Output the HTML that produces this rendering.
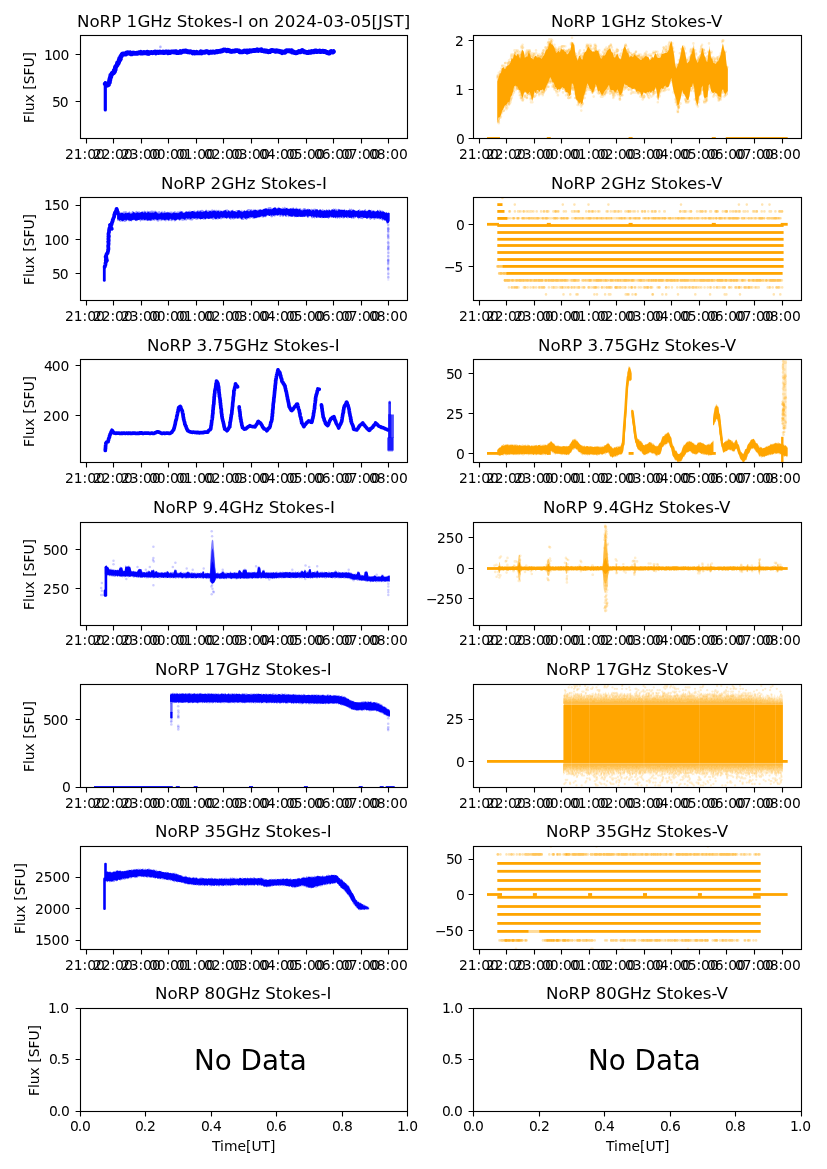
<!DOCTYPE html>
<html lang="en"><head><meta charset="utf-8"><title>NoRP Stokes-I / Stokes-V on 2024-03-05[JST]</title>
<style>
html,body{margin:0;padding:0;background:#fff;}
body{width:827px;height:1169px;overflow:hidden;}
svg{display:block;}
text{font-family:"DejaVu Sans","Liberation Sans",sans-serif;fill:#000;white-space:pre;}
.a{font-size:13.889px;}
.b{font-size:16.667px;}
.c{font-size:27.778px;}
.sp{fill:none;stroke:#000;stroke-width:1.11;stroke-linecap:square;stroke-linejoin:miter;}
.t{stroke:#000;stroke-width:1.11;fill:none;}
</style></head><body>
<svg width="827" height="1169" viewBox="0 0 827 1169">
<rect x="0" y="0" width="827" height="1169" fill="#fff"/>
<g id="p00">
<clipPath id="c00"><rect x="80.5" y="35.5" width="327" height="103"/></clipPath>
<g clip-path="url(#c00)"><path fill="none" stroke="#0000ff" stroke-width="4.8" stroke-linejoin="round" stroke-linecap="round" d="M105.3 83.9l.7 .7 .8 .8 1.6-.7-.2 .1 .4-1.7 .8-.6 .1-.9 .1-1.4 .2 .1 .1-1.1 .5-1.9 .4-.3 0-1.8 .7-.3 .2-.5 .4-.9 .5-.5 .9-.1 1.1-1.6-.3-.8 .9-.7 0-1.2 .2-.8 .1-.8 .5-.5 .5-.8 .7-.8 .3-1.9 .7 .3 .5-1.4 .4-1.4 .5-.3 0-1.6 .8 .5-.1-1.2 .7-1.7 .3 0 .9-1.9 .8-.5 1 0 1.2 .4 .7 0 .9-1.4 1.2-.1 .7 .5 1.3-.4 .6 1 1.1 .1 1.4-.9 .7 .2 1.2 .1 .9 0 1.3-.2 .6 .2 .9-.6 1.5 .3 .7-.7 .9 .7 .7 .1 1.4-.8 1 .5 1.1-.2 1 .6 .5-1 1.5 1.2 .7-.7 1.2-.2 .8 0 1 .3 1-.3 1.3-.5 .9 1 .8-.8 1.3 0 .6 .3 1.3-.5 .8 .3 1.3 .1 1-.4 .7 .6 1.4-.3 .5-.5 1.2 .1 1.2 .9 .6-.8 1.4 .5 1-.5 .5-.1 1.5-.1 .7 .2 1 0 1.4-.4 .3 1.1 1.6 0 .7-.1 1.4-1 .8 .8 1-.6 .7-.3 1-.4 1.2 .2 1.2-.4 1 .8 1 .2 1-.2 .4 .4 1.1-.4 1.3 .5 .9 .8 1.1-.7 .7 .7 1.2-.1 .9-.8 1.1 .8 .8 0 1.5 0 .9-1.2 .9 1.2 .6-.8 1.1 .3 1.1-.1 1.3-.7 .5 .2 1-.1 1.6 1.1 .4-.5 1.2-.3 1 .4 1.1-.4 .8 0 .9 .3 1.4-.3 .6-.5 1.2 .3 1.3-.5 1 .1 .7-.6 1.1 .2 .9-.3 1-.8 1.1 .3 .6-.2 1.3 .8 1.3-.6 1 .7 .6-.3 .9 .7 1.3 .2 1.2-.3 1-.1 .5 .1 1-.6 1.6 0 .5 .1 1.6 .1 .4 1 1.1 .1 1.4 0 1.3-.3 .9-.7 1 .7 .9-.7 1.1 1.1 .5-1 1.3 .6 .8-1 1 .5 1.4-.4 .7-.1 1-.1 .8 0 1.6-.2 .8-.5 1 .7 1-.4 .9 .1 1.2-.5 .5 1 1.5-.1 .7 .5 .8-.5 1 .7 1.1-.3 1.3 .9 .7-.4 1.1 .1 1.1-.9 .7-.4 1.2 .4 .8-.1 1.1 .5 .9 .2 1.2-.6 1 .6 1.2-.1 .8 .6 1.3-.2 .9 1.1 .8-.7 .8 .3 1.3 0 1.1-1.4 .6-.3 1 .2 1.4-.1 .5 .3 .9-.2 1.2-.2 .4 1.4 1-.3 1.1 .8 .5-.1 1.1 .5 .9-.2 1.5-.6 .7-.7 .8 .5 .9-.1 1.5-1.4 1.1 .6 .8 .8 .7 .1 1.3 .4 .7 .2 1.5 .1 .7-.6 .9 .1 1.2 .2 .9-.9 1 .4 .7 .1 1.3-1.1 1.2 .1 .6 .8 1.2-.3 1-.1 .8-.4 .8 .8 1.5-.3 1-.2 .6 .3 1.5-.1 .7 .6 1.2 .4 .7 .4 1.1 .3 .8-.1 .7-1.1 .9-.4 1.4 .6 .8-.5"/><path fill="none" stroke="#0000ff" stroke-width="3.2" stroke-linejoin="round" stroke-linecap="round" d="M105.3 82.5l0 27.5"/><path fill="none" stroke="#0000ff" stroke-width="2.6" stroke-linecap="round" stroke-opacity=".3" stroke-dasharray="0 999" d="M160.4 46.9h.2"/></g>
<path class="t" d="M86.5 138.5v5M113.5 138.5v5M141.5 138.5v5M168.5 138.5v5M196.5 138.5v5M223.5 138.5v5M251.5 138.5v5M278.5 138.5v5M306.5 138.5v5M333.5 138.5v5M361.5 138.5v5M388.5 138.5v5M80.5 54.5h-4.9M80.5 101.5h-4.9"/>
<rect class="sp" x="80.5" y="35.5" width="327" height="103"/>
</g>
<g id="p01">
<clipPath id="c01"><rect x="473.5" y="35.5" width="328" height="103"/></clipPath>
<g clip-path="url(#c01)"><path fill="#ffa500" fill-opacity=".4" d="M497.3 79.4l1.3-1.8 1.3-2.7 1.3-6.1 1.3-.8 1.4-.2 1.3-1.2 1.3 .1 1.3-5.1 1.3-.6 1.3 .1 1.3-1.9 1.3-2.2 1.3-5.5 1.3 .3 1.3 3.1 1.3-2.6 1.3 3.5 1.3-3.5 1.3-4 1.3 3.1 1.3 3.8 1.3-1.8 1.3-.4 1.3-2.6 1.3 1.8 1.3 6 1.3-1 1.3-.3 1.3-1 1.3 .1 1.3-2 1.3 2.1 1.3-.3 1.3-.1 1.3-3.6 1.3 1.4 1.3-4.5 1.3-.9 1.3-4.5 1.3-1.1 1.3-2.9 1.3 .9 1.3 5.3 1.3 1.7 1.3 4.6 1.3-1.8 1.3-2 1.3 1.9 1.3-3.3 1.3 3.1 1.3-1.7 1.3 1.1 1.3 1 1.3-.2 1.3-1.4 1.3 1.5 1.4-7.8 1.3-.4 1.3 1.5 1.3 10.2 1.3 2.3 1.3 3.6 1.3-3.5 1.3-1.1 1.3 2.5 1.3-2.1 1.3-4 1.3 .3 1.3-5.3 1.3-1.9 1.3 4 1.3-.8 1.3 5 1.3-1.4 1.3-4.3 1.3-.6 1.3 4.3 1.3-.6 1.3 4.9 1.3 .8 1.3-.8 1.3-2.7 1.3-.4 1.3-3.7 1.3-.9 1.3-1.6 1.3 4.5 1.3 1.8 1.3 3.2 1.3-1.5 1.3 .7 1.3-1.5 1.3 2.4 1.3 2.9 1.3 0 1.3-4.5 1.3-5.4 1.3-4.2 1.3 4.8 1.3 1.8 1.3 3.1 1.3 1.7 1.3-1.7 1.3 .2 1.3-1.3 1.3 1.3 1.3 1.6 1.3-.8 1.4-.5 1.3 2.1 1.3-.1 1.3 .6 1.3 .1 1.3-1 1.3 .5 1.3 1.9 1.3 .7 1.3-2.3 1.3-.3 1.3 .9 1.3-3.2 1.3 .3 1.3-1.5 1.3 2.7 1.3 .6 1.3-3.3 1.3-3.1 1.3 2.9 1.3-.1 1.3-2 1.3-.6 1.3-4 1.3-2 1.3-2.9 1.3 8.1 1.3 6.1 1.3 11.2 1.3-2.7 1.3 0 1.3-6.4 1.3-6.8 1.3-3.8 1.3 .7 1.3 2.8 1.3 8.5 1.3 4 1.3-.9 1.3-7.1 1.3-3.8 1.3-3.5 1.3-3.5 1.3 9.7 1.3 5.9 1.3-.4 1.3-4 1.3-1.7 1.3-6 1.3 .9 1.3 7.9 1.3 .8 1.4 2.8 1.3-7.6 1.3-6.8 1.3 10.3 1.3 1.2 1.3 4.4 1.3-1.5 1.3 1.4 1.3-2.8 1.3 1.1 1.3-3.9 1.3-3.8 1.3-9.1 1.3 4.8 1.3 3.9 1.3 11.8 1.3 3.6 0 28.4-1.3-1.5-1.3 1.8-1.3-3.9-1.3-1.7-1.3 7.7-1.3 2.8-1.3-2.1-1.3-2.9-1.3-3.6-1.3 2.1-1.3-1.1-1.3-.6-1.3-3.1-1.3-2-1.3 3.3-1.3 10.4-1.4 1.3-1.3-3.1-1.3-8.7-1.3-.2-1.3 4.8-1.3 3.1-1.3 8-1.3-2.7-1.3-2.8-1.3-14.3-1.3 .2-1.3 .5-1.3 5.4-1.3 6.6-1.3 1.5-1.3-2.3-1.3-2.1-1.3-2.7-1.3-2.5-1.3 6.7-1.3 5.4-1.3 7.7-1.3-4.3-1.3-3.7-1.3-10.4-1.3-2.9-1.3-8.7-1.3 .4-1.3 4.2-1.3 2.4-1.3-1-1.3 2.9-1.3-1-1.3 .3-1.3 1.6-1.3 2.7-1.3 3.3-1.3 3.7-1.3-12.1-1.3 1.6-1.3 3.6-1.3-1.1-1.3-.5-1.3 2.5-1.3-.9-1.3 2.2-1.3-2.5-1.3-.3-1.3 .7-1.3 3.6-1.3-2.9-1.3-1.9-1.4 1.1-1.3-1.6-1.3-1.4-1.3-1.5-1.3 .1-1.3-.6-1.3 .1-1.3-1.8-1.3 1.8-1.3-1-1.3-3-1.3 4.1-1.3 5.6-1.3 2.9-1.3 .2-1.3-4.4-1.3 0-1.3-.8-1.3 2.6-1.3-1.1-1.3 .1-1.3-2.3-1.3-1.8-1.3-.1-1.3 1.8-1.3 3.1-1.3 .8-1.3 .6-1.3 .1-1.3-1.8-1.3-.5-1.3-2.9-1.3-4.4-1.3 1.4-1.3 5.1-1.3 1.4-1.3-2.9-1.3-1-1.3-4.8-1.3 .3-1.3 5.9-1.3 4.1-1.3 3.8-1.3 4.2-1.3 1.1-1.3-1.4-1.3 1.6-1.3-4.5-1.3-2.1-1.3-10-1.3-.8-1.3 1.8-1.4 5.5-1.3 1.6-1.3-.2-1.3-3.8-1.3-.4-1.3-2.8-1.3 .6-1.3-1.9-1.3 4.4-1.3-3.2-1.3-.4-1.3 .1-1.3-.1-1.3-2-1.3-5.6-1.3 1.1-1.3-.9-1.3 2.9-1.3 2.5-1.3 .7-1.3 5.7-1.3-.5-1.3 .8-1.3-3.7-1.3 2.2-1.3 .8-1.3 1.2-1.3-2.3-1.3 4.5-1.3 4.8-1.3-2.4-1.3-4.8-1.3 1-1.3 1.1-1.3-2.8-1.3-.7-1.3 3.2-1.3 3.5-1.3-4-1.3-3.2-1.3-2.2-1.3-.5-1.3-2.7-1.3 3.6-1.3 1.8-1.3 2.5-1.3 4.1-1.3 6.7-1.3-2-1.3 2.6-1.3-.5-1.3 1.9-1.4 3.4-1.3 3.6-1.3 5.1-1.3 2.1-1.3 1.2z"/><path fill="#ffa500" d="M497.3 81.5l1.2-3.3 1.2-4.4 1.2-.5 1.2-4.9 1.2-1.6 1.2 2.1 1.2-.3 1.2-2.5 1.2-.7 1.2-1 1.2-1.9 1.2-4.4 1.2 1.2 1.2-5.4 1.2 1.1 1.2 1.2 1.2-2.7 1.2 2.2 1.2 3.1 1.2-6.1 1.2-3 1.2 2 1.2 6.2 1.2-1.4 1.2 .2 1.2-4.1 1.2 .8 1.2 4.4 1.2 .7 1.2 1.1 1.2-2.8 1.2-1.4 1.2 2.1 1.2-.3 1.2 0 1.2 .7 1.2 1.2 1.2-2.6 1.2-1.3 1.2-3.1 1.2-2.6 1.3-.5 1.2-5.1 1.2-1.6 1.2 2 1.2 .5 1.2 1.6 1.2 3.5 1.2 3.1 1.2-.7 1.2-1.6 1.2 1.7 1.2-3.3 1.2 .4 1.2 .2 1.2 1.9 1.2 .3 1.2 2.6 1.2-.8 1.2-2.3 1.2-1.3 1.2-8.5 1.2 1.8 1.2 1.7 1.2 9.8 1.2 2.9 1.2 3 1.2-5 1.2 .4 1.2 3.1 1.2 .1 1.2-5.1 1.2-2.1 1.2-1 1.2-2.9 1.2-1.8 1.2 2.4 1.2 1.3 1.2 1.3 1.2 0 1.2 .2 1.2-1.7 1.2 .8 1.2 .1 1.2 4 1.2 3.4 1.2 .4 1.2-3.1 1.2 .2 1.2-1.1 1.2-2.6 1.2-2.1 1.2-.8 1.2-1.1 1.2 3.8 1.2 .5 1.2 4.7 1.2 .6 1.2-2.2 1.2-2 1.2 3.7 1.2 1.8 1.2 .3 1.2-5.2 1.2-5.4 1.2-2.4 1.2 1.9 1.2 4.2 1.2 .5 1.2 4.6 1.2-1.2 1.2-.1 1.2 1.1 1.2-2.8 1.2 .9 1.2 1 1.2 1.3 1.2 .9 1.2 1.2 1.2 .2 1.2-1.8 1.2 .1 1.2-2.1 1.2 0 1.2 .5 1.2 .6 1.2 3.3 1.2-1.3 1.2-2.2 1.2 1.1 1.2-3.5 1.2-1.5 1.2 4.1 1.2 .8 1.2-.1 1.2-.5 1.2-3.5 1.2-.1 1.2-.3 1.2-.7 1.2 .2 1.2-1.3 1.2-2.4 1.2-6 1.2-2.5 1.2 6.5 1.2 6.3 1.2 10 1.2 5 1.2-2.5 1.2-2.9 1.2-4.5 1.2-5.6 1.2-7.9 1.2 2 1.2 3.6 1.2 5.9 1.2 6.7 1.2-1.3 1.2-1.3 1.2-5.6 1.2-2.1 1.2-5.9 1.2 1.9 1.2 8.5 1.2 3.1 1.2 2.2 1.2-3.6 1.2-2.7 1.2-4.8 1.2-3.8 1.2 5.7 1.2 3.3 1.2 4.2 1.2 .6 1.2-9.9 1.2-3.3 1.2 9.3 1.2 1 1.2 4.1 1.2 .1 1.2 .7 1.2-2.1 1.2-.6 1.2-3.1 1.2-2.6 1.2-6.9 1.2-4.8 1.2 6.7 1.2 2 1.2 13.1 1.2 3.4 0 22-1.2 1.6-1.2 1.7-1.2-1.5-1.2-3.9-1.2 2.2-1.2 6.2-1.2-.7-1.2-.6-1.2-2.4-1.2-.1-1.2-1.7-1.2 1.3-1.2-.7-1.2-1.6-1.2-6.9-1.2 1.4-1.2 12.1-1.2-.2-1.2 1.2-1.2-2-1.2-10.8-1.2 2.5-1.2 7.1-1.2 .8-1.2 9-1.2-1.9-1.2-4.4-1.2-11.1-1.2-4.5-1.2 3.7-1.2 .5-1.2 8.9-1.2 4-1.2-.8-1.2-2.2-1.2-2.8-1.2-.9-1.2-3.4-1.2 6.2-1.2 4.5-1.2 4.1-1.2 .2-1.2-6.1-1.2-3.5-1.2-3.8-1.2-6.1-1.2-7.8-1.2 3.5-1.2 5-1.2 .7-1.2 .2-1.2-1.6-1.2 .9-1.2 2.8-1.2-1.4-1.2 1.4-1.2 3.8-1.2 7.7-1.2-8-1.2-5.9-1.2 2.8-1.2 1.8-1.2-1-1.2 2.8-1.2-2-1.2 1.1-1.2-.6-1.2 1.2-1.2 .5-1.2-1.7-1.2 2.8-1.2 1.1-1.2-3.6-1.2-.7-1.2-.6-1.2 .9-1.2-2.5-1.2-.6-1.2 .5-1.2-.4-1.2-1.1-1.2-.4-1.2-.5-1.2-1.7-1.2 .2-1.2-1.7-1.2 3.7-1.2 5.2-1.2 2.1-1.2 .9-1.2-3.7-1.2-2.5-1.2 1.9-1.2 1.3-1.2-1.8-1.2-.7-1.2 .4-1.2-.9-1.2-4.7-1.2 2.1-1.2 1.9-1.2 1.6-1.2 1.4-1.2 2.9-1.2 .4-1.2-2.2-1.2-2.2-1.2 .8-1.2-3.8-1.2-3.5-1.2 4.3-1.2 3.3-1.2 1-1.2-3.5-1.2-.5-1.2-3.1-1.2-2.4-1.2 4.1-1.2 5.3-1.2 3.1-1.2 7.2-1.2 1.1-1.2-2-1.2 1.8-1.2-3.1-1.2-.7-1.2-4-1.2-7.7-1.2-4.6-1.2-.3-1.2 11.4-1.2 1.1-1.2-3-1.2-.8-1.2-.1-1.2-3.4-1.2-.5-1.2-1.1-1.2 1.4-1.2 1-1.2-.5-1.2 1.4-1.2-2.9-1.2-.4-1.2-4.4-1.2 0-1.2-3.4-1.2-2.2-1.2 3.2-1.2 2.8-1.3 2.6-1.2 3-1.2 2.9-1.2-2.2-1.2 .6-1.2 .1-1.2 2.1-1.2-2.2-1.2 .1-1.2 3.3-1.2-2.3-1.2 6.3-1.2 2.7-1.2-4.8-1.2-3.5-1.2 1.6-1.2 .8-1.2-1.9-1.2-.6-1.2 2-1.2 4.4-1.2-3.5-1.2-4-1.2-.5-1.2-3.2-1.2-.2-1.2-1.1-1.2 1-1.2 5.3-1.2 3.6-1.2 1.7-1.2 5.4-1.2-.8-1.2 2.2-1.2 1-1.2 .8-1.2 3.4-1.2 1.5-1.2 4.4-1.2 1.9-1.2 .7-1.2 3.8z"/><path fill="none" stroke="#ffa500" stroke-width="2.6" stroke-linecap="round" stroke-opacity=".2" stroke-dasharray="0 999" d="M572 37.8h.2"/><path fill="none" stroke="#ffa500" stroke-width="2.6" stroke-linecap="round" stroke-opacity=".2" stroke-dasharray="0 999" d="M722.7 40.6h.2"/><path fill="none" stroke="#ffa500" stroke-width="2.6" stroke-linecap="round" stroke-opacity=".2" stroke-dasharray="0 2.3 0 118.6 0 52.6 0 999" d="M548.8 42h173.6"/><path fill="none" stroke="#ffa500" stroke-width="2.6" stroke-linecap="round" stroke-opacity=".2" stroke-dasharray="0 .2 0 121.2 0 3.1 0 999" d="M547.9 43.4h124.5"/><path fill="none" stroke="#ffa500" stroke-width="2.6" stroke-linecap="round" stroke-opacity=".2" stroke-dasharray="0 31.8 0 16.6 0 15.8 0 2.7 0 1.1 0 4 0 16.1 0 15.1 0 999" d="M522.6 44.8h103.2"/><path fill="none" stroke="#ffa500" stroke-width="2.6" stroke-linecap="round" stroke-opacity=".2" stroke-dasharray="0 1 0 2 0 21.8 0 3.5 0 4.6 0 .2 0 14 0 1.8 0 15.1 0 39.9 0 999" d="M562.3 46.2h104"/><path fill="none" stroke="#ffa500" stroke-width="2.6" stroke-linecap="round" stroke-opacity=".2" stroke-dasharray="0 22.8 0 .1 0 2.2 0 7 0 .5 0 4 0 .6 0 1 0 .8 0 24.9 0 7.7 0 12.3 0 5.5 0 51.9 0 999" d="M522.5 47.6h141.4"/><path fill="none" stroke="#ffa500" stroke-width="2.6" stroke-linecap="round" stroke-opacity=".2" stroke-dasharray="0 73.4 0 36.2 0 26.6 0 9.9 0 2.4 0 999" d="M554.8 49h148.6"/><path fill="none" stroke="#ffa500" stroke-width="2.6" stroke-linecap="round" stroke-opacity=".2" stroke-dasharray="0 1.4 0 13.9 0 13.9 0 11.8 0 13.2 0 .6 0 10.7 0 4.2 0 20.5 0 7.9 0 4.1 0 1.3 0 45.2 0 2.2 0 .9 0 24.4 0 4.5 0 5.8 0 2.9 0 999" d="M514.5 50.4h189.5"/><path fill="none" stroke="#ffa500" stroke-width="2.6" stroke-linecap="round" stroke-opacity=".2" stroke-dasharray="0 .5 0 9.5 0 1.9 0 .1 0 12.8 0 13.3 0 46.8 0 12 0 .3 0 1.2 0 11.6 0 .8 0 7.1 0 10.6 0 9.4 0 18.1 0 16.5 0 .6 0 19.8 0 .8 0 14 0 999" d="M518 51.8h207.8"/><path fill="none" stroke="#ffa500" stroke-width="2.6" stroke-linecap="round" stroke-opacity=".2" stroke-dasharray="0 7.6 0 1.2 0 6.1 0 32.8 0 3.7 0 4.6 0 20.1 0 10.1 0 17.3 0 3.7 0 18.4 0 .6 0 1 0 49 0 7.1 0 .4 0 9.6 0 999" d="M527.5 53.2h193.4"/><path fill="none" stroke="#ffa500" stroke-width="2.6" stroke-linecap="round" stroke-opacity=".2" stroke-dasharray="0 .7 0 6.2 0 5.8 0 4.6 0 3.6 0 .9 0 7.3 0 34.3 0 .2 0 3 0 1.9 0 32.7 0 5.2 0 1.7 0 14.7 0 3.3 0 5.8 0 1.5 0 3.2 0 1.8 0 9.8 0 35.3 0 999" d="M512.7 54.6h183.6"/><path fill="none" stroke="#ffa500" stroke-width="2.6" stroke-linecap="round" stroke-opacity=".2" stroke-dasharray="0 .6 0 19.6 0 1.4 0 5.2 0 3.8 0 41.1 0 19 0 35.5 0 7.3 0 .9 0 5.2 0 56.9 0 999" d="M511.1 56h196.6"/><path fill="none" stroke="#ffa500" stroke-width="2.6" stroke-linecap="round" stroke-opacity=".2" stroke-dasharray="0 .8 0 20.5 0 50.2 0 47.2 0 75.9 0 7.1 0 3.9 0 .6 0 999" d="M511.6 57.4h206.2"/><path fill="none" stroke="#ffa500" stroke-width="2.6" stroke-linecap="round" stroke-opacity=".2" stroke-dasharray="0 176.1 0 .8 0 18.1 0 7 0 2 0 .6 0 1.2 0 1 0 999" d="M510.7 58.8h206.9"/><path fill="none" stroke="#ffa500" stroke-width="2.6" stroke-linecap="round" stroke-opacity=".2" stroke-dasharray="0 178.7 0 999" d="M509 60.2h178.8"/><path fill="none" stroke="#ffa500" stroke-width="2.6" stroke-linecap="round" stroke-opacity=".2" stroke-dasharray="0 999" d="M714.5 61.6h.2"/><path fill="none" stroke="#ffa500" stroke-width="2.6" stroke-linecap="round" stroke-opacity=".2" stroke-dasharray="0 1.5 0 999" d="M505.4 63h1.6"/><path fill="none" stroke="#ffa500" stroke-width="2.6" stroke-linecap="round" stroke-opacity=".2" stroke-dasharray="0 999" d="M678.4 64.4h.2"/><path fill="none" stroke="#ffa500" stroke-width="2.6" stroke-linecap="round" stroke-opacity=".2" stroke-dasharray="0 4.3 0 999" d="M502.5 65.8h4.3"/><path fill="none" stroke="#ffa500" stroke-width="2.6" stroke-linecap="round" stroke-opacity=".2" stroke-dasharray="0 220.9 0 999" d="M506.6 67.2h221"/><path fill="none" stroke="#ffa500" stroke-width="2.6" stroke-linecap="round" stroke-opacity=".2" stroke-dasharray="0 999" d="M501.5 68.6h.2"/><path fill="none" stroke="#ffa500" stroke-width="2.6" stroke-linecap="round" stroke-opacity=".2" stroke-dasharray="0 999" d="M500 74.2h.2"/><path fill="none" stroke="#ffa500" stroke-width="2.6" stroke-linecap="round" stroke-opacity=".2" stroke-dasharray="0 999" d="M498.3 75.6h.2"/><path fill="none" stroke="#ffa500" stroke-width="2.6" stroke-linecap="round" stroke-opacity=".2" stroke-dasharray="0 .8 0 999" d="M497.4 77h.9"/><path fill="none" stroke="#ffa500" stroke-width="2.6" stroke-linecap="round" stroke-opacity=".2" stroke-dasharray="0 119.2 0 .1 0 .1 0 999" d="M550.9 82.6h119.5"/><path fill="none" stroke="#ffa500" stroke-width="2.6" stroke-linecap="round" stroke-opacity=".2" stroke-dasharray="0 999" d="M552.8 85.4h.2"/><path fill="none" stroke="#ffa500" stroke-width="2.6" stroke-linecap="round" stroke-opacity=".2" stroke-dasharray="0 2 0 5.3 0 34.1 0 .8 0 36.2 0 41.3 0 3.4 0 999" d="M546.4 86.8h123.1"/><path fill="none" stroke="#ffa500" stroke-width="2.6" stroke-linecap="round" stroke-opacity=".2" stroke-dasharray="0 1.3 0 36.4 0 18.1 0 .1 0 15.1 0 .3 0 37.4 0 67.7 0 999" d="M516.6 88.2h176.5"/><path fill="none" stroke="#ffa500" stroke-width="2.6" stroke-linecap="round" stroke-opacity=".2" stroke-dasharray="0 27.4 0 .7 0 21 0 2.3 0 10.4 0 16.3 0 4.6 0 3.3 0 33.5 0 1 0 35.3 0 1.2 0 5.6 0 999" d="M545.9 89.6h162.7"/><path fill="none" stroke="#ffa500" stroke-width="2.6" stroke-linecap="round" stroke-opacity=".2" stroke-dasharray="0 42.1 0 .9 0 .4 0 28.7 0 7.9 0 16 0 44 0 10.3 0 26.5 0 2.9 0 999" d="M514.1 91h179.8"/><path fill="none" stroke="#ffa500" stroke-width="2.6" stroke-linecap="round" stroke-opacity=".2" stroke-dasharray="0 .4 0 23.1 0 69.6 0 .8 0 8.6 0 15.7 0 .5 0 6.2 0 8 0 8.1 0 1.2 0 4.4 0 13.3 0 8.8 0 18.5 0 22.4 0 999" d="M513.6 92.4h209.7"/><path fill="none" stroke="#ffa500" stroke-width="2.6" stroke-linecap="round" stroke-opacity=".2" stroke-dasharray="0 9.6 0 1.1 0 1.9 0 .7 0 67.4 0 2.8 0 4.5 0 .3 0 36.3 0 47.1 0 999" d="M529.4 93.8h171.8"/><path fill="none" stroke="#ffa500" stroke-width="2.6" stroke-linecap="round" stroke-opacity=".2" stroke-dasharray="0 .1 0 15.1 0 6.9 0 15 0 .2 0 8 0 2.2 0 45 0 1 0 .9 0 3.3 0 4.1 0 19.1 0 6.2 0 5.4 0 72.2 0 999" d="M520.7 95.2h204.8"/><path fill="none" stroke="#ffa500" stroke-width="2.6" stroke-linecap="round" stroke-opacity=".2" stroke-dasharray="0 .9 0 1.5 0 .9 0 2.3 0 7.4 0 59.2 0 7.2 0 .7 0 1.1 0 10.9 0 26.7 0 .8 0 .8 0 2.1 0 73.8 0 3.3 0 .2 0 3 0 999" d="M521.5 96.6h202.9"/><path fill="none" stroke="#ffa500" stroke-width="2.6" stroke-linecap="round" stroke-opacity=".2" stroke-dasharray="0 .6 0 9.6 0 5.1 0 41.6 0 2 0 .1 0 5.2 0 37.8 0 105 0 999" d="M511.3 98h207.1"/><path fill="none" stroke="#ffa500" stroke-width="2.6" stroke-linecap="round" stroke-opacity=".2" stroke-dasharray="0 12.3 0 7.4 0 1.2 0 88.3 0 22.6 0 32.6 0 10 0 .8 0 8.7 0 4.3 0 19.6 0 999" d="M510.9 99.4h207.9"/><path fill="none" stroke="#ffa500" stroke-width="2.6" stroke-linecap="round" stroke-opacity=".2" stroke-dasharray="0 18.1 0 3 0 12.5 0 999" d="M685.9 100.8h33.6"/><path fill="none" stroke="#ffa500" stroke-width="2.6" stroke-linecap="round" stroke-opacity=".2" stroke-dasharray="0 1.4 0 153.9 0 .1 0 1.9 0 10.6 0 5.4 0 999" d="M531 102.2h173.4"/><path fill="none" stroke="#ffa500" stroke-width="2.6" stroke-linecap="round" stroke-opacity=".2" stroke-dasharray="0 73.7 0 98 0 .2 0 15.7 0 .2 0 999" d="M508.7 103.6h187.9"/><path fill="none" stroke="#ffa500" stroke-width="2.6" stroke-linecap="round" stroke-opacity=".2" stroke-dasharray="0 999" d="M696.9 105h.2"/><path fill="none" stroke="#ffa500" stroke-width="2.6" stroke-linecap="round" stroke-opacity=".2" stroke-dasharray="0 174.2 0 18.9 0 999" d="M504.8 106.4h193.2"/><path fill="none" stroke="#ffa500" stroke-width="2.6" stroke-linecap="round" stroke-opacity=".2" stroke-dasharray="0 171.6 0 999" d="M507.4 107.8h171.7"/><path fill="none" stroke="#ffa500" stroke-width="2.6" stroke-linecap="round" stroke-opacity=".2" stroke-dasharray="0 1.1 0 999" d="M502.7 110.6h1.2"/><path fill="none" stroke="#ffa500" stroke-width="2.6" stroke-linecap="round" stroke-opacity=".2" stroke-dasharray="0 999" d="M678 112h.2"/><path fill="none" stroke="#ffa500" stroke-width="2.6" stroke-linecap="round" stroke-opacity=".2" stroke-dasharray="0 999" d="M500.8 116.2h.2"/><path fill="none" stroke="#ffa500" stroke-width="2.6" stroke-linecap="round" stroke-opacity=".2" stroke-dasharray="0 999" d="M498.2 121.8h.2"/><path fill="none" stroke="#ffa500" stroke-width="2.6" stroke-linecap="round" stroke-opacity=".2" stroke-dasharray="0 999" d="M498.7 123.2h.2"/><path fill="none" stroke="#ffa500" stroke-width="2.6" stroke-linecap="round" stroke-opacity=".2" stroke-dasharray="0 1.9 0 999" d="M549.4 39.2h1.9"/><path fill="none" stroke="#ffa500" stroke-width="2.6" stroke-linecap="round" stroke-opacity=".2" stroke-dasharray="0 170.6 0 .5 0 999" d="M552.3 40.6h171.2"/><path fill="none" stroke="#ffa500" stroke-width="2.6" stroke-linecap="round" stroke-opacity=".2" stroke-dasharray="0 .6 0 999" d="M548.4 42h.7"/><path fill="none" stroke="#ffa500" stroke-width="2.6" stroke-linecap="round" stroke-opacity=".2" stroke-dasharray="0 122.5 0 15.6 0 999" d="M570.9 43.4h138.2"/><path fill="none" stroke="#ffa500" stroke-width="2.6" stroke-linecap="round" stroke-opacity=".2" stroke-dasharray="0 7.8 0 15.5 0 14.6 0 43.1 0 33.4 0 999" d="M587.7 44.8h114.5"/><path fill="none" stroke="#ffa500" stroke-width="2.6" stroke-linecap="round" stroke-opacity=".2" stroke-dasharray="0 .3 0 39.9 0 .9 0 1.1 0 23 0 4.1 0 5.2 0 13.3 0 15.6 0 .3 0 44 0 14 0 17.9 0 999" d="M521.6 46.2h179.7"/><path fill="none" stroke="#ffa500" stroke-width="2.6" stroke-linecap="round" stroke-opacity=".2" stroke-dasharray="0 1.7 0 22.8 0 43.9 0 73.8 0 2.7 0 2 0 4.8 0 11.3 0 16.9 0 999" d="M521.4 47.6h180"/><path fill="none" stroke="#ffa500" stroke-width="2.6" stroke-linecap="round" stroke-opacity=".2" stroke-dasharray="0 1.5 0 .1 0 2 0 10.8 0 22.9 0 1.9 0 .4 0 10.3 0 12 0 49.4 0 6.6 0 8.2 0 3.2 0 .4 0 999" d="M555.1 49h129.8"/><path fill="none" stroke="#ffa500" stroke-width="2.6" stroke-linecap="round" stroke-opacity=".2" stroke-dasharray="0 9.5 0 1.3 0 7.6 0 7.5 0 12.4 0 .4 0 10.6 0 32.4 0 5.9 0 12.5 0 4.6 0 4.6 0 1.1 0 38.2 0 37.7 0 999" d="M517.6 50.4h186.4"/><path fill="none" stroke="#ffa500" stroke-width="2.6" stroke-linecap="round" stroke-opacity=".2" stroke-dasharray="0 3.8 0 6 0 1.4 0 1.7 0 37.4 0 12.4 0 37.9 0 11.8 0 7 0 17.5 0 1.6 0 2.4 0 8 0 34.6 0 8 0 999" d="M516.6 51.8h191.6"/><path fill="none" stroke="#ffa500" stroke-width="2.6" stroke-linecap="round" stroke-opacity=".2" stroke-dasharray="0 10.3 0 5.8 0 1.2 0 9.7 0 41.1 0 31.3 0 6.2 0 7.6 0 .8 0 15.4 0 8.7 0 .6 0 25.5 0 5.9 0 10.3 0 9.4 0 999" d="M515.6 53.2h189.9"/><path fill="none" stroke="#ffa500" stroke-width="2.6" stroke-linecap="round" stroke-opacity=".2" stroke-dasharray="0 8.4 0 10.9 0 3.2 0 5 0 .5 0 61.3 0 31.6 0 8.3 0 5.8 0 12 0 .9 0 999" d="M511.4 54.6h148"/><path fill="none" stroke="#ffa500" stroke-width="2.6" stroke-linecap="round" stroke-opacity=".2" stroke-dasharray="0 .7 0 .2 0 7 0 37 0 3.9 0 1 0 38.3 0 17.2 0 1 0 3.8 0 .7 0 4.7 0 .6 0 .1 0 2.8 0 68.4 0 .2 0 999" d="M532.3 56h187.7"/><path fill="none" stroke="#ffa500" stroke-width="2.6" stroke-linecap="round" stroke-opacity=".2" stroke-dasharray="0 9.6 0 60.7 0 19.7 0 19.8 0 1.8 0 .2 0 2.1 0 44.3 0 8.8 0 19.8 0 999" d="M531.3 57.4h186.9"/><path fill="none" stroke="#ffa500" stroke-width="2.6" stroke-linecap="round" stroke-opacity=".2" stroke-dasharray="0 101.8 0 56.1 0 17 0 2.6 0 999" d="M540.2 58.8h177.6"/><path fill="none" stroke="#ffa500" stroke-width="2.6" stroke-linecap="round" stroke-opacity=".2" stroke-dasharray="0 8.1 0 10.8 0 16.5 0 999" d="M678.8 60.2h35.4"/><path fill="none" stroke="#ffa500" stroke-width="2.6" stroke-linecap="round" stroke-opacity=".2" stroke-dasharray="0 1.1 0 18.5 0 .4 0 999" d="M687 61.6h20.1"/><path fill="none" stroke="#ffa500" stroke-width="2.6" stroke-linecap="round" stroke-opacity=".2" stroke-dasharray="0 3.7 0 999" d="M505.1 63h3.8"/><path fill="none" stroke="#ffa500" stroke-width="2.6" stroke-linecap="round" stroke-opacity=".2" stroke-dasharray="0 .3 0 999" d="M676.4 64.4h.3"/><path fill="none" stroke="#ffa500" stroke-width="2.6" stroke-linecap="round" stroke-opacity=".2" stroke-dasharray="0 1.9 0 .5 0 .6 0 999" d="M502.1 65.8h3"/><path fill="none" stroke="#ffa500" stroke-width="2.6" stroke-linecap="round" stroke-opacity=".2" stroke-dasharray="0 999" d="M500.4 71.4h.2"/><path fill="none" stroke="#ffa500" stroke-width="2.6" stroke-linecap="round" stroke-opacity=".2" stroke-dasharray="0 999" d="M498.8 72.8h.2"/><path fill="none" stroke="#ffa500" stroke-width="2.6" stroke-linecap="round" stroke-opacity=".2" stroke-dasharray="0 999" d="M500.1 74.2h.2"/><path fill="none" stroke="#ffa500" stroke-width="2.6" stroke-linecap="round" stroke-opacity=".2" stroke-dasharray="0 999" d="M497.6 75.6h.2"/><path fill="none" stroke="#ffa500" stroke-width="2.6" stroke-linecap="round" stroke-opacity=".2" stroke-dasharray="0 999" d="M498 77h.2"/><path fill="none" stroke="#ffa500" stroke-width="2.6" stroke-linecap="round" stroke-opacity=".2" stroke-dasharray="0 999" d="M497.7 78.4h.2"/><path fill="none" stroke="#ffa500" stroke-width="2.6" stroke-linecap="round" stroke-opacity=".2" stroke-dasharray="0 2.1 0 120.1 0 999" d="M549.1 81.2h122.2"/><path fill="none" stroke="#ffa500" stroke-width="2.6" stroke-linecap="round" stroke-opacity=".2" stroke-dasharray="0 121.5 0 999" d="M549.4 82.6h121.5"/><path fill="none" stroke="#ffa500" stroke-width="2.6" stroke-linecap="round" stroke-opacity=".2" stroke-dasharray="0 30.6 0 4.3 0 34.4 0 7.8 0 30.2 0 68.6 0 999" d="M517.6 86.8h176"/><path fill="none" stroke="#ffa500" stroke-width="2.6" stroke-linecap="round" stroke-opacity=".2" stroke-dasharray="0 28.1 0 .4 0 27.4 0 52.2 0 66.9 0 999" d="M517.7 88.2h175.1"/><path fill="none" stroke="#ffa500" stroke-width="2.6" stroke-linecap="round" stroke-opacity=".2" stroke-dasharray="0 38.6 0 1.3 0 17 0 13.3 0 2.3 0 .8 0 .8 0 38.6 0 2.2 0 32.9 0 5 0 22.6 0 999" d="M516 89.6h175.5"/><path fill="none" stroke="#ffa500" stroke-width="2.6" stroke-linecap="round" stroke-opacity=".2" stroke-dasharray="0 65.4 0 .4 0 5 0 21.6 0 24.6 0 .8 0 38.7 0 999" d="M544.8 91h156.6"/><path fill="none" stroke="#ffa500" stroke-width="2.6" stroke-linecap="round" stroke-opacity=".2" stroke-dasharray="0 1.4 0 15.6 0 2.6 0 .9 0 2.9 0 .5 0 .4 0 12.9 0 .8 0 5.6 0 28.9 0 5.8 0 .2 0 7.6 0 5.1 0 .5 0 4.3 0 18.3 0 1.5 0 .7 0 1.6 0 1.8 0 14 0 1.3 0 29.2 0 27.6 0 11.2 0 999" d="M519.4 92.4h203.2"/><path fill="none" stroke="#ffa500" stroke-width="2.6" stroke-linecap="round" stroke-opacity=".2" stroke-dasharray="0 17.2 0 41 0 4 0 10.5 0 .4 0 13.1 0 6.5 0 25.8 0 7.5 0 14.4 0 61 0 999" d="M512.5 93.8h201.5"/><path fill="none" stroke="#ffa500" stroke-width="2.6" stroke-linecap="round" stroke-opacity=".2" stroke-dasharray="0 7.2 0 1 0 4.5 0 .3 0 4.5 0 9.1 0 65.5 0 8.8 0 8.6 0 22 0 5.9 0 9.5 0 23.3 0 31.4 0 2.4 0 9.1 0 999" d="M512.5 95.2h213.2"/><path fill="none" stroke="#ffa500" stroke-width="2.6" stroke-linecap="round" stroke-opacity=".2" stroke-dasharray="0 13.8 0 9.3 0 36.2 0 71.6 0 .5 0 .5 0 1.4 0 3.6 0 3.2 0 5.6 0 2.4 0 53.9 0 999" d="M511.3 96.6h202.1"/><path fill="none" stroke="#ffa500" stroke-width="2.6" stroke-linecap="round" stroke-opacity=".2" stroke-dasharray="0 6.3 0 3.6 0 37.9 0 .3 0 .1 0 6.4 0 8.7 0 .6 0 35 0 23.9 0 5.4 0 999" d="M520.8 98h128.2"/><path fill="none" stroke="#ffa500" stroke-width="2.6" stroke-linecap="round" stroke-opacity=".2" stroke-dasharray="0 11 0 .7 0 97.2 0 65.8 0 21.5 0 12.5 0 1.3 0 999" d="M510.8 99.4h210.1"/><path fill="none" stroke="#ffa500" stroke-width="2.6" stroke-linecap="round" stroke-opacity=".2" stroke-dasharray="0 12.3 0 163.3 0 .6 0 2.5 0 29.6 0 999" d="M510.4 100.8h208.4"/><path fill="none" stroke="#ffa500" stroke-width="2.6" stroke-linecap="round" stroke-opacity=".2" stroke-dasharray="0 .8 0 147.3 0 17.9 0 10.3 0 1.7 0 16.5 0 1.5 0 999" d="M509.7 102.2h196.1"/><path fill="none" stroke="#ffa500" stroke-width="2.6" stroke-linecap="round" stroke-opacity=".2" stroke-dasharray="0 73 0 75.2 0 999" d="M509.9 103.6h148.2"/><path fill="none" stroke="#ffa500" stroke-width="2.6" stroke-linecap="round" stroke-opacity=".2" stroke-dasharray="0 1.8 0 68.7 0 1 0 3.1 0 .3 0 94.9 0 999" d="M507.1 105h169.9"/><path fill="none" stroke="#ffa500" stroke-width="2.6" stroke-linecap="round" stroke-opacity=".2" stroke-dasharray="0 74.5 0 97.9 0 999" d="M506.6 106.4h172.5"/><path fill="none" stroke="#ffa500" stroke-width="2.6" stroke-linecap="round" stroke-opacity=".2" stroke-dasharray="0 173 0 999" d="M505.6 107.8h173.1"/><path fill="none" stroke="#ffa500" stroke-width="2.6" stroke-linecap="round" stroke-opacity=".2" stroke-dasharray="0 999" d="M506.4 109.2h.2"/><path fill="none" stroke="#ffa500" stroke-width="2.6" stroke-linecap="round" stroke-opacity=".2" stroke-dasharray="0 77.4 0 96.3 0 999" d="M503.9 110.6h173.8"/><path fill="none" stroke="#ffa500" stroke-width="2.6" stroke-linecap="round" stroke-opacity=".2" stroke-dasharray="0 175.6 0 999" d="M502.2 112h175.7"/><path fill="none" stroke="#ffa500" stroke-width="2.6" stroke-linecap="round" stroke-opacity=".2" stroke-dasharray="0 999" d="M501.4 113.4h.2"/><path fill="none" stroke="#ffa500" stroke-width="2.6" stroke-linecap="round" stroke-opacity=".2" stroke-dasharray="0 .6 0 999" d="M500 117.6h.7"/><path fill="none" stroke="#ffa500" stroke-width="2.6" stroke-linecap="round" stroke-opacity=".2" stroke-dasharray="0 .5 0 999" d="M498.4 120.4h.6"/><path fill="none" stroke="#ffa500" stroke-width="2.6" stroke-linecap="round" stroke-opacity=".2" stroke-dasharray="0 .4 0 999" d="M498.4 121.8h.5"/><rect x="487" y="137.1" width="13" height="1.9" fill="#ffa500"/><rect x="546.8" y="137.1" width="4" height="1.9" fill="#ffa500"/><rect x="628.6" y="137.1" width="4" height="1.9" fill="#ffa500"/><rect x="711.8" y="137.1" width="4" height="1.9" fill="#ffa500"/><rect x="725.8" y="137.1" width="61.9" height="1.9" fill="#ffa500"/></g>
<path class="t" d="M479.5 138.5v5M506.5 138.5v5M534.5 138.5v5M561.5 138.5v5M589.5 138.5v5M616.5 138.5v5M644.5 138.5v5M671.5 138.5v5M699.5 138.5v5M726.5 138.5v5M754.5 138.5v5M782.5 138.5v5M473.5 40.5h-4.9M473.5 89.5h-4.9M473.5 138.5h-4.9"/>
<rect class="sp" x="473.5" y="35.5" width="328" height="103"/>
</g>
<g id="p10">
<clipPath id="c10"><rect x="80.5" y="197.5" width="327" height="103"/></clipPath>
<g clip-path="url(#c10)"><path fill="none" stroke="#0000ff" stroke-width="2.8" stroke-linejoin="round" stroke-linecap="round" d="M104.3 280.4l0-13.6"/><path fill="none" stroke="#0000ff" stroke-width="3.8" stroke-linejoin="round" stroke-linecap="round" d="M104.7 266.8l.3-.9 .4-1.1 .1-.9 0-1 .5-.8-.2-1.4 0-.4 .4-1.7 .2-.1-.1-1.2-.2-1.6 .3-.9 .2-.6 .3-.6 .6-.4 .3-1.2 .3-1 0-1.4 .3-.2 0-1.3-.2-1.5 0-1.1 .3-.7 0-1 .1-.6-.4-1.6 .5-.7 0-1.1-.4-.8 .4-1.3-.3-1 .5-.5-.4-1.5 0-1.2 .4-.9 .1-.7 0-.8 .1-1 .2-1.3 .3-1.1 .6-.5 .1-.8 .5-1.4 .8-.6 .1-.6 .4-1.6 .5-.9 .1-1.1 .2-.4 .3-.9 .4-1.1 .5-.9 .1-.6 .1-1.7 .7-.3-.1-1.6 .5-.3 .2-.8 .7-1.2 .2-1.4 .2 0 .3 .9 .2 1.2 .4 .6 .1 1.3"/><path fill="none" stroke="#0000ff" stroke-width="3.6" stroke-linejoin="round" stroke-linecap="round" d="M105.5 256.9l1.6 3.5"/><path fill="none" stroke="#0000ff" stroke-width="3.6" stroke-linejoin="round" stroke-linecap="round" d="M109.9 224.9l2 4"/><path fill="#0000ff" fill-opacity=".4" d="M117.1 210.9l1 1 1-1 1 1.1 1 .9 1-.3 1-1.1 1 0 1-.3 1 0 1 .5 1 1.2 1-1.9 1 1 1 1.1 1-2.2 1 0 1 1.1 1 .1 1-1.3 1 .5 1 .4 1-.6 1 .8 1 .6 1-1.4 1 .8 1-1.4 1 .6 1 1.1 1-1.8 1 1 1-.5 1 .4 1-.7 1 .2 .9-.3 1 .8 1-.7 1 .4 1 .7 1 0 1-.7 1 .4 1 1 1-1.8 1 1.9 1-1.3 1-.4 1 2.2 1-1.1 1-.4 1 1.2 1-1.4 1 .6 1-.6 1 1.5 1-1.5 1-.1 1 .5 1 .4 1-1 1 .9 1-1.4 1 .6 1 0 1 .3 1 .8 1-.4 1-.5 1 .5 1-1.2 1 .9 1-1.7 1 2 1 0 1-.9 1-.5 1-.1 1 1.4 1-1 1-1.1 1 1.4 1-1.1 1 .1 1-.4 1 .3 1 1.1 1 .4 1-2.2 1 1 1 .5 1-1.1 1 1.7 1-1.4 .9-.5 1 .1 1 .6 1-.8 1 1 1-.9 1 1.5 1-1.6 1 1.3 1-.2 1 .6 1-.7 1 .1 1-.5 1-.4 1-.2 1 .1 1 1.3 1 .4 1-1.3 1 1.3 1-1.9 1 1.8 1-.1 1-.4 1-.5 1 0 1 1 1-1.4 1 1.9 1-2.2 1 2 1-1.2 1-.1 1 1.3 1-1.7 1-.6 1-.1 1 .3 1 .2 1-.4 1 1.5 1-1.9 1 1 1-.2 1 .6 1-.5 1-.1 1-.6 1 .6 1 .4 1-.3 1 .2 1-1.4 1 .4 1 .4 1-1.9 1-.1 1-.2 1 .1 .9 1.2 1 .7 1-.1 1-1.8 1 .5 1 .6 1-.6 1-.8 1 .9 1 .9 1 0 1-1.5 1 .8 1-1.4 1 1.2 1 .9 1-1.2 1 1.3 1-.8 1 .4 1-.6 1 .1 1-.6 1 2.1 1-1.6 1-.3 1 1.3 1-.1 1 .1 1-.6 1 1.7 1-1.1 1-.8 1 .2 1 .4 1 1.5 1-1.4 1 .2 1 .6 1 .1 1-.9 1 1.8 1-1.9 1 .3 1-.1 1 1 1-.1 1 .9 1-.1 1-1.1 1 .6 1-1.2 1 1.2 1-.1 1 .1 1-1 1 1.4 1-1.2 1 1.2 .9-.1 1-1.3 1 .3 1-.9 1 .6 1-.4 1 .6 1 .5 1-1.1 1 1.7 1 .2 1-1.3 1 1.3 1-.9 1-.7 1 1.6 1-.7 1 .6 1-.5 1-1.5 1 .9 1-.7 1 1.1 1 .8 1-.7 1 .8 1 .1 1-.2 1-.4 1-.9 1 1.4 1-.6 1 .3 1 0 1-.8 1-.4 1 2.1 1-.9 1 .9 1-1.9 1 1.7 1-1.5 1 1.1 1-.2 1 .5 1 .1 1 0 1-1.3 1 1.1 1-1.2 1 .8 1 .4 1-.1 1 1.2 1 .2 1 .4 1-.7 1 1.6 1-1.2 .9 1.6 0 7.8-.9 .5-1 1.8-1-.1-1-2.8-1-.1-1-.7-1 1-1-1.2-1-.6-1 .3-1-.4-1-.9-1 .9-1-.5-1 1.2-1-.4-1-1.1-1 .2-1 1.3-1-.5-1-.8-1-1-1 0-1-.2-1 0-1 .7-1 1.2-1-.3-1-.1-1-.8-1 1.4-1-1.2-1-1.2-1 .8-1 .4-1 .8-1-.8-1 .8-1-1.2-1 .2-1-.2-1 .9-1-1.6-1-.2-1 1-1 .6-1 0-1-1.4-1 .8-1 .9-1-1.6-1 1.7-1-1.1-1 .8-1-1.6-1-.1-1-.1-1 .5-1 .4-.9-.7-1 2-1-.5-1-1.8-1 .8-1 .6-1-.2-1 0-1 .6-1-1-1 .1-1 .1-1 .1-1 .4-1-1.1-1 1.6-1-1.1-1 .5-1 .3-1-1.7-1-.2-1 1-1 .3-1-.9-1 .1-1-.2-1 .2-1 .1-1-.4-1 0-1 0-1 .4-1-1-1 1.3-1-.9-1 .8-1-.6-1 .1-1-.9-1 .6-1-.8-1 1.8-1-1.5-1 .9-1-.1-1-1.3-1 1-1 .6-1-1.4-1 .9-1 .4-1-2.1-1 .6-1 .3-1-.4-1 1.8-1-2.1-1 1.8-1 .6-.9-.6-1-1-1-.4-1 .2-1 .1-1 1.6-1-.8-1 .8-1 .2-1-.4-1-.4-1 .7-1-.2-1 .3-1 .2-1 .5-1-.4-1 .7-1 0-1-.6-1-.2-1 1.4-1-1.2-1 .4-1 1.5-1 0-1-1.5-1 1.4-1 .2-1 0-1-.8-1-.6-1-.3-1 .6-1-.1-1-.3-1 .3-1 .5-1 .1-1-.8-1 1.3-1-.7-1-.8-1-.6-1 1.2-1-1-1 .5-1-.1-1 .1-1 .5-1 .3-1-.6-1 .3-1 .7-1-.8-1 .9-1-.9-1 .6-1 .5-1-1.1-.9-.4-1-.6-1 .8-1 0-1-.3-1 .7-1-.3-1 .8-1 .1-1-1.5-1 1.5-1-.7-1 0-1 .4-1 .2-1 .2-1-.8-1-.5-1 1.7-1 .3-1-.2-1-.2-1-.3-1-.4-1 .5-1 .9-1-1.2-1 1.4-1-.8-1 .9-1-1.7-1 1.6-1-.5-1-1-1 0-1 1.2-1 .6-1-.1-1-1.7-1 1.9-1-.7-1-.2-1 .3-1 .3-1-1.8-1 2.3-1-.9-1-1.4-1 .8-1-.2-1 1.5-1-1.7-1 1.8-1 0-1 0-1-1.6-1 .4-1 .5-1-.9-.9 1-1-.3-1 .5-1-.8-1 .2-1 .7-1-.8-1 .1-1-.7-1 1.1-1-.8-1 .7-1 .8-1-2.3-1 1.2-1-.1-1 1-1-1.8-1 .3-1 .4-1 .3-1 1.3-1-2-1 2-1-2.1-1 .9-1 .7-1 .4-1 .2-1-1-1 .5-1-.1-1 .6-1-1.2-1-.7-1 1.1z"/><path fill="#0000ff" d="M117.1 211.4l1 .4 1 .6 1 1 1-.8 1 .4 1 .1 1 .9 1-1.2 1 .4 1-.2 1 .1 1-.8 1 1.4 1-.1 1-.2 1-1.4 1 .2 1 1.1 1-.4 1-.6 1 .2 1 .5 1-.5 1-.3 1-.8 1 1.1 1 .3 1-1.5 1 1.8 1-.4 1-1.3 1 1 1 .2 1 .2 1-.4 .9 .2 1 .2 1-1.1 1 .1 1 .9 1 .8 1 0 1-.1 1-.9 1-.2 1 1.1 1-.8 1 .5 1-.6 1 .1 1-.2 1 .2 1 .5 1 .1 1 .2 1-.7 1-.5 1 .9 1-.2 1 0 1 .4 1-.5 1-.9 1-.1 1-.5 1 1.6 1 0 1-.3 1-1.3 1 .5 1 .2 1-.6 1 .9 1-.7 1-.5 1-.2 1 .8 1 .1 1 .6 1-1.5 1 .6 1 .3 1-.6 1 0 1 1.1 1-.9 1 .1 1-.3 1-1 1 1.4 1 .4 1-.6 1-.9 1 .8 .9 .1 1-.7 1 .1 1-.1 1 .5 1 .4 1-1.1 1 .5 1 .9 1-1.4 1 .8 1 .3 1-1 1 0 1-.6 1 1.8 1-.4 1-1.3 1 1.6 1-.3 1-1.4 1 .7 1 .9 1-.6 1 1 1-.1 1-1.6 1-.1 1 .2 1 1 1 .2 1 .5 1-1.4 1 0 1 .5 1-1 1 .6 1 .7 1-.5 1-1.2 1 1.5 1-.9 1-.2 1-.3 1-.1 1 .6 1 .4 1-.9 1-.1 1-.4 1 .5 1-.5 1-.6 1 0 1-.5 1 .2 1 1.1 1-1.2 1 1.1 1-.7 .9 .6 1-1.1 1-.5 1-.2 1 .2 1 1.2 1-.7 1-.3 1 .1 1 .3 1 .3 1 .2 1-.4 1 .2 1-.1 1-.8 1 1.3 1-.1 1-.1 1-.6 1 .6 1-.5 1 .2 1 .3 1-.1 1-.1 1 .2 1 .6 1-1 1 1.8 1 0 1 .1 1-.8 1-.1 1 .2 1-.1 1-.4 1 .6 1-.7 1 1.1 1 .5 1-1.4 1 .8 1 .6 1-1.5 1 .3 1 0 1 1.2 1-1.5 1 .6 1 1 1-.1 1 .1 1-.9 1 1 1-1.2 1 .7 1 .2 1-1.2 .9 1.7 1-1.4 1-.3 1 .6 1-.7 1 1.5 1-.5 1 .8 1-1.8 1 .2 1 .2 1 .3 1-.2 1 .3 1 0 1 .6 1-.6 1 .7 1-.8 1 .3 1 0 1 .6 1-.9 1-.4 1 1 1 .5 1 0 1-.4 1-.9 1 1.6 1-.7 1 .3 1-.5 1 .5 1-.8 1 .7 1 .3 1-.1 1-1.3 1 .3 1 .1 1 1.5 1-.7 1-.3 1 .8 1 .3 1-.9 1-.6 1 1 1 .5 1-1 1 1.3 1-.7 1 0 1 .9 1 .8 1-.5 1 .6 1-.4 .9 .1 0 7.9-.9 2-1 .5-1-.7-1-2.3-1 .1-1-1.2-1 .5-1-1.6-1 .9-1-.4-1-.5-1 .6-1-.9-1 .1-1 .4-1-.4-1 .1-1 .6-1-.3-1-.6-1-.3-1 1.2-1 .1-1-.7-1-.3-1 .4-1-.8-1-.1-1 0-1 .8-1-.3-1 .2-1-1.4-1 .7-1-.7-1 1.3-1-.9-1 1.1-1-.6-1 .7-1-.8-1-.8-1 1.5-1-1-1 .4-1 .4-1-1.5-1 1.6-1-1.1-1 .5-1-.1-1 .5-1-1-1 1.3-1-.7-1 .8-1-.9-1 .3-1-1.3-.9 1.3-1 0-1 .2-1 0-1 .2-1-.3-1 .5-1-.2-1-.9-1 1.1-1-.5-1-.1-1-1-1 1.4-1-.9-1-.6-1 1.3-1-1.6-1 1.2-1-1.3-1 0-1 .1-1 1.5-1-1.9-1 .1-1 .9-1-.1-1 .1-1 .1-1 .3-1-.6-1-.1-1 .5-1-.2-1 0-1 .1-1-1.3-1 .9-1 .3-1-.3-1-.1-1-.3-1-1.1-1-.1-1 1.6-1-1.3-1 .5-1 .1-1-1.2-1 1.1-1-1.2-1 .6-1 .7-1-.9-1 .5-1-.3-1 1.2-1-1.5-1 1.5-.9-1.4-1 1.1-1-.1-1-.8-1 .3-1 1.1-1-.1-1 .5-1-.3-1-.8-1 .8-1 .4-1 .3-1-.3-1 .8-1 .1-1 .4-1 .1-1-1.3-1 .3-1-.1-1-.1-1 .8-1 .6-1-.5-1 1.1-1-.5-1-1-1 .3-1 1.5-1-.9-1-1-1 .2-1 1-1-.9-1 0-1 1-1-1.3-1 1-1-.4-1-.5-1 1.5-1-1.5-1-.1-1 1.1-1-.3-1-.5-1-.6-1 .9-1-.5-1-.3-1 1.1-1 .7-1-1.5-1 1.2-1 .2-1-.3-1-1.3-1 .4-1 1-.9-.9-1 1.1-1-.6-1 .9-1-1.6-1 1.2-1 .5-1-1.5-1 .9-1 .2-1 .1-1 .4-1-1.4-1 .5-1 .1-1-.9-1 .9-1-.2-1-.3-1-.3-1 1.3-1-.3-1-.9-1 1.3-1-1.1-1 0-1 1.9-1-.9-1-.5-1 .1-1-.1-1 1.6-1-.9-1-.1-1 .3-1 .8-1-.1-1-.4-1-.7-1 1.2-1-1.5-1-.1-1 1.6-1-.3-1-.7-1 .3-1 .2-1 .8-1-1.7-1 1.7-1-1.6-1 .5-1-.4-1 .9-1 .1-1-.9-1 0-1 .2-1 .5-.9-1.1-1 1.8-1-.5-1 .1-1 .3-1-.2-1-1.2-1 1-1 0-1-1.1-1 1.2-1-.7-1-.2-1 .5-1 0-1 .7-1-.1-1 .2-1-1.3-1 .6-1 .1-1 .8-1-.1-1-.2-1-.3-1-.8-1 1.6-1-1.4-1 .6-1 .9-1 .1-1-1-1-.4-1 1.2-1-1.8-1 .1z"/><rect x="387.3" y="221.9" width="2" height="58.9" fill="#0000ff" fill-opacity=".1"/><path fill="none" stroke="#0000ff" stroke-width="2.6" stroke-linecap="round" stroke-opacity=".2" stroke-dasharray="0 999" d="M388.2 224.7h.2"/><path fill="none" stroke="#0000ff" stroke-width="2.6" stroke-linecap="round" stroke-opacity=".2" stroke-dasharray="0 .2 0 .1 0 999" d="M388.1 228.2h.3"/><path fill="none" stroke="#0000ff" stroke-width="2.6" stroke-linecap="round" stroke-opacity=".2" stroke-dasharray="0 999" d="M388.3 228.9h.2"/><path fill="none" stroke="#0000ff" stroke-width="2.6" stroke-linecap="round" stroke-opacity=".2" stroke-dasharray="0 999" d="M388.3 229.6h.2"/><path fill="none" stroke="#0000ff" stroke-width="2.6" stroke-linecap="round" stroke-opacity=".2" stroke-dasharray="0 999" d="M388.1 231h.2"/><path fill="none" stroke="#0000ff" stroke-width="2.6" stroke-linecap="round" stroke-opacity=".2" stroke-dasharray="0 999" d="M388.3 231.7h.2"/><path fill="none" stroke="#0000ff" stroke-width="2.6" stroke-linecap="round" stroke-opacity=".2" stroke-dasharray="0 999" d="M388.1 234.5h.2"/><path fill="none" stroke="#0000ff" stroke-width="2.6" stroke-linecap="round" stroke-opacity=".2" stroke-dasharray="0 999" d="M388.1 235.9h.2"/><path fill="none" stroke="#0000ff" stroke-width="2.6" stroke-linecap="round" stroke-opacity=".2" stroke-dasharray="0 999" d="M388.2 236.6h.2"/><path fill="none" stroke="#0000ff" stroke-width="2.6" stroke-linecap="round" stroke-opacity=".2" stroke-dasharray="0 .2 0 999" d="M388.2 238h.2"/><path fill="none" stroke="#0000ff" stroke-width="2.6" stroke-linecap="round" stroke-opacity=".2" stroke-dasharray="0 999" d="M388.1 242.2h.2"/><path fill="none" stroke="#0000ff" stroke-width="2.6" stroke-linecap="round" stroke-opacity=".2" stroke-dasharray="0 999" d="M388.4 243.6h.2"/><path fill="none" stroke="#0000ff" stroke-width="2.6" stroke-linecap="round" stroke-opacity=".2" stroke-dasharray="0 999" d="M388.4 246.4h.2"/><path fill="none" stroke="#0000ff" stroke-width="2.6" stroke-linecap="round" stroke-opacity=".2" stroke-dasharray="0 999" d="M388.4 247.1h.2"/><path fill="none" stroke="#0000ff" stroke-width="2.6" stroke-linecap="round" stroke-opacity=".2" stroke-dasharray="0 .2 0 999" d="M388.2 248.5h.2"/><path fill="none" stroke="#0000ff" stroke-width="2.6" stroke-linecap="round" stroke-opacity=".2" stroke-dasharray="0 .2 0 999" d="M388.1 249.2h.2"/><path fill="none" stroke="#0000ff" stroke-width="2.6" stroke-linecap="round" stroke-opacity=".2" stroke-dasharray="0 999" d="M388.4 252.7h.2"/><path fill="none" stroke="#0000ff" stroke-width="2.6" stroke-linecap="round" stroke-opacity=".2" stroke-dasharray="0 .1 0 999" d="M388.2 256.2h.2"/><path fill="none" stroke="#0000ff" stroke-width="2.6" stroke-linecap="round" stroke-opacity=".2" stroke-dasharray="0 999" d="M388.3 259.7h.2"/><path fill="none" stroke="#0000ff" stroke-width="2.6" stroke-linecap="round" stroke-opacity=".2" stroke-dasharray="0 999" d="M388.1 260.4h.2"/><path fill="none" stroke="#0000ff" stroke-width="2.6" stroke-linecap="round" stroke-opacity=".2" stroke-dasharray="0 999" d="M388.3 261.1h.2"/><path fill="none" stroke="#0000ff" stroke-width="2.6" stroke-linecap="round" stroke-opacity=".2" stroke-dasharray="0 999" d="M388.2 262.5h.2"/><path fill="none" stroke="#0000ff" stroke-width="2.6" stroke-linecap="round" stroke-opacity=".2" stroke-dasharray="0 999" d="M388.1 263.9h.2"/><path fill="none" stroke="#0000ff" stroke-width="2.6" stroke-linecap="round" stroke-opacity=".2" stroke-dasharray="0 999" d="M388.2 268.1h.2"/><path fill="none" stroke="#0000ff" stroke-width="2.6" stroke-linecap="round" stroke-opacity=".2" stroke-dasharray="0 999" d="M388.1 268.8h.2"/><path fill="none" stroke="#0000ff" stroke-width="2.6" stroke-linecap="round" stroke-opacity=".2" stroke-dasharray="0 999" d="M388.2 269.5h.2"/><path fill="none" stroke="#0000ff" stroke-width="2.6" stroke-linecap="round" stroke-opacity=".2" stroke-dasharray="0 999" d="M388.3 273.7h.2"/><path fill="none" stroke="#0000ff" stroke-width="2.6" stroke-linecap="round" stroke-opacity=".2" stroke-dasharray="0 .1 0 999" d="M388.3 277.2h.2"/></g>
<path class="t" d="M86.5 300.5v5M113.5 300.5v5M141.5 300.5v5M168.5 300.5v5M196.5 300.5v5M223.5 300.5v5M251.5 300.5v5M278.5 300.5v5M306.5 300.5v5M333.5 300.5v5M361.5 300.5v5M388.5 300.5v5M80.5 205.5h-4.9M80.5 239.5h-4.9M80.5 273.5h-4.9"/>
<rect class="sp" x="80.5" y="197.5" width="327" height="103"/>
</g>
<g id="p11">
<clipPath id="c11"><rect x="473.5" y="197.5" width="328" height="103"/></clipPath>
<g clip-path="url(#c11)"><rect x="487" y="222.9" width="12" height="2.8" fill="#ffa500"/><rect x="546.8" y="222.9" width="4" height="2.8" fill="#ffa500"/><rect x="628.6" y="222.9" width="4" height="2.8" fill="#ffa500"/><rect x="711.8" y="222.9" width="4" height="2.8" fill="#ffa500"/><rect x="780.7" y="222.9" width="7" height="2.8" fill="#ffa500"/><rect x="497.3" y="224.1" width="286.3" height="2.8" fill="#ffa500"/><rect x="497.3" y="231.1" width="286.3" height="2.8" fill="#ffa500"/><rect x="497.3" y="237.9" width="286.3" height="2.8" fill="#ffa500"/><rect x="497.3" y="244.1" width="286.3" height="2.8" fill="#ffa500"/><rect x="497.3" y="251.1" width="286.3" height="2.8" fill="#ffa500"/><rect x="497.3" y="258.1" width="286.3" height="2.8" fill="#ffa500"/><rect x="502.5" y="265" width="281.1" height="2.8" fill="#ffa500"/><path fill="none" stroke="#ffa500" stroke-width="2.6" stroke-linecap="round" stroke-opacity=".3" stroke-dasharray="0 .2 0 1.5 0 .9 0 .3 0 .6 0 .1 0 999" d="M498.3 266.4h3.6"/><path fill="none" stroke="#ffa500" stroke-width="2.6" stroke-linecap="round" stroke-opacity=".3" stroke-dasharray="0 .3 0 1 0 .7 0 .8 0 .4 0 999" d="M497.4 266.4h3.2"/><path fill="none" stroke="#ffa500" stroke-width="2.6" stroke-linecap="round" stroke-opacity=".3" stroke-dasharray="0 1 0 2.9 0 .3 0 .4 0 .7 0 999" d="M497.6 266.4h5.3"/><rect x="506.5" y="272" width="276.1" height="2.8" fill="#ffa500"/><path fill="none" stroke="#ffa500" stroke-width="2.6" stroke-linecap="round" stroke-opacity=".3" stroke-dasharray="0 .8 0 .2 0 .3 0 1.3 0 2.4 0 2.5 0 .3 0 999" d="M499.1 273.4h7.8"/><path fill="none" stroke="#ffa500" stroke-width="2.6" stroke-linecap="round" stroke-opacity=".3" stroke-dasharray="0 .7 0 2.2 0 .7 0 1.6 0 .3 0 .1 0 .2 0 999" d="M500.8 273.4h5.8"/><path fill="none" stroke="#ffa500" stroke-width="2.6" stroke-linecap="round" stroke-opacity=".3" stroke-dasharray="0 1.2 0 .9 0 2.2 0 1 0 1.1 0 .3 0 999" d="M499.3 273.4h6.8"/><rect x="497.3" y="217" width="10" height="2.8" fill="#ffa500"/><path fill="none" stroke="#ffa500" stroke-width="2.6" stroke-linecap="round" stroke-opacity=".3" stroke-dasharray="0 5.3 0 .4 0 3.9 0 4.7 0 .5 0 5 0 .8 0 .8 0 .5 0 .6 0 .2 0 3.4 0 1.3 0 1 0 .4 0 1.6 0 4.4 0 3.2 0 7 0 .6 0 1 0 1.5 0 .9 0 2.8 0 .3 0 .7 0 .3 0 1.9 0 3.4 0 1.4 0 3.8 0 .9 0 .1 0 2.7 0 1.3 0 1.5 0 4.7 0 3.5 0 1.9 0 .7 0 1.9 0 2.7 0 2.5 0 2 0 .5 0 2.8 0 .9 0 3.6 0 1 0 1.6 0 .3 0 2 0 .1 0 8.9 0 .8 0 1 0 1.4 0 .1 0 .3 0 .3 0 5.7 0 .1 0 .7 0 .5 0 .1 0 1.5 0 3 0 1.3 0 .9 0 1.7 0 4.9 0 4.1 0 3.7 0 .8 0 .3 0 2.3 0 .2 0 .7 0 .5 0 .5 0 1 0 .2 0 1.7 0 .3 0 .6 0 .4 0 .4 0 2.7 0 .2 0 4.5 0 .4 0 .4 0 .2 0 7.8 0 2.8 0 2.3 0 .8 0 4.3 0 .7 0 5.7 0 1.6 0 .2 0 .3 0 1.1 0 1.8 0 2.1 0 .8 0 2.2 0 .1 0 4.4 0 4 0 3 0 3.3 0 1.4 0 .2 0 1.5 0 .2 0 .5 0 5.3 0 1.3 0 .9 0 .3 0 .6 0 1.3 0 1.6 0 .5 0 .4 0 1.5 0 7.8 0 1 0 2.6 0 4.3 0 .8 0 1 0 .6 0 4.9 0 1.7 0 2.4 0 3.2 0 .9 0 .1 0 .4 0 .3 0 5.3 0 .8 0 .2 0 .2 0 3.6 0 999" d="M508.4 218.3h271.1"/><path fill="none" stroke="#ffa500" stroke-width="2.6" stroke-linecap="round" stroke-opacity=".3" stroke-dasharray="0 .8 0 3.3 0 1.5 0 .9 0 3.9 0 .4 0 1.2 0 .2 0 1.1 0 3 0 2.9 0 .4 0 .6 0 4.9 0 2.9 0 .1 0 2.2 0 1.3 0 1.4 0 1.8 0 .3 0 6.1 0 .2 0 1 0 2.6 0 4 0 2.5 0 1.2 0 1.8 0 7.9 0 .5 0 2.2 0 1 0 1.3 0 1.3 0 1.1 0 .8 0 .7 0 1.7 0 2 0 .4 0 .6 0 1.9 0 2 0 .7 0 .9 0 .1 0 .3 0 .8 0 2 0 4 0 1.6 0 .6 0 3.5 0 .1 0 4.9 0 .6 0 1.4 0 .8 0 .3 0 1 0 .2 0 3 0 2.1 0 1.4 0 2 0 .2 0 .1 0 .7 0 1.6 0 1.7 0 .9 0 4.7 0 1.7 0 1.2 0 1.3 0 4.2 0 2.6 0 3.3 0 4.7 0 .5 0 .4 0 .4 0 1.7 0 .9 0 2.2 0 3.4 0 1 0 1.6 0 3.4 0 .4 0 .5 0 3.1 0 .1 0 .6 0 .4 0 .5 0 .7 0 2.4 0 .3 0 .7 0 3 0 2 0 2.7 0 1 0 1.7 0 2.1 0 .6 0 .7 0 1.7 0 8.1 0 4.2 0 2.1 0 1.8 0 .6 0 1.2 0 1.5 0 2.2 0 3.4 0 .9 0 4.6 0 4.6 0 2.5 0 1.4 0 .1 0 .3 0 2.2 0 1.8 0 .8 0 2.9 0 .4 0 1.3 0 .3 0 .2 0 7.6 0 7 0 .9 0 1 0 1.8 0 9.5 0 .8 0 1.3 0 2 0 .4 0 .5 0 .9 0 .3 0 .1 0 999" d="M512.6 218.3h265.4"/><path fill="none" stroke="#ffa500" stroke-width="2.6" stroke-linecap="round" stroke-opacity=".3" stroke-dasharray="0 3 0 3.5 0 4.1 0 4.1 0 2.2 0 2.6 0 2.4 0 .5 0 .1 0 3 0 1.8 0 1.9 0 1.3 0 .5 0 4.2 0 3.2 0 .1 0 .7 0 .2 0 .2 0 2.4 0 .2 0 .1 0 1.6 0 4.1 0 .5 0 5.9 0 2.1 0 .8 0 2.6 0 8.2 0 .1 0 4.9 0 .2 0 1.6 0 7.2 0 .6 0 7.1 0 2.7 0 .5 0 .4 0 4.1 0 1 0 3.3 0 1.8 0 6.7 0 .5 0 .4 0 2.9 0 3.7 0 .1 0 5.1 0 3.5 0 1.3 0 4.4 0 5.7 0 1.7 0 .3 0 1 0 .2 0 2.7 0 .1 0 2 0 1.9 0 3.7 0 3.2 0 2.1 0 .1 0 .6 0 .2 0 2.9 0 .1 0 2.5 0 .2 0 1.9 0 3.2 0 .5 0 2.1 0 1.4 0 1.5 0 .5 0 .6 0 .1 0 .2 0 2.7 0 4.4 0 1 0 .2 0 .9 0 5.2 0 1 0 6.9 0 .5 0 3.3 0 .2 0 .1 0 .6 0 .3 0 .6 0 .3 0 5.4 0 2.5 0 1 0 1.2 0 .5 0 .4 0 3 0 .6 0 .8 0 .1 0 .3 0 .3 0 .7 0 1 0 1.5 0 2.9 0 .8 0 1.2 0 1.4 0 1.9 0 3.9 0 1.4 0 4.7 0 1.2 0 1.4 0 4.4 0 .8 0 3.1 0 1.6 0 1.1 0 .7 0 1.3 0 3.3 0 .4 0 .3 0 .1 0 1.3 0 .3 0 1.2 0 1.7 0 1.7 0 1.6 0 .1 0 2.1 0 2 0 .5 0 999" d="M507.3 218.3h273.4"/><rect x="497.3" y="210" width="7.2" height="2.8" fill="#ffa500"/><path fill="none" stroke="#ffa500" stroke-width="2.6" stroke-linecap="round" stroke-opacity=".3" stroke-dasharray="0 4.3 0 1.9 0 .5 0 .9 0 5.2 0 7.6 0 2.3 0 .8 0 1 0 6.9 0 3.2 0 20.1 0 10.6 0 .3 0 3 0 2.9 0 11.2 0 20.7 0 .8 0 13.9 0 6.3 0 7 0 34.2 0 1.6 0 9.9 0 1.6 0 3.4 0 4.1 0 1 0 4.2 0 .8 0 1.5 0 9.2 0 5.6 0 5.7 0 1 0 4.5 0 1.7 0 7.8 0 .3 0 8.3 0 7.9 0 1.4 0 8.3 0 1.1 0 1.8 0 999" d="M523.9 211.4h258.4"/><path fill="none" stroke="#ffa500" stroke-width="2.6" stroke-linecap="round" stroke-opacity=".3" stroke-dasharray="0 5.6 0 5.7 0 20.5 0 15 0 9.8 0 6.1 0 1.8 0 .4 0 2.9 0 .4 0 8.7 0 2.6 0 2.7 0 6.5 0 9.8 0 5.5 0 1.4 0 2.1 0 1.6 0 7 0 3.9 0 .6 0 5 0 3 0 7.2 0 7.4 0 1.9 0 1.2 0 8.7 0 .5 0 15.2 0 2.8 0 .8 0 1.3 0 6.1 0 11.4 0 14.6 0 .3 0 8.3 0 1 0 3.6 0 5.6 0 11.9 0 9.1 0 18.6 0 4.3 0 2.2 0 999" d="M509.3 211.4h272.7"/><path fill="none" stroke="#ffa500" stroke-width="2.6" stroke-linecap="round" stroke-opacity=".3" stroke-dasharray="0 8.2 0 .2 0 .7 0 4.5 0 2.9 0 7 0 10.3 0 3.5 0 6.2 0 2 0 2.3 0 6.1 0 11.5 0 3.6 0 14.2 0 6.3 0 11.4 0 4.2 0 3.8 0 2.3 0 7.4 0 2.2 0 2.5 0 9.4 0 2.1 0 7.1 0 7.6 0 21.1 0 4.3 0 1.6 0 10.6 0 2.4 0 .9 0 4.8 0 10.9 0 6.8 0 2.5 0 1.3 0 7.2 0 2.3 0 3.5 0 .3 0 14.7 0 1.7 0 .6 0 7.5 0 15.4 0 999" d="M509.9 211.4h269.9"/><rect x="497.3" y="203.2" width="5.2" height="2.8" fill="#ffa500"/><path fill="none" stroke="#ffa500" stroke-width="2.6" stroke-linecap="round" stroke-opacity=".3" stroke-dasharray="0 45.6 0 130.5 0 7.9 0 15.4 0 999" d="M562.8 204.6h199.5"/><path fill="none" stroke="#ffa500" stroke-width="2.6" stroke-linecap="round" stroke-opacity=".3" stroke-dasharray="0 59.6 0 14.1 0 92.5 0 88.5 0 999" d="M514.8 204.6h254.8"/><path fill="none" stroke="#ffa500" stroke-width="2.6" stroke-linecap="round" stroke-opacity=".3" stroke-dasharray="0 999" d="M502.4 198h.2"/><path fill="none" stroke="#ffa500" stroke-width="2.6" stroke-linecap="round" stroke-opacity=".3" stroke-dasharray="0 .1 0 2.3 0 .8 0 1.5 0 2.8 0 3 0 1.9 0 2.4 0 .2 0 .1 0 1.6 0 .5 0 .3 0 1.4 0 2.1 0 .1 0 2.1 0 1.3 0 1.6 0 .4 0 1.1 0 1.9 0 .4 0 1 0 3 0 .3 0 1.1 0 1.2 0 .8 0 3.6 0 3.2 0 .9 0 .3 0 1.1 0 .1 0 .7 0 1.4 0 1.5 0 .1 0 1.3 0 1 0 1.3 0 1.7 0 .2 0 1.4 0 2.3 0 1.3 0 .2 0 .3 0 1.1 0 7.2 0 .4 0 1.3 0 .8 0 .9 0 .4 0 7.8 0 .2 0 .3 0 .4 0 .6 0 .6 0 .6 0 .6 0 .4 0 .2 0 1.1 0 4.7 0 1.1 0 .8 0 .5 0 .1 0 1.5 0 .3 0 .2 0 .3 0 .8 0 .1 0 .8 0 1.3 0 1 0 1.3 0 1.9 0 2.8 0 .4 0 2.3 0 2.4 0 .7 0 2.1 0 1.4 0 4.8 0 .2 0 1 0 .1 0 2.8 0 3.6 0 .3 0 .2 0 .3 0 1.1 0 .9 0 5.2 0 .5 0 6.2 0 .9 0 .2 0 1.1 0 .8 0 1.2 0 .6 0 1.2 0 2.7 0 .4 0 .1 0 2.2 0 .5 0 .7 0 1 0 1.2 0 1.8 0 .3 0 1.8 0 .5 0 1 0 2.5 0 .1 0 1.9 0 1.7 0 1.2 0 .5 0 1.5 0 .4 0 3.9 0 2.2 0 .5 0 1.1 0 .5 0 2 0 .2 0 .1 0 7.4 0 1.2 0 .6 0 1.2 0 1.5 0 .1 0 .7 0 .9 0 .6 0 1.6 0 .8 0 2.3 0 1.9 0 1.9 0 .6 0 .3 0 1.7 0 1.5 0 2.7 0 .5 0 2 0 .4 0 .2 0 .4 0 .7 0 .5 0 .8 0 1.5 0 1.7 0 .4 0 .2 0 .1 0 4.6 0 .3 0 .3 0 2.1 0 1.9 0 .2 0 .3 0 1.4 0 .2 0 .9 0 .6 0 1.2 0 .4 0 .2 0 .3 0 1.2 0 6.7 0 4.1 0 .3 0 1.5 0 1.6 0 .4 0 .4 0 2.2 0 .6 0 .1 0 2.7 0 .1 0 .3 0 .9 0 1.9 0 .3 0 4.1 0 1.6 0 .3 0 .6 0 .6 0 1.7 0 1.7 0 .9 0 2.2 0 .3 0 .1 0 .7 0 .5 0 999" d="M504.9 280.4h277.1"/><path fill="none" stroke="#ffa500" stroke-width="2.6" stroke-linecap="round" stroke-opacity=".3" stroke-dasharray="0 1.9 0 .4 0 1 0 1.7 0 .2 0 .7 0 2.3 0 .8 0 2.1 0 2.3 0 1.6 0 .8 0 2.8 0 3.1 0 1.1 0 2.3 0 .6 0 4.1 0 2.2 0 .2 0 1 0 .3 0 1.2 0 2.1 0 1.2 0 .6 0 .9 0 1.7 0 2.2 0 .1 0 .2 0 2.6 0 1.9 0 .6 0 2.6 0 1.4 0 .9 0 1.1 0 2.6 0 2.2 0 .8 0 6.4 0 .3 0 .1 0 1.2 0 1.1 0 .4 0 2.1 0 1.7 0 .4 0 3.2 0 .1 0 .5 0 1.2 0 6 0 4.2 0 .8 0 1.9 0 .8 0 1.3 0 1.6 0 5.4 0 1.7 0 3.5 0 1.3 0 .8 0 1.2 0 3.5 0 .3 0 1.2 0 .8 0 .3 0 .1 0 .9 0 .6 0 .3 0 1.5 0 1.4 0 .3 0 .3 0 1 0 .5 0 .4 0 .8 0 2.5 0 1.2 0 1.2 0 5.1 0 .8 0 .1 0 .1 0 1 0 .5 0 .2 0 .1 0 .2 0 .3 0 .2 0 .5 0 .9 0 .4 0 1.8 0 2.4 0 3.8 0 .4 0 .3 0 1.2 0 .5 0 .8 0 .7 0 3.3 0 .9 0 .5 0 .5 0 1.1 0 4.7 0 .5 0 .8 0 2.1 0 .4 0 .7 0 1.9 0 1.1 0 3.4 0 .2 0 3.1 0 .7 0 .2 0 1.8 0 .8 0 1.7 0 1.8 0 .6 0 .3 0 1.9 0 .2 0 1 0 .6 0 .2 0 .5 0 1.1 0 .9 0 1.4 0 .8 0 2.1 0 .6 0 1.3 0 .9 0 .4 0 1.2 0 .4 0 .5 0 .1 0 1.8 0 .9 0 .2 0 1.6 0 1.2 0 .9 0 .5 0 .4 0 1.2 0 1.1 0 .1 0 .1 0 2.4 0 .5 0 .9 0 .3 0 .5 0 1.1 0 .7 0 .2 0 .4 0 3.9 0 .2 0 3 0 .6 0 1.4 0 2.7 0 2.7 0 5.7 0 .1 0 1.5 0 .4 0 4.5 0 1.7 0 .2 0 2.5 0 3.6 0 .8 0 1.1 0 .3 0 1.1 0 .1 0 .2 0 .2 0 1.8 0 .7 0 3.2 0 3.4 0 1.3 0 .3 0 .1 0 .8 0 1.7 0 .1 0 .7 0 1.3 0 .1 0 1.3 0 .2 0 .8 0 .6 0 .6 0 999" d="M504.9 280.4h274.8"/><path fill="none" stroke="#ffa500" stroke-width="2.6" stroke-linecap="round" stroke-opacity=".3" stroke-dasharray="0 1.1 0 1 0 1.7 0 3.2 0 .9 0 4 0 2.4 0 1.9 0 1.2 0 .4 0 1.6 0 .2 0 .6 0 2.4 0 3.4 0 2 0 1.8 0 1.9 0 .7 0 .3 0 .8 0 .9 0 1.1 0 .1 0 1.1 0 .1 0 .2 0 3.5 0 .6 0 1.8 0 .3 0 .8 0 .1 0 .6 0 2.2 0 1.4 0 2.4 0 .3 0 .1 0 .2 0 1.2 0 3.5 0 .4 0 .2 0 .4 0 2 0 2 0 .3 0 .8 0 .3 0 1.2 0 2.2 0 .1 0 .1 0 1.8 0 .5 0 1.8 0 8.2 0 2.3 0 2.8 0 .6 0 .7 0 .5 0 1.3 0 .6 0 1.4 0 .1 0 3.2 0 1.9 0 2.5 0 2.3 0 1.6 0 .6 0 4 0 .6 0 .4 0 1.2 0 4.1 0 .9 0 .2 0 .5 0 .1 0 3.2 0 .7 0 1.3 0 .4 0 1.2 0 .8 0 1.5 0 .7 0 2.6 0 .4 0 1.6 0 .4 0 4.6 0 1 0 2.2 0 .5 0 .3 0 1.7 0 1.3 0 .2 0 4.8 0 1 0 .2 0 1.1 0 2.7 0 .1 0 .1 0 1.4 0 .6 0 .7 0 .4 0 1 0 .7 0 2 0 .5 0 .5 0 .9 0 .2 0 3.2 0 .8 0 .2 0 .1 0 .9 0 2.6 0 .2 0 .9 0 2.5 0 1.9 0 .5 0 1.3 0 .1 0 .2 0 1.7 0 .5 0 1.5 0 2.3 0 .1 0 1.7 0 2 0 2.2 0 .9 0 1.5 0 .3 0 .5 0 7 0 .8 0 .8 0 1 0 1.5 0 2.3 0 1.1 0 .6 0 .1 0 3.1 0 5.7 0 .2 0 1.2 0 .9 0 .3 0 .2 0 .1 0 1.1 0 .1 0 .8 0 2 0 .4 0 .7 0 1.2 0 .9 0 1.5 0 1.1 0 .2 0 .6 0 1.5 0 1.8 0 .2 0 .3 0 1.6 0 .5 0 5.3 0 .3 0 2.5 0 .1 0 .2 0 3 0 3.1 0 1 0 .3 0 .2 0 .5 0 .8 0 1.6 0 1.5 0 1.2 0 .3 0 .1 0 .1 0 .5 0 .9 0 5.8 0 2.2 0 1.4 0 .7 0 .5 0 .5 0 .9 0 .7 0 1.4 0 2.9 0 1.1 0 .8 0 .4 0 .4 0 999" d="M505 280.4h275.4"/><path fill="none" stroke="#ffa500" stroke-width="2.6" stroke-linecap="round" stroke-opacity=".3" stroke-dasharray="0 4 0 .8 0 .5 0 17.1 0 4.9 0 3 0 1.6 0 .4 0 .1 0 .3 0 9.6 0 1.4 0 .7 0 .8 0 2.7 0 .5 0 2.2 0 4.3 0 5.3 0 2 0 4.9 0 .7 0 2.9 0 2.2 0 9.8 0 2.2 0 12.5 0 1.6 0 1 0 3.9 0 1.9 0 5.1 0 .1 0 1 0 1.5 0 6 0 4.3 0 9.6 0 2.1 0 3.8 0 .1 0 6.6 0 14.4 0 9.8 0 8 0 .1 0 2.4 0 1 0 1.3 0 2.5 0 .5 0 10.1 0 9.5 0 .5 0 1 0 1 0 9.8 0 9.8 0 4.9 0 4.9 0 7.2 0 1.6 0 .9 0 11.2 0 8.5 0 1.1 0 999" d="M511.6 287.4h268.1"/><path fill="none" stroke="#ffa500" stroke-width="2.6" stroke-linecap="round" stroke-opacity=".3" stroke-dasharray="0 3.2 0 .4 0 1.4 0 2.5 0 8.5 0 2.6 0 .2 0 5.2 0 3.2 0 7.9 0 17.3 0 .6 0 6.3 0 3.3 0 3.3 0 .1 0 13.9 0 .5 0 2.2 0 4.2 0 2.8 0 3.4 0 4.9 0 1.5 0 7.3 0 1.3 0 .9 0 .3 0 1.7 0 .5 0 8.5 0 3 0 2.8 0 4.1 0 7.8 0 .4 0 1.4 0 2.5 0 1.4 0 7.5 0 6.4 0 11.2 0 2.8 0 4.8 0 2.3 0 5.5 0 .3 0 6.4 0 5.2 0 5.4 0 4 0 2.7 0 5.7 0 2.4 0 4.2 0 6.2 0 .6 0 3.3 0 2.2 0 4.4 0 2.9 0 3.2 0 .7 0 2.7 0 17.5 0 4.1 0 1.6 0 999" d="M508.9 287.4h269.6"/><path fill="none" stroke="#ffa500" stroke-width="2.6" stroke-linecap="round" stroke-opacity=".3" stroke-dasharray="0 2.9 0 1 0 5.3 0 1.3 0 .2 0 5.2 0 9.2 0 .5 0 2 0 6.7 0 2.9 0 .2 0 .4 0 1 0 9.8 0 .8 0 .8 0 4 0 8.2 0 1.3 0 .7 0 4.9 0 4.7 0 4.8 0 1.9 0 .1 0 6.6 0 2.2 0 2.4 0 3.4 0 .2 0 .1 0 5.6 0 4.3 0 5.3 0 6.5 0 8.8 0 2.9 0 .6 0 3.8 0 10.9 0 7.1 0 2.4 0 .3 0 14 0 2.8 0 3.6 0 .1 0 6.6 0 5.4 0 9.7 0 12.5 0 1 0 6.8 0 4.8 0 1.8 0 1.1 0 6 0 1.6 0 1.7 0 1.4 0 .9 0 17.1 0 1.5 0 7.2 0 5.8 0 999" d="M514.6 287.4h267.7"/><path fill="none" stroke="#ffa500" stroke-width="2.6" stroke-linecap="round" stroke-opacity=".3" stroke-dasharray="0 31.7 0 16.7 0 10.7 0 3.8 0 .5 0 1 0 17.3 0 7.6 0 17.2 0 9.9 0 15.6 0 62 0 33.8 0 6.5 0 999" d="M546 294.4h234.4"/><path fill="none" stroke="#ffa500" stroke-width="2.6" stroke-linecap="round" stroke-opacity=".3" stroke-dasharray="0 6.8 0 6.1 0 20.6 0 28.7 0 .7 0 2.3 0 3.8 0 3.5 0 16.9 0 13.3 0 29.1 0 14.8 0 14.6 0 1.7 0 999" d="M563.5 294.4h163"/></g>
<path class="t" d="M479.5 300.5v5M506.5 300.5v5M534.5 300.5v5M561.5 300.5v5M589.5 300.5v5M616.5 300.5v5M644.5 300.5v5M671.5 300.5v5M699.5 300.5v5M726.5 300.5v5M754.5 300.5v5M782.5 300.5v5M473.5 224.5h-4.9M473.5 266.5h-4.9"/>
<rect class="sp" x="473.5" y="197.5" width="328" height="103"/>
</g>
<g id="p20">
<clipPath id="c20"><rect x="80.5" y="359.5" width="327" height="103"/></clipPath>
<g clip-path="url(#c20)"><path fill="none" stroke="#0000ff" stroke-width="3.7" stroke-linejoin="round" stroke-linecap="round" d="M105.3 450.4l0-1.2 .2-.6 0-1.3 .1-.6 0-.9 .2-1.3 .1-.8 0-.6 .9-1.1 1.3-.3 0-1 .4-.6 .2-1.5 .4-.8 .4-.8 .1-1.4 .4-.5 .2-1 .6-.9 .2-.8 .6-1.3 .4-.8 .5 .8 .7 .9 .8 1 1.1 .2 1 .1 .8-.3 1 .2 1.1-.2 .8 .5 1.1-.2 .9-.1 1.2 .1 1-.3 .9 .4 1 0 1-.4 .9 .5 1-.5 1 .3 1.2-.1 .9 .2 .9-.3 1.1 .2 .8-.3 1.1 .4 1.1 .1 1-.4 1 .4 .9-.6 1 .2 1-.2 .9 .5 1-.1 1.1-.3 1.1 .1 .8 .1 1.2 0 1 0 .9 .2 1 0 1-.4 .9 .4 1.2 .1 1-.6 .8-.2 1-.6 1-.3 1.1 .3 1.1 .4 .8 .5 1.2 .4 .8-.1 1.2-.2 .8 .3 1.1-.2 1.1 0 .8-.2 1 .3 1 .1 .9-.3 .8-.6 .6-.4 .5-1.1 .5-.5 .7-.7 .2-1.3 .3-.5 .2-.9 .3-1.3 .3-1.1 .2-.6 .2-1.4 .1-.8 .3-1.1 .3-.7 .3-1.2 .2-1.2 .1-.7 .3-1.3 .2-.6 .2-1.1 .1-.9 .4-1.3 .3-.7 0-1.4 .3-.5 .2-1.6 .8-.7 .8-.4 .4 .6 .2 1.3 .5 .7 .4 1 .5 1 .1 .7 .1 .8 .4 1 .1 1.5 .1 .7 .2 1.3 .3 1 0 .9 .3 .8 .3 1.2 .3 1 .2 .8 .1 1.2 .3 .5 .4 1.3 .5 .4 .2 1 .4 1.3 .4 .5 .3 .9 .5 .8 .8 .3 1.1 .7 .9 .2 1 .3 1.1 .1 1-.3 .9 .5 1.1-.1 1 .2 1-.2 1 .2 1.1 .3 1-.4 1 .1 1 .1 .9-.3 1.1-.3 .9 .1 1-.2 1.1 .1 .6-1.3 .8-.7 .9-.5 .6-.6 .2-1.4 .1-1 .1-1 .3-.8 0-.7 .2-1.4 .1-.8 0-1.3 .4-1 .1-.6 .1-1.2 .2-.8-.1-.9 .3-1.4 0-1.1 .3-.5-.1-1.4 0-.9 .2-1.2 .1-.5 0-1.3 .2-1.1 0-1.1 .1-.4 .3-1.2 .1-1.2-.1-.7 .2-.9 0-1.4 .2-.7-.1-1.3 .1-.9 .3-.9-.1-1 .2-1.3 .2-.7 0-1.2 .1-.9 .2-1.1 .3-.8 .2-.8 .1-1.1 .1-1.2 .2-.7 0-1.3 .3-.8 .3-1.2-.1-.9 .7 1.1 .5 .8 .4 1.2-.1 .7 .4 1.4 .2 .6 .1 1 0 .9 .1 1.2 .2 1.3-.1 .8 .3 .8 0 1.4 .3 .8-.1 1.2 .2 .7 .2 1 .2 1 .1 1.2 .2 .6-.1 1.5 .2 .6 .2 .9-.1 .9 .3 1.3 0 .9 .1 1.2 .3 .8 .1 .8 .1 1.1-.1 1.2 .2 .7 .1 1.2 .3 .9-.1 1.3 .4 1.2-.1 .5 .4 1.4 .2 1 .1 .7 .4 .9 .2 1.3 .3 1 .2 1.1 .1 .6 .1 .9 .5 1.3 .1 1.2 .8 .3 .8 .5 .7 .8 .7-.6 .4-.9 .5-.8 .4-.9 .8-.5-.1-1.2 .3-1.1 0-.8 .1-.8 .1-1 .4-1.3 0-.7 .3-1.4 0-1.1 .3-.8 0-.8 .2-1.4 .3-.5 .1-1.2 .1-.8 0-1.3 .2-.8 .1-1 .1-.9 .1-1.2 .2-.8 0-1.4 .1-.8 0-.8 .2-1 .1-.9 .2-1.4 .1-1.2-.1-.6 .2-1.1 .2-1 .1-.8 .1-1.4 .1-.6-.1-1.4 .1-1 .4-.5 .2-1.4 .1-.6 .4-1.4 .3-.9 .2-1 0-1.1 .5 1.1 .6 .7 .6 .5 .4 .8"/><path fill="none" stroke="#0000ff" stroke-width="3.7" stroke-linejoin="round" stroke-linecap="round" d="M239.2 406.9l0 .8 .2 1.4 .2 .9 0 .9 .3 1 .1 1.2 0 .5 .2 1-.1 1.4 .4 1.1 .1 .6-.1 .9 .5 1 0 1 .1 1 .4 1 .2 1.5 .1 .9 .4 .9 .2 1.1 .2 .7 .8 .4 .8 1 .8-.1 .8-.1 .8-.7 .8-.9 1-.6 .7-.4 .8-.7 .9 .7 1.2 .2 1 .2 1.1 0 .9 .1 .4-.8 .7-.9 .5-.7 .5-.6 .5-1.2 .4-.9 .4-.2 .8 .7 .6 .2 .7 1 .4 .2 .5 .9 .5 .8 .6 1.3 .4 .7 .6 .7 .6 .8 .9 .3 1.1 .6 .7 1 .8-.9 .6-.9 .4-.7 .9-.4 .4-1 .3-.7 .1-1.1 .3-1.1 .2-1.3 .5-.8 .3-.7 .2-1.5 .2-.4 0-1.6 0-.4 .4-1.5-.1-.7 .1-1.3 .3-.8-.1-1.3 .1-.6 0-1.4 .3-.5 0-1.2 .2-1-.1-1.1 .1-1.1 .1-.9 .1-.7 .2-.9 .2-1.4-.1-.9 .2-1 0-1 .3-1 0-.7 .1-1 .2-1.6 0-.9 .2-.8-.1-.7 .3-1.2 0-1.3 .3-.9-.1-.9 .1-1.3 .2-.7 0-.7 .2-1.1 .1-1.2-.1-1 .3-.8 .1-1.1 .2-.9 .2-1.4 .2-.9 .1-.8 .4-1.2 .2-.8 .2-.8 .3-1.5 .2-.8 .4 .9 .4 .7 .7 .5 .5 1.1 .1 1 .2 .7 .5 1.2 0 .7 .3 1.3 .5 .8 .1 1.1 .2 1.3 .4 .8 .7 .5 .3 1.1 .7 .6 .3 .9 .7 .7 .1 .9 .1 1.1 .4 .9 .1 1.2 .2 .9 .4 1 .2 .9 .2 1.3 .2 .7 .1 1.1 .3 .9 .2 1.2 .1 1.1 .4 1 .1 1.1 .3 1.1 .2 .9 .2 .9 0 .7 .3 1.3 .1 .8 .5 .6 .6 1.3 .4 .4 .6 1.3 .5 .2 .5-.6 .6-.6 .7-1.1 .6-.8 .6-.8 .6-.7 .7-.7 .5-1 .8-.2 .3 .9 .1 .8 .2 1 .4 1.3 .2 .9 .5 1 .2 .6 .1 1.3 .3 1.2 .3 .6 0 1.3 .2 1.1 .2 .8 .5 .7 0 1.3 .4 .7 .1 1.4 .3 .8 0 1.1 .7 .8 .5 1 .5 .9 .5 1 .6-1.2 .6-.6 .5-.7 .6-.6 .6-.9 .7-.4 .6-.7 .6-.6 1.3 .6 .9 .6 .9 .2 .3-1 .1-.6 .2-1.3 .2-.6 .3-.9 .2-1.3 .2-.6 .2-1 0-1.3 .2-.6 .3-1.2 0-1.1 .3-1.2 .1-.6 .2-.8 0-1.4 .1-.9 .2-1.1 0-.9 .3-1.3 .1-.6 0-1.1 .3-1-.1-1.2 .2-1.1 .1-.6 .2-.8 .3-1.1 .2-.9 .4-1 .3-1.3 0-.8 .5-1.2 .2-.9 1.3 .3"/><path fill="none" stroke="#0000ff" stroke-width="3.7" stroke-linejoin="round" stroke-linecap="round" d="M321.4 404.9l.2 1.1 .2 .8 .1 1.3 .2 .6 .1 1.2 .1 1.3 .2 .6 .2 1.2 0 .8 .2 .8 .2 1.4 .1 1.1 .5 .8 .3 .7 .2 1.5 .4 .6 .6 1.3 .1 .7 .4 1 .6 .8 .8 .6 .6 .5 .3-.4 .6-1.1 .2-1.1 .4-.8 .3-.9 .5-.9 .5-.7 .3-.9 .8-.3 .6-.9 .8-.3 .9-.7 .4 1 .3 1.2 .3 1.3 .5 .5 .4 1.3 .2 .7 .6 1.2 .4 .7 .5 .7 .5 1.2 .3 .3 .4 1.3 .4-1.3 .3-.5 .5-1.1 .4-.6 .5-.8 .2-.9 .5-.9 .3-1 .1-.8 .2-1.1 .1-1.4 .2-.7 .2-1.2 .1-.6 .1-1 .4-1.2 .3-.9-.2-.9 .3-1 .3-1.4 0-1.1 .3-.5 .3-1.3 .5-.4 .5-.8 .5-.9 .4-1.3 .2-.3 .5 .7 .2 1 .4 1.1 .4 .8 .2 1 .3 .9 .3 1.1 .3 1.2 .1 1.1 .1 .6 .1 1.2 .3 .9 .2 1.4 .1 .7 .3 .9 .3 1-.1 1 .5 1.1-.1 1.3 .5 1 .2 .9 .3 .7 .5 1.1 .4 1 .3 .8 .2 1 .2 1.5 1.1 .3 1 .2 1.2 .3 .3-.8 .9-.7 .4-1 .5-.6 .6-1.1 .7-.7 .9-.5 .7-.7 .9-.8 .4 1 .8 .9 .5 .3 .7 1.2 .6 .5 .6 .7 .8 1 .5 .4 .7 .7 .7 .6 .7-.3 .7-1.2 .7-.3 .7-.8 .9-.6 .6-1.2 .5-.3 .5-.9 .8-.5 .4-1.2 .7 .8 .9 .6 .8 .9 .7 .7 .9 .4 1 .3 1 .8 1.2 .1 .9 .4 .9 .5 1.2 .5 .9 .3 1 .5"/><rect x="388.3" y="401.6" width="2.7" height="13.4" fill="#0000ff" fill-opacity=".8"/><rect x="388.9" y="400.8" width="1.5" height="3.2" fill="#0000ff" fill-opacity=".6"/><rect x="388.2" y="414.5" width="5.7" height="23.5" fill="#0000ff" fill-opacity=".7"/><rect x="388.2" y="414.5" width="3.1" height="23.5" fill="#0000ff" fill-opacity=".8"/><rect x="387.4" y="437.5" width="6.2" height="13.1" fill="#0000ff" fill-opacity=".9"/><rect x="387.8" y="450.4" width="5.2" height="1" fill="#0000ff" fill-opacity=".6"/></g>
<path class="t" d="M86.5 462.5v5M113.5 462.5v5M141.5 462.5v5M168.5 462.5v5M196.5 462.5v5M223.5 462.5v5M251.5 462.5v5M278.5 462.5v5M306.5 462.5v5M333.5 462.5v5M361.5 462.5v5M388.5 462.5v5M80.5 365.5h-4.9M80.5 415.5h-4.9"/>
<rect class="sp" x="80.5" y="359.5" width="327" height="103"/>
</g>
<g id="p21">
<clipPath id="c21"><rect x="473.5" y="359.5" width="328" height="103"/></clipPath>
<g clip-path="url(#c21)"><rect x="487" y="452" width="12" height="2.8" fill="#ffa500"/><rect x="546.8" y="452" width="4" height="2.8" fill="#ffa500"/><rect x="628.6" y="452" width="5" height="2.8" fill="#ffa500"/><rect x="709.8" y="452" width="6" height="2.8" fill="#ffa500"/><path fill="#ffa500" fill-opacity=".4" d="M497.3 449.6l.6-.7 .6-.3 .6-1.1 .6-.3 .6-.1 .6-.3 .6-1.6 .6 .3 .6-.5 .6-.9 .6-.1 .6 1.1 .6-.3 .6-.9 .6 0 .6 .8 .6-.9 .6 .8 .6-.6 .6 .9 .6-1 .6 .4 .6 .2 .6-.7 .6 .6 .6 0 .6 .2 .6 .2 .6-.7 .6-.1 .6 1.2 .6-1.1 .6 .1 .6 .7 .6 0 .6 .4 .6-.9 .6 .8 .6-.5 .6 .9 .6-1.1 .6 .1 .6 .1 .6 .1 .6 .6 .6-.8 .6-.2 .6 .9 .6-.6 .6-.1 .6 .1 .6-.1 .6 .7 .6-.1 .6 .6 .6-.2 .6-.3 .6 .1 .6 0 .6 .1 .6-.9 .6 .7 .6 .1 .6 .3 .6-1.1 .6 .7 .6 .3 .6-.4 .6 .3 .6-.9 .6 .5 .6-.6 .6-.2 .6 1.2 .6-1.3 .6 1 .6-1 .6 .2 .6 .2 .6-.3 .6 .1 .6 .4 .6 .1 .6-1.6 .6-.5 .6 .4 .6-1 .6-.5 .6-.2 .6 0 .6 .1 .6 1.1 .6 .6 .6-.1 .6 .2 .6 .6 .6 1.8 .6-.2 .6 0 .6-.5 .6 .7 .6-.9 .6 1 .6 .2 .6 0 .6 .1 .6 .1 .6 .1 .6 .1 .6-.1 .6-.7 .6 .9 .6-.6 .6-.1 .6 .3 .6-.6 .6 .8 .6-.1 .6-.5 .6-.3 .6-1.8 .6-1.1 .6 .5 .6-1.9 .6-.9 .6-1.2 .6 0 .6-.1 .6-.3 .6-.3 .6 1.1 .6 .3 .6 .1 .6 1.9 .6 .5 .6 1.1 .6 .3 .6 .7 .6 .3 .6 .6 .6 .8 .6-1.1 .6 .9 .6-.2 .6-.5 .6 .8 .6 .5 .6 0 .6-.7 .6 .1 .6 .8 .6-.5 .6 .3 .6-.7 .6 .2 .6 .3 .6 .1 .6 .5 .6-.1 .6 0 .6 .2 .6 .1 .5-.9 .6 .2 .6 .1 .6 .3 .6-1 .6 .4 .6-.3 .6 1.1 .6-1.1 .6 .5 .6-.4 .6 .4 .6-.2 .6 0 .6 .3 .6-1.4 .6-.2 .6 .5 .6-.2 .6-1.2 .6-.8 .6-.4 .6-.2 .6 .6 .6 1.1 .6 1.2 .6 .9 .6-.2 .6 .3 .6 1.1 .6 .8 .6-.9 .6-.4 .6 .5 .6-.5 .6-.6 .6 .1 .6-.3 .6-.4 .6 .5 .6-.6 .6 0 .6 0 .6-.2 .6-.9 .6-2.9 .6-.6 .6-6.5 .6-9.5 .6-4 .6-9.4 .6-6.7 .6-13.1 .6-8.7 .6-11 .6-2.9 .6-3.1 .6-.4 .6 1.4 .6-.1 .6 2.8 .6 3.7 0 6.2-.6 .9-.6 .5-.6-.4-.6 .5-.6 1.1-.6 5-.6 3.2-.6 15.9-.6 8.8-.6 10.8-.6 7.4-.6 10.5-.6 2.6-.6 4.8-.6 1.9-.6 .5-.6 .8-.6-.1-.6 .3-.6-.6-.6 1.3-.6-.8-.6 1.2-.6 .6-.6 .1-.6-.5-.6 .8-.6-.5-.6 1-.6-.4-.6-.1-.6 .2-.6 .1-.6-.7-.6 .3-.6-.7-.6-1.2-.6-1.1-.6-.5-.6-.9-.6 .4-.6 .4-.6 1.1-.6 .1-.6-.5-.6 .3-.6-.2-.6 .5-.6 .1-.6 0-.6-.5-.6 .3-.6 .3-.6 .4-.6-.6-.6 1-.6 .1-.6-.5-.6 .5-.6-1.2-.6-.1-.5 .2-.6 .1-.6 .9-.6-.8-.6-.2-.6 .1-.6-.2-.6 .3-.6 1-.6-1.1-.6 .3-.6 .5-.6 .1-.6-.7-.6 0-.6 .5-.6-1.2-.6 .8-.6-.6-.6 .3-.6 .7-.6-.7-.6-.2-.6-1-.6-.1-.6-1.3-.6 .2-.6-.3-.6-1-.6-1-.6-.4-.6-.4-.6-.7-.6 .5-.6 .7-.6 .4-.6-.1-.6 .6-.6 .7-.6 2-.6-1-.6 2-.6 .2-.6 .2-.6 .8-.6-.8-.6 .6-.6-.4-.6-.4-.6 .8-.6-.6-.6-.4-.6 .8-.6-.7-.6 .9-.6-.4-.6 .4-.6-1.2-.6 .2-.6-.1-.6-.3-.6 .1-.6 .2-.6-.4-.6 .4-.6 .4-.6-.1-.6-1.1-.6 0-.6-.1-.6-.2-.6-1.2-.6 .3-.6-.4-.6 .9-.6 .5-.6 1.5-.6-.9-.6 1.3-.6-.3-.6-.5-.6 1-.6 0-.6-.7-.6 .6-.6-.1-.6 0-.6 .1-.6 0-.6-.4-.6-.1-.6-.3-.6 .4-.6 .2-.6-.5-.6 0-.6 .7-.6 .1-.6-.8-.6 .9-.6-.8-.6 .2-.6 .4-.6-.9-.6 .5-.6 .6-.6-1.3-.6 1.2-.6-.5-.6 .3-.6 .4-.6-.5-.6-.5-.6 .4-.6-.8-.6 .2-.6 0-.6 .8-.6 .2-.6 .1-.6-.1-.6-.3-.6-.6-.6 .3-.6 .3-.6-.3-.6 .7-.6-.7-.6 .4-.6 .2-.6-.3-.6 .1-.6 .2-.6-1.2-.6 .4-.6 .8-.6-.2-.6 0-.6-.9-.6 .4-.6 .4-.6 0-.6-.5-.6 .8-.6-.4-.6-.4-.6 1-.6-.1-.6-.4-.6 .2-.6-.7-.6 1.1-.6 0-.6-.3-.6-.5-.6 .1-.6 .6-.6 .5-.6-.1-.6-.5-.6 .1-.6 0-.6-1.1z"/><path fill="#ffa500" d="M497.3 450.3l.6-.9 .6-.7 .6-.8 .6-.1 .6 0 .6-1 .6-.6 .6-.9 .6 .5 .6 .1 .6-.4 .6 .1 .6-.3 .6-.3 .6 .2 .6-.6 .6 .2 .6 .2 .6 .5 .6-.5 .6 .6 .6-.7 .6 0 .6 .3 .6-.4 .6 .3 .6 .4 .6 .2 .6-.6 .6-.3 .6 .9 .6-.2 .6 .1 .6-.3 .6 .6 .6-.4 .6-.2 .6-.2 .6 .8 .6 .1 .6-.6 .6 .5 .6 .2 .6-.7 .6 .4 .6-.6 .6 .3 .6 .6 .6-.1 .6-.3 .6-.1 .6 0 .6 0 .6-.1 .6 .7 .6 0 .6-.5 .6-.2 .6 .7 .6 0 .6-.1 .6-.4 .6 .1 .6-.5 .6-.2 .6 1.1 .6-.1 .6-1 .6 .1 .6-.1 .6 .1 .6 .8 .6-.2 .6 .1 .6-.5 .6 .3 .6-.3 .6 .3 .6-.5 .6-.2 .6 .3 .6-.1 .6 .4 .6-1.3 .6-.4 .6-.3 .6-.7 .6-.2 .6-1.1 .6 0 .6 .5 .6 .9 .6 .4 .6 .4 .6 .8 .6 .7 .6 .8 .6-.1 .6 .3 .6-.3 .6 .3 .6-.1 .6 .1 .6 .1 .6 .3 .6-.2 .6 .4 .6-.8 .6 .7 .6-.7 .6 .1 .6 0 .6 0 .6 .5 .6-.3 .6-.2 .6 .6 .6-1 .6 .4 .6-.2 .6-1.9 .6-.2 .6-1.3 .6-.8 .6-1.1 .6-.9 .6 .8 .6-.4 .6-1 .6 .6 .6 .6 .6 .5 .6 .5 .6-.1 .6 1.1 .6 .7 .6 .8 .6 .6 .6 .4 .6 .6 .6 .1 .6 .7 .6 .4 .6-.4 .6-.5 .6 1.1 .6-.2 .6-.4 .6 0 .6-.2 .6 .1 .6 .4 .6 .7 .6-.7 .6-.1 .6 .1 .6 0 .6 .3 .6-.4 .6 .4 .6 0 .6-.4 .5 .5 .6-.3 .6-.2 .6 .3 .6-.4 .6 .9 .6-.6 .6 0 .6 .8 .6-.3 .6 .1 .6-.1 .6-.6 .6 .6 .6-.3 .6-.5 .6-.5 .6-.9 .6 .4 .6-.6 .6-1 .6 .3 .6-.2 .6-.4 .6 1.1 .6 .8 .6 1 .6 .4 .6 .8 .6 .3 .6 .8 .6-.1 .6-.8 .6-.5 .6 .6 .6-.7 .6-.1 .6 .6 .6-.2 .6-.5 .6-.6 .6 .6 .6-.1 .6-1.2 .6-1.5 .6-1.7 .6-.7 .6-6.2 .6-9.3 .6-4.2 .6-10.3 .6-6 .6-13.5 .6-8 .6-11.5 .6-2.1 .6-2.8 .6-.9 .6 .8 .6 1.1 .6 1.7 .6 2.8 0 6-.6 .7-.6 .7-.6-.4-.6 .1-.6 1-.6 5-.6 4-.6 15.5-.6 9.2-.6 11.4-.6 6.1-.6 11-.6 3.1-.6 4.2-.6 1.6-.6 .8-.6 .8-.6-.3-.6 .5-.6-.1-.6-.1-.6 1.1-.6-.5-.6 .9-.6-.6-.6 .8-.6 .5-.6-.9-.6 .9-.6-.1-.6 1.2-.6-.1-.6-.3-.6-1.1-.6 .4-.6-.5-.6-2.3-.6-1.3-.6 .1-.6 .2-.6-.1-.6 .8-.6-.7-.6 .2-.6 .5-.6 .3-.6 .2-.6 .9-.6-.8-.6 .6-.6-.7-.6-.1-.6 .9-.6-.3-.6 .1-.6 .3-.6-.4-.6 .1-.6 .6-.6-.5-.6 .1-.5 .3-.6-.8-.6 .8-.6-.8-.6 .9-.6-1-.6 .3-.6-.3-.6 1-.6-.7-.6 0-.6 .6-.6-1-.6 .4-.6 .1-.6-.5-.6 .4-.6 .3-.6-.7-.6 .4-.6-.5-.6-.2-.6-.6-.6-.7-.6 .3-.6-.6-.6 .1-.6-1.4-.6-.4-.6-1.6-.6 .9-.6-.7-.6-1.1-.6 .2-.6 .5-.6 0-.6 .6-.6 .5-.6 1.4-.6 1.3-.6 .4-.6 .4-.6 1-.6 .9-.6-1-.6 .3-.6 .3-.6 .3-.6-.4-.6-.4-.6 .4-.6-.3-.6-.4-.6 .6-.6-.7-.6 .2-.6 .4-.6-.5-.6 .2-.6-.5-.6 .2-.6-.3-.6 .3-.6 .1-.6-.5-.6 .5-.6-.6-.6-.3-.6-.7-.6-.5-.6 .2-.6-.8-.6-.3-.6 .6-.6 .8-.6 .8-.6 1.2-.6-.2-.6 .4-.6-.1-.6-.6-.6 .8-.6-.5-.6-.1-.6-.1-.6-.1-.6-.1-.6 .7-.6 .2-.6-.1-.6 .3-.6 0-.6-.4-.6-.6-.6 .8-.6-.5-.6 .6-.6 0-.6-.2-.6-.7-.6 .4-.6 .6-.6 .1-.6-.2-.6-.9-.6 .3-.6-.2-.6 .4-.6 0-.6-.5-.6 .6-.6-.6-.6 .3-.6 0-.6 .3-.6-.4-.6 .7-.6-.7-.6-.1-.6 .1-.6 .2-.6 .2-.6 0-.6-.5-.6 .2-.6 .3-.6 .1-.6-.7-.6 .5-.6-.2-.6 .6-.6-.9-.6 .7-.6 .2-.6-.2-.6 .2-.6-.4-.6-.2-.6 .5-.6-.4-.6-.3-.6 .7-.6-.1-.6-.4-.6 .4-.6 .2-.6 .1-.6-.6-.6 .5-.6-.7-.6-.1-.6 .3-.6 .5-.6 .2-.6 .4-.6-.1-.6-.4-.6 .8-.6-.3-.6 .2-.6-1.3-.6 .5-.6-.5z"/><path fill="#ffa500" fill-opacity=".4" d="M631.6 408.2l.6 .8 .6 1.5 .6 4 .6 4.9 .6 3.3 .6 3.4 .6 5.9 .6 5 .6 .1 .6 1.4 .6 .7 .6 0 .6 .4 .6 .1 .6 1.5 .6 .2 .6-.4 .6 1.8 .6 1.3 .6 .7 .6 .5 .6-.7 .6-.8 .7 .6 .6-.4 .6-.7 .6 .8 .6-1.8 .6 .3 .6-.4 .6 .3 .6-.9 .6 .6 .6 .7 .6 .3 .6 .5 .6-.4 .6 1.8 .6 .1 .6 .7 .6-.5 .6 .4 .6 0 .6-.4 .6-1.1 .6-1.6 .6 0 .6-.4 .6-1.7 .6-2.4 .6-2 .6 .1 .6 0 .6-.5 .6-1.7 .6-.2 .6-.5 .6-.5 .6 0 .6-.7 .6 .1 .6 .3 .6 .9 .6 1.7 .6 1.8 .6 .8 .6 2.9 .6 3.1 .6 .7 .6 1.5 .6 1.1 .6 1.8 .6 1.3 .6 0 .6 .6 .6 1.7 .6 .7 .6 .7 .6-.2 .6-.1 .6-1.4 .6-.3 .6-.9 .6-2.3 .6-1.4 .6-1.7 .6-1.4 .6 .5 .6-.5 .6-.7 .7-1.1 .6-1 .6 .2 .6-.4 .6-.4 .6 .5 .6-.7 .6 .8 .6-.1 .6 .5 .6 .7 .6-.1 .6 .7 .6 0 .6 1.5 .6-.4 .6 .7 .6 0 .6-1.3 .6-1.4 .6 .3 .6-.7 .6 .6 .6 .2 .6-.6 .6 .6 .6 .1 .6 .2 .6-.1 .6 .9 .6 .2 .6 .2 .6 .9 .6-.3 .6-.3 .6-.2 .6 .6 .6-1.2 .6-.2 .6 .3 .6 .1 .6-.2 .6-1.1 .6-.5 .6-1.5 .6-.3 0 15.1-.6-.7-.6-.2-.6 .5-.6 1.2-.6-1-.6 0-.6 1.1-.6-.5-.6 .1-.6-1.3-.6-.2-.6 1.1-.6-.6-.6 .2-.6-.1-.6 .1-.6-.3-.6-.1-.6-.3-.6-.2-.6 .1-.6-1.1-.6-.4-.6-.4-.6 1.1-.6-.4-.6 1.5-.6-.4-.6 1-.6 .2-.6-1.2-.6 .6-.6-1.4-.6 .6-.6 .4-.6-1.2-.6-.1-.6-1-.6 .2-.6-.6-.6 0-.6 .7-.6 .1-.6 .4-.6 .3-.7 1.1-.6 .7-.6 2-.6 .4-.6-.8-.6 2.4-.6 1.6-.6 .8-.6 .8-.6 .3-.6 .3-.6-.1-.6-.2-.6-.5-.6-.3-.6-.9-.6 .4-.6-.3-.6-.8-.6-2.1-.6-.2-.6-1.4-.6-.6-.6-3.6-.6-2.9-.6-1.1-.6-1.4-.6-.9-.6-2.6-.6 .2-.6 .3-.6 .3-.6-.2-.6 .9-.6 1-.6-.6-.6 .6-.6 1.2-.6 .2-.6 .2-.6 2.3-.6 3.2-.6 .9-.6 1.3-.6 .5-.6-.9-.6 .7-.6 .9-.6 .2-.6-.5-.6-.1-.6-.2-.6-1.7-.6 .7-.6-1.5-.6 .7-.6 .2-.6-.5-.6-1.1-.6 .5-.6-.7-.6 1.6-.6-.2-.6 .5-.6 .4-.6-.3-.6-.3-.7 1.4-.6 0-.6-.4-.6 .6-.6-1.7-.6 .2-.6-1.1-.6-1-.6-.5-.6 .5-.6-1.8-.6 .2-.6-.3-.6-.7-.6-2.4-.6 .2-.6-3.5-.6-2.6-.6-1.7-.6-3.5-.6-6-.6-4.1-.6-3.7-.6-4.9z"/><path fill="#ffa500" d="M631.6 410l.6 .1 .6 1.2 .6 4.3 .6 5.5 .6 2.6 .6 2.4 .6 6.4 .6 4.7 .6 .8 .6 1.4 .6-.4 .6 .9 .6 1 .6 .5 .6-.4 .6 1 .6 .7 .6 .3 .6 1.9 .6 .1 .6-.1 .6 .8 .6-1.2 .7 .2 .6-.4 .6-.2 .6-.4 .6-.5 .6-.7 .6-.5 .6 .3 .6 .9 .6-.1 .6 1.3 .6 0 .6 .4 .6-.2 .6 .8 .6 .5 .6 .4 .6 .1 .6-.1 .6-.1 .6-.3 .6-1.2 .6-1.4 .6 .2 .6-1 .6-1.5 .6-1.6 .6-2 .6-.6 .6-.9 .6 .4 .6-1.1 .6-.1 .6-1.3 .6 .4 .6-.6 .6-.8 .6-.5 .6 1.3 .6 .6 .6 1.9 .6 .7 .6 1 .6 3.8 .6 3 .6 1.3 .6 .3 .6 1.5 .6 2.6 .6 .8 .6 0 .6 .4 .6 1.6 .6 .9 .6-.1 .6 .2 .6-.1 .6-1.1 .6 0 .6-1.1 .6-2.4 .6-1.7 .6-1.3 .6-.7 .6-.6 .6-.4 .6-1 .7-1.1 .6 .1 .6-.9 .6 .7 .6-.8 .6-.5 .6 .5 .6 .4 .6-.4 .6 .9 .6 .4 .6 0 .6 .8 .6 .4 .6 .7 .6-.2 .6 .8 .6-.5 .6-1 .6-.4 .6-.9 .6 .2 .6-.3 .6-.3 .6 .4 .6 .3 .6 .2 .6 .2 .6 .2 .6 .4 .6 .4 .6 .6 .6 0 .6 .7 .6-.8 .6-.3 .6 .3 .6-.6 .6 .1 .6 .6 .6-.6 .6-1.1 .6-.9 .6 .1 .6-.7 .6-.7 0 12.5-.6 .4-.6 .2-.6 .9-.6-.3-.6 .5-.6-.7-.6 .3-.6 .4-.6-1-.6 .1-.6 .3-.6-.1-.6-.7-.6 .6-.6-.8-.6-.3-.6 .6-.6-.5-.6 0-.6 .5-.6-1.1-.6 .2-.6-.7-.6-.1-.6 0-.6 .6-.6 .9-.6 .6-.6-.8-.6 .3-.6-.2-.6 .2-.6-.4-.6 .1-.6-.6-.6-.5-.6-.8-.6-.7-.6 .1-.6-.2-.6 .5-.6 .8-.6 .1-.6-.4-.6 .5-.7 1.6-.6 .8-.6 .7-.6 1.1-.6 .2-.6 1.5-.6 .6-.6 1.6-.6 .6-.6 0-.6 .1-.6 .4-.6 0-.6 .3-.6-.3-.6-1.3-.6-.6-.6 .1-.6-.1-.6-1.8-.6-.8-.6-.6-.6-1.5-.6-2.7-.6-3-.6-1.8-.6-.5-.6-2.4-.6-2.1-.6 .1-.6-.4-.6 .7-.6 1.3-.6 0-.6-.2-.6 .3-.6 .9-.6 .6-.6 .9-.6 .3-.6 2.7-.6 2-.6 1.8-.6 1-.6-.6-.6 1-.6-.2-.6-.2-.6 .8-.6 0-.6-.5-.6-.8-.6-.5-.6-.4-.6 .3-.6-.5-.6 .5-.6-.7-.6-.4-.6-.1-.6-.2-.6 .8-.6 .2-.6 .4-.6-.1-.6 .6-.6 .3-.7 .2-.6 0-.6 .7-.6-.8-.6 0-.6-1.4-.6-1-.6-1.1-.6 .5-.6-.3-.6-1.1-.6 .1-.6-1-.6-.2-.6-1.5-.6-1.5-.6-2.6-.6-3.3-.6-1.9-.6-3-.6-5.5-.6-5.1-.6-2.7-.6-5.6z"/><path fill="#ffa500" fill-opacity=".4" d="M713 417.5l.6-4.5 .6-2.9 .6-3.5 .6-.5 .6-1.5 .6-.6 .6 1.2 .6 1.5 .6-.4 .6 5.1 .6 4.6 .6 4.2 .6 7.6 .6 5.4 .6 1.9 .6 4.9 .6 3.2 .6-.1 .7-1 .6-.3 .6-1.2 .6-.6 .6 .4 .6-.9 .6-.9 .6-.4 .6 1.3 .6-.8 .6 1.5 .6 0 .6 .1 .6 .2 .6 .9 .6 1.4 .6-.5 .6-.9 .6-.9 .6-.9 .6-.7 .6 2.6 .6 .7 .6 2.5 .6-.5 .6 2.3 .6 2.2 .6 2.4 .6 .6 .6 1 .6 .4 .6 1 .6-1.5 .6-.5 .6-2.5 .6-.2 .6-.2 .6-1.9 .6-1.5 .6-1.4 .6-.9 .6-.7 .6-.3 .6-2.1 .6-.4 .6-.5 .6 .3 .6-.3 .6-1.3 .6 1.4 .6 .5 .6 .4 .6 .7 .6 1.7 .6 0 .6 .3 .7 1.8 .6 1 .6 .5 .6-.3 .6 .9 .6 .4 .6 .1 .6 .1 .6 .5 .6-.2 .6-.2 .6-.3 .6-.6 .6-.9 .6 .7 .6-.9 .6-.1 .6-.1 .6 .2 .6-.4 .6-.9 .6-1 .6 .6 .6 .1 .6-.6 .6 .4 .6-.9 .6 0 .6 .4 .6-1.3 .6 .6 .6 .3 .6-.5 .6 .4 .6-.9 .6 .9 .6 .1 .6 .1 .6 .3 .6 .9 .6-.4 .6 .7 .6-.1 .6 .4 .6-.4 .6 .3 .6 .1 .6 1.3 .6 1 .6-.8 0 9.7-.6 1.2-.6-.8-.6-.4-.6 .1-.6 .6-.6-.2-.6 0-.6-.8-.6-1.6-.6 1-.6-.9-.6-.2-.6 .2-.6-.2-.6 .1-.6-1.2-.6 1.2-.6-.7-.6 .4-.6 .5-.6-1.2-.6 1.2-.6-.7-.6 .7-.6-.4-.6 1.2-.6-.6-.6 .8-.6-.8-.6 .1-.6 1.2-.6-.6-.6 .5-.6-.3-.6-.2-.6 1-.6-.5-.6 1.6-.6-.6-.6-.2-.6 .7-.6-.7-.6 1-.6-.1-.6-.6-.6 0-.6-.3-.6-.5-.6-1.3-.7-1.5-.6-.7-.6-.7-.6-.4-.6-.5-.6-1.5-.6-.8-.6 .4-.6-.6-.6 .6-.6 .1-.6 .2-.6 .9-.6 1.7-.6 .8-.6 1.2-.6 1.1-.6 1.9-.6 2.2-.6 1-.6 .1-.6 .6-.6 1.2-.6 .4-.6 .7-.6-1.3-.6-1-.6-1-.6-.3-.6-.9-.6-2.3-.6-2.2-.6 .5-.6-2.1-.6-1.7-.6-2.6-.6 .5-.6 .8-.6 1.8-.6 0-.6 0-.6 0-.6 .1-.6-.6-.6-.6-.6 0-.6 .2-.6-.6-.6-.4-.6 .4-.6 1.1-.6-.2-.6 .7-.6 .4-.6 .6-.6-.9-.7 1.2-.6 .1-.6-1.9-.6-2.3-.6-2.3-.6-3.7-.6-5.1-.6-3.7-.6-5.4-.6-5.9-.6-.7-.6-2.9-.6 .3-.6 1-.6 1.9-.6 0-.6 1.8-.6 1.4-.6-.7z"/><path fill="#ffa500" d="M713 419l.6-4.2 .6-3.3 .6-3.6 .6-1 .6-1 .6-.5 .6 .3 .6 1.2 .6 .3 .6 4.3 .6 5.3 .6 3.3 .6 9.2 .6 3.7 .6 3 .6 3.7 .6 3.5 .6 .3 .7-1.5 .6-.3 .6-.3 .6-.2 .6 .1 .6-.5 .6-.6 .6-1.1 .6 .7 .6 .2 .6 .1 .6 .6 .6 1 .6-.5 .6 1.5 .6 0 .6 1.1 .6-1.6 .6-.9 .6-1.3 .6 0 .6 1.1 .6 2.8 .6 .4 .6 .9 .6 2.4 .6 2.1 .6 2 .6 .2 .6 1.2 .6 .5 .6 .6 .6-.5 .6-1.7 .6-1.4 .6-1.7 .6 .1 .6-.6 .6-2.5 .6-1.4 .6-.8 .6-.1 .6-1.5 .6-.5 .6-1.6 .6-.5 .6 .2 .6-.6 .6-.2 .6 .1 .6 1.1 .6 1.5 .6 1.1 .6 .7 .6-.1 .6 .8 .7 1 .6 1.7 .6 1 .6 .1 .6-1 .6 .8 .6-.4 .6 1.4 .6-.4 .6-.4 .6-.2 .6 .2 .6-.5 .6-.5 .6-.5 .6 .6 .6-.2 .6-.9 .6 .2 .6-.3 .6-1.3 .6 .2 .6 0 .6-.6 .6 .7 .6-.5 .6 0 .6-.8 .6 .2 .6-.8 .6 .2 .6 .6 .6-.2 .6 .2 .6-.3 .6-.1 .6 .5 .6 .3 .6-.3 .6 .4 .6 .2 .6 .7 .6-.6 .6 1.1 .6 .3 .6-.1 .6-.2 .6 .7 .6 1.2 .6 .2 0 7.9-.6 1.1-.6-.6-.6 0-.6-.4-.6 .5-.6-.8-.6 .1-.6-1.1-.6-.3-.6-.4-.6 .6-.6-.2-.6-1-.6 .5-.6-.6-.6-.3-.6 .5-.6 .5-.6-.5-.6 .3-.6-.4-.6-.3-.6 1.4-.6-.7-.6 1-.6 0-.6-.9-.6 1.1-.6-.1-.6-.4-.6 .5-.6 0-.6 .4-.6 .1-.6 .7-.6-.5-.6 .7-.6 0-.6 .9-.6-.5-.6-.4-.6 .8-.6-.3-.6-.5-.6-.5-.6 .6-.6 0-.6-1.5-.6-.9-.7-1.2-.6-.1-.6-.7-.6-.7-.6-1.6-.6-.1-.6-1.7-.6 .3-.6 .7-.6-.7-.6 .4-.6 .6-.6 1.6-.6 1.6-.6 .7-.6 .8-.6 .3-.6 2.6-.6 1.3-.6 2.3-.6-.6-.6 .8-.6 1.1-.6 .4-.6 .1-.6-.6-.6-1.1-.6-.2-.6-1-.6-.8-.6-2.1-.6-1.5-.6-.9-.6-2.3-.6-1.4-.6-1.6-.6 .2-.6 .5-.6 1.4-.6 .8-.6-.1-.6-.3-.6-.3-.6-.9-.6-.2-.6 .3-.6-.5-.6 0-.6-.2-.6 .7-.6-.2-.6 1.4-.6-.2-.6 .1-.6-.1-.6 1.4-.7-.5-.6 .9-.6-3-.6-2.4-.6-1.1-.6-3.2-.6-7.1-.6-2-.6-7-.6-4.6-.6-1.2-.6-2.1-.6-.2-.6 .6-.6 2.3-.6 .5-.6 2.2-.6 1.1-.6-1z"/><path fill="none" stroke="#ffa500" stroke-width="2.6" stroke-linejoin="round" stroke-linecap="round" d="M623 444.8l1.2-18 1.4-17.9 1.2-20 1.2-11.9"/><path fill="none" stroke="#ffa500" stroke-width="2.6" stroke-linejoin="round" stroke-linecap="round" d="M632.4 411.3l1 7.6 1.4 11.9 1.6 11"/><path fill="none" stroke="#ffa500" stroke-width="2.6" stroke-linejoin="round" stroke-linecap="round" d="M718.8 414.9l1.2 10.9 1.6 14"/><rect x="781.1" y="436.8" width="2.4" height="25.9" fill="#ffa500"/><rect x="782.3" y="360" width="4.4" height="68.8" fill="#ffa500" fill-opacity=".2"/><path fill="none" stroke="#ffa500" stroke-width="2.6" stroke-linecap="round" stroke-opacity=".2" stroke-dasharray="0 999" d="M783.1 361.2h.2"/><path fill="none" stroke="#ffa500" stroke-width="2.6" stroke-linecap="round" stroke-opacity=".2" stroke-dasharray="0 1.3 0 .1 0 999" d="M784.5 362.6h1.4"/><path fill="none" stroke="#ffa500" stroke-width="2.6" stroke-linecap="round" stroke-opacity=".2" stroke-dasharray="0 999" d="M783.1 364h.2"/><path fill="none" stroke="#ffa500" stroke-width="2.6" stroke-linecap="round" stroke-opacity=".2" stroke-dasharray="0 999" d="M782.9 365.4h.2"/><path fill="none" stroke="#ffa500" stroke-width="2.6" stroke-linecap="round" stroke-opacity=".2" stroke-dasharray="0 999" d="M782.9 366.8h.2"/><path fill="none" stroke="#ffa500" stroke-width="2.6" stroke-linecap="round" stroke-opacity=".2" stroke-dasharray="0 .1 0 999" d="M782.9 368.2h.2"/><path fill="none" stroke="#ffa500" stroke-width="2.6" stroke-linecap="round" stroke-opacity=".2" stroke-dasharray="0 1.1 0 999" d="M783.3 369.6h1.2"/><path fill="none" stroke="#ffa500" stroke-width="2.6" stroke-linecap="round" stroke-opacity=".2" stroke-dasharray="0 999" d="M783 372.4h.2"/><path fill="none" stroke="#ffa500" stroke-width="2.6" stroke-linecap="round" stroke-opacity=".2" stroke-dasharray="0 999" d="M784.9 374.5h.2"/><path fill="none" stroke="#ffa500" stroke-width="2.6" stroke-linecap="round" stroke-opacity=".2" stroke-dasharray="0 1 0 999" d="M784.7 375.9h1.1"/><path fill="none" stroke="#ffa500" stroke-width="2.6" stroke-linecap="round" stroke-opacity=".2" stroke-dasharray="0 1.7 0 .7 0 999" d="M782.9 376.6h2.4"/><path fill="none" stroke="#ffa500" stroke-width="2.6" stroke-linecap="round" stroke-opacity=".2" stroke-dasharray="0 999" d="M784.6 377.3h.2"/><path fill="none" stroke="#ffa500" stroke-width="2.6" stroke-linecap="round" stroke-opacity=".2" stroke-dasharray="0 1.5 0 999" d="M783.1 378h1.6"/><path fill="none" stroke="#ffa500" stroke-width="2.6" stroke-linecap="round" stroke-opacity=".2" stroke-dasharray="0 999" d="M784.1 378.7h.2"/><path fill="none" stroke="#ffa500" stroke-width="2.6" stroke-linecap="round" stroke-opacity=".2" stroke-dasharray="0 999" d="M785 379.4h.2"/><path fill="none" stroke="#ffa500" stroke-width="2.6" stroke-linecap="round" stroke-opacity=".2" stroke-dasharray="0 999" d="M785.4 381.5h.2"/><path fill="none" stroke="#ffa500" stroke-width="2.6" stroke-linecap="round" stroke-opacity=".2" stroke-dasharray="0 999" d="M783 382.9h.2"/><path fill="none" stroke="#ffa500" stroke-width="2.6" stroke-linecap="round" stroke-opacity=".2" stroke-dasharray="0 1.1 0 999" d="M784.3 383.6h1.2"/><path fill="none" stroke="#ffa500" stroke-width="2.6" stroke-linecap="round" stroke-opacity=".2" stroke-dasharray="0 999" d="M784.2 384.3h.2"/><path fill="none" stroke="#ffa500" stroke-width="2.6" stroke-linecap="round" stroke-opacity=".2" stroke-dasharray="0 999" d="M784.5 385h.2"/><path fill="none" stroke="#ffa500" stroke-width="2.6" stroke-linecap="round" stroke-opacity=".2" stroke-dasharray="0 999" d="M784 386.4h.2"/><path fill="none" stroke="#ffa500" stroke-width="2.6" stroke-linecap="round" stroke-opacity=".2" stroke-dasharray="0 999" d="M784.5 387.1h.2"/><path fill="none" stroke="#ffa500" stroke-width="2.6" stroke-linecap="round" stroke-opacity=".2" stroke-dasharray="0 999" d="M783 388.5h.2"/><path fill="none" stroke="#ffa500" stroke-width="2.6" stroke-linecap="round" stroke-opacity=".2" stroke-dasharray="0 1.3 0 999" d="M784 389.9h1.4"/><path fill="none" stroke="#ffa500" stroke-width="2.6" stroke-linecap="round" stroke-opacity=".2" stroke-dasharray="0 1.4 0 999" d="M783.1 394.1h1.4"/><path fill="none" stroke="#ffa500" stroke-width="2.6" stroke-linecap="round" stroke-opacity=".2" stroke-dasharray="0 999" d="M785.7 396.9h.2"/><path fill="none" stroke="#ffa500" stroke-width="2.6" stroke-linecap="round" stroke-opacity=".2" stroke-dasharray="0 1 0 999" d="M784.4 397.6h1.1"/><path fill="none" stroke="#ffa500" stroke-width="2.6" stroke-linecap="round" stroke-opacity=".2" stroke-dasharray="0 1.2 0 999" d="M784.8 398.3h1.2"/><path fill="none" stroke="#ffa500" stroke-width="2.6" stroke-linecap="round" stroke-opacity=".2" stroke-dasharray="0 999" d="M784.5 399h.2"/><path fill="none" stroke="#ffa500" stroke-width="2.6" stroke-linecap="round" stroke-opacity=".2" stroke-dasharray="0 .1 0 999" d="M785.3 401.8h.2"/><path fill="none" stroke="#ffa500" stroke-width="2.6" stroke-linecap="round" stroke-opacity=".2" stroke-dasharray="0 999" d="M783.7 404.6h.2"/><path fill="none" stroke="#ffa500" stroke-width="2.6" stroke-linecap="round" stroke-opacity=".2" stroke-dasharray="0 999" d="M784.5 406.7h.2"/><path fill="none" stroke="#ffa500" stroke-width="2.6" stroke-linecap="round" stroke-opacity=".2" stroke-dasharray="0 1.9 0 999" d="M784 407.4h1.9"/><path fill="none" stroke="#ffa500" stroke-width="2.6" stroke-linecap="round" stroke-opacity=".2" stroke-dasharray="0 999" d="M784.4 408.8h.2"/><path fill="none" stroke="#ffa500" stroke-width="2.6" stroke-linecap="round" stroke-opacity=".2" stroke-dasharray="0 999" d="M783.7 410.2h.2"/><path fill="none" stroke="#ffa500" stroke-width="2.6" stroke-linecap="round" stroke-opacity=".2" stroke-dasharray="0 999" d="M783.5 410.9h.2"/><path fill="none" stroke="#ffa500" stroke-width="2.6" stroke-linecap="round" stroke-opacity=".2" stroke-dasharray="0 999" d="M784.6 412.3h.2"/><path fill="none" stroke="#ffa500" stroke-width="2.6" stroke-linecap="round" stroke-opacity=".2" stroke-dasharray="0 999" d="M783.8 413.7h.2"/><path fill="none" stroke="#ffa500" stroke-width="2.6" stroke-linecap="round" stroke-opacity=".2" stroke-dasharray="0 999" d="M784.6 415.1h.2"/><path fill="none" stroke="#ffa500" stroke-width="2.6" stroke-linecap="round" stroke-opacity=".2" stroke-dasharray="0 999" d="M785.3 415.8h.2"/><path fill="none" stroke="#ffa500" stroke-width="2.6" stroke-linecap="round" stroke-opacity=".2" stroke-dasharray="0 2 0 999" d="M783.8 417.9h2"/><path fill="none" stroke="#ffa500" stroke-width="2.6" stroke-linecap="round" stroke-opacity=".2" stroke-dasharray="0 999" d="M783.9 420h.2"/><path fill="none" stroke="#ffa500" stroke-width="2.6" stroke-linecap="round" stroke-opacity=".2" stroke-dasharray="0 999" d="M784.9 420.7h.2"/><path fill="none" stroke="#ffa500" stroke-width="2.6" stroke-linecap="round" stroke-opacity=".2" stroke-dasharray="0 999" d="M785.8 422.1h.2"/><path fill="none" stroke="#ffa500" stroke-width="2.6" stroke-linecap="round" stroke-opacity=".2" stroke-dasharray="0 999" d="M785.5 422.8h.2"/><path fill="none" stroke="#ffa500" stroke-width="2.6" stroke-linecap="round" stroke-opacity=".2" stroke-dasharray="0 2.1 0 999" d="M783.4 423.5h2.1"/><path fill="none" stroke="#ffa500" stroke-width="2.6" stroke-linecap="round" stroke-opacity=".2" stroke-dasharray="0 999" d="M784.6 425.6h.2"/><path fill="none" stroke="#ffa500" stroke-width="2.6" stroke-linecap="round" stroke-opacity=".2" stroke-dasharray="0 .7 0 999" d="M783.7 426.3h.8"/><path fill="none" stroke="#ffa500" stroke-width="2.6" stroke-linecap="round" stroke-opacity=".2" stroke-dasharray="0 999" d="M784.3 427.7h.2"/><path fill="none" stroke="#ffa500" stroke-width="2.6" stroke-linecap="round" stroke-opacity=".2" stroke-dasharray="0 .8 0 999" d="M784 428.4h.9"/><path fill="none" stroke="#ffa500" stroke-width="2.6" stroke-linecap="round" stroke-opacity=".3" stroke-dasharray="0 999" d="M782.7 401.8h.2"/><path fill="none" stroke="#ffa500" stroke-width="2.6" stroke-linecap="round" stroke-opacity=".3" stroke-dasharray="0 999" d="M783.2 403.2h.2"/><path fill="none" stroke="#ffa500" stroke-width="2.6" stroke-linecap="round" stroke-opacity=".3" stroke-dasharray="0 .7 0 999" d="M782.6 403.9h.8"/><path fill="none" stroke="#ffa500" stroke-width="2.6" stroke-linecap="round" stroke-opacity=".3" stroke-dasharray="0 1.4 0 999" d="M782.5 404.6h1.4"/><path fill="none" stroke="#ffa500" stroke-width="2.6" stroke-linecap="round" stroke-opacity=".3" stroke-dasharray="0 999" d="M783.8 405.3h.2"/><path fill="none" stroke="#ffa500" stroke-width="2.6" stroke-linecap="round" stroke-opacity=".3" stroke-dasharray="0 999" d="M784.1 406h.2"/><path fill="none" stroke="#ffa500" stroke-width="2.6" stroke-linecap="round" stroke-opacity=".3" stroke-dasharray="0 999" d="M783.1 408.8h.2"/><path fill="none" stroke="#ffa500" stroke-width="2.6" stroke-linecap="round" stroke-opacity=".3" stroke-dasharray="0 .5 0 999" d="M783.4 409.5h.6"/><path fill="none" stroke="#ffa500" stroke-width="2.6" stroke-linecap="round" stroke-opacity=".3" stroke-dasharray="0 .8 0 .1 0 999" d="M782.8 410.2h1"/><path fill="none" stroke="#ffa500" stroke-width="2.6" stroke-linecap="round" stroke-opacity=".3" stroke-dasharray="0 999" d="M782.9 411.6h.2"/><path fill="none" stroke="#ffa500" stroke-width="2.6" stroke-linecap="round" stroke-opacity=".3" stroke-dasharray="0 999" d="M782.8 413h.2"/><path fill="none" stroke="#ffa500" stroke-width="2.6" stroke-linecap="round" stroke-opacity=".3" stroke-dasharray="0 1 0 999" d="M782.6 414.4h1.1"/><path fill="none" stroke="#ffa500" stroke-width="2.6" stroke-linecap="round" stroke-opacity=".3" stroke-dasharray="0 999" d="M782.9 415.1h.2"/><path fill="none" stroke="#ffa500" stroke-width="2.6" stroke-linecap="round" stroke-opacity=".3" stroke-dasharray="0 999" d="M782.4 417.9h.2"/><path fill="none" stroke="#ffa500" stroke-width="2.6" stroke-linecap="round" stroke-opacity=".3" stroke-dasharray="0 999" d="M782.7 418.6h.2"/><path fill="none" stroke="#ffa500" stroke-width="2.6" stroke-linecap="round" stroke-opacity=".3" stroke-dasharray="0 999" d="M782.9 419.3h.2"/><path fill="none" stroke="#ffa500" stroke-width="2.6" stroke-linecap="round" stroke-opacity=".3" stroke-dasharray="0 999" d="M782.3 420.7h.2"/><path fill="none" stroke="#ffa500" stroke-width="2.6" stroke-linecap="round" stroke-opacity=".3" stroke-dasharray="0 999" d="M782.5 423.5h.2"/><path fill="none" stroke="#ffa500" stroke-width="2.6" stroke-linecap="round" stroke-opacity=".3" stroke-dasharray="0 .1 0 999" d="M783.8 428.4h.2"/><path fill="none" stroke="#ffa500" stroke-width="2.6" stroke-linecap="round" stroke-opacity=".3" stroke-dasharray="0 999" d="M784.2 431.9h.2"/><path fill="none" stroke="#ffa500" stroke-width="2.6" stroke-linecap="round" stroke-opacity=".3" stroke-dasharray="0 999" d="M783.1 432.6h.2"/><path fill="none" stroke="#ffa500" stroke-width="2.6" stroke-linecap="round" stroke-opacity=".3" stroke-dasharray="0 999" d="M783.5 434.7h.2"/></g>
<path class="t" d="M479.5 462.5v5M506.5 462.5v5M534.5 462.5v5M561.5 462.5v5M589.5 462.5v5M616.5 462.5v5M644.5 462.5v5M671.5 462.5v5M699.5 462.5v5M726.5 462.5v5M754.5 462.5v5M782.5 462.5v5M473.5 373.5h-4.9M473.5 413.5h-4.9M473.5 453.5h-4.9"/>
<rect class="sp" x="473.5" y="359.5" width="328" height="103"/>
</g>
<g id="p30">
<clipPath id="c30"><rect x="80.5" y="522.5" width="327" height="103"/></clipPath>
<g clip-path="url(#c30)"><path fill="none" stroke="#0000ff" stroke-width="2.6" stroke-linejoin="round" stroke-linecap="round" d="M105.9 567.3l0 27.9"/><path fill="none" stroke="#0000ff" stroke-width="3.2" stroke-linejoin="round" stroke-linecap="round" d="M105.3 590.8l0 4.4"/><path fill="#0000ff" fill-opacity=".4" d="M104.9 566.6l.6-.9 .6-.7 .6 .9 .6 .5 .6 0 .6 .8 .6 1.4 .6 .8 .6-.8 .6 .5 .6-.3 .6 .3 .6 .7 .6-.8 .6 .4 .6 .1 .6 .6 .6-.1 .6-.2 .6 .5 .6-1.1 .6 .5 .6 .7 .6-2.2 .6-1.7 .6 .3 .6 .4 .6 .3 .6-.1 .6 3.3 .6-.4 .6 .4 .6-.3 .6-4.9 .6 .1 .6 .6 .6 .3 .6-.1 .6-.7 .6-.1 .6 .5 .6 .6 .6 1.9 .6 2.2 .6 .3 .6 .2 .6-.4 .6-.5 .6 .9 .6-.1 .6 .5 .6-.2 .6 .1 .6-.8 .6-.8 .6-.5 .6-.7 .6-.1 .6 .3 .6 .1 .6 0 .6 2.4 .6-.3 .6 1.1 .6-.5 .6 .4 .6-.8 .6 1 .6-1.1 .6 .1 .6 .1 .6-1.1 .6 .2 .6 .8 .6-.9 .6 1.5 .6-.8 .6-1.4 .6 .4 .6-.4 .6-.5 .6 .5 .6 1.5 .6-.3 .6 .4 .6-.6 .6 .9 .6 .5 .6 .5 .6-.3 .6 .4 .6-.7 .6 .7 .6-1 .6 1.1 .6-.2 .6-.7 .6 .7 .6-.4 .6 .1 .6-.6 .6 .1 .6-.6 .6-.3 .6-.1 .6 1.3 .6 .5 .6-.3 .6-.6 .6 .5 .6-.4 .6-.1 .6 .1 .6 .4 .6-1 .6-2 .6 .1 .6-.1 .6 .4 .6 1.9 .6 .9 .6 0 .6 .3 .6 0 .6-.8 .6 0 .6-.7 .6 .9 .6 .6 .6-.1 .6-.7 .6 .9 .6-.7 .6 .2 .6-.1 .6 .3 .6-.7 .6-1 .6 .3 .6 .8 .6 .1 .6 .2 .6 .7 .6-.8 .6-.1 .6 .2 .6 .8 .6-.6 .6-.1 .6 .1 .6 .3 .6 .4 .6-.7 .6 .1 .6 .7 .6-.7 .6 .7 .6-.2 .6-.8 .6 .2 .6 .3 .6-.3 .6-1.1 .6 0 .6-.3 .6 2.3 .6-1 .6 .5 .6 .3 .6-.4 .6-.3 .6 .8 .6 .2 .6-.3 .6-.8 .6 .3 .6 .3 .6-.7 .6 .9 .6-.5 .6 .3 .6 .2 .6-.3 .6-.5 .6 .5 .6 .5 .6-.9 .6 .1 .6-.1 .6 .7 .6 .2 .6-.3 .6-.3 .6-.3 .6-1.6 .6 .7 .6-.9 .6 1 .6 .9 .6-.3 .6 .4 .6 .3 .6-1 .6 .9 .6-.3 .6 .5 .6-.1 .6-.4 .6-1.5 .6 1.2 .6 .3 .6-.2 .6 .5 .6-.4 .6-.1 .6-.2 .6 .3 .6-.8 .6 .2 .6 .9 .6-.3 .6-.8 .6-1.1 .6-.8 .6 .5 .6 .3 .6 1.5 .6-.4 .6 .9 .6-3 .6-.4 .6-.4 .6 0 .6 .2 .6-.2 .6 .5 .6 3.1 .6-.1 .6 .3 .6-1 .6 .3 .6 0 .6 .1 .6 .5 .6-.9 .6 .9 .6-.7 .6 .6 .6-.9 .6 .3 .6 0 .6 .4 .6-.2 .6-1 .6-5 .6 .6 .6-.2 .6 .2 .6 .8 .6 4.5 .6 .7 .6-1.3 .6-.7 .6-.6 .6-.5 .6 .6 .6 2.3 .6-.4 .6 .6 .6-.7 .6-.1 .6 1 .6-.3 .6-.5 .6 0 .6-.3 .6 1 .6-.4 .6 .1 .6-.3 .6 .4 .6 .1 .6 .1 .6-.9 .6 .5 .6-.7 .6-.1 .6 .8 .6 .2 .6-.2 .6-.6 .6 .4 .6-.7 .6 1.1 .6-.5 .6-.4 .6 .5 .6-.3 .6 .5 .6-.1 .6-.8 .6 .8 .6-.4 .6-.1 .6 .2 .6 .1 .6-.3 .6 .2 .6 0 .6-.1 .6 .3 .6-.5 .6 .6 .6-.1 .6-.3 .6 .7 .6-.9 .6-.2 .6 .7 .6 .1 .6 0 .6-.7 .6 .1 .6 .7 .6-.2 .6-.8 .6-.1 .6-1.3 .6 .8 .6 .7 .6 .5 .6-1.1 .6-1.5 .6 .5 .6 1.1 .6 .5 .6-.1 .6 .3 .6-.1 .6-1.9 .6-.7 .6 .1 .6 .2 .6 2.7 .6-.2 .6 .1 .6 .1 .6 .3 .6-.9 .6 .2 .6 0 .6 .2 .6-.9 .6-.6 .6 .2 .6 1.2 .6 .8 .6-.6 .6-.1 .6 .3 .6-.3 .6-.2 .6 .3 .6 .4 .6 .1 .6-1 .6 1.1 .6-.5 .6 .5 .6-.3 .6 .2 .6-.5 .6-.4 .6 .1 .6 1 .6-.2 .6-.4 .6 .2 .6 .4 .6-.2 .6-.2 .6-.3 .6-.2 .6-1.1 .6-.2 .6 1 .6 1.1 .6-.7 .6-.2 .6 .1 .6 1 .6-.7 .6 .6 .6-.2 .6-.1 .6 .3 .6-.6 .6 0 .6-.2 .6 .3 .6 0 .6-.2 .6 .7 .6 0 .6-.7 .6-.1 .6 .1 .6 .8 .6-.5 .6 1 .6-.5 .6 .3 .6 1.1 .6-.4 .6 .4 .6 .1 .6-.8 .6 .4 .6 .4 .6-.7 .6-2.2 .6 0 .6 .3 .6 .2 .6 1 .6 2.4 .6-.8 .6 .8 .6-.2 .6 .1 .6-.3 .6 0 .6-3 .6-.4 .6-.5 .6 .2 .6-.2 .6 1.7 .6 3.3 .6-.4 .6 1.1 .6-.6 .6 .8 .6-.6 .6 .4 .6-.1 .6-.6 .6 .3 .6-.8 .6 .1 .6-.2 .6 1.2 .6-.3 .6-.1 .6 .5 .6-.8 .6 .9 .6-.6 .6 .6 .6-.8 .6-1.2 .6 .1 .6-.2 .6 0 .6 2 .6-.8 .6 .8 .6 0 .5-.4 .6 .3 .6-.5 .6-.4 .6-.2 .6 0 .6 .1 0 6.6-.6-.7-.6 .5-.6-.2-.6 .8-.6-.7-.6 .2-.5 0-.6 .1-.6-.5-.6-.2-.6 1.1-.6-.4-.6-.3-.6 .6-.6-.1-.6-.6-.6-.3-.6 1.1-.6-.7-.6 .5-.6-.5-.6 .7-.6-.2-.6-.3-.6-.5-.6-.1-.6 .3-.6 .1-.6-.3-.6 .3-.6 0-.6 .5-.6 0-.6-.5-.6-.5-.6 .3-.6 .2-.6 .2-.6-.2-.6-.1-.6 0-.6-.7-.6-.4-.6 .1-.6 .3-.6-.6-.6 .4-.6 .6-.6-.8-.6 .1-.6-.3-.6 .7-.6-.9-.6 .8-.6-.3-.6-.6-.6-.4-.6 0-.6 .5-.6-.4-.6 .6-.6-.2-.6 .1-.6-.6-.6 .3-.6-1-.6 .4-.6-.4-.6-.2-.6-.5-.6 .1-.6 0-.6 .2-.6-.3-.6 .5-.6-.5-.6 .4-.6-.6-.6-.2-.6 0-.6 1-.6-.8-.6 .6-.6-.3-.6 .2-.6-.3-.6-.1-.6 .3-.6-.8-.6 .1-.6 1-.6-.1-.6-.3-.6-.7-.6 .5-.6 .6-.6-1-.6 .5-.6-.1-.6-.5-.6-.1-.6 .5-.6-.5-.6 .1-.6 .8-.6-.4-.6 .6-.6 0-.6-.4-.6-.4-.6-.1-.6 .5-.6-.5-.6 0-.6 0-.6 .4-.6-.5-.6 .8-.6-.9-.6 1.1-.6-.4-.6 .5-.6-.9-.6 .4-.6-.1-.6 0-.6-.4-.6 .7-.6 .4-.6-.7-.6 .1-.6 .5-.6 0-.6-.7-.6 .2-.6 0-.6 .2-.6-.7-.6 0-.6 .5-.6-.4-.6 1-.6-1.1-.6 0-.6 .3-.6 .4-.6-.2-.6 .4-.6-.5-.6 .2-.6 .4-.6-.6-.6 .2-.6-.3-.6-.1-.6 .3-.6-.3-.6 1-.6-1-.6 .4-.6-.3-.6-.1-.6 .4-.6 .3-.6-.6-.6 .7-.6-.8-.6-.2-.6 .2-.6 .5-.6-.7-.6 .6-.6-.6-.6 .7-.6-.7-.6 .9-.6 0-.6-.6-.6 .2-.6 .6-.6-.6-.6-.2-.6 .3-.6 .1-.6-.4-.6 .9-.6-.8-.6-.2-.6 .6-.6-.1-.6 .1-.6-.1-.6 .5-.6-.4-.6 .7-.6-.5-.6-.2-.6-.4-.6 .2-.6 .2-.6-.4-.6 .6-.6 0-.6-.6-.6 .4-.6 .5-.6 0-.6-.2-.6-.7-.6 .1-.6 .2-.6-.3-.6 .7-.6-.8-.6 .4-.6 .7-.6-1.1-.6 0-.6 1-.6-.4-.6-.4-.6 0-.6 .8-.6-1-.6 .5-.6 .2-.6-.7-.6 1-.6-.5-.6 .3-.6-.5-.6 .3-.6-.3-.6 .4-.6 .4-.6-.8-.6 .8-.6 .2-.6-.5-.6 .3-.6-.7-.6 .3-.6 .2-.6-.3-.6 .1-.6-.4-.6 .1-.6 0-.6 .7-.6-.8-.6 1-.6-.3-.6-.4-.6 .7-.6-.1-.6 .2-.6-.5-.6 .4-.6-.6-.6 .1-.6-.3-.6-.2-.6 .5-.6 .6-.6-.8-.6 .2-.6-.3-.6 .5-.6-.5-.6 .7-.6-.9-.6 .4-.6 .7-.6-.9-.6 .2-.6 .7-.6-.9-.6-.1-.6 .3-.6 .2-.6-.1-.6-.3-.6 .9-.6-.4-.6-.1-.6-.5-.6 .1-.6 .1-.6 .7-.6-.1-.6-.7-.6 .7-.6-.4-.6-.2-.6 0-.6 .5-.6-.1-.6-.6-.6 .3-.6 .2-.6-.4-.6 .1-.6 .5-.6 0-.6-.8-.6 .9-.6-.8-.6-.3-.6-.1-.6 1-.6-.3-.6-.4-.6-.1-.6 .5-.6-.6-.6 .4-.6-.2-.6 0-.6 .4-.6-.6-.6-.3-.6 .9-.6 .2-.6-.4-.6 .2-.6-.1-.6-.3-.6 .5-.6-.2-.6-.5-.6 .2-.6 .5-.6-.8-.6 0-.6 .6-.6-.1-.6-.2-.6 .2-.6 .2-.6 .1-.6 0-.6-1-.6 1-.6-.8-.6 .2-.6 .4-.6-.6-.6 .5-.6-.7-.6 .5-.6-.3-.6 .6-.6-.2-.6-.6-.6 .3-.6 .3-.6 .3-.6-.2-.6-.8-.6 1-.6-.7-.6 .2-.6 0-.6-.4-.6 .6-.6-.2-.6-.2-.6 .4-.6-.8-.6 .5-.6-.4-.6 .8-.6-.9-.6 .9-.6-1-.6 1-.6-.9-.6 .1-.6 0-.6 0-.6-.1-.6 .5-.6 .3-.6 0-.6-.3-.6 .1-.6-.1-.6-.5-.6-.1-.6 .9-.6-.7-.6 .3-.6 .2-.6 .2-.6-.1-.6-.2-.6 0-.6-.6-.6 .7-.6-.1-.6-.1-.6 .2-.6 .1-.6-.1-.6-.3-.6 .5-.6-.2-.6-.6-.6 .1-.6-.4-.6 .2-.6-.2-.6 .6-.6 .1-.6-.3-.6 .1-.6-.4-.6 .6-.6-.2-.6 0-.6 0-.6-.4-.6 .1-.6-.5-.6 .3-.6 .2-.6-.1-.6 .3-.6-1.1-.6 .4-.6-.4-.6 .2-.6 .3-.6 0-.6-.2-.6 .6-.6-.5-.6-.4-.6 .4-.6 0-.6-.2-.6 .5-.6 0-.6-.5-.6 .2-.6 .4-.6-.3-.6-.2-.6-.6-.6 .2-.6 .2-.6-.5-.6 .1-.6 .2-.6 0-.6-.4-.6 .7-.6 0-.6 .1-.6-.2-.6-.1-.6 0-.6 0-.6-.3-.6 .2-.6-.7-.6 .7-.6-.7-.6-.2-.6 .2-.6 0-.6-.6-.6 .1-.6 .4-.6-.4z"/><path fill="#0000ff" d="M104.9 567l.6-.3 .6-1 .6-.1 .6 1.3 .6 .2 .6 .6 .6 1 .6 1.1 .6-.1 .6-.3 .6 .5 .6 .2 .6-.4 .6 .2 .6 .4 .6 .2 .6-.4 .6-.4 .6 .9 .6-.6 .6-.1 .6 .6 .6-.5 .6-1.4 .6-.6 .6-.6 .6 .3 .6-.5 .6 .8 .6 2.4 .6 .8 .6-.3 .6 .1 .6-3.9 .6-.5 .6 .4 .6-.6 .6 .4 .6-.6 .6 .8 .6 .1 .6-.3 .6 1.8 .6 2.6 .6 .4 .6-.1 .6-.1 .6-.1 .6 .2 .6 .5 .6-.4 .6 .4 .6-.1 .6-.4 .6-.9 .6-1.4 .6 .4 .6-.5 .6 .1 .6 .1 .6 .5 .6 2.7 .6-.2 .6 .2 .6-.5 .6 .2 .6 .4 .6 .3 .6-.8 .6 .3 .6 .1 .6-1.2 .6 .5 .6-.5 .6 .1 .6 1 .6-.8 .6-1.7 .6 .6 .6-.1 .6-.4 .6 .4 .6 2.3 .6-.9 .6-.4 .6-.2 .6 .4 .6 1.1 .6-.3 .6 .1 .6 .5 .6-.4 .6 .6 .6-.6 .6-.1 .6 .1 .6 .5 .6 0 .6-.6 .6 0 .6 0 .6 .5 .6-.9 .6-.6 .6 0 .6 .6 .6 1.3 .6-.1 .6-.8 .6 .8 .6-.3 .6 .4 .6-.1 .6 .1 .6-1.4 .6-2.1 .6 .5 .6-.5 .6 .1 .6 2.9 .6 .4 .6 .2 .6-.3 .6 .1 .6-.6 .6-.4 .6 .4 .6 .2 .6 .2 .6 .3 .6 .2 .6-.2 .6-.2 .6 0 .6 .2 .6-.7 .6-.6 .6 .2 .6-.1 .6 .1 .6 .7 .6 .5 .6 0 .6-.5 .6 .5 .6-.3 .6 .2 .6-.5 .6 .7 .6-.4 .6 .3 .6 .3 .6 0 .6-.6 .6 0 .6 .2 .6-.4 .6 .3 .6 .3 .6-.3 .6-.2 .6 .4 .6-2.1 .6 0 .6 .6 .6 1.9 .6 0 .6-.8 .6 .1 .6 .3 .6-.5 .6 .6 .6-.5 .6 .9 .6-.9 .6 .4 .6-.1 .6 .5 .6-.6 .6 .1 .6-.4 .6 .2 .6 .5 .6-.2 .6 .4 .6-.8 .6 .7 .6-.8 .6 .9 .6-.6 .6 .5 .6 0 .6-.8 .6 0 .6-.6 .6-.5 .6-.3 .6 .8 .6 .9 .6 .2 .6-.1 .6 .3 .6-.2 .6-.8 .6 .5 .6-.5 .6 .8 .6-.6 .6-.3 .6 .1 .6 .3 .6 .2 .6-.5 .6 .8 .6-.9 .6-.2 .6 .7 .6 .2 .6-.3 .6-.1 .6 .3 .6-.5 .6-2 .6-.4 .6 .1 .6 .6 .6 1.1 .6 .5 .6 .4 .6-2.5 .6-.4 .6 .2 .6-.6 .6 .1 .6 .4 .6-.3 .6 2.7 .6 0 .6 0 .6 0 .6 .1 .6-.1 .6 .4 .6-.5 .6 .4 .6-.7 .6 .4 .6-.3 .6-.1 .6 .4 .6 .1 .6-.1 .6 .1 .6-1.1 .6-4.3 .6 0 .6-.1 .6 0 .6 1.3 .6 3.9 .6 .4 .6-.7 .6-1.8 .6 .8 .6-.8 .6 .9 .6 1.9 .6-.3 .6-.4 .6 .3 .6 .3 .6-.5 .6 .3 .6 .3 .6 .1 .6-.1 .6-.5 .6 .2 .6 .2 .6-.5 .6-.2 .6 .2 .6 .4 .6-.1 .6-.2 .6 0 .6 .6 .6-.2 .6 0 .6-.2 .6 .2 .6-.8 .6 .5 .6-.1 .6 .2 .6 0 .6-.4 .6 .1 .6-.3 .6 .4 .6-.6 .6 .5 .6-.4 .6 .5 .6-.3 .6 .4 .6-.4 .6-.2 .6 .4 .6 .1 .6 .3 .6-.1 .6-.4 .6 0 .6 .4 .6-.1 .6-.1 .6 0 .6 .3 .6-.6 .6-.3 .6 1 .6-.2 .6-.1 .6 0 .6-.2 .6-.6 .6-1 .6-.2 .6 1 .6 .5 .6-1.2 .6-.6 .6-.5 .6 2.4 .6 .6 .6-.7 .6 .1 .6 .2 .6-2.6 .6-.7 .6 0 .6 0 .6 3.3 .6 .4 .6-.8 .6 .2 .6-.3 .6 0 .6 .8 .6-.2 .6 .2 .6-1.3 .6-.4 .6 .5 .6 1.1 .6 .2 .6-.1 .6-.4 .6 0 .6 .3 .6-.5 .6 .5 .6 .1 .6-.3 .6 .1 .6-.2 .6-.3 .6-.1 .6 .3 .6 .6 .6-.2 .6 .2 .6-.4 .6 .3 .6 0 .6-.4 .6-.3 .6 .3 .6-.3 .6 .5 .6 0 .6-1 .6 .2 .6-.1 .6-.1 .6 1 .6 .1 .6 .3 .6-.8 .6 .2 .6 0 .6 .3 .6 .2 .6-.5 .6-.2 .6 .4 .6 .3 .6-.1 .6 .2 .6-.5 .6-.1 .6-.1 .6 .4 .6 .2 .6-.3 .6 .2 .6 .2 .6 .5 .6-.5 .6 .5 .6 .2 .6 .4 .6 .4 .6-.5 .6 0 .6 .8 .6-.3 .6 0 .6-.7 .6-1.7 .6-.3 .6 .4 .6 0 .6 1.1 .6 2.3 .6 0 .6-.2 .6 0 .6-.1 .6 .6 .6-.1 .6-3.8 .6-.2 .6 .3 .6-.5 .6 .7 .6 .3 .6 3.4 .6 .9 .6-.4 .6-.2 .6 .8 .6-.5 .6 .1 .6-.1 .6-.3 .6 .1 .6-.6 .6-.4 .6 .5 .6 .4 .6 .7 .6 0 .6-.6 .6 .3 .6-.1 .6 .1 .6 .4 .6-.9 .6-.4 .6-.3 .6-.5 .6 .8 .6 1 .6 .2 .6 0 .6-.2 .5-.2 .6 .4 .6-.5 .6-.6 .6 0 .6-.3 .6 .6 0 5.5-.6-.4-.6 0-.6-.1-.6-.3-.6 .3-.6-.1-.5 .2-.6 .4-.6-.3-.6-.1-.6-.2-.6-.2-.6 .5-.6 .1-.6 0-.6-.6-.6 .4-.6 .3-.6-.7-.6 .5-.6-.6-.6 .3-.6-.2-.6 .6-.6 .1-.6-.5-.6 .6-.6-.2-.6 0-.6 .2-.6-.7-.6 .5-.6-.1-.6-.7-.6 .6-.6-.5-.6 .3-.6 .1-.6-.8-.6 .6-.6-.4-.6-.2-.6 .3-.6-.5-.6 .6-.6-.5-.6 .2-.6 .1-.6-.6-.6 .5-.6-.3-.6-.4-.6-.2-.6-.1-.6-.2-.6 .4-.6-.1-.6 .2-.6 0-.6-.6-.6 .5-.6-.5-.6 0-.6-.5-.6 0-.6-.2-.6-.4-.6-.1-.6 0-.6-.2-.6 .6-.6-.6-.6 .1-.6 .2-.6-.8-.6 .2-.6-.1-.6 .5-.6 .1-.6-.3-.6 .1-.6-.1-.6 .2-.6-.1-.6-.5-.6 .4-.6-.3-.6-.3-.6 .9-.6-.6-.6 .2-.6-.5-.6 .4-.6-.1-.6 .4-.6-.3-.6 .5-.6 0-.6-.6-.6 .1-.6-.2-.6 .3-.6 .2-.6-.8-.6 .6-.6-.2-.6-.4-.6 .1-.6 .3-.6 0-.6-.2-.6 0-.6 .6-.6-.6-.6 .1-.6-.2-.6 .9-.6-.4-.6-.5-.6 .4-.6-.1-.6 .3-.6-.5-.6 .3-.6-.4-.6 .8-.6-.6-.6 .5-.6 .1-.6-.4-.6 .5-.6-.4-.6 .3-.6-.4-.6 .4-.6 0-.6 .1-.6-.3-.6 .3-.6-.5-.6-.2-.6 .8-.6-.2-.6-.1-.6 .2-.6-.7-.6 .3-.6-.1-.6 .3-.6-.3-.6 0-.6-.1-.6-.2-.6 .5-.6 .3-.6-.3-.6 .4-.6-.6-.6 .3-.6 0-.6 .1-.6-.3-.6 .1-.6-.1-.6-.4-.6 .9-.6-.2-.6 .2-.6-.4-.6 0-.6-.3-.6 0-.6 0-.6 .3-.6 .4-.6-.4-.6 .3-.6-.3-.6-.1-.6 .2-.6-.3-.6-.1-.6 .7-.6-.6-.6 0-.6 .3-.6-.1-.6 .5-.6 0-.6-.3-.6-.1-.6 .4-.6 0-.6-.5-.6 .7-.6-.1-.6 .1-.6-.3-.6 .4-.6-.8-.6 .2-.6 .4-.6-.2-.6 .3-.6-.9-.6 .6-.6-.4-.6 .4-.6 0-.6-.4-.6 .4-.6-.3-.6 0-.6 .6-.6-.4-.6-.4-.6 0-.6 .6-.6-.1-.6-.1-.6 .4-.6-.7-.6 .6-.6-.1-.6-.5-.6 0-.6 .3-.6-.1-.6 .5-.6 .1-.6-.4-.6-.5-.6 1-.6-.9-.6 .8-.6-.2-.6 .1-.6-.6-.6 .8-.6 0-.6-.6-.6 .2-.6 .4-.6-.3-.6 .1-.6-.4-.6 .1-.6 .3-.6 .4-.6-.3-.6-.7-.6 .2-.6 .7-.6-.4-.6 .3-.6 .1-.6-.6-.6 .2-.6-.4-.6 .6-.6-.5-.6 .2-.6 .4-.6 .1-.6-.2-.6 .1-.6-.6-.6-.2-.6 .1-.6-.1-.6 0-.6 .8-.6-.1-.6-.3-.6 0-.6 .3-.6 .2-.6-.1-.6-.3-.6-.2-.6 .6-.6-.5-.6 .5-.6-.3-.6-.2-.6-.4-.6 .6-.6-.2-.6-.1-.6 .2-.6 .1-.6 .2-.6-.5-.6 .4-.6-.8-.6 0-.6 .6-.6 .2-.6-.2-.6-.4-.6 .2-.6 .3-.6-.8-.6 .5-.6-.1-.6 .5-.6-.6-.6 .4-.6-.8-.6 .9-.6-.5-.6 .5-.6-1-.6 .1-.6-.1-.6 .9-.6-.6-.6 .1-.6-.3-.6 .1-.6 .3-.6 0-.6 0-.6 0-.6-.5-.6 0-.6 .7-.6 0-.6-.2-.6 .2-.6 .2-.6-.5-.6-.5-.6 .5-.6 .3-.6-.5-.6 .4-.6-.6-.6 .6-.6 0-.6-.6-.6 .1-.6-.2-.6 .3-.6 .4-.6 .2-.6 0-.6-.9-.6 .3-.6-.4-.6 .1-.6 .1-.6 .1-.6-.2-.6 .1-.6-.2-.6 0-.6 .5-.6-.3-.6 .5-.6-.1-.6-.2-.6-.3-.6 .8-.6-.6-.6-.1-.6 .1-.6 .1-.6 0-.6 .3-.6 .1-.6-.3-.6-.7-.6 .7-.6-.6-.6 .4-.6 .5-.6-.3-.6-.3-.6-.1-.6 .7-.6-.9-.6 .2-.6-.2-.6 0-.6 .7-.6 .1-.6-.3-.6-.2-.6 .2-.6-.3-.6 .3-.6 .3-.6-.5-.6 0-.6-.5-.6 .3-.6 .1-.6 .4-.6-.6-.6 .5-.6-.5-.6 .7-.6-.8-.6 .4-.6-.3-.6-.1-.6-.1-.6 .5-.6-.1-.6-.2-.6 .3-.6 .2-.6-.4-.6 .3-.6 0-.6-1-.6 .4-.6 .4-.6-.4-.6-.4-.6 .8-.6-.6-.6 0-.6 .1-.6 0-.6-.3-.6-.1-.6-.1-.6 0-.6-.2-.6 .2-.6 .6-.6-.2-.6-.7-.6 .4-.6 .1-.6-.4-.6-.2-.6 .8-.6-.2-.6-.4-.6 .3-.6-.4-.6 .4-.6-.5-.6 .6-.6-.2-.6 .1-.6 .1-.6-.4-.6-.5-.6 .7-.6 .1-.6-.4-.6-.4-.6 .1-.6 .5-.6-.9-.6 .5-.6-.1-.6-.4-.6 .8-.6-.6-.6-.3-.6 .1-.6 .1-.6-.1-.6-.2-.6-.4-.6 .2-.6 .1-.6-.4-.6 .2-.6-.5z"/><path fill="#0000ff" fill-opacity=".5" d="M209.7 579l.4-12.2 .4-9.5 .4-8.1 .4-5 .4-2.9 .4-1.7 .4 .5 .4 .2 .4 .4 .4 5 .4 4.6 .4 5.9 .4 4.9 .4 6 .4 2.9 .4 3.6 0 5.9-.4 .3-.4 1-.4 .3-.4 .6-.4 1.1-.4 .3-.4-.2-.4 .3-.4-.3-.4 .1-.4 .6-.4-1.1-.4 .3-.4-.7-.4-.4-.4-.5z"/><path fill="#0000ff" fill-opacity=".7" d="M210.1 571.2l.4-6.3 .4-5.6 .4-4.4 .4-4.1 .4-.8 .4-1.8 .4 .8 .4 2 .4 2.3 .4 4.1 .4 4.9 .4 4.2 .4 3.3 .4 3.3 0 6.5-.4 .7-.4 1.5-.4 .2-.4 1.1-.4 0-.4 .4-.4 .3-.4 .3-.4-.4-.4-.1-.4-.7-.4-.5-.4-.8-.4-1z"/><path fill="#0000ff" d="M210.5 571.6l.4-3.3 .4-2.9 .4-2.3 .5-.7 .4-1.1 .4 .6 .4 1.6 .4 1.2 .4 2.8 .5 2.7 .4 3.1 0 7.4-.4 .6-.5 .3-.4 1-.4 .1-.4 .3-.4 .2-.4 0-.5-.7-.4-.2-.4-.6-.4-.6z"/><path fill="none" stroke="#0000ff" stroke-width="2.5" stroke-linecap="round" stroke-opacity=".2" stroke-dasharray="0 999" d="M211.7 531.3h.2"/><path fill="none" stroke="#0000ff" stroke-width="2.5" stroke-linecap="round" stroke-opacity=".2" stroke-dasharray="0 999" d="M212.1 536.2h.2"/><path fill="none" stroke="#0000ff" stroke-width="2.5" stroke-linecap="round" stroke-opacity=".2" stroke-dasharray="0 999" d="M153.4 546.7h.2"/><path fill="none" stroke="#0000ff" stroke-width="2.5" stroke-linecap="round" stroke-opacity=".2" stroke-dasharray="0 999" d="M153.4 557.9h.2"/><path fill="none" stroke="#0000ff" stroke-width="2.5" stroke-linecap="round" stroke-opacity=".2" stroke-dasharray="0 999" d="M153 560h.2"/><path fill="none" stroke="#0000ff" stroke-width="2.5" stroke-linecap="round" stroke-opacity=".2" stroke-dasharray="0 999" d="M113.5 560.7h.2"/><path fill="none" stroke="#0000ff" stroke-width="2.5" stroke-linecap="round" stroke-opacity=".2" stroke-dasharray="0 999" d="M153.8 561.4h.2"/><path fill="none" stroke="#0000ff" stroke-width="2.5" stroke-linecap="round" stroke-opacity=".2" stroke-dasharray="0 999" d="M175.4 562.8h.2"/><path fill="none" stroke="#0000ff" stroke-width="2.5" stroke-linecap="round" stroke-opacity=".2" stroke-dasharray="0 999" d="M113.5 564.2h.2"/><path fill="none" stroke="#0000ff" stroke-width="2.5" stroke-linecap="round" stroke-opacity=".2" stroke-dasharray="0 999" d="M305.5 565.6h.2"/><path fill="none" stroke="#0000ff" stroke-width="2.5" stroke-linecap="round" stroke-opacity=".2" stroke-dasharray="0 61.2 0 999" d="M256 566.3h61.2"/><path fill="none" stroke="#0000ff" stroke-width="2.5" stroke-linecap="round" stroke-opacity=".2" stroke-dasharray="0 12.3 0 23 0 136.4 0 999" d="M137.5 567h171.8"/><path fill="none" stroke="#0000ff" stroke-width="2.5" stroke-linecap="round" stroke-opacity=".2" stroke-dasharray="0 17 0 999" d="M186.7 568.4h17.1"/><path fill="none" stroke="#0000ff" stroke-width="2.5" stroke-linecap="round" stroke-opacity=".2" stroke-dasharray="0 46.9 0 30 0 69.6 0 56.4 0 999" d="M145.8 569.8h203"/><path fill="none" stroke="#0000ff" stroke-width="2.5" stroke-linecap="round" stroke-opacity=".2" stroke-dasharray="0 999" d="M376.7 574.7h.2"/><path fill="none" stroke="#0000ff" stroke-width="2.5" stroke-linecap="round" stroke-opacity=".2" stroke-dasharray="0 179 0 999" d="M126.3 578.9h179.1"/><path fill="none" stroke="#0000ff" stroke-width="2.5" stroke-linecap="round" stroke-opacity=".2" stroke-dasharray="0 999" d="M269.3 579.6h.2"/><path fill="none" stroke="#0000ff" stroke-width="2.5" stroke-linecap="round" stroke-opacity=".2" stroke-dasharray="0 999" d="M353.7 580.3h.2"/><path fill="none" stroke="#0000ff" stroke-width="2.5" stroke-linecap="round" stroke-opacity=".2" stroke-dasharray="0 51.5 0 999" d="M101.9 583.1h51.5"/><path fill="none" stroke="#0000ff" stroke-width="2.5" stroke-linecap="round" stroke-opacity=".2" stroke-dasharray="0 999" d="M388.3 583.8h.2"/><path fill="none" stroke="#0000ff" stroke-width="2.5" stroke-linecap="round" stroke-opacity=".2" stroke-dasharray="0 58.7 0 999" d="M153.4 585.2h58.8"/><path fill="none" stroke="#0000ff" stroke-width="2.5" stroke-linecap="round" stroke-opacity=".2" stroke-dasharray="0 177 0 999" d="M211.3 586.6h177.1"/><path fill="none" stroke="#0000ff" stroke-width="2.5" stroke-linecap="round" stroke-opacity=".2" stroke-dasharray="0 999" d="M101.1 588h.2"/><path fill="none" stroke="#0000ff" stroke-width="2.5" stroke-linecap="round" stroke-opacity=".2" stroke-dasharray="0 999" d="M212.5 588.7h.2"/><path fill="none" stroke="#0000ff" stroke-width="2.5" stroke-linecap="round" stroke-opacity=".2" stroke-dasharray="0 999" d="M388.3 590.1h.2"/><path fill="none" stroke="#0000ff" stroke-width="2.5" stroke-linecap="round" stroke-opacity=".2" stroke-dasharray="0 999" d="M101.9 590.8h.2"/><path fill="none" stroke="#0000ff" stroke-width="2.5" stroke-linecap="round" stroke-opacity=".2" stroke-dasharray="0 999" d="M213.3 591.5h.2"/><path fill="none" stroke="#0000ff" stroke-width="2.5" stroke-linecap="round" stroke-opacity=".2" stroke-dasharray="0 174.6 0 999" d="M213.7 592.2h174.7"/><path fill="none" stroke="#0000ff" stroke-width="2.5" stroke-linecap="round" stroke-opacity=".2" stroke-dasharray="0 999" d="M211.7 594.3h.2"/><path fill="none" stroke="#0000ff" stroke-width="2.5" stroke-linecap="round" stroke-opacity=".2" stroke-dasharray="0 1.2 0 286 0 999" d="M101.1 595h287.2"/></g>
<path class="t" d="M86.5 625.5v5M113.5 625.5v5M141.5 625.5v5M168.5 625.5v5M196.5 625.5v5M223.5 625.5v5M251.5 625.5v5M278.5 625.5v5M306.5 625.5v5M333.5 625.5v5M361.5 625.5v5M388.5 625.5v5M80.5 549.5h-4.9M80.5 588.5h-4.9"/>
<rect class="sp" x="80.5" y="522.5" width="327" height="103"/>
</g>
<g id="p31">
<clipPath id="c31"><rect x="473.5" y="522.5" width="328" height="103"/></clipPath>
<g clip-path="url(#c31)"><rect x="487" y="567.1" width="300.7" height="2.8" fill="#ffa500"/><path fill="#ffa500" d="M497.9 566.5l.9 .1 .9-.2 .9 .1 .9-.1 .9-.1 .9 .4 .9-.1 .9-.1 .9 .1 .9-.2 1 0 .9 .1 .9 .1 .9 0 .9-.2 .9-.1 .9-.1 .9 .5 .9-.2 .9-.1 .9-.1 .9 .2 .9 0 .9-.1 .9 0 .9 .2 .9 0 .9 .1 .9-.4 .9 .4 .9-.1 .9 .1 .9-.2 .9 .1 .9-.3 .9 .3 .9-.3 .9 .2 .9 0 .9-.1 .9 0 .9 .3 .9-.2 .9 0 .9-.1 .9 .1 .9-.1 .9 0 .9 .1 .9 .1 .9-.4 .9 .1 .9 .1 .9-.1 .9 .2 .9-.3 .9 .2 .9 .2 .9-.2 .9 0 .9-.2 .9 .3 .9 .2 .9-.4 .9 .3 .9 0 .9-.4 .9 .3 .9-.2 .9-.1 .9 .1 .9 .1 .9-.2 .9 .2 .9 0 .9-.2 .9 0 .9-.1 .9 .3 .9 0 .9-.1 .9 0 .9 .1 .9 0 .9 .1 .9-.2 .9 .2 .9-.2 .9 0 .9 .2 .9-.4 .9 .1 .9 .2 .9 .2 .9-.1 .9-.2 .9-.2 .9 .2 .9 .2 .9-.4 .9 .4 .9-.1 .9 .1 .9-.3 .9 .3 .9-.2 .9 .2 .9-.2 .9 .2 .9-.2 .9-.2 .9 .3 1 .1 .9-.4 .9 .1 .9 0 .9 .3 .9-.3 .9-.1 .9 0 .9 .3 .9 0 .9 0 .9 .1 .9-.3 .9 .2 .9-.2 .9 .1 .9-.1 .9 .3 .9-.1 .9-.2 .9 .3 .9-.2 .9 0 .9 .2 .9 0 .9 0 .9-.4 .9 .1 .9 .2 .9 .1 .9-.3 .9 .1 .9 .2 .9 0 .9-.3 .9 0 .9 0 .9 .1 .9 .1 .9 .2 .9-.1 .9 .1 .9-.1 .9-.1 .9 .2 .9-.3 .9 0 .9 .3 .9-.4 .9 .2 .9-.1 .9-.1 .9 .2 .9 0 .9-.1 .9 .3 .9-.3 .9-.1 .9 .1 .9 .1 .9 .1 .9 0 .9-.1 .9-.1 .9 .1 .9-.2 .9 .1 .9 0 .9 .4 .9-.5 .9 .2 .9 .1 .9 .2 .9-.2 .9-.2 .9 .3 .9-.4 .9 .2 .9 .2 .9-.2 .9 0 .9-.1 .9 0 .9 0 .9 0 .9 0 .9-.1 .9 .3 .9-.1 .9 .3 .9-.2 .9 0 .9-.1 .9-.2 .9 .4 .9-.3 .9 .3 .9 .1 .9-.4 .9 .2 .9 .2 .9-.2 1 .2 .9-.2 .9 0 .9-.3 .9 .5 .9 0 .9-.5 .9 .2 .9-.2 .9 .5 .9 0 .9 0 .9-.4 .9 .1 .9 .3 .9-.1 .9-.1 .9 0 .9 .1 .9-.2 .9 .2 .9 0 .9-.3 .9 .1 .9 .1 .9 .1 .9 .1 .9 0 .9 0 .9-.2 .9-.1 .9 0 .9 .1 .9 0 .9 .2 .9-.2 .9-.2 .9 .1 .9 .3 .9-.1 .9 0 .9-.1 .9 .1 .9-.3 .9 .3 .9-.2 .9-.1 .9 0 .9 .1 .9 .1 .9 .2 .9-.4 .9 .4 .9-.3 .9 0 .9 .1 .9 .1 .9-.3 .9 0 .9 .1 .9 0 .9 0 .9-.2 .9 .2 .9 .2 .9-.2 .9 .3 .9-.2 .9 0 .9 .2 .9-.3 .9 0 .9 .3 .9-.2 .9 .2 .9-.4 .9 0 .9 .3 .9 0 .9-.1 .9 .1 .9 .1 .9-.3 .9 .2 .9-.2 .9 .1 .9 .2 .9 0 .9-.3 .9 .1 .9-.2 .9 .2 .9-.1 .9-.1 .9 .3 .9 .1 .9-.2 .9 .1 .9-.3 .9 0 .9 .2 .9-.2 0 4.2-.9-.1-.9 0-.9-.2-.9 .3-.9-.2-.9 .1-.9-.2-.9-.1-.9 0-.9 .2-.9 0-.9 0-.9 .2-.9-.3-.9-.1-.9 0-.9 .2-.9 0-.9 .1-.9-.1-.9 .1-.9-.1-.9 .2-.9-.2-.9 0-.9-.2-.9 .2-.9-.2-.9 .1-.9 0-.9 .3-.9-.4-.9 .3-.9 0-.9 .1-.9-.2-.9 .1-.9-.3-.9 .3-.9-.3-.9 .2-.9 0-.9 .2-.9-.2-.9 .1-.9 0-.9-.1-.9 .2-.9-.4-.9 0-.9 .3-.9-.3-.9 .1-.9 .3-.9-.3-.9 .2-.9-.2-.9-.1-.9 0-.9 .3-.9 0-.9-.2-.9 .3-.9 0-.9-.5-.9 .5-.9 0-.9-.3-.9-.1-.9 .1-.9 .3-.9-.4-.9 0-.9-.1-.9 .3-.9-.1-.9-.1-.9 0-.9 .3-.9-.4-.9 .4-.9-.1-.9 .1-.9 .1-.9-.2-.9 0-.9-.2-.9 .1-.9 0-.9 0-.9 .2-.9-.2-.9 .1-.9 .2-.9 0-.9-.5-.9 .2-.9-.1-.9 .2-.9 0-.9-.2-1 .2-.9-.1-.9 .3-.9-.3-.9 .1-.9-.2-.9 0-.9 .1-.9 0-.9 0-.9 .1-.9-.1-.9-.1-.9 .2-.9 0-.9-.1-.9 .4-.9-.3-.9 .3-.9-.1-.9-.4-.9 .4-.9-.2-.9 .2-.9-.1-.9-.3-.9 .1-.9 .3-.9-.1-.9 .1-.9-.2-.9-.2-.9 .5-.9-.4-.9-.1-.9 .3-.9 .1-.9-.2-.9-.1-.9 0-.9 0-.9 0-.9 .1-.9 .2-.9-.4-.9 .1-.9 0-.9 .4-.9 0-.9-.5-.9 .5-.9-.4-.9 .4-.9-.1-.9 0-.9 0-.9 .1-.9-.2-.9 0-.9-.1-.9 .3-.9-.4-.9 0-.9 .1-.9 .3-.9-.4-.9 .1-.9 .2-.9-.1-.9 .1-.9-.1-.9 .1-.9 .1-.9-.2-.9 0-.9 0-.9-.2-.9 .4-.9-.1-.9 0-.9-.2-.9-.1-.9 .2-.9-.1-.9 0-.9-.1-.9 .1-.9 .3-.9 0-.9 0-.9-.1-.9 .1-.9-.3-.9 .3-.9-.3-.9 .4-.9-.2-.9 0-.9-.2-.9-.1-.9 .1-.9-.1-1 .3-.9 0-.9-.2-.9 .4-.9-.5-.9 .3-.9 .2-.9-.4-.9 .3-.9 .1-.9-.4-.9 0-.9-.1-.9 .2-.9 0-.9 .3-.9-.1-.9 .1-.9-.3-.9 0-.9 0-.9-.1-.9-.1-.9 .1-.9 .2-.9 0-.9-.2-.9-.1-.9 .4-.9-.3-.9 .2-.9-.3-.9 .1-.9 .1-.9 .2-.9-.1-.9-.1-.9 .1-.9-.2-.9 .2-.9-.2-.9 .1-.9 .1-.9 0-.9-.1-.9 0-.9-.1-.9-.1-.9 .3-.9-.1-.9 0-.9 .1-.9-.3-.9 .4-.9-.1-.9 0-.9-.2-.9 .1-.9-.3-.9 .4-.9-.2-.9-.2-.9 .2-.9 .2-.9 0-.9-.3-.9-.1-.9 0-.9 0-.9 0-.9 .4-.9-.4-.9 0-.9 .1-.9 0-.9 .3-.9-.4-.9 .2-.9 .1-.9 .1-.9-.2-.9 .2-.9-.4-.9 .1-.9 0-.9 0-.9 .2-.9-.3-.9 0-.9 .1-.9-.2-.9 .3-.9-.2-.9 0-.9 .4-.9-.3-.9 0-.9-.1-.9 .1-.9-.1-.9 .3-.9 .1-1 0-.9-.3-.9-.1-.9 .1-.9 .2-.9-.1-.9-.1-.9 0-.9 .2-.9-.2-.9 .1z"/><path fill="#ffa500" fill-opacity=".5" d="M516.5 567.9l.4-1.2 .4-1.6 .4-1.3 .4-3.9 .4-3.6 .4-1.6 .4 .2 .4-.1 .4 1 .4 4.1 .4 4 .4 1.5 .4 .9 .4 1.7 0 1.2-.4 1.1-.4 .9-.4 1.3-.4 3-.4 3.3-.4 1.1-.4 .1-.4-.2-.4-1-.4-3-.4-3.4-.4-.8-.4-1.4-.4-1.1z"/><path fill="#ffa500" d="M517.3 567.4l.4-.6 .4-.5 .4-1.8 .4-2.2 .4 0 .4 .2 .4 1.8 .4 2.2 .4 .3 .3 1.2 0 1.5-.3 .3-.4 .4-.4 1.9-.4 1.2-.4 .2-.4-.1-.4-1.5-.4-1.5-.4-.8-.4-.1z"/><path fill="#ffa500" fill-opacity=".5" d="M545.4 567.7l.4-.6 .4-1.2 .4-.8 .4-2 .4-2.3 .4-2.1 .4 .4 .4-.3 .4 .4 .4 1.6 .4 2.4 .4 2.1 .4 .8 .4 1 .4 .5 0 1.6-.4 .4-.4 .6-.4 .9-.4 1.5-.4 2.1-.4 1.4-.4-.1-.4-.2-.4 .3-.4-1.5-.4-2-.4-1.8-.4-.2-.4-.8-.4-.6z"/><path fill="#ffa500" d="M546.3 567.7l.4-.3 .5-.2 .4-1.7 .4-1.4 .4-.1 .4 .1 .5 1.6 .4 1 .4 .7 .4 .1 0 1.8-.4 .1-.4 .4-.4 1.1-.5 1-.4-.6-.4 .1-.4-.8-.4-1-.5-.1-.4-.2z"/><path fill="#ffa500" fill-opacity=".5" d="M564.8 567.7l.4-1 .4-1.7 .4-3 .4 .1 .4 0 .4 3 .4 1.6 .4 .7 0 2-.4 .7-.4 1.2-.4 2.7-.4-.3-.4 .4-.4-2.7-.4-1.2-.4-.8z"/><path fill="#ffa500" d="M565.3 567.4l.3 .3 .4-1.4 .4-.6 .3 .7 .4 1.2 .4-.1 0 1.8-.4 0-.4 .8-.3 .2-.4-.3-.4-.6-.3-.2z"/><path fill="#ffa500" fill-opacity=".5" d="M757.9 567.6l.4-1.2 .4-3.2 .4-3.4 .4 .3 .4 3.1 .4 3.1 .4 1.1 0 1.7-.4 1.3-.4 2-.4 2.2-.4 .4-.4-2.5-.4-2.2-.4-1.1z"/><path fill="#ffa500" d="M758.3 567.4l.4-.1 .4-2.7 .4 .4 .4 2 .4 .9 0 1.2-.4 .5-.4 1.6-.4-.3-.4-1.6-.4 .3z"/><path fill="#ffa500" fill-opacity=".5" d="M498.1 567.4l.4-.9 .4-2.3 .4-2.3 .4 .3 .4 2.1 .4 2.5 .4 .8 0 1.5-.4 .6-.4 1.6-.4 2-.4 .1-.4-1.7-.4-1.8-.4-.7z"/><path fill="#ffa500" d="M498.6 567.5l.3-.2 .4-1.8 .4 .6 .4 1.4 .4 .3 0 1.5-.4 .3-.4 .6-.4 .2-.4-1.2-.3 .1z"/><path fill="#ffa500" fill-opacity=".5" d="M697.7 567.4l.4-.2 .4-2.3 .4-.9 .4 .5 .4 2.3 .3 .9 0 1.4-.3 .5-.4 1.9-.4 1.2-.4-.9-.4-2-.4-.4z"/><path fill="#ffa500" d="M698 567.5l.4 0 .5-.5 .4 .7 .4 .2 0 1.5-.4-.1-.4 .7-.5-.4-.4-.6z"/><path fill="#ffa500" fill-opacity=".5" d="M709.6 567.8l.4-.9 .4-2.9 .4-.7 .4 1.1 .4 2.7 .4 .6 0 1.7-.4 .4-.4 1.9-.4 .6-.4-.4-.4-1.8-.4-.6z"/><path fill="#ffa500" d="M710 567.8l.4-.5 .4-1 .4 1.1 .5 .4 0 1.7-.5 0-.4 .6-.4-.9-.4 .1z"/><path fill="#ffa500" fill-opacity=".5" d="M615.1 567.8l.4-1.2 .4-2.5 .4-.6 .4 .6 .4 2.7 .3 .8 0 1.7-.3 .8-.4 1.9-.4 .7-.4-.6-.4-2.2-.4-.9z"/><path fill="#ffa500" d="M615.4 567.5l.4-.1 .5-.7 .4 .8 .4 .2 0 1.8-.4-.3-.4 .6-.5-.7-.4 .3z"/><path fill="#ffa500" fill-opacity=".5" d="M652.2 567.9l.4-.6 .4-.1 .4-1.9 .4-.7 .4-.2 .4 .5 .4 1.9 .4 .5 .4 .1 0 1.8-.4 .2-.4 .7-.4 1.3-.4 .6-.4 0-.4-.5-.4-1.8-.4-.3-.4-.2z"/><path fill="#ffa500" d="M652.7 567.9l.4-.1 .4-.7 .5-.2 .4 .1 .4 .6 .4 .1 0 1.6-.4-.1-.4 .6-.4 .1-.5-.5-.4-.3-.4 .4z"/><path fill="#ffa500" fill-opacity=".5" d="M746.1 567.6l.4-.9 .4-1.7 .4-1 .4 .6 .4 2.1 .4 .9 0 1.9-.4 .5-.4 1.6-.4 .7-.4-.2-.4-1.9-.4-.8z"/><path fill="#ffa500" d="M746.5 567.9l.4-.1 .4-.9 .5 .9 .4 .2 0 1.2-.4-.1-.5 1-.4-1-.4 .2z"/><path fill="#ffa500" fill-opacity=".5" d="M775.7 567.4l.4 .2 .4-.7 .4-1.3 .4-1.4 .4 0 .4-.2 .4 1.5 .4 1.5 .4 .4 .4 .2 0 1.4-.4 .3-.4 .5-.4 1-.4 1.4-.4-.2-.4 .4-.4-1.3-.4-1.3-.4-.3-.4-.2z"/><path fill="#ffa500" d="M776.3 567.6l.4 .3 .4-.3 .4-.7 .4 0 .4 .2 .4 .6 .4-.1 0 2-.4-.6-.4 .6-.4 .2-.4 .2-.4-.7-.4 0-.4-.2z"/><path fill="#ffa500" fill-opacity=".5" d="M633.2 567.6l.4-.6 .4-.7 .4-2.8 .4-1.2 .4 .4 .4 .7 .4 2.9 .4 .9 .4 .5 0 1.4-.4 1-.4 .2-.4 2.1-.4 .6-.4 .1-.4-.8-.4-2-.4-.5-.4-.5z"/><path fill="#ffa500" d="M633.8 567.6l.4 .1 .4-1.2 .4-.2 .4 .3 .4 .6 .5 .8 0 1.3-.5 .2-.4 .4-.4 .3-.4-.3-.4-.4-.4-.1z"/><path fill="#ffa500" fill-opacity=".4" d="M603.1 554.8l.4-6.3 .4-4.6 .4-4.9 .4-4 .5-2.6 .4-.4 .4 .7 .4 5.2 .4 3.8 .4 3.2 .5 5 .4 4.3 0 30.1-.4 2.2-.5 2.6-.4 .5-.4 1.1-.4 1.2-.4-.2-.4 1.6-.5-.6-.4-1.2-.4-1.3-.4-2.8-.4-3.7z"/><path fill="#ffa500" fill-opacity=".6" d="M602.1 566.9l.4-2 .4-2.2 .4-4 .4-5.3 .4-5.3 .4-4.3 .5-4 .4-.2 .4-.5 .4 3.2 .4 3.8 .4 4.3 .4 4.3 .4 3.6 .4 3.2 .4 1.6 .5 2.4 .4 1.6 0 3.3-.4 2-.5 1.6-.4 1.1-.4 1.8-.4 1.5-.4 2.1-.4 1.3-.4 1.1-.4 .4-.4 .2-.4 0-.5-1-.4-1.2-.4-1.6-.4-2.9-.4-2.5-.4-2.3-.4-2z"/><path fill="#ffa500" d="M602.1 567.6l.4-.2 .4-.8 .4-1.6 .4-2.1 .4-1.7 .4-1.3 .5-1.5 .4 .1 .4-.4 .4 1.6 .4 .9 .4 1.5 .4 1.7 .4 1.3 .4 1.1 .4 0 .5 .9 .4 .3 0 2.2-.4 .5-.5 .3-.4 .5-.4 .7-.4 .7-.4 .1-.4 .5-.4 .7-.4 .2-.4 .2-.4-.3-.5-.4-.4-.4-.4-.7-.4-.5-.4-1.1-.4-.7-.4-.5z"/><path fill="none" stroke="#ffa500" stroke-width="2.6" stroke-linecap="round" stroke-opacity=".2" stroke-dasharray="0 .2 0 999" d="M605.1 525.7h.2"/><path fill="none" stroke="#ffa500" stroke-width="2.6" stroke-linecap="round" stroke-opacity=".2" stroke-dasharray="0 999" d="M605.4 526.4h.2"/><path fill="none" stroke="#ffa500" stroke-width="2.6" stroke-linecap="round" stroke-opacity=".2" stroke-dasharray="0 .6 0 999" d="M605.4 527.1h.7"/><path fill="none" stroke="#ffa500" stroke-width="2.6" stroke-linecap="round" stroke-opacity=".2" stroke-dasharray="0 999" d="M605.4 527.8h.2"/><path fill="none" stroke="#ffa500" stroke-width="2.6" stroke-linecap="round" stroke-opacity=".2" stroke-dasharray="0 999" d="M606.2 529.2h.2"/><path fill="none" stroke="#ffa500" stroke-width="2.6" stroke-linecap="round" stroke-opacity=".2" stroke-dasharray="0 .3 0 999" d="M605.3 530.6h.3"/><path fill="none" stroke="#ffa500" stroke-width="2.6" stroke-linecap="round" stroke-opacity=".2" stroke-dasharray="0 999" d="M606.2 531.3h.2"/><path fill="none" stroke="#ffa500" stroke-width="2.6" stroke-linecap="round" stroke-opacity=".2" stroke-dasharray="0 999" d="M606.3 532h.2"/><path fill="none" stroke="#ffa500" stroke-width="2.6" stroke-linecap="round" stroke-opacity=".2" stroke-dasharray="0 .4 0 999" d="M605 533.4h.5"/><path fill="none" stroke="#ffa500" stroke-width="2.6" stroke-linecap="round" stroke-opacity=".2" stroke-dasharray="0 999" d="M606.9 534.1h.2"/><path fill="none" stroke="#ffa500" stroke-width="2.6" stroke-linecap="round" stroke-opacity=".2" stroke-dasharray="0 999" d="M604.7 534.8h.2"/><path fill="none" stroke="#ffa500" stroke-width="2.6" stroke-linecap="round" stroke-opacity=".2" stroke-dasharray="0 999" d="M605.6 535.5h.2"/><path fill="none" stroke="#ffa500" stroke-width="2.6" stroke-linecap="round" stroke-opacity=".2" stroke-dasharray="0 .6 0 999" d="M605.4 536.2h.7"/><path fill="none" stroke="#ffa500" stroke-width="2.6" stroke-linecap="round" stroke-opacity=".2" stroke-dasharray="0 .2 0 .7 0 999" d="M605.4 536.9h1"/><path fill="none" stroke="#ffa500" stroke-width="2.6" stroke-linecap="round" stroke-opacity=".2" stroke-dasharray="0 .5 0 999" d="M604.7 537.6h.6"/><path fill="none" stroke="#ffa500" stroke-width="2.6" stroke-linecap="round" stroke-opacity=".2" stroke-dasharray="0 999" d="M606.2 538.3h.2"/><path fill="none" stroke="#ffa500" stroke-width="2.6" stroke-linecap="round" stroke-opacity=".2" stroke-dasharray="0 999" d="M604.3 539.7h.2"/><path fill="none" stroke="#ffa500" stroke-width="2.6" stroke-linecap="round" stroke-opacity=".2" stroke-dasharray="0 999" d="M606 540.4h.2"/><path fill="none" stroke="#ffa500" stroke-width="2.6" stroke-linecap="round" stroke-opacity=".2" stroke-dasharray="0 999" d="M607.9 543.9h.2"/><path fill="none" stroke="#ffa500" stroke-width="2.6" stroke-linecap="round" stroke-opacity=".2" stroke-dasharray="0 999" d="M607.1 545.3h.2"/><path fill="none" stroke="#ffa500" stroke-width="2.6" stroke-linecap="round" stroke-opacity=".2" stroke-dasharray="0 999" d="M549.2 546.7h.2"/><path fill="none" stroke="#ffa500" stroke-width="2.6" stroke-linecap="round" stroke-opacity=".2" stroke-dasharray="0 999" d="M550 547.4h.2"/><path fill="none" stroke="#ffa500" stroke-width="2.6" stroke-linecap="round" stroke-opacity=".2" stroke-dasharray="0 999" d="M604.4 548.1h.2"/><path fill="none" stroke="#ffa500" stroke-width="2.6" stroke-linecap="round" stroke-opacity=".2" stroke-dasharray="0 999" d="M607 554.4h.2"/><path fill="none" stroke="#ffa500" stroke-width="2.6" stroke-linecap="round" stroke-opacity=".2" stroke-dasharray="0 999" d="M520.3 555.8h.2"/><path fill="none" stroke="#ffa500" stroke-width="2.6" stroke-linecap="round" stroke-opacity=".2" stroke-dasharray="0 999" d="M500.9 556.5h.2"/><path fill="none" stroke="#ffa500" stroke-width="2.6" stroke-linecap="round" stroke-opacity=".2" stroke-dasharray="0 7.8 0 58.4 0 41.2 0 28.1 0 999" d="M499.7 557.9h135.6"/><path fill="none" stroke="#ffa500" stroke-width="2.6" stroke-linecap="round" stroke-opacity=".2" stroke-dasharray="0 999" d="M550 558.6h.2"/><path fill="none" stroke="#ffa500" stroke-width="2.6" stroke-linecap="round" stroke-opacity=".2" stroke-dasharray="0 48.8 0 144.2 0 999" d="M566.9 559.3h193.1"/><path fill="none" stroke="#ffa500" stroke-width="2.6" stroke-linecap="round" stroke-opacity=".2" stroke-dasharray="0 48.1 0 191.2 0 999" d="M520.1 560h239.4"/><path fill="none" stroke="#ffa500" stroke-width="2.6" stroke-linecap="round" stroke-opacity=".2" stroke-dasharray="0 44.1 0 30.1 0 26.9 0 .5 0 8.7 0 17 0 77.9 0 999" d="M506.4 560.7h205.2"/><path fill="none" stroke="#ffa500" stroke-width="2.6" stroke-linecap="round" stroke-opacity=".2" stroke-dasharray="0 9.1 0 1.1 0 31.9 0 85 0 2.2 0 2.1 0 999" d="M505.7 561.4h131.5"/><path fill="none" stroke="#ffa500" stroke-width="2.6" stroke-linecap="round" stroke-opacity=".2" stroke-dasharray="0 63.7 0 35.1 0 999" d="M517.6 562.1h98.8"/><path fill="none" stroke="#ffa500" stroke-width="2.6" stroke-linecap="round" stroke-opacity=".2" stroke-dasharray="0 194.3 0 15.7 0 1.2 0 999" d="M564.9 562.8h211.2"/><path fill="none" stroke="#ffa500" stroke-width="2.6" stroke-linecap="round" stroke-opacity=".2" stroke-dasharray="0 99.1 0 1.8 0 51.9 0 9.5 0 64.1 0 999" d="M549.6 563.5h226.5"/><path fill="none" stroke="#ffa500" stroke-width="2.6" stroke-linecap="round" stroke-opacity=".2" stroke-dasharray="0 49 0 49 0 6.9 0 10.9 0 19.6 0 .7 0 2.8 0 999" d="M518.4 564.2h139"/><path fill="none" stroke="#ffa500" stroke-width="2.6" stroke-linecap="round" stroke-opacity=".2" stroke-dasharray="0 10.9 0 39.2 0 111.2 0 44.8 0 5.5 0 33.1 0 19 0 18.1 0 2.2 0 999" d="M496.5 564.9h284.1"/><path fill="none" stroke="#ffa500" stroke-width="2.6" stroke-linecap="round" stroke-opacity=".2" stroke-dasharray="0 19.6 0 12.2 0 53.3 0 12.6 0 .5 0 13.5 0 1.7 0 24.2 0 109.2 0 6.7 0 3.9 0 999" d="M494.5 565.6h257.4"/><path fill="none" stroke="#ffa500" stroke-width="2.6" stroke-linecap="round" stroke-opacity=".2" stroke-dasharray="0 3.9 0 256 0 999" d="M514.4 566.3h259.9"/><path fill="none" stroke="#ffa500" stroke-width="2.6" stroke-linecap="round" stroke-opacity=".2" stroke-dasharray="0 23.7 0 22.4 0 7.9 0 1.3 0 36.2 0 31.6 0 110.4 0 999" d="M525.5 567h233.6"/><path fill="none" stroke="#ffa500" stroke-width="2.6" stroke-linecap="round" stroke-opacity=".2" stroke-dasharray="0 16.3 0 3.6 0 12.5 0 40.5 0 53.3 0 7.6 0 113.7 0 .8 0 12.1 0 999" d="M499.6 567.7h260.4"/><path fill="none" stroke="#ffa500" stroke-width="2.6" stroke-linecap="round" stroke-opacity=".2" stroke-dasharray="0 22.2 0 5.8 0 23.7 0 24 0 179.3 0 7.9 0 999" d="M496.8 568.4h262.9"/><path fill="none" stroke="#ffa500" stroke-width="2.6" stroke-linecap="round" stroke-opacity=".2" stroke-dasharray="0 85.7 0 23.4 0 32.3 0 63.4 0 35 0 5.5 0 999" d="M507.4 569.1h245.4"/><path fill="none" stroke="#ffa500" stroke-width="2.6" stroke-linecap="round" stroke-opacity=".2" stroke-dasharray="0 86.5 0 16.5 0 999" d="M547.4 569.8h103"/><path fill="none" stroke="#ffa500" stroke-width="2.6" stroke-linecap="round" stroke-opacity=".2" stroke-dasharray="0 198.7 0 2 0 3.8 0 6.8 0 31.3 0 5.5 0 999" d="M499.2 570.5h248.2"/><path fill="none" stroke="#ffa500" stroke-width="2.6" stroke-linecap="round" stroke-opacity=".2" stroke-dasharray="0 17.5 0 15.9 0 3.6 0 30.4 0 43 0 31.9 0 44 0 3.3 0 7.2 0 30.2 0 11.7 0 7.1 0 17.5 0 .6 0 999" d="M513.5 571.2h263.9"/><path fill="none" stroke="#ffa500" stroke-width="2.6" stroke-linecap="round" stroke-opacity=".2" stroke-dasharray="0 3.1 0 26.6 0 42.2 0 174.8 0 999" d="M495.3 571.9h246.8"/><path fill="none" stroke="#ffa500" stroke-width="2.6" stroke-linecap="round" stroke-opacity=".2" stroke-dasharray="0 100.3 0 10 0 8.8 0 8.6 0 999" d="M506.6 572.6h127.8"/><path fill="none" stroke="#ffa500" stroke-width="2.6" stroke-linecap="round" stroke-opacity=".2" stroke-dasharray="0 11.8 0 18 0 63.7 0 1.4 0 999" d="M604.6 573.3h95"/><path fill="none" stroke="#ffa500" stroke-width="2.6" stroke-linecap="round" stroke-opacity=".2" stroke-dasharray="0 12 0 16.4 0 999" d="M519.8 574h28.4"/><path fill="none" stroke="#ffa500" stroke-width="2.6" stroke-linecap="round" stroke-opacity=".2" stroke-dasharray="0 94.2 0 .3 0 41.5 0 999" d="M498.4 574.7h136.1"/><path fill="none" stroke="#ffa500" stroke-width="2.6" stroke-linecap="round" stroke-opacity=".2" stroke-dasharray="0 198.2 0 999" d="M500.4 575.4h198.2"/><path fill="none" stroke="#ffa500" stroke-width="2.6" stroke-linecap="round" stroke-opacity=".2" stroke-dasharray="0 38.3 0 .2 0 999" d="M567 576.1h38.5"/><path fill="none" stroke="#ffa500" stroke-width="2.6" stroke-linecap="round" stroke-opacity=".2" stroke-dasharray="0 20.8 0 999" d="M496.6 576.8h20.9"/><path fill="none" stroke="#ffa500" stroke-width="2.6" stroke-linecap="round" stroke-opacity=".2" stroke-dasharray="0 999" d="M499.4 577.5h.2"/><path fill="none" stroke="#ffa500" stroke-width="2.6" stroke-linecap="round" stroke-opacity=".2" stroke-dasharray="0 19.3 0 999" d="M547.5 578.2h19.4"/><path fill="none" stroke="#ffa500" stroke-width="2.6" stroke-linecap="round" stroke-opacity=".2" stroke-dasharray="0 28.4 0 18.8 0 999" d="M519.6 579.6h47.2"/><path fill="none" stroke="#ffa500" stroke-width="2.6" stroke-linecap="round" stroke-opacity=".2" stroke-dasharray="0 57 0 999" d="M548.6 580.3h57"/><path fill="none" stroke="#ffa500" stroke-width="2.6" stroke-linecap="round" stroke-opacity=".2" stroke-dasharray="0 1 0 999" d="M518.7 581h1.1"/><path fill="none" stroke="#ffa500" stroke-width="2.6" stroke-linecap="round" stroke-opacity=".2" stroke-dasharray="0 999" d="M566.9 582.4h.2"/><path fill="none" stroke="#ffa500" stroke-width="2.6" stroke-linecap="round" stroke-opacity=".2" stroke-dasharray="0 999" d="M605.8 583.1h.2"/><path fill="none" stroke="#ffa500" stroke-width="2.6" stroke-linecap="round" stroke-opacity=".2" stroke-dasharray="0 999" d="M605.9 585.2h.2"/><path fill="none" stroke="#ffa500" stroke-width="2.6" stroke-linecap="round" stroke-opacity=".2" stroke-dasharray="0 1.2 0 999" d="M605.6 585.9h1.2"/><path fill="none" stroke="#ffa500" stroke-width="2.6" stroke-linecap="round" stroke-opacity=".2" stroke-dasharray="0 999" d="M605.6 588.7h.2"/><path fill="none" stroke="#ffa500" stroke-width="2.6" stroke-linecap="round" stroke-opacity=".2" stroke-dasharray="0 999" d="M607.2 590.1h.2"/><path fill="none" stroke="#ffa500" stroke-width="2.6" stroke-linecap="round" stroke-opacity=".2" stroke-dasharray="0 999" d="M606.3 592.2h.2"/><path fill="none" stroke="#ffa500" stroke-width="2.6" stroke-linecap="round" stroke-opacity=".2" stroke-dasharray="0 999" d="M606.4 595h.2"/><path fill="none" stroke="#ffa500" stroke-width="2.6" stroke-linecap="round" stroke-opacity=".2" stroke-dasharray="0 999" d="M605.9 596.4h.2"/><path fill="none" stroke="#ffa500" stroke-width="2.6" stroke-linecap="round" stroke-opacity=".2" stroke-dasharray="0 999" d="M605.2 597.1h.2"/><path fill="none" stroke="#ffa500" stroke-width="2.6" stroke-linecap="round" stroke-opacity=".2" stroke-dasharray="0 999" d="M606.7 599.2h.2"/><path fill="none" stroke="#ffa500" stroke-width="2.6" stroke-linecap="round" stroke-opacity=".2" stroke-dasharray="0 .5 0 999" d="M605.5 599.9h.6"/><path fill="none" stroke="#ffa500" stroke-width="2.6" stroke-linecap="round" stroke-opacity=".2" stroke-dasharray="0 999" d="M605.9 601.3h.2"/><path fill="none" stroke="#ffa500" stroke-width="2.6" stroke-linecap="round" stroke-opacity=".2" stroke-dasharray="0 1.7 0 .7 0 999" d="M604.9 602.7h2.4"/><path fill="none" stroke="#ffa500" stroke-width="2.6" stroke-linecap="round" stroke-opacity=".2" stroke-dasharray="0 999" d="M607 603.4h.2"/><path fill="none" stroke="#ffa500" stroke-width="2.6" stroke-linecap="round" stroke-opacity=".2" stroke-dasharray="0 999" d="M606.7 604.1h.2"/><path fill="none" stroke="#ffa500" stroke-width="2.6" stroke-linecap="round" stroke-opacity=".2" stroke-dasharray="0 .7 0 999" d="M606.5 605.5h.8"/><path fill="none" stroke="#ffa500" stroke-width="2.6" stroke-linecap="round" stroke-opacity=".2" stroke-dasharray="0 1.3 0 999" d="M605.3 606.2h1.4"/><path fill="none" stroke="#ffa500" stroke-width="2.6" stroke-linecap="round" stroke-opacity=".2" stroke-dasharray="0 999" d="M605.3 606.9h.2"/><path fill="none" stroke="#ffa500" stroke-width="2.6" stroke-linecap="round" stroke-opacity=".2" stroke-dasharray="0 .9 0 999" d="M605.1 607.6h1"/><path fill="none" stroke="#ffa500" stroke-width="2.6" stroke-linecap="round" stroke-opacity=".2" stroke-dasharray="0 999" d="M604.6 608.3h.2"/><path fill="none" stroke="#ffa500" stroke-width="2.6" stroke-linecap="round" stroke-opacity=".2" stroke-dasharray="0 .7 0 999" d="M605.5 610.4h.8"/><path fill="none" stroke="#ffa500" stroke-width="2.6" stroke-linecap="round" stroke-opacity=".2" stroke-dasharray="0 999" d="M605.3 611.1h.2"/></g>
<path class="t" d="M479.5 625.5v5M506.5 625.5v5M534.5 625.5v5M561.5 625.5v5M589.5 625.5v5M616.5 625.5v5M644.5 625.5v5M671.5 625.5v5M699.5 625.5v5M726.5 625.5v5M754.5 625.5v5M782.5 625.5v5M473.5 537.5h-4.9M473.5 568.5h-4.9M473.5 598.5h-4.9"/>
<rect class="sp" x="473.5" y="522.5" width="328" height="103"/>
</g>
<g id="p40">
<clipPath id="c40"><rect x="80.5" y="684.5" width="327" height="103"/></clipPath>
<g clip-path="url(#c40)"><rect x="94" y="786.1" width="78.8" height="1.9" fill="#0000ff"/><rect x="175.8" y="786.1" width="4" height="1.9" fill="#0000ff"/><rect x="193.7" y="786.1" width="4" height="1.9" fill="#0000ff"/><rect x="249" y="786.1" width="4" height="1.9" fill="#0000ff"/><rect x="303.9" y="786.1" width="4" height="1.9" fill="#0000ff"/><rect x="358.7" y="786.1" width="4" height="1.9" fill="#0000ff"/><rect x="379.7" y="786.1" width="4" height="1.9" fill="#0000ff"/><rect x="385.7" y="786.1" width="9" height="1.9" fill="#0000ff"/><path fill="#0000ff" fill-opacity=".4" d="M170 694.4l.7-1.3 .7 .7 .7-.7 .7-.3 .7 0 .7 .4 .7 .5 .7-.7 .7-.2 .7 .2 .7 .8 .7 .1 .7-.3 .7-.6 .7 .7 .7-.6 .7 .1 .7-.3 .7 .2 .7 .3 .7 .4 .7-.9 .7 .1 .7 .3 .7-.4 .7 .6 .7 .1 .7-.8 .7 .5 .7 .1 .7-.3 .7 .7 .7-.4 .7-.5 .7 .1 .7 .1 .7 .7 .7-.4 .7 0 .7 0 .7-.1 .7 .2 .7 .1 .7-.8 .7 .1 .7 .6 .7 .4 .7-.4 .7-.1 .7-.5 .7 .7 .7 .1 .7-.5 .7-.4 .7 .4 .7-.1 .7-.2 .7 .5 .7-.3 .7 .6 .7-.2 .7-.2 .7 .1 .7 .4 .7-.9 .7 .5 .7 .5 .7-.5 .7-.4 .7 .7 .7 .1 .7-.1 .7-.3 .7-.5 .7 .1 .7 .7 .7 .1 .7-.5 .7-.4 .7 1.2 .8-.2 .7-.2 .7-.3 .7-.4 .7 .8 .7-.1 .7-.4 .7 .3 .7-.4 .7 .1 .7 .5 .7-.8 .7 .6 .7 .2 .7-.5 .7 .8 .7 0 .7-.5 .7 0 .7 .3 .7 .1 .7-.3 .7-.4 .7-.3 .7 .6 .7-.1 .7-.4 .7 .7 .7-.6 .7 .1 .7 .7 .7-.1 .7-.2 .7 .3 .7-.5 .7-.1 .7 .2 .7 .1 .7-.2 .7 .3 .7-.5 .7 .8 .7-.8 .7 .3 .7-.1 .7 .3 .7-.6 .7 .9 .7-.2 .7-.1 .7-.5 .7 1 .7-.8 .7 .7 .7 .1 .7-.5 .7-.6 .7 .6 .7 .5 .7-1 .7 1 .7-.3 .7-.2 .7-.3 .7 .7 .7-.9 .7 0 .7 0 .7 .2 .7 .8 .7-.7 .7-.2 .7 .9 .7-.8 .7 .5 .7 .1 .7 .3 .7-.7 .7-.1 .7-.2 .7 0 .7 .9 .7-.7 .7 .2 .7-.2 .7 .7 .7-.8 .7 .9 .7-.7 .7 .5 .7 0 .7 .3 .7-.5 .7 .3 .7 0 .7-.6 .7 .8 .7 .1 .7-.8 .7 .4 .7 .1 .7 .1 .7 .2 .7-.4 .7 0 .7 .6 .7-.2 .7-.5 .7 .8 .7-.8 .7-.3 .7 1 .7-.2 .7 .4 .7 0 .7 .1 .7-.5 .7 0 .8 .2 .7 .2 .7-.3 .7-.5 .7 .7 .7-.4 .7-.1 .7 .2 .7-.3 .7 .8 .7-1 .7 .4 .7 .2 .7-.2 .7 .2 .7 0 .7 .1 .7 .2 .7-.7 .7 .5 .7-.5 .7 1 .7-.6 .7 .4 .7-.1 .7-.6 .7-.1 .7 .1 .7 .2 .7 .6 .7-.8 .7 1 .7 .1 .7-.3 .7-.4 .7 .4 .7 0 .7 .1 .7-.6 .7 .3 .7 .3 .7 .6 .7-.9 .7 .2 .7 1.1 .7-.2 .7-.5 .7 0 .7 1 .7-.6 .7 .2 .7 .3 .7 1.2 .7-.2 .7 .9 .7 .6 .7-.1 .7 .7 .7 .2 .7 .2 .7-.1 .7 .7 .7 .4 .7-.3 .7 .6 .7 .6 .7 0 .7 .6 .7-.6 .7 0 .7 .1 .7 .1 .7-.2 .7 .1 .7-.4 .7 .2 .7-.6 .7-.1 .7 .7 .7-.8 .7 .2 .7 .7 .7-1 .7 .5 .7-.4 .7 .7 .7 .1 .7-.2 .7-.3 .7 .4 .7 .5 .7-.2 .7-.1 .7 .6 .7-.3 .7-.2 .7 .1 .7 .3 .7 .7 .7 0 .7 .1 .7 .4 .7 .7 .7-.1 .7 .3 .7 1.3 .7 .7 .7-.6 .7 .7 .7 .9 .7-.2 .7 1.2 .7 .1 .7 .8 .7 .1 .7 .6 0 6.9-.7 0-.7 .3-.7-.7-.7-.3-.7 0-.7-.5-.7-1.2-.7 .3-.7-.2-.7-.8-.7-.5-.7-.2-.7 0-.7-.5-.7-.1-.7-1.1-.7 .2-.7-.4-.7 .8-.7-1-.7-.3-.7-.1-.7-.1-.7 .3-.7-.5-.7 .5-.7 .3-.7 0-.7 0-.7 .1-.7-.7-.7-.4-.7 .5-.7-.3-.7-.4-.7-.1-.7 1.2-.7-1.1-.7 1.2-.7-.1-.7-.5-.7 0-.7-.2-.7 0-.7 .9-.7-.8-.7 .3-.7 .3-.7-.7-.7-.1-.7 0-.7-.4-.7-.3-.7-.1-.7 .1-.7-1-.7 0-.7 .2-.7-.7-.7-.5-.7-.3-.7-.8-.7 .4-.7-1.2-.7 0-.7-.1-.7 .2-.7-.6-.7 .5-.7-.8-.7 0-.7-.8-.7 .7-.7-.6-.7-.6-.7 .6-.7-.4-.7 .1-.7 .1-.7-.1-.7-.1-.7 .3-.7-.1-.7-.6-.7 .7-.7-.2-.7-.4-.7 .9-.7-1-.7 .6-.7 0-.7 .4-.7-.4-.7-.4-.7 .5-.7 0-.7-.3-.7-.3-.7 .3-.7 .7-.7-.6-.7-.1-.7 .2-.7 .4-.7-.6-.7-.2-.7 .3-.7-.2-.7 .6-.7-.4-.7 .3-.7-.6-.7 .7-.7 .1-.7-.1-.8 .2-.7-1.1-.7 .1-.7 .5-.7 .4-.7-.9-.7-.1-.7 .1-.7 .4-.7 .3-.7 0-.7 .1-.7-.3-.7 .2-.7-1-.7 .7-.7-.8-.7 .3-.7 .6-.7-.8-.7 .2-.7-.2-.7 .7-.7-.7-.7 .9-.7-.4-.7-.6-.7-.1-.7 0-.7 .3-.7 .5-.7-.4-.7 .2-.7 .3-.7-1-.7 .2-.7 .3-.7-.2-.7-.4-.7 .5-.7 .4-.7 0-.7 0-.7-.9-.7 .4-.7 .6-.7 0-.7-1-.7 0-.7 .6-.7 .1-.7-.8-.7 .2-.7 .6-.7-.4-.7 0-.7 .1-.7 0-.7 .1-.7-.1-.7 .4-.7-.3-.7-.5-.7 .3-.7 .5-.7-.7-.7-.3-.7 1.1-.7-.4-.7-.4-.7 .6-.7-.8-.7-.1-.7 .6-.7-.2-.7 .1-.7 .4-.7 0-.7-.8-.7 .7-.7-.9-.7 .6-.7 .4-.7-.4-.7 .2-.7-.4-.7 .1-.7-.2-.7-.3-.7 .6-.7-.1-.7 .4-.7-.1-.7-.7-.7 .8-.7-.3-.7-.7-.7 .3-.7 .7-.7-.4-.7-.3-.7 .3-.7 .3-.7-.3-.7-.2-.7 .5-.7 .1-.7-.5-.7-.3-.7 .1-.7 .6-.7-.2-.7 .1-.7 0-.7-.5-.7 .7-.7-.3-.7 0-.8-.5-.7 .1-.7 .7-.7-.4-.7 .2-.7-.5-.7 .7-.7-1-.7 1.1-.7-.4-.7-.6-.7 .4-.7-.5-.7 .2-.7-.1-.7 .9-.7-1-.7 .1-.7 .4-.7 .5-.7-.1-.7-.8-.7 .7-.7-.3-.7 .6-.7-.3-.7-.5-.7 .7-.7-.4-.7-.3-.7 .3-.7-.3-.7 .1-.7 .4-.7 0-.7-.6-.7 .3-.7-.2-.7 .3-.7-.1-.7 .6-.7-.1-.7-.7-.7 0-.7 .2-.7 .2-.7 0-.7-.2-.7 .6-.7-.9-.7 .4-.7 .2-.7-.6-.7 .8-.7-.3-.7 .2-.7-.6-.7 .3-.7-.3-.7 0-.7 .3-.7-.1-.7-.2-.7 .1-.7-.4-.7 .6-.7-.4-.7 .1-.7 .8-.7-.6-.7-.4-.7 .6-.7-.3-.7 0-.7 .5-.7-.1-.7-.6-.7 0-.7 1-.7-.2-.7-.7z"/><path fill="#0000ff" d="M170 694.8l.7-.2 .7-.5 .7-.5 .7 .4 .7 .3 .7-.6 .7-.2 .7 .8 .7-.3 .7-.2 .7-.2 .7 .1 .7 .7 .7-.9 .7 .4 .7-.1 .7 .2 .7-.4 .7 .4 .7-.4 .7 .7 .7-.7 .7 .5 .7 .1 .7 0 .7-.6 .7 .2 .7-.2 .7 .2 .7 .6 .7-.1 .7-.2 .7-.4 .7 .3 .7-.4 .7 .4 .7 .2 .7-.2 .7-.5 .7 .9 .7-.3 .7-.5 .7 .1 .7-.1 .7 .7 .7-.6 .7 .3 .7 .1 .7 0 .7-.1 .7-.2 .7 .2 .7 .3 .7-.1 .7-.4 .7 .1 .7 .4 .7-.2 .7-.4 .7 0 .7 .3 .7 0 .7 .4 .7-.6 .7 .7 .7-.7 .7 .2 .7 .2 .7 .1 .7 0 .7 .1 .7-.1 .7-.5 .7-.1 .7 .5 .7-.4 .7 .3 .7 .4 .7-.9 .7 .7 .8 .3 .7-.4 .7-.5 .7 .1 .7 .7 .7-.3 .7 .2 .7 0 .7-.6 .7 .5 .7-.3 .7 .2 .7 .3 .7-.4 .7-.4 .7 .2 .7-.2 .7 .5 .7-.4 .7 .5 .7 .1 .7 .1 .7-.2 .7-.3 .7 .3 .7-.4 .7 .5 .7 .3 .7 0 .7-.4 .7 .2 .7-.6 .7 .5 .7-.4 .7 .7 .7 0 .7-.5 .7 .2 .7-.5 .7 .3 .7 0 .7-.3 .7 .7 .7-.5 .7 .1 .7-.4 .7 .2 .7 .1 .7-.2 .7 .2 .7 .6 .7 0 .7-.6 .7 0 .7 .2 .7 .2 .7 .1 .7-.5 .7 .6 .7-.1 .7-.1 .7-.6 .7 .7 .7-.7 .7 .8 .7-.5 .7 .5 .7 .1 .7 .1 .7-.4 .7 0 .7 .4 .7 0 .7-.1 .7-.8 .7 .3 .7-.2 .7 .8 .7 0 .7-.2 .7-.6 .7 .3 .7-.3 .7 .9 .7-.1 .7-.5 .7 .6 .7-.4 .7-.4 .7 .9 .7-.7 .7 .4 .7 .3 .7-.2 .7-.2 .7-.2 .7-.2 .7 .7 .7-.1 .7 .4 .7-.2 .7 0 .7 .1 .7-.4 .7 .1 .7 .1 .7 .3 .7 0 .7-.1 .7-.5 .7 .7 .7-.8 .7 .4 .7 .5 .7-.6 .7 0 .7 .2 .7 0 .8 0 .7-.2 .7 .6 .7-.5 .7-.2 .7 .2 .7 .5 .7-.5 .7-.1 .7 .2 .7 .3 .7 .2 .7-.5 .7-.1 .7 .5 .7 0 .7-.1 .7 .1 .7-.6 .7 0 .7 .3 .7 .1 .7 .4 .7 0 .7 .2 .7-.5 .7-.5 .7 .9 .7 0 .7-.6 .7-.2 .7 .7 .7 0 .7 .3 .7-.2 .7-.2 .7-.1 .7 .1 .7 .3 .7 .1 .7 .1 .7-.6 .7 .8 .7 .3 .7-.6 .7 .4 .7-.2 .7 1.1 .7-.4 .7 .1 .7 .2 .7 .3 .7 0 .7 1 .7 .2 .7-.1 .7 .5 .7 .8 .7 .6 .7-.1 .7 .8 .7-.2 .7 .3 .7 .2 .7 .4 .7 .3 .7-.1 .7 .2 .7-.1 .7 .4 .7-.2 .7 0 .7 0 .7 .2 .7-.2 .7-.6 .7 .6 .7 .1 .7-.8 .7 .7 .7-.8 .7 .4 .7 .5 .7 0 .7-.7 .7 .4 .7-.3 .7-.1 .7 .2 .7 .9 .7 0 .7-.9 .7 .7 .7-.6 .7 .6 .7 .2 .7 .6 .7 0 .7 0 .7 .3 .7 .8 .7 .2 .7 .3 .7 .2 .7 .8 .7 .5 .7 .2 .7 .1 .7 .2 .7 1 .7 .3 .7 .7 .7 .3 .7-.2 .7 .9 .7 1.5 0 3.9-.7 .9-.7-.5-.7-.4-.7 .6-.7-1-.7 0-.7-.8-.7 .2-.7-1-.7-.6-.7-.4-.7 0-.7-.6-.7 .4-.7-.6-.7 0-.7-.9-.7 .2-.7 0-.7-.7-.7-.1-.7 .1-.7 .2-.7-.3-.7 .4-.7-.1-.7-.2-.7 0-.7-.1-.7 .4-.7-.6-.7-.1-.7 .4-.7-.2-.7-.6-.7 0-.7 .1-.7 .5-.7-.1-.7-.2-.7 .7-.7-.8-.7 0-.7 .2-.7 0-.7 0-.7 .6-.7-.4-.7-.1-.7-.3-.7-.3-.7 .4-.7-.5-.7 .2-.7-.3-.7-.4-.7-1.3-.7 .3-.7-.4-.7-.9-.7 .6-.7-.5-.7-.8-.7 .3-.7-.5-.7-.2-.7-.6-.7 .1-.7-.7-.7 .7-.7-.6-.7-.4-.7 .2-.7-.5-.7-.5-.7 .5-.7-.6-.7-.1-.7 .5-.7-.3-.7 .7-.7-.5-.7 0-.7-.3-.7 0-.7 .6-.7-.1-.7 .3-.7-.2-.7-.5-.7 .1-.7 .5-.7-.6-.7 .6-.7 .1-.7-.1-.7 .1-.7-.3-.7 .2-.7-.4-.7-.1-.7 .3-.7-.3-.7 .2-.7 .3-.7-.6-.7 .7-.7-.2-.7 0-.7-.7-.7 .1-.7 .6-.7-.5-.7-.1-.7 .2-.8 .3-.7-.4-.7-.1-.7 .3-.7-.4-.7 0-.7-.1-.7 .2-.7 .5-.7-.1-.7-.4-.7 0-.7-.3-.7 .1-.7 .3-.7 .1-.7-.4-.7 .1-.7 .4-.7-.4-.7-.4-.7 .9-.7-.2-.7-.4-.7 .5-.7-.2-.7-.5-.7 .2-.7-.3-.7 0-.7-.1-.7 .8-.7-.3-.7 .1-.7-.4-.7 0-.7 .2-.7-.1-.7-.4-.7 .6-.7 0-.7-.4-.7 .5-.7-.6-.7 .2-.7-.1-.7 .6-.7-.5-.7 .2-.7 .2-.7-.6-.7-.2-.7 .9-.7-.4-.7-.5-.7 .4-.7-.2-.7 0-.7 0-.7 .1-.7 .4-.7-.2-.7-.4-.7-.2-.7 .2-.7-.2-.7 .9-.7 0-.7-.5-.7-.4-.7 .6-.7-.4-.7 .4-.7-.3-.7-.1-.7 .2-.7-.3-.7 .1-.7-.2-.7 .8-.7-.4-.7-.5-.7 .5-.7-.4-.7 .5-.7-.4-.7 0-.7-.1-.7 .6-.7-.4-.7 .3-.7 0-.7 .2-.7 0-.7-.6-.7 .6-.7-.4-.7-.4-.7-.1-.7 .1-.7 .6-.7-.2-.7 0-.7-.3-.7 .2-.7-.3-.7 .2-.7 .2-.7 0-.7 .1-.7-.6-.7 .3-.7 .3-.7 .1-.7 .2-.7-.2-.7-.2-.7-.3-.8 .6-.7-.7-.7 0-.7 0-.7 .2-.7 0-.7-.2-.7 .7-.7-.1-.7-.1-.7-.3-.7 .4-.7 .1-.7-.3-.7-.5-.7 .4-.7-.1-.7-.1-.7 .6-.7-.4-.7 .1-.7-.1-.7-.4-.7 .8-.7-.6-.7 0-.7-.1-.7 .4-.7 .2-.7-.5-.7 .3-.7 .3-.7-.7-.7 .3-.7 .1-.7-.3-.7 .1-.7-.2-.7 .3-.7-.1-.7 .5-.7 0-.7-.3-.7 .3-.7-.8-.7 .4-.7 .2-.7 .3-.7-.1-.7-.4-.7 .2-.7-.3-.7 .6-.7-.1-.7 0-.7-.7-.7 0-.7 0-.7 .4-.7-.5-.7 .8-.7-.5-.7 .5-.7 .1-.7-.4-.7-.2-.7 .6-.7-.9-.7 .8-.7-.6-.7 0-.7 .7-.7-.3-.7-.3-.7 .3-.7-.4-.7 .4-.7-.3-.7-.3-.7-.1-.7 .5z"/><rect x="170.2" y="702.6" width="2.4" height="10.4" fill="#0000ff" fill-opacity=".6"/><path fill="none" stroke="#0000ff" stroke-width="2.4" stroke-linejoin="round" stroke-linecap="round" d="M171.4 712.9l0 4.4"/><path fill="none" stroke="#0000ff" stroke-width="2.6" stroke-linecap="round" stroke-opacity=".2" stroke-dasharray="0 999" d="M171.5 718.9h.2"/><path fill="none" stroke="#0000ff" stroke-width="2.6" stroke-linecap="round" stroke-opacity=".2" stroke-dasharray="0 999" d="M171.4 721h.2"/><path fill="none" stroke="#0000ff" stroke-width="2.6" stroke-linecap="round" stroke-opacity=".2" stroke-dasharray="0 999" d="M171.2 721.7h.2"/><path fill="none" stroke="#0000ff" stroke-width="2.6" stroke-linecap="round" stroke-opacity=".2" stroke-dasharray="0 .1 0 999" d="M171.3 724.5h.2"/><path fill="none" stroke="#0000ff" stroke-width="2.6" stroke-linecap="round" stroke-opacity=".2" stroke-dasharray="0 999" d="M178.2 706.3h.2"/><path fill="none" stroke="#0000ff" stroke-width="2.6" stroke-linecap="round" stroke-opacity=".2" stroke-dasharray="0 999" d="M178.3 710.5h.2"/><path fill="none" stroke="#0000ff" stroke-width="2.6" stroke-linecap="round" stroke-opacity=".2" stroke-dasharray="0 999" d="M178.5 712.6h.2"/><path fill="none" stroke="#0000ff" stroke-width="2.6" stroke-linecap="round" stroke-opacity=".2" stroke-dasharray="0 .2 0 999" d="M178.3 715.4h.2"/><path fill="none" stroke="#0000ff" stroke-width="2.6" stroke-linecap="round" stroke-opacity=".2" stroke-dasharray="0 999" d="M178.3 716.8h.2"/><path fill="none" stroke="#0000ff" stroke-width="2.6" stroke-linecap="round" stroke-opacity=".2" stroke-dasharray="0 .3 0 999" d="M178.2 717.5h.3"/><path fill="none" stroke="#0000ff" stroke-width="2.6" stroke-linecap="round" stroke-opacity=".2" stroke-dasharray="0 999" d="M178.2 725.9h.2"/><path fill="none" stroke="#0000ff" stroke-width="2.6" stroke-linecap="round" stroke-opacity=".2" stroke-dasharray="0 .3 0 999" d="M178.3 727.3h.3"/><path fill="none" stroke="#0000ff" stroke-width="2.6" stroke-linecap="round" stroke-opacity=".2" stroke-dasharray="0 999" d="M178.3 729.4h.2"/><path fill="none" stroke="#0000ff" stroke-width="2.6" stroke-linecap="round" stroke-opacity=".2" stroke-dasharray="0 999" d="M388.2 718.2h.2"/><path fill="none" stroke="#0000ff" stroke-width="2.6" stroke-linecap="round" stroke-opacity=".2" stroke-dasharray="0 999" d="M388.2 723.8h.2"/><path fill="none" stroke="#0000ff" stroke-width="2.6" stroke-linecap="round" stroke-opacity=".2" stroke-dasharray="0 .1 0 .1 0 999" d="M388.2 727.3h.2"/><path fill="none" stroke="#0000ff" stroke-width="2.6" stroke-linecap="round" stroke-opacity=".2" stroke-dasharray="0 999" d="M388.1 728.7h.2"/><path fill="none" stroke="#0000ff" stroke-width="2.6" stroke-linecap="round" stroke-opacity=".2" stroke-dasharray="0 999" d="M388.2 730.1h.2"/></g>
<path class="t" d="M86.5 787.5v5M113.5 787.5v5M141.5 787.5v5M168.5 787.5v5M196.5 787.5v5M223.5 787.5v5M251.5 787.5v5M278.5 787.5v5M306.5 787.5v5M333.5 787.5v5M361.5 787.5v5M388.5 787.5v5M80.5 719.5h-4.9M80.5 787.5h-4.9"/>
<rect class="sp" x="80.5" y="684.5" width="327" height="103"/>
</g>
<g id="p41">
<clipPath id="c41"><rect x="473.5" y="684.5" width="328" height="103"/></clipPath>
<g clip-path="url(#c41)"><rect x="487" y="760" width="300.7" height="2.8" fill="#ffa500"/><path fill="none" stroke="#ffa500" stroke-width="2.3" stroke-linecap="round" stroke-opacity=".2" stroke-dasharray="0 28.2 0 24.5 0 50.7 0 9.2 0 999" d="M569.8 684.6h112.6"/><path fill="none" stroke="#ffa500" stroke-width="2.3" stroke-linecap="round" stroke-opacity=".2" stroke-dasharray="0 1.9 0 .9 0 2.6 0 .1 0 5.3 0 19.6 0 3.1 0 14.3 0 21.4 0 21.7 0 1.9 0 3.9 0 32.1 0 13.9 0 4.2 0 11.4 0 7.5 0 21.1 0 11.3 0 999" d="M574.4 686h198.2"/><path fill="none" stroke="#ffa500" stroke-width="2.3" stroke-linecap="round" stroke-opacity=".2" stroke-dasharray="0 2.8 0 .3 0 3.3 0 12.7 0 4.9 0 3.8 0 8 0 2.1 0 5.9 0 16.9 0 15.8 0 8.6 0 10.1 0 2.7 0 3.6 0 3 0 1.3 0 11.1 0 1.9 0 .9 0 1.2 0 10.8 0 1.9 0 24.8 0 6.7 0 .3 0 36.7 0 999" d="M568.7 687.4h202.2"/><path fill="none" stroke="#ffa500" stroke-width="2.3" stroke-linecap="round" stroke-opacity=".2" stroke-dasharray="0 3.4 0 1.1 0 7.8 0 4.7 0 1 0 22.7 0 2.1 0 5.2 0 4.3 0 9.1 0 .4 0 .6 0 28.7 0 9.8 0 1.4 0 1.9 0 16.7 0 35.7 0 2.8 0 1.8 0 .9 0 4.3 0 2.4 0 22.4 0 11.5 0 999" d="M574.1 688.8h202.8"/><path fill="none" stroke="#ffa500" stroke-width="2.3" stroke-linecap="round" stroke-opacity=".2" stroke-dasharray="0 12.2 0 9.3 0 1.4 0 9.7 0 .1 0 .4 0 1.4 0 30.7 0 8.2 0 4.9 0 3.7 0 2.4 0 .1 0 2.7 0 5.4 0 2.2 0 23.2 0 2.6 0 15.1 0 6.5 0 8.3 0 10.5 0 20.1 0 10.7 0 6.2 0 7.1 0 999" d="M565 690.2h205.2"/><path fill="none" stroke="#ffa500" stroke-width="2.3" stroke-linecap="round" stroke-opacity=".2" stroke-dasharray="0 8.4 0 8.3 0 1.3 0 15.6 0 37.6 0 4.7 0 2 0 1.7 0 5.9 0 11.2 0 10.6 0 1.5 0 1.7 0 3.4 0 9.4 0 6.5 0 3.2 0 13.8 0 2.4 0 2 0 1.1 0 6.6 0 2.1 0 1.8 0 2.9 0 1.7 0 6.1 0 14.9 0 26.3 0 999" d="M565.6 691.6h214.8"/><path fill="none" stroke="#ffa500" stroke-width="2.3" stroke-linecap="round" stroke-opacity=".2" stroke-dasharray="0 1.3 0 14.3 0 26.9 0 1.7 0 2 0 19.8 0 3.6 0 7.7 0 1.4 0 4.2 0 3.2 0 2.4 0 4.4 0 1.2 0 4.4 0 2.2 0 3.8 0 14.7 0 5.1 0 1.2 0 21.5 0 6.4 0 .7 0 19.4 0 .3 0 1.5 0 2.9 0 2 0 8.9 0 999" d="M570.2 693h189.2"/><path fill="none" stroke="#ffa500" stroke-width="2.3" stroke-linecap="round" stroke-opacity=".2" stroke-dasharray="0 .4 0 8.1 0 1.8 0 .2 0 2.7 0 .5 0 14.8 0 2.8 0 .4 0 .1 0 5.1 0 .9 0 6.5 0 6 0 2.8 0 3.9 0 2.9 0 .5 0 1.6 0 .6 0 6.4 0 3.1 0 6.4 0 2.7 0 3.4 0 11.3 0 1.9 0 1.9 0 10.1 0 5.9 0 2.4 0 5.2 0 .4 0 .2 0 6.6 0 3.1 0 4.5 0 2.5 0 2 0 .6 0 1.8 0 2.4 0 5.1 0 .6 0 1.2 0 5.8 0 .4 0 .2 0 5.4 0 8.3 0 3.6 0 1.7 0 7.4 0 .3 0 2.9 0 3.3 0 .5 0 9.9 0 9.7 0 999" d="M567.4 694.4h213.8"/><path fill="none" stroke="#ffa500" stroke-width="2.3" stroke-linecap="round" stroke-opacity=".2" stroke-dasharray="0 .3 0 2.3 0 .4 0 7 0 3.8 0 9 0 2.4 0 2.9 0 8 0 5.7 0 .6 0 6.2 0 .1 0 3.6 0 .4 0 3.4 0 3.9 0 1.4 0 4.9 0 5.4 0 1.6 0 1.3 0 3.8 0 5.1 0 .1 0 1 0 2.1 0 .1 0 6.1 0 .4 0 4.7 0 .9 0 2.3 0 3.9 0 .1 0 1.7 0 3.3 0 .3 0 .9 0 1.8 0 4.7 0 .2 0 1.4 0 .7 0 4.7 0 2 0 .1 0 2 0 6.1 0 3.5 0 .8 0 .9 0 1.8 0 .5 0 .1 0 5.6 0 .1 0 .5 0 .5 0 .7 0 2 0 4.9 0 5.5 0 1.5 0 3.2 0 .1 0 .9 0 .2 0 6.6 0 3.1 0 .8 0 2.6 0 .8 0 2.6 0 .3 0 .9 0 .4 0 .7 0 3.3 0 5.2 0 8.4 0 12.2 0 .3 0 .9 0 999" d="M564.3 695.8h217.6"/><path fill="none" stroke="#ffa500" stroke-width="2.3" stroke-linecap="round" stroke-opacity=".2" stroke-dasharray="0 .7 0 3.3 0 3.3 0 1 0 1.9 0 .2 0 .2 0 7.2 0 1.6 0 2.4 0 6.1 0 .6 0 4.5 0 2.4 0 2.3 0 1.9 0 2.8 0 2.8 0 4.7 0 .1 0 1.9 0 2.9 0 .4 0 .1 0 4.9 0 .6 0 3 0 .7 0 .1 0 1.2 0 4.9 0 .5 0 .9 0 .2 0 1.8 0 .3 0 2.3 0 5.1 0 6 0 13.8 0 1.8 0 3.2 0 .7 0 4.9 0 3 0 .4 0 .8 0 1.1 0 .8 0 1.5 0 .5 0 .9 0 1.4 0 .1 0 4.4 0 .5 0 1.7 0 1.1 0 3.6 0 .5 0 1.7 0 1.8 0 5.9 0 5.6 0 2.9 0 10.5 0 .9 0 2.2 0 .1 0 3.3 0 .7 0 2.3 0 .6 0 3.5 0 .2 0 1.5 0 2.4 0 2.5 0 .9 0 1 0 1.3 0 1.5 0 3.7 0 .1 0 6.4 0 .3 0 4.9 0 3.3 0 1.2 0 2.2 0 .3 0 1.1 0 999" d="M568.7 772.8h211.4"/><path fill="none" stroke="#ffa500" stroke-width="2.3" stroke-linecap="round" stroke-opacity=".2" stroke-dasharray="0 1.8 0 2.2 0 1.8 0 3.3 0 5.3 0 .2 0 7.3 0 .2 0 6 0 1.7 0 4.2 0 .1 0 3.1 0 1.4 0 2.9 0 .6 0 3.4 0 1.7 0 6.4 0 9.2 0 2.5 0 .1 0 3.5 0 3.7 0 3.1 0 13.7 0 5.9 0 2.3 0 4.5 0 4.8 0 1.6 0 3.8 0 5.8 0 7.6 0 8.6 0 2.5 0 2.5 0 5 0 1.7 0 2.7 0 .7 0 1.3 0 4.6 0 4.1 0 1.1 0 8.9 0 6.5 0 5.7 0 5.8 0 .3 0 .9 0 6.4 0 13.1 0 999" d="M567.1 774.2h208.2"/><path fill="none" stroke="#ffa500" stroke-width="2.3" stroke-linecap="round" stroke-opacity=".2" stroke-dasharray="0 3.3 0 4.8 0 1.8 0 9.6 0 1.5 0 4.9 0 4.3 0 2.6 0 5 0 8.4 0 9.9 0 6.2 0 5.7 0 11.4 0 4.8 0 2 0 .7 0 .4 0 12.4 0 4.6 0 .2 0 5.5 0 2 0 2.7 0 17 0 7.2 0 1.5 0 3.2 0 3.1 0 6.6 0 1.5 0 2.1 0 .8 0 5.7 0 9 0 6.2 0 3.6 0 2.8 0 .5 0 .3 0 1.6 0 1.5 0 6.6 0 6.8 0 5 0 999" d="M574 775.6h207.4"/><path fill="none" stroke="#ffa500" stroke-width="2.3" stroke-linecap="round" stroke-opacity=".2" stroke-dasharray="0 17.6 0 2.2 0 5.4 0 3.1 0 4.9 0 7.8 0 3.6 0 5.4 0 4.8 0 3.5 0 5.1 0 .8 0 10.9 0 11 0 6.3 0 3.1 0 .5 0 2.3 0 .3 0 7 0 3.1 0 2.2 0 .9 0 10.2 0 5.9 0 4.3 0 1 0 2.8 0 14.1 0 6.2 0 3.6 0 2.3 0 2.7 0 8.2 0 6.4 0 3.7 0 .9 0 20.5 0 999" d="M576.9 777h204.7"/><path fill="none" stroke="#ffa500" stroke-width="2.3" stroke-linecap="round" stroke-opacity=".2" stroke-dasharray="0 2.4 0 7 0 .7 0 4.3 0 .8 0 1 0 1.5 0 7.1 0 .7 0 1.3 0 2.2 0 5.5 0 3.2 0 1.2 0 3.6 0 .7 0 7.5 0 4.5 0 8.4 0 3.2 0 2 0 7 0 .4 0 3 0 3 0 .2 0 4.5 0 9.7 0 6.2 0 9.9 0 15.6 0 12 0 9.5 0 4 0 2.2 0 1.4 0 .9 0 27.6 0 1 0 1.4 0 4.5 0 999" d="M587 778.4h192.9"/><path fill="none" stroke="#ffa500" stroke-width="2.3" stroke-linecap="round" stroke-opacity=".2" stroke-dasharray="0 1.4 0 22.8 0 6.6 0 7.6 0 8.4 0 5.9 0 .3 0 .6 0 9.6 0 3.7 0 4 0 6.5 0 5.7 0 13.5 0 8.1 0 .8 0 9.3 0 1.9 0 7 0 8.8 0 1.4 0 1 0 9.5 0 39.7 0 2.8 0 3.5 0 7.5 0 5.2 0 6.5 0 1.6 0 4.5 0 .1 0 999" d="M565.8 779.8h215.9"/><path fill="none" stroke="#ffa500" stroke-width="2.3" stroke-linecap="round" stroke-opacity=".2" stroke-dasharray="0 10.7 0 8.6 0 12.4 0 9.4 0 3.2 0 26.9 0 .4 0 2.4 0 .7 0 12 0 4.9 0 1.1 0 19.5 0 19.8 0 8.2 0 14.7 0 9.7 0 9.2 0 1.7 0 14.6 0 5.1 0 .7 0 4.2 0 5.2 0 999" d="M575.5 781.2h205.4"/><path fill="none" stroke="#ffa500" stroke-width="2.3" stroke-linecap="round" stroke-opacity=".2" stroke-dasharray="0 4.3 0 3.7 0 11.7 0 14.4 0 10.3 0 6.2 0 2.7 0 18.8 0 .3 0 1.1 0 .4 0 9.9 0 3.6 0 2.4 0 4.9 0 6.8 0 4.3 0 .5 0 4.9 0 13 0 .3 0 1.2 0 5.2 0 1.9 0 5.1 0 4.7 0 19.2 0 2.8 0 1.2 0 11.2 0 4.1 0 2.3 0 24.8 0 3.5 0 3.4 0 999" d="M565.7 782.6h215.2"/><path fill="none" stroke="#ffa500" stroke-width="2.3" stroke-linecap="round" stroke-opacity=".2" stroke-dasharray="0 5.8 0 25.3 0 5.7 0 .3 0 2.9 0 6.6 0 .7 0 .6 0 1.2 0 11.3 0 10.6 0 1.7 0 43.4 0 4.3 0 7.6 0 6.1 0 7 0 7.9 0 29.2 0 9.6 0 2.5 0 4.9 0 11.2 0 7.1 0 1.4 0 999" d="M564.4 784h215"/><path fill="none" stroke="#ffa500" stroke-width="2.3" stroke-linecap="round" stroke-opacity=".2" stroke-dasharray="0 5.2 0 14.5 0 1.4 0 8.7 0 12.3 0 19.3 0 3.6 0 5.3 0 8.5 0 3.1 0 1.6 0 19.1 0 8.4 0 6.3 0 7 0 2.3 0 7.9 0 11.3 0 3.3 0 9.5 0 999" d="M576.5 785.4h158.7"/><path fill="#ffa500" fill-opacity=".2" d="M563.4 694l.6 1.7 .6-3.7 .6 1.4 .6-1.6 .6 2.9 .6-2.2 .6 .6 .6 2.4 .6-3.7 .6 .5 .6 .7 .6 2.5 .6-1.6 .6 .7 .6 1.3 .6-3.2 .6 1 .6-1.3 .6 2.9 .6-3.6 .6 3.5 .6-2 .6 1.1 .6-1.8 .6 3.5 .6-2.9 .6 .7 .6 2.3 .6-1.7 .6-1.3 .6-.4 .6 3.2 .6-.9 .6-.4 .6-.4 .6 1.8 .6-3.8 .6 1.1 .6 2.2 .6-.8 .6-.1 .6 .1 .6-.9 .6 .5 .6-.7 .6 2.5 .6-3.2 .6-.1 .6 .3 .6-.8 .6 2.2 .6-.2 .6-2.4 .6 .9 .6 3 .6-2.9 .6 1.9 .6-1.2 .6-1.3 .6 3.9 .6-1.6 .6-1.8 .6 1.6 .6-1.4 .6 2.4 .6-3.7 .6 2 .6 .9 .6 .5 .6-3 .6-.3 .6 2 .6 .6 .6-.6 .6-1.9 .6 1 .6 2.1 .6-.9 .6 2 .6-4.3 .6 2.7 .6-.1 .6-.7 .6-1.8 .6 1.5 .5-.3 .6-.7 .6 3.2 .6-3.6 .6-.2 .6 4.1 .6 .2 .6-1.4 .6-.7 .6 1 .6-3.2 .6 1 .6 1.1 .6-1.8 .6 3.7 .6-1.4 .6-1.7 .6 1.8 .6 1.1 .6-.9 .6 1.1 .6-.5 .6-1.1 .6 1.8 .6-.2 .6-2.9 .6-.3 .6-.3 .6 2.7 .6 .5 .6-1.3 .6 2.1 .6-3.1 .6-.5 .6 .6 .6 1.6 .6-1.2 .6 2.3 .6-2.7 .6 2.4 .6-.7 .6-.9 .6 2.2 .6-1.5 .6 1 .6 .5 .6-1.3 .6-1.3 .6-.8 .6 3.2 .6-2.8 .6 2.8 .6-3.1 .6-.4 .6 3.4 .6-1.3 .6-2.4 .6 1.5 .6-1.1 .6 .9 .6 1.1 .6 .2 .6 1 .6 .4 .6-3.2 .6 0 .6 3.2 .6-2.2 .6 1 .6-2.8 .6 .2 .6 .4 .6 .7 .6 .1 .6 2 .6-.5 .6-1.2 .6 2.2 .6 .1 .6-.2 .6-3.6 .6 .6 .6-1.3 .6 .5 .6 3.3 .6-3.7 .6 2.9 .6-3.2 .6 4 .6-3.7 .6 2.7 .6 1.1 .6-2.3 .6 .4 .6 2.2 .6-.3 .6 .1 .6-1.4 .6 1.2 .6 .2 .6-1.7 .6 .7 .6 0 .6-2.3 .6 2.5 .6-1.5 .6 1.8 .6-1.3 .6 1.6 .6-2 .6 1.7 .6-2.5 .6 2 .6-1.5 .6-1.5 .6 0 .6 3 .6-2.1 .6 .3 .6 1.4 .6 1 .6-3.8 .6 1.8 .6 1.8 .6-2.6 .6-.6 .6 4.1 .6-2.4 .6 1.9 .6-3.8 .6 2.2 .6 .7 .6-2.6 .6 3.2 .6-1.3 .6 1.4 .6-.7 .6 .3 .6 1.1 .6-.5 .6 .7 .6-4.3 .6 0 .6 2.4 .6-1.9 .6 .5 .6 .9 .6 1.8 .6-3.7 .6 4.1 .6-2.9 .6 3.2 .6-2.7 .6 .7 .6-1.5 .6 1.5 .6-.8 .6 1.1 .6-3 .6 2.8 .6 1.2 .6-1.4 .6 .5 .6-1 .6-1.4 .6 2.4 .6-2.8 .6 .7 .6 2.5 .6-1.5 .6 .3 .6 .8 .6 0 .6-1.3 .6 1.6 .6-2.5 .6 2.6 .6-3.2 .6 .3 .6 1.7 .6-1 .6 2 .6 .6 .6-1.7 .6-1.7 .6-.6 .6 1.9 .6 2.3 .6-1.4 .6 1.5 .6-.5 .6-.2 .6 0 .6-3.3 .6 2 .6-.5 .6-.6 .6 2.8 .6-1.8 .6 1.1 .6-.3 .6-1.8 .6 1.2 .6-.6 .6 0 .6 1.1 .6-1.4 .6-1.4 .6 3.3 .6 0 .6-3 .6 2 .6 1 .6-3.4 .6 2.8 .6-.5 .6 1.2 .6-.8 .6 .3 .6 .2 .6 .8 .6-1.1 .6-1.1 .6-.4 .6 2.4 .6-1.8 .6 .3 .6 1.9 .6-2.2 .6-1.4 .6 2.6 .6 1.3 .6-.1 .6-2.6 .6 .6 .6-1 .6 3.9 .6-3.6 .6 3.4 .6-1.9 .6 1.2 .6-.9 .6-.2 .6 .7 .6 1.6 .6-.2 .6-2.3 .6 2.7 .6-2.8 .6 1.9 .6 1.3 .6-2.6 .6 1.4 .6-2.8 .6 1.4 .6-1.1 .6 4 .6-.1 .6-2.2 .6 1.5 .6-2.3 .6-.8 .6-.3 .6 3.1 .6-.8 .6 1.9 .6-3.8 .6 .5 .6 3.6 .6-1.2 .6-.4 .6-1.7 .6 1.4 .6 .4 .6-1 .6 .1 .6 1.8 .5-.3 .6-1.5 .6 .2 .6 .6 0 6.9-.6 0-.6 0-.6 0-.5 0-.6 0-.6 0-.6 0-.6 0-.6 0-.6 0-.6 0-.6 0-.6 0-.6 0-.6 0-.6 0-.6 0-.6 0-.6 0-.6 0-.6 0-.6 0-.6 0-.6 0-.6 0-.6 0-.6 0-.6 0-.6 0-.6 0-.6 0-.6 0-.6 0-.6 0-.6 0-.6 0-.6 0-.6 0-.6 0-.6 0-.6 0-.6 0-.6 0-.6 0-.6 0-.6 0-.6 0-.6 0-.6 0-.6 0-.6 0-.6 0-.6 0-.6 0-.6 0-.6 0-.6 0-.6 0-.6 0-.6 0-.6 0-.6 0-.6 0-.6 0-.6 0-.6 0-.6 0-.6 0-.6 0-.6 0-.6 0-.6 0-.6 0-.6 0-.6 0-.6 0-.6 0-.6 0-.6 0-.6 0-.6 0-.6 0-.6 0-.6 0-.6 0-.6 0-.6 0-.6 0-.6 0-.6 0-.6 0-.6 0-.6 0-.6 0-.6 0-.6 0-.6 0-.6 0-.6 0-.6 0-.6 0-.6 0-.6 0-.6 0-.6 0-.6 0-.6 0-.6 0-.6 0-.6 0-.6 0-.6 0-.6 0-.6 0-.6 0-.6 0-.6 0-.6 0-.6 0-.6 0-.6 0-.6 0-.6 0-.6 0-.6 0-.6 0-.6 0-.6 0-.6 0-.6 0-.6 0-.6 0-.6 0-.6 0-.6 0-.6 0-.6 0-.6 0-.6 0-.6 0-.6 0-.6 0-.6 0-.6 0-.6 0-.6 0-.6 0-.6 0-.6 0-.6 0-.6 0-.6 0-.6 0-.6 0-.6 0-.6 0-.6 0-.6 0-.6 0-.6 0-.6 0-.6 0-.6 0-.6 0-.6 0-.6 0-.6 0-.6 0-.6 0-.6 0-.6 0-.6 0-.6 0-.6 0-.6 0-.6 0-.6 0-.6 0-.6 0-.6 0-.6 0-.6 0-.6 0-.6 0-.6 0-.6 0-.6 0-.6 0-.6 0-.6 0-.6 0-.6 0-.6 0-.6 0-.6 0-.6 0-.6 0-.6 0-.6 0-.6 0-.6 0-.6 0-.6 0-.6 0-.6 0-.6 0-.6 0-.6 0-.6 0-.6 0-.6 0-.6 0-.6 0-.6 0-.6 0-.6 0-.6 0-.6 0-.6 0-.6 0-.6 0-.6 0-.6 0-.6 0-.6 0-.6 0-.6 0-.6 0-.6 0-.6 0-.6 0-.6 0-.6 0-.6 0-.6 0-.6 0-.6 0-.6 0-.6 0-.6 0-.6 0-.6 0-.6 0-.6 0-.6 0-.6 0-.6 0-.6 0-.6 0-.6 0-.6 0-.6 0-.6 0-.6 0-.6 0-.6 0-.6 0-.6 0-.6 0-.6 0-.6 0-.6 0-.6 0-.6 0-.6 0-.6 0-.6 0-.6 0-.6 0-.6 0-.6 0-.6 0-.6 0-.6 0-.6 0-.6 0-.6 0-.6 0-.6 0-.6 0-.5 0-.6 0-.6 0-.6 0-.6 0-.6 0-.6 0-.6 0-.6 0-.6 0-.6 0-.6 0-.6 0-.6 0-.6 0-.6 0-.6 0-.6 0-.6 0-.6 0-.6 0-.6 0-.6 0-.6 0-.6 0-.6 0-.6 0-.6 0-.6 0-.6 0-.6 0-.6 0-.6 0-.6 0-.6 0-.6 0-.6 0-.6 0-.6 0-.6 0-.6 0-.6 0-.6 0-.6 0-.6 0-.6 0-.6 0-.6 0-.6 0-.6 0-.6 0-.6 0-.6 0-.6 0-.6 0-.6 0-.6 0-.6 0-.6 0-.6 0-.6 0-.6 0-.6 0-.6 0-.6 0-.6 0-.6 0-.6 0-.6 0-.6 0-.6 0-.6 0-.6 0-.6 0-.6 0-.6 0-.6 0-.6 0-.6 0-.6 0-.6 0-.6 0-.6 0-.6 0-.6 0-.6 0z"/><path fill="#ffa500" fill-opacity=".3" d="M563.4 697.2l.6 .7 .6-3.3 .6-.1 .6 3.7 .6-2.5 .6-.5 .6 1.2 .6 .2 .6 .7 .6-.5 .6-.3 .6 .8 .6-1.8 .6 .7 .6 1.7 .6-.7 .6-.4 .6-1.9 .6 3.1 .6-3.4 .6 2.9 .6-2.5 .6 1.4 .6 .7 .6-.6 .6-2 .6 .7 .6 .9 .6-.5 .6-.7 .6 0 .6 2.3 .6-.7 .6-.3 .6-1.6 .6 2.8 .6 .8 .6-1 .6-.9 .6 .9 .6-.3 .6-1.9 .6 1.6 .6 .2 .6-1.6 .6 .3 .6 .2 .6 .2 .6-.3 .6 2.5 .6-.3 .6-1.5 .6-1.2 .6 2.9 .6-.3 .6-3.2 .6 3.1 .6-3.1 .6 3.2 .6-1 .6 1.3 .6-1.1 .6-1.9 .6 1.5 .6 1.3 .6-1.8 .6 .8 .6-1 .6 1.2 .6-1.2 .6-.3 .6-1 .6 3.5 .6-1.2 .6 1.1 .6-.8 .6-1.5 .6-.9 .6 3.5 .6-.3 .6 0 .6-2 .6 .8 .6 .6 .6-1.6 .5-.2 .6 0 .6 .9 .6-.4 .6 1.8 .6-.2 .6-2.6 .6 .6 .6 .6 .6 1.9 .6-.5 .6-1.5 .6 1.5 .6-2.7 .6-.1 .6 3.1 .6-2.8 .6 2.5 .6 .3 .6-1.8 .6-.3 .6-1.2 .6 0 .6 3.5 .6-.3 .6-2.9 .6 1 .6 1.1 .6-1.2 .6-1.3 .6 3.5 .6-1.4 .6-1.1 .6 2.4 .6-2.1 .6 2.4 .6-1.2 .6 1 .6-2.1 .6 .9 .6 .6 .6-.8 .6 .1 .6 .1 .6 1.3 .6-.1 .6-1.8 .6-.5 .6 1.8 .6-1 .6-.9 .6 .2 .6-.4 .6 .1 .6 .8 .6-.4 .6-1 .6 3 .6-2.2 .6 2.3 .6-.9 .6 1 .6-1 .6 1 .6-1.8 .6 .9 .6-.4 .6-2.2 .6 3.4 .6-.7 .6-2.5 .6 2.3 .6-.2 .6 1.2 .6-1.7 .6-1.6 .6 1.5 .6 .1 .6 .2 .6-.4 .6-1.6 .6 1.5 .6-.7 .6 2.7 .6-2.4 .6 2.4 .6-2.3 .6 .1 .6-1.4 .6 3.1 .6-2.8 .6 2.5 .6-.2 .6-.5 .6-.9 .6 2.2 .6-.6 .6-1.4 .6 1.7 .6-3.1 .6 2.9 .6-2.5 .6 1.8 .6 .5 .6 .8 .6-3.2 .6 2.4 .6 .1 .6-.7 .6-1.6 .6 3 .6-3.4 .6 2.3 .6-1.8 .6 2.9 .6-2.9 .6 1.5 .6-1 .6 .6 .6 .3 .6-1.3 .6 .3 .6 0 .6 .5 .6 .4 .6-1.7 .6 1.3 .6 .8 .6-.6 .6-.8 .6 2.5 .6-2.5 .6 2 .6-2.6 .6 2 .6 .6 .6-.1 .6-.5 .6-.8 .6 1.9 .6 .3 .6-1.3 .6-.2 .6 .9 .6-1.1 .6 1.6 .6-1.3 .6-.5 .6-1 .6 .9 .6 .6 .6-1.1 .6 .5 .6-.6 .6 1.1 .6-.4 .6 1.6 .6-.3 .6-.4 .6 .5 .6-2.7 .6 2.5 .6 .4 .6-1.3 .6-1.8 .6 .6 .6-.2 .6 2.6 .6-2.1 .6 .7 .6-1.9 .6 2.1 .6 0 .6-1.6 .6 .3 .6-.2 .6-.3 .6 2.3 .6-.6 .6 1 .6-1 .6 1.4 .6-1.9 .6 .4 .6 .2 .6-.1 .6-.3 .6-.9 .6 1.8 .6-.6 .6-2 .6 2.8 .6-2.6 .6 1 .6-.4 .6 .6 .6-.4 .6-.6 .6 .3 .6 1.8 .6-2.1 .6 1.2 .6 1.7 .6-1.1 .6 1.2 .6-2.3 .6 1 .6 .9 .6-1.5 .6-.5 .6-.2 .6-.2 .6 2.8 .6-.5 .6 .8 .6-1 .6 .9 .6-2 .6 1.5 .6 .4 .6-2.1 .6 1.8 .6-1.2 .6 0 .6-1 .6 2.8 .6-2.3 .6 2.4 .6-2.8 .6 1.8 .6 .2 .6-1.2 .6 1 .6-.2 .6 1.6 .6-3.4 .6 3.2 .6-3.4 .6 3.3 .6-2 .6 1.8 .6-1.5 .6 .3 .6-.6 .6 2.2 .6-2.2 .6 3 .6-1.8 .6-.1 .6 2.1 .6-.9 .6-1.2 .6 1.7 .6 .4 .6 .2 .6-3.1 .6 0 .6 .3 .6-.7 .6 1.8 .6-.2 .6-.2 .6 .1 .6 .3 .6 .9 .6-.5 .6-.3 .6-1.1 .6 3.2 .6-.7 .6-1.6 .6 1.6 .6-1.4 .6 2 .6-2 .6-1.1 .6 1 .5 2.2 .6-2.2 .6 .3 .6 1.8 0 3.4-.6 0-.6 0-.6 0-.5 0-.6 0-.6 0-.6 0-.6 0-.6 0-.6 0-.6 0-.6 0-.6 0-.6 0-.6 0-.6 0-.6 0-.6 0-.6 0-.6 0-.6 0-.6 0-.6 0-.6 0-.6 0-.6 0-.6 0-.6 0-.6 0-.6 0-.6 0-.6 0-.6 0-.6 0-.6 0-.6 0-.6 0-.6 0-.6 0-.6 0-.6 0-.6 0-.6 0-.6 0-.6 0-.6 0-.6 0-.6 0-.6 0-.6 0-.6 0-.6 0-.6 0-.6 0-.6 0-.6 0-.6 0-.6 0-.6 0-.6 0-.6 0-.6 0-.6 0-.6 0-.6 0-.6 0-.6 0-.6 0-.6 0-.6 0-.6 0-.6 0-.6 0-.6 0-.6 0-.6 0-.6 0-.6 0-.6 0-.6 0-.6 0-.6 0-.6 0-.6 0-.6 0-.6 0-.6 0-.6 0-.6 0-.6 0-.6 0-.6 0-.6 0-.6 0-.6 0-.6 0-.6 0-.6 0-.6 0-.6 0-.6 0-.6 0-.6 0-.6 0-.6 0-.6 0-.6 0-.6 0-.6 0-.6 0-.6 0-.6 0-.6 0-.6 0-.6 0-.6 0-.6 0-.6 0-.6 0-.6 0-.6 0-.6 0-.6 0-.6 0-.6 0-.6 0-.6 0-.6 0-.6 0-.6 0-.6 0-.6 0-.6 0-.6 0-.6 0-.6 0-.6 0-.6 0-.6 0-.6 0-.6 0-.6 0-.6 0-.6 0-.6 0-.6 0-.6 0-.6 0-.6 0-.6 0-.6 0-.6 0-.6 0-.6 0-.6 0-.6 0-.6 0-.6 0-.6 0-.6 0-.6 0-.6 0-.6 0-.6 0-.6 0-.6 0-.6 0-.6 0-.6 0-.6 0-.6 0-.6 0-.6 0-.6 0-.6 0-.6 0-.6 0-.6 0-.6 0-.6 0-.6 0-.6 0-.6 0-.6 0-.6 0-.6 0-.6 0-.6 0-.6 0-.6 0-.6 0-.6 0-.6 0-.6 0-.6 0-.6 0-.6 0-.6 0-.6 0-.6 0-.6 0-.6 0-.6 0-.6 0-.6 0-.6 0-.6 0-.6 0-.6 0-.6 0-.6 0-.6 0-.6 0-.6 0-.6 0-.6 0-.6 0-.6 0-.6 0-.6 0-.6 0-.6 0-.6 0-.6 0-.6 0-.6 0-.6 0-.6 0-.6 0-.6 0-.6 0-.6 0-.6 0-.6 0-.6 0-.6 0-.6 0-.6 0-.6 0-.6 0-.6 0-.6 0-.6 0-.6 0-.6 0-.6 0-.6 0-.6 0-.6 0-.6 0-.6 0-.6 0-.6 0-.6 0-.6 0-.6 0-.6 0-.6 0-.6 0-.6 0-.6 0-.6 0-.6 0-.6 0-.6 0-.6 0-.6 0-.6 0-.6 0-.6 0-.6 0-.6 0-.6 0-.6 0-.6 0-.6 0-.6 0-.6 0-.6 0-.6 0-.5 0-.6 0-.6 0-.6 0-.6 0-.6 0-.6 0-.6 0-.6 0-.6 0-.6 0-.6 0-.6 0-.6 0-.6 0-.6 0-.6 0-.6 0-.6 0-.6 0-.6 0-.6 0-.6 0-.6 0-.6 0-.6 0-.6 0-.6 0-.6 0-.6 0-.6 0-.6 0-.6 0-.6 0-.6 0-.6 0-.6 0-.6 0-.6 0-.6 0-.6 0-.6 0-.6 0-.6 0-.6 0-.6 0-.6 0-.6 0-.6 0-.6 0-.6 0-.6 0-.6 0-.6 0-.6 0-.6 0-.6 0-.6 0-.6 0-.6 0-.6 0-.6 0-.6 0-.6 0-.6 0-.6 0-.6 0-.6 0-.6 0-.6 0-.6 0-.6 0-.6 0-.6 0-.6 0-.6 0-.6 0-.6 0-.6 0-.6 0-.6 0-.6 0-.6 0-.6 0-.6 0-.6 0z"/><path fill="#ffa500" fill-opacity=".3" d="M563.4 698.1l.6 1.2 .6-1.4 .6 2.2 .6-2 .6 .8 .6 .8 .6 .4 .6-.9 .6 .3 .6-.4 .6 .8 .6-1.7 .6 1.3 .6-.3 .6-.3 .6-.1 .6-1.2 .6 1.5 .6-.3 .6 .5 .6-.5 .6 1.3 .6-.6 .6-.1 .6-1.2 .6 .5 .6 1.5 .6-1.7 .6-.5 .6 .6 .6-.6 .6 1.9 .6-.5 .6-1.2 .6 2 .6-1.4 .6-.3 .6 1.5 .6-2 .6 .3 .6 .4 .6 1.3 .6-1.4 .6 .5 .6-1.1 .6 .3 .6 .3 .6 1 .6 .2 .6-.1 .6-1.7 .6 .8 .6-.8 .6 1.6 .6-1.2 .6 1.9 .6-.4 .6 .1 .6-1.5 .6 1.7 .6-.5 .6-1.8 .6 2.4 .6-2.4 .6 2.4 .6-1.9 .6-.1 .6 .8 .6-1.4 .6 1.9 .6 0 .6-1.8 .6 1.9 .6-.7 .6 0 .6 .1 .6 .5 .6 .7 .6-1 .6-1.1 .6 1.4 .6-.8 .6 0 .6-.3 .6 .8 .5-1 .6 1.6 .6-1.2 .6 .7 .6-1 .6 0 .6 1.1 .6-1 .6 .5 .6-1 .6 1.5 .6-.6 .6-.9 .6 1 .6-.9 .6-.3 .6 .4 .6-.1 .6 .3 .6-.7 .6 2.5 .6-.3 .6-.4 .6 .3 .6-1.1 .6-.9 .6-.2 .6 1.1 .6 1.5 .6-1.3 .6 .7 .6 .2 .6-1.8 .6 2.3 .6-.3 .6-1.7 .6-.6 .6 2.5 .6-.1 .6-2.1 .6 .5 .6-.5 .6-.1 .6 1.6 .6-1.7 .6 1.9 .6-1.5 .6 2.2 .6-.4 .6 0 .6-2 .6 1 .6-1.3 .6 1.2 .6-1 .6 1.8 .6 .4 .6-1.9 .6 1.6 .6-.1 .6 .1 .6-.2 .6-.7 .6-.8 .6-.4 .6 1.2 .6-.8 .6-.5 .6 .2 .6 1.4 .6-.3 .6-.3 .6 .8 .6-.6 .6 .1 .6 1.2 .6-1 .6 .4 .6 0 .6-.8 .6 1.7 .6-1.9 .6 0 .6-.2 .6 .3 .6 1.3 .6-1.3 .6-.3 .6 1 .6-.6 .6 1.6 .6-2.3 .6 1.1 .6-.9 .6 2 .6-.6 .6-.5 .6-.6 .6-.2 .6 .9 .6 1 .6-2.1 .6-.4 .6 .1 .6 2.2 .6-.7 .6-1.2 .6 .3 .6-.5 .6 1.6 .6-1.3 .6-.6 .6 .7 .6 1.7 .6-.1 .6-1.5 .6 .9 .6 1 .6-2.7 .6 1.2 .6 .4 .6-1.2 .6 .3 .6 .3 .6 .1 .6 1 .6-1 .6-.2 .6 .5 .6-.4 .6 1 .6 0 .6-1.5 .6 2.1 .6-1.7 .6 .8 .6 .6 .6-1.4 .6 1.6 .6-.6 .6-1.3 .6 .8 .6-.4 .6-.3 .6-.4 .6 .3 .6-.5 .6 1.3 .6 .9 .6-.7 .6-.6 .6 1 .6-1.6 .6-.4 .6 1.2 .6 .9 .6 .5 .6 0 .6-.9 .6 .7 .6-1.8 .6 0 .6 .4 .6 1.7 .6-.4 .6-.5 .6-1.4 .6 1.7 .6-.3 .6 .1 .6-1.2 .6-.1 .6 0 .6 1.9 .6-2.1 .6 2.1 .6-2.2 .6 2.3 .6-1.3 .6 1.1 .6-2.3 .6 2.3 .6-.2 .6-.4 .6-1 .6-.3 .6 1.7 .6-1.6 .6 1.8 .6-1.3 .6 .4 .6-.6 .6-.4 .6 .2 .6-.4 .6 .5 .6 1.8 .6-2 .6 .7 .6 1.3 .6-.8 .6-.8 .6 .6 .6-1 .6 1.5 .6-.7 .6-.3 .6 .1 .6-.1 .6 .6 .6 .1 .6-1.3 .6 .3 .6 1.5 .6-1.5 .6-.2 .6 .9 .6 .7 .6 .4 .6-1.9 .6 .9 .6 0 .6-.2 .6-1.4 .6 .9 .6 .9 .6 .6 .6-1.4 .6-.4 .6 .8 .6 1.5 .6-1.1 .6-.3 .6 .6 .6-.1 .6 0 .6-1.3 .6 2.3 .6-1 .6 .7 .6 .8 .6-1.4 .6 .2 .6-.8 .6 1 .6 .9 .6-1.7 .6-.2 .6 2.5 .6-1.4 .6-.9 .6 1 .6 1.6 .6-2.3 .6-.2 .6 1.2 .6 .1 .6 1.3 .6-2.5 .6 1 .6 1.5 .6-.8 .6-.3 .6-.6 .6-.2 .6 1.2 .6 .1 .6-.1 .6-.5 .6 .9 .6-.9 .6-.2 .6 2 .6-1 .6 .6 .6-1.1 .6-.8 .5 .8 .6 1.2 .6-.6 .6-.7 0 2.7-.6 0-.6 0-.6 0-.5 0-.6 0-.6 0-.6 0-.6 0-.6 0-.6 0-.6 0-.6 0-.6 0-.6 0-.6 0-.6 0-.6 0-.6 0-.6 0-.6 0-.6 0-.6 0-.6 0-.6 0-.6 0-.6 0-.6 0-.6 0-.6 0-.6 0-.6 0-.6 0-.6 0-.6 0-.6 0-.6 0-.6 0-.6 0-.6 0-.6 0-.6 0-.6 0-.6 0-.6 0-.6 0-.6 0-.6 0-.6 0-.6 0-.6 0-.6 0-.6 0-.6 0-.6 0-.6 0-.6 0-.6 0-.6 0-.6 0-.6 0-.6 0-.6 0-.6 0-.6 0-.6 0-.6 0-.6 0-.6 0-.6 0-.6 0-.6 0-.6 0-.6 0-.6 0-.6 0-.6 0-.6 0-.6 0-.6 0-.6 0-.6 0-.6 0-.6 0-.6 0-.6 0-.6 0-.6 0-.6 0-.6 0-.6 0-.6 0-.6 0-.6 0-.6 0-.6 0-.6 0-.6 0-.6 0-.6 0-.6 0-.6 0-.6 0-.6 0-.6 0-.6 0-.6 0-.6 0-.6 0-.6 0-.6 0-.6 0-.6 0-.6 0-.6 0-.6 0-.6 0-.6 0-.6 0-.6 0-.6 0-.6 0-.6 0-.6 0-.6 0-.6 0-.6 0-.6 0-.6 0-.6 0-.6 0-.6 0-.6 0-.6 0-.6 0-.6 0-.6 0-.6 0-.6 0-.6 0-.6 0-.6 0-.6 0-.6 0-.6 0-.6 0-.6 0-.6 0-.6 0-.6 0-.6 0-.6 0-.6 0-.6 0-.6 0-.6 0-.6 0-.6 0-.6 0-.6 0-.6 0-.6 0-.6 0-.6 0-.6 0-.6 0-.6 0-.6 0-.6 0-.6 0-.6 0-.6 0-.6 0-.6 0-.6 0-.6 0-.6 0-.6 0-.6 0-.6 0-.6 0-.6 0-.6 0-.6 0-.6 0-.6 0-.6 0-.6 0-.6 0-.6 0-.6 0-.6 0-.6 0-.6 0-.6 0-.6 0-.6 0-.6 0-.6 0-.6 0-.6 0-.6 0-.6 0-.6 0-.6 0-.6 0-.6 0-.6 0-.6 0-.6 0-.6 0-.6 0-.6 0-.6 0-.6 0-.6 0-.6 0-.6 0-.6 0-.6 0-.6 0-.6 0-.6 0-.6 0-.6 0-.6 0-.6 0-.6 0-.6 0-.6 0-.6 0-.6 0-.6 0-.6 0-.6 0-.6 0-.6 0-.6 0-.6 0-.6 0-.6 0-.6 0-.6 0-.6 0-.6 0-.6 0-.6 0-.6 0-.6 0-.6 0-.6 0-.6 0-.6 0-.6 0-.6 0-.6 0-.6 0-.6 0-.6 0-.6 0-.6 0-.6 0-.6 0-.6 0-.6 0-.6 0-.6 0-.6 0-.6 0-.6 0-.6 0-.6 0-.6 0-.6 0-.6 0-.6 0-.6 0-.6 0-.6 0-.6 0-.6 0-.5 0-.6 0-.6 0-.6 0-.6 0-.6 0-.6 0-.6 0-.6 0-.6 0-.6 0-.6 0-.6 0-.6 0-.6 0-.6 0-.6 0-.6 0-.6 0-.6 0-.6 0-.6 0-.6 0-.6 0-.6 0-.6 0-.6 0-.6 0-.6 0-.6 0-.6 0-.6 0-.6 0-.6 0-.6 0-.6 0-.6 0-.6 0-.6 0-.6 0-.6 0-.6 0-.6 0-.6 0-.6 0-.6 0-.6 0-.6 0-.6 0-.6 0-.6 0-.6 0-.6 0-.6 0-.6 0-.6 0-.6 0-.6 0-.6 0-.6 0-.6 0-.6 0-.6 0-.6 0-.6 0-.6 0-.6 0-.6 0-.6 0-.6 0-.6 0-.6 0-.6 0-.6 0-.6 0-.6 0-.6 0-.6 0-.6 0-.6 0-.6 0-.6 0-.6 0-.6 0-.6 0-.6 0z"/><path fill="#ffa500" fill-opacity=".3" d="M563.4 701.9l.6-1.5 .6 1.6 .6-1 .6-.6 .6 .1 .6 .9 .6 .2 .6 .4 .6 0 .6-1.4 .6 1.5 .6-1.6 .6 1.5 .6-.7 .6 .2 .6 .4 .6-1.1 .6-.3 .6 1.6 .6-1.4 .6 .2 .6-.4 .6 .6 .6-.2 .6 .4 .6 .9 .6-.9 .6-.1 .6 .7 .6-.2 .6-.9 .6 1.2 .6-.1 .6-1 .6 .5 .6 .3 .6-.6 .6 .6 .6-.1 .6-.4 .6 .7 .6-1.2 .6 1.1 .6 .1 .6-.2 .6 .5 .6-.2 .6-.7 .6-.8 .6 .1 .6-.2 .6 .3 .6 1.2 .6 .3 .6-.2 .6 .2 .6-.8 .6 .6 .6-.4 .6 .7 .6-1.8 .6 1.5 .6-1 .6-.2 .6 1.2 .6-.6 .6 .5 .6-.9 .6 .1 .6 .7 .6-.1 .6-.3 .6 0 .6 .4 .6 0 .6 0 .6 .1 .6-1.5 .6 1.8 .6-1.2 .6 1 .6-1 .6 .9 .6-1 .6 .2 .5-.3 .6 .1 .6 .1 .6 .2 .6-.2 .6 .2 .6 .9 .6-1.4 .6-.2 .6 1.8 .6-1.9 .6 .5 .6-.4 .6 1.4 .6-.7 .6 1.1 .6-1.4 .6 .6 .6-.7 .6 .7 .6 .2 .6-1.1 .6-.1 .6 1 .6-.3 .6-.4 .6 .7 .6 .4 .6 0 .6-.8 .6 0 .6 1.1 .6-1.8 .6 .2 .6 .6 .6 1.2 .6-.6 .6-.4 .6-.3 .6-.2 .6-.2 .6 .2 .6 1.1 .6-.3 .6-1.2 .6 .4 .6 1.3 .6-.2 .6-1.3 .6 .2 .6 .6 .6 0 .6-.9 .6 .3 .6 .5 .6-.7 .6 1.1 .6-1.2 .6 1.8 .6-1.6 .6 .6 .6 .4 .6-.7 .6 .5 .6-.9 .6 .6 .6-.1 .6-.2 .6 .8 .6 .5 .6-1.6 .6 0 .6 .4 .6 .1 .6 .6 .6 .3 .6-1.6 .6 .8 .6-.2 .6 .1 .6 .8 .6-1.1 .6-.1 .6 0 .6 .6 .6 .7 .6-1.4 .6-.1 .6 .8 .6 .5 .6 .4 .6-.8 .6-.4 .6-.2 .6 1.2 .6-1.5 .6 1.2 .6-1.1 .6 .6 .6 .3 .6-.6 .6 1.1 .6-.7 .6 .5 .6-.5 .6-.3 .6 1.1 .6-1.6 .6-.2 .6 .7 .6 .9 .6 .1 .6-.1 .6-.8 .6 .5 .6 .2 .6 .2 .6 .2 .6 0 .6-.5 .6 .2 .6-1.3 .6 1.4 .6-1.1 .6 .3 .6-.9 .6 .9 .6 0 .6-.6 .6 1.5 .6 0 .6-.3 .6-1.4 .6 .1 .6 1.8 .6-1.5 .6-.3 .6 1.4 .6-1.5 .6 1 .6 .3 .6-.8 .6 .5 .6-.7 .6 .9 .6-.6 .6 1.1 .6-1.7 .6 1.6 .6-.8 .6 .2 .6-1.1 .6 .8 .6 .1 .6 0 .6 1 .6-1 .6-.3 .6 .2 .6 .5 .6 .3 .6-.9 .6 0 .6-.1 .6 1.1 .6-1.7 .6 .5 .6 1.1 .6-1.3 .6 .8 .6 .4 .6-.6 .6 .1 .6-.2 .6 1.1 .6-.8 .6-.6 .6 1.1 .6-.4 .6 .1 .6 .6 .6-1.8 .6 .1 .6 1.7 .6-1.9 .6 .5 .6 .6 .6-.9 .6 .5 .6-.7 .6 1.7 .6-.8 .6-.5 .6 1.2 .6-.7 .6 .9 .6-1.8 .6 1.2 .6 0 .6-.1 .6-.7 .6 .8 .6 .2 .6-.9 .6 1 .6 .2 .6-1 .6 1.1 .6-.5 .6-.6 .6 1.1 .6-1.4 .6 .8 .6-.9 .6 .5 .6 .3 .6-.8 .6 1.2 .6-1.5 .6 .8 .6-.1 .6 .7 .6-.6 .6 1.1 .6-1.6 .6 .8 .6-1 .6 1.5 .6-1.1 .6 1.5 .6-.5 .6 .1 .6-1 .6 1.6 .6-.5 .6-1.1 .6 0 .6 1.7 .6-.6 .6 .9 .6-1.4 .6 1.6 .6-1.3 .6 .2 .6 .1 .6 .1 .6 1.2 .6-.4 .6 .2 .6 .2 .6-.8 .6 .8 .6-.1 .6-1 .6 .6 .6-.7 .6 .7 .6-.7 .6 .1 .6 0 .6 .5 .6 .6 .6-.2 .6 .4 .6-1.7 .6 1.6 .6-1.3 .6 1.3 .6-1 .6 .5 .6-.4 .6 0 .6 1 .6 0 .6-1.3 .6 .1 .6 .3 .5-.7 .6 .1 .6 .9 .6-.5 0 1.1-.6 0-.6 0-.6 0-.5 0-.6 0-.6 0-.6 .3-.6 0-.6-.3-.6 0-.6 0-.6 0-.6 .2-.6-.2-.6 .2-.6-.2-.6 .3-.6-.3-.6 .1-.6-.1-.6 0-.6 0-.6 0-.6 0-.6 0-.6 0-.6 0-.6 0-.6 .1-.6-.1-.6 .1-.6-.1-.6 0-.6 .1-.6-.1-.6 0-.6 0-.6 0-.6 0-.6 0-.6 0-.6 0-.6 0-.6 0-.6 0-.6 0-.6 0-.6 0-.6 0-.6 0-.6 0-.6 0-.6 0-.6 0-.6 0-.6 0-.6 0-.6 0-.6 0-.6 0-.6 0-.6 0-.6 0-.6 0-.6 0-.6 0-.6 0-.6 0-.6 0-.6 0-.6 0-.6 0-.6 0-.6 0-.6 0-.6 0-.6 0-.6 0-.6 0-.6 0-.6 0-.6 0-.6 0-.6 0-.6 0-.6 0-.6 0-.6 0-.6 0-.6 0-.6 0-.6 0-.6 0-.6 0-.6 0-.6 0-.6 0-.6 0-.6 0-.6 0-.6 0-.6 0-.6 0-.6 0-.6 0-.6 0-.6 0-.6 0-.6 0-.6 0-.6 0-.6 0-.6 0-.6 0-.6 0-.6 0-.6 0-.6 0-.6 0-.6 0-.6 0-.6 0-.6 0-.6 0-.6 0-.6 0-.6 0-.6 0-.6 0-.6 0-.6 0-.6 0-.6 0-.6 0-.6 0-.6 0-.6 0-.6 0-.6 0-.6 0-.6 0-.6 0-.6 0-.6 0-.6 0-.6 0-.6 0-.6 0-.6 0-.6 0-.6 0-.6 0-.6 0-.6 0-.6 0-.6 0-.6 0-.6 0-.6 0-.6 0-.6 0-.6 0-.6 0-.6 0-.6 0-.6 0-.6 0-.6 0-.6 0-.6 0-.6 0-.6 0-.6 0-.6 0-.6 0-.6 0-.6 0-.6 0-.6 0-.6 0-.6 0-.6 0-.6 0-.6 0-.6 0-.6 0-.6 0-.6 0-.6 0-.6 0-.6 0-.6 0-.6 0-.6 0-.6 0-.6 0-.6 0-.6 0-.6 0-.6 0-.6 0-.6 0-.6 0-.6 0-.6 0-.6 0-.6 0-.6 0-.6 0-.6 0-.6 0-.6 0-.6 0-.6 0-.6 0-.6 0-.6 0-.6 0-.6 0-.6 0-.6 0-.6 0-.6 0-.6 0-.6 0-.6 0-.6 0-.6 0-.6 0-.6 0-.6 0-.6 0-.6 0-.6 0-.6 0-.6 0-.6 0-.6 0-.6 0-.6 0-.6 0-.6 0-.6 0-.6 0-.6 0-.6 0-.6 0-.6 0-.6 0-.6 0-.6 0-.6 0-.6 0-.6 0-.6 0-.6 0-.6 0-.6 0-.6 0-.6 0-.6 0-.6 0-.6 0-.6 0-.6 0-.6 0-.6 0-.6 0-.6 0-.6 0-.6 0-.6 0-.6 0-.6 0-.6 0-.6 0-.6 0-.6 0-.6 0-.6 0-.5 0-.6 0-.6 0-.6 0-.6 0-.6 0-.6 0-.6 0-.6 0-.6 0-.6 0-.6 0-.6 0-.6 0-.6 0-.6 0-.6 0-.6 0-.6 0-.6 0-.6 0-.6 0-.6 0-.6 0-.6 0-.6 0-.6 0-.6 0-.6 0-.6 0-.6 0-.6 0-.6 0-.6 0-.6 0-.6 0-.6 0-.6 0-.6 0-.6 0-.6 0-.6 0-.6 0-.6 0-.6 0-.6 0-.6 0-.6 0-.6 0-.6 0-.6 0-.6 0-.6 0-.6 0-.6 0-.6 0-.6 0-.6 0-.6 0-.6 0-.6 0-.6 0-.6 0-.6 0-.6 0-.6 0-.6 0-.6 0-.6 0-.6 0-.6 0-.6 0-.6 0-.6 0-.6 0-.6 0-.6 0-.6 0-.6 0-.6 0-.6 0-.6 0-.6 0-.6 0-.6 0-.6 0z"/><path fill="#ffa500" fill-opacity=".2" d="M563.4 764l.6 0 .6 0 .6 0 .6 0 .6 0 .6 0 .6 0 .6 0 .6 0 .6 0 .6 0 .6 0 .6 0 .6 0 .6 0 .6 0 .6 0 .6 0 .6 0 .6 0 .6 0 .6 0 .6 0 .6 0 .6 0 .6 0 .6 0 .6 0 .6 0 .6 0 .6 0 .6 0 .6 0 .6 0 .6 0 .6 0 .6 0 .6 0 .6 0 .6 0 .6 0 .6 0 .6 0 .6 0 .6 0 .6 0 .6 0 .6 0 .6 0 .6 0 .6 0 .6 0 .6 0 .6 0 .6 0 .6 0 .6 0 .6 0 .6 0 .6 0 .6 0 .6 0 .6 0 .6 0 .6 0 .6 0 .6 0 .6 0 .6 0 .6 0 .6 0 .6 0 .6 0 .6 0 .6 0 .6 0 .6 0 .6 0 .6 0 .6 0 .6 0 .6 0 .6 0 .6 0 .6 0 .5 0 .6 0 .6 0 .6 0 .6 0 .6 0 .6 0 .6 0 .6 0 .6 0 .6 0 .6 0 .6 0 .6 0 .6 0 .6 0 .6 0 .6 0 .6 0 .6 0 .6 0 .6 0 .6 0 .6 0 .6 0 .6 0 .6 0 .6 0 .6 0 .6 0 .6 0 .6 0 .6 0 .6 0 .6 0 .6 0 .6 0 .6 0 .6 0 .6 0 .6 0 .6 0 .6 0 .6 0 .6 0 .6 0 .6 0 .6 0 .6 0 .6 0 .6 0 .6 0 .6 0 .6 0 .6 0 .6 0 .6 0 .6 0 .6 0 .6 0 .6 0 .6 0 .6 0 .6 0 .6 0 .6 0 .6 0 .6 0 .6 0 .6 0 .6 0 .6 0 .6 0 .6 0 .6 0 .6 0 .6 0 .6 0 .6 0 .6 0 .6 0 .6 0 .6 0 .6 0 .6 0 .6 0 .6 0 .6 0 .6 0 .6 0 .6 0 .6 0 .6 0 .6 0 .6 0 .6 0 .6 0 .6 0 .6 0 .6 0 .6 0 .6 0 .6 0 .6 0 .6 0 .6 0 .6 0 .6 0 .6 0 .6 0 .6 0 .6 0 .6 0 .6 0 .6 0 .6 0 .6 0 .6 0 .6 0 .6 0 .6 0 .6 0 .6 0 .6 0 .6 0 .6 0 .6 0 .6 0 .6 0 .6 0 .6 0 .6 0 .6 0 .6 0 .6 0 .6 0 .6 0 .6 0 .6 0 .6 0 .6 0 .6 0 .6 0 .6 0 .6 0 .6 0 .6 0 .6 0 .6 0 .6 0 .6 0 .6 0 .6 0 .6 0 .6 0 .6 0 .6 0 .6 0 .6 0 .6 0 .6 0 .6 0 .6 0 .6 0 .6 0 .6 0 .6 0 .6 0 .6 0 .6 0 .6 0 .6 0 .6 0 .6 0 .6 0 .6 0 .6 0 .6 0 .6 0 .6 0 .6 0 .6 0 .6 0 .6 0 .6 0 .6 0 .6 0 .6 0 .6 0 .6 0 .6 0 .6 0 .6 0 .6 0 .6 0 .6 0 .6 0 .6 0 .6 0 .6 0 .6 0 .6 0 .6 0 .6 0 .6 0 .6 0 .6 0 .6 0 .6 0 .6 0 .6 0 .6 0 .6 0 .6 0 .6 0 .6 0 .6 0 .6 0 .6 0 .6 0 .6 0 .6 0 .6 0 .6 0 .6 0 .6 0 .6 0 .6 0 .6 0 .6 0 .6 0 .6 0 .6 0 .6 0 .6 0 .6 0 .6 0 .6 0 .6 0 .6 0 .6 0 .6 0 .6 0 .6 0 .6 0 .6 0 .6 0 .6 0 .6 0 .6 0 .6 0 .6 0 .6 0 .6 0 .6 0 .6 0 .6 0 .6 0 .6 0 .6 0 .6 0 .6 0 .6 0 .6 0 .6 0 .6 0 .6 0 .6 0 .6 0 .6 0 .6 0 .6 0 .6 0 .6 0 .6 0 .6 0 .6 0 .5 0 .6 0 .6 0 .6 0 0 7.7-.6 .9-.6 2.8-.6-.1-.5-.7-.6-1.2-.6-1.5-.6 2.6-.6 1.2-.6-3.1-.6 3-.6-.9-.6-2.6-.6 1.6-.6-.1-.6-1.9-.6 1.1-.6 2.1-.6-2.9-.6 2.3-.6 .7-.6-1.5-.6-1.2-.6 2.5-.6-1.2-.6-2.3-.6 3.3-.6-1-.6 2.3-.6 .1-.6-3.4-.6 2.1-.6-2.5-.6 3.3-.6-3.6-.6 2.9-.6-3.3-.6-.1-.6 .3-.6-.1-.6 3.6-.6-3.7-.6 4.2-.6-4.4-.6 4.7-.6-2.6-.6-.9-.6 2.1-.6-.5-.6-2-.6 3.2-.6-1.3-.6-.2-.6 .1-.6-1.7-.6 3.7-.6-.3-.6-.1-.6-2-.6 2.2-.6-3.2-.6 1.8-.6 1.6-.6-4.3-.6 3.3-.6-3.6-.6 3.9-.6-3.4-.6 .5-.6 3.4-.6-1-.6-1.2-.6-.5-.6 2.8-.6-.7-.6-2.1-.6 2.8-.6-1.3-.6-2.8-.6 1.1-.6-.3-.6-1.2-.6 .9-.6-.3-.6 2.7-.6-3.2-.6 1.3-.6 .8-.6-1.4-.6 .9-.6-1.6-.6 1.2-.6 .5-.6 1.3-.6 1-.6-.1-.6 .2-.6-2.9-.6 0-.6 0-.6 1.5-.6-.8-.6 1.5-.6 1.2-.6 0-.6-1-.6-3.4-.6 3.6-.6-2.8-.6 3.4-.6-2.2-.6 1.2-.6 1-.6-4-.6 1.7-.6 .8-.6 .6-.6-3.4-.6 .5-.6 1.9-.6-.8-.6 1-.6-2.6-.6 1.5-.6-.3-.6 2.5-.6-.8-.6-.7-.6-.7-.6-1.7-.6 4-.6-2.2-.6-1.6-.6 4.4-.6 0-.6-4-.6 1.5-.6-.6-.6 2.3-.6-.1-.6-1.5-.6-.9-.6 .4-.6 .7-.6 1.9-.6-3.3-.6 .9-.6-.8-.6 3.7-.6-4.2-.6-.3-.6 .8-.6 .2-.6 1.8-.6-2.7-.6 1.9-.6-1.2-.6 1.1-.6 2.2-.6-1.7-.6 1.1-.6-.9-.6-2.7-.6 2.7-.6-2.6-.6-.2-.6 2.9-.6-1.3-.6 .2-.6 1.2-.6-.6-.6-.4-.6 .8-.6 1.3-.6-1.4-.6 .8-.6 .6-.6-.6-.6-.7-.6-.6-.6-1.7-.6 4.2-.6-.6-.6-3.8-.6 3.5-.6 .2-.6-.4-.6 .4-.6-3.3-.6 3.4-.6-3-.6 1.4-.6-.8-.6 2.9-.6-2.9-.6 1.3-.6-1.3-.6 .1-.6 1.9-.6-2.3-.6 .8-.6 2.5-.6-1.1-.6-2.1-.6-.2-.6 3.1-.6-3.4-.6-.4-.6 .6-.6 .6-.6 1.4-.6-1.9-.6 3.4-.6-4-.6 2.5-.6-2.2-.6 3.4-.6 .2-.6-3.9-.6 3.8-.6-4.1-.6 3.9-.6-.2-.6-2.9-.6 2.1-.6-2.2-.6 2.1-.6-2.3-.6 1.8-.6-1.7-.6 1.5-.6 .4-.6-2.7-.6 1.5-.6 0-.6-1.7-.6 1.2-.6 2.5-.6-1.7-.6 .3-.6-.2-.6 1.3-.6-1.5-.6 .4-.6 1-.6-2.4-.6 1.2-.6 .3-.6-.1-.6-1.6-.6 3.1-.6-.3-.6-1.4-.6-1.4-.6 4.1-.6-3.8-.6 2.1-.6-.7-.6 0-.6 1.5-.6-1.7-.6-1.4-.6 .6-.6-1.1-.6 4.5-.6-3.3-.6 3-.6-1.6-.6 1.4-.6-4.2-.6 1.7-.6 2.9-.6-3-.6 .7-.6 .3-.6 2.1-.6-4.7-.6 2.5-.6 .7-.6-3-.6-.1-.5 1.2-.6 1.2-.6-.9-.6 .4-.6 2.5-.6-3.2-.6 .4-.6-1.4-.6 .7-.6 3.8-.6-4.4-.6 3-.6-3.2-.6 0-.6 2.8-.6-2.3-.6 1.9-.6 .8-.6 1.3-.6-3.2-.6-.8-.6 3.8-.6 .1-.6-2.6-.6-1.9-.6 2.1-.6 .8-.6 1.8-.6-4.5-.6 1.7-.6 2.6-.6-3.1-.6 1-.6 .5-.6 1.1-.6 .3-.6-3.2-.6 3.2-.6-1.2-.6-.1-.6-.4-.6 .6-.6 1.2-.6-2.1-.6 2.2-.6 0-.6-.6-.6-2.4-.6 .3-.6-1-.6 1.9-.6-2.7-.6 1.3-.6 2.9-.6-3.9-.6 .2-.6 3.9-.6-3.6-.6-.5-.6 4.1-.6-.8-.6-2.6-.6 .4-.6 0-.6-.7-.6 4-.6-.2-.6-.9-.6-.5-.6 .6-.6-.6-.6 1.2-.6-2.6-.6 1.3-.6-2.5-.6 2.1-.6-2.5-.6 .6-.6-.1-.6 .2-.6 .9-.6-1.2-.6 1.2-.6 1-.6-.3-.6 2z"/><path fill="#ffa500" fill-opacity=".3" d="M563.4 764l.6 0 .6 0 .6 0 .6 0 .6 0 .6 0 .6 0 .6 0 .6 0 .6 0 .6 0 .6 0 .6 0 .6 0 .6 0 .6 0 .6 0 .6 0 .6 0 .6 0 .6 0 .6 0 .6 0 .6 0 .6 0 .6 0 .6 0 .6 0 .6 0 .6 0 .6 0 .6 0 .6 0 .6 0 .6 0 .6 0 .6 0 .6 0 .6 0 .6 0 .6 0 .6 0 .6 0 .6 0 .6 0 .6 0 .6 0 .6 0 .6 0 .6 0 .6 0 .6 0 .6 0 .6 0 .6 0 .6 0 .6 0 .6 0 .6 0 .6 0 .6 0 .6 0 .6 0 .6 0 .6 0 .6 0 .6 0 .6 0 .6 0 .6 0 .6 0 .6 0 .6 0 .6 0 .6 0 .6 0 .6 0 .6 0 .6 0 .6 0 .6 0 .6 0 .6 0 .6 0 .6 0 .5 0 .6 0 .6 0 .6 0 .6 0 .6 0 .6 0 .6 0 .6 0 .6 0 .6 0 .6 0 .6 0 .6 0 .6 0 .6 0 .6 0 .6 0 .6 0 .6 0 .6 0 .6 0 .6 0 .6 0 .6 0 .6 0 .6 0 .6 0 .6 0 .6 0 .6 0 .6 0 .6 0 .6 0 .6 0 .6 0 .6 0 .6 0 .6 0 .6 0 .6 0 .6 0 .6 0 .6 0 .6 0 .6 0 .6 0 .6 0 .6 0 .6 0 .6 0 .6 0 .6 0 .6 0 .6 0 .6 0 .6 0 .6 0 .6 0 .6 0 .6 0 .6 0 .6 0 .6 0 .6 0 .6 0 .6 0 .6 0 .6 0 .6 0 .6 0 .6 0 .6 0 .6 0 .6 0 .6 0 .6 0 .6 0 .6 0 .6 0 .6 0 .6 0 .6 0 .6 0 .6 0 .6 0 .6 0 .6 0 .6 0 .6 0 .6 0 .6 0 .6 0 .6 0 .6 0 .6 0 .6 0 .6 0 .6 0 .6 0 .6 0 .6 0 .6 0 .6 0 .6 0 .6 0 .6 0 .6 0 .6 0 .6 0 .6 0 .6 0 .6 0 .6 0 .6 0 .6 0 .6 0 .6 0 .6 0 .6 0 .6 0 .6 0 .6 0 .6 0 .6 0 .6 0 .6 0 .6 0 .6 0 .6 0 .6 0 .6 0 .6 0 .6 0 .6 0 .6 0 .6 0 .6 0 .6 0 .6 0 .6 0 .6 0 .6 0 .6 0 .6 0 .6 0 .6 0 .6 0 .6 0 .6 0 .6 0 .6 0 .6 0 .6 0 .6 0 .6 0 .6 0 .6 0 .6 0 .6 0 .6 0 .6 0 .6 0 .6 0 .6 0 .6 0 .6 0 .6 0 .6 0 .6 0 .6 0 .6 0 .6 0 .6 0 .6 0 .6 0 .6 0 .6 0 .6 0 .6 0 .6 0 .6 0 .6 0 .6 0 .6 0 .6 0 .6 0 .6 0 .6 0 .6 0 .6 0 .6 0 .6 0 .6 0 .6 0 .6 0 .6 0 .6 0 .6 0 .6 0 .6 0 .6 0 .6 0 .6 0 .6 0 .6 0 .6 0 .6 0 .6 0 .6 0 .6 0 .6 0 .6 0 .6 0 .6 0 .6 0 .6 0 .6 0 .6 0 .6 0 .6 0 .6 0 .6 0 .6 0 .6 0 .6 0 .6 0 .6 0 .6 0 .6 0 .6 0 .6 0 .6 0 .6 0 .6 0 .6 0 .6 0 .6 0 .6 0 .6 0 .6 0 .6 0 .6 0 .6 0 .6 0 .6 0 .6 0 .6 0 .6 0 .6 0 .6 0 .6 0 .6 0 .6 0 .6 0 .6 0 .6 0 .6 0 .6 0 .6 0 .6 0 .6 0 .6 0 .6 0 .6 0 .6 0 .6 0 .6 0 .6 0 .6 0 .6 0 .6 0 .6 0 .6 0 .6 0 .6 0 .6 0 .5 0 .6 0 .6 0 .6 0 0 6.6-.6 1.2-.6-1.2-.6 1.5-.5-2.1-.6 2.1-.6-1.7-.6 2.5-.6-.6-.6 0-.6-.9-.6-1.1-.6 2.1-.6 .5-.6-1.7-.6-.7-.6 .2-.6 1-.6 1-.6-.7-.6 .3-.6-1.7-.6-.9-.6 3.3-.6-2.7-.6 .2-.6 .8-.6-.2-.6-1.4-.6 0-.6 .3-.6 0-.6 1-.6-1.3-.6 1.4-.6 1.4-.6 .3-.6 .1-.6-2.4-.6-.9-.6 2.8-.6-1-.6-1.4-.6 2-.6 0-.6 1-.6-1.9-.6-.8-.6 .9-.6-1.4-.6 2.5-.6-.2-.6-1-.6 1.5-.6-.6-.6-.6-.6-.9-.6 1.2-.6 1.2-.6-2.1-.6 .8-.6-.1-.6-1.6-.6-.4-.6 2.7-.6-2.7-.6 3.6-.6-1.2-.6-1.2-.6 .1-.6 2-.6-1-.6 .8-.6-2.3-.6 .6-.6-1.5-.6 3.5-.6-.4-.6-.4-.6 .8-.6-1.3-.6-1-.6-.3-.6 1.2-.6 .7-.6 .4-.6-1.7-.6 2.1-.6-1.4-.6-.6-.6 2.1-.6-2.6-.6 2.2-.6-.4-.6 .8-.6-.8-.6-.7-.6 .8-.6-2.3-.6 2.5-.6-2.7-.6-.4-.6 2.2-.6-1.8-.6 2.7-.6-2.3-.6 2.9-.6-1.5-.6-.1-.6-.9-.6-1-.6 3.1-.6 .1-.6-1.3-.6-.3-.6 1.9-.6-.2-.6-2-.6 2-.6-.4-.6-1.7-.6 .8-.6-.8-.6 1.6-.6-2.7-.6 1.7-.6-.9-.6-1-.6 1.8-.6 .2-.6-2-.6 .8-.6 2.8-.6-2.8-.6 1.6-.6-.5-.6-.8-.6 2-.6-1.1-.6 .1-.6 .2-.6-1-.6 1.6-.6-.7-.6-1-.6 1.6-.6-1.3-.6-1.6-.6 .8-.6 0-.6 1.9-.6 .9-.6-3-.6 2.5-.6 .5-.6-2.7-.6 .3-.6-1-.6 1.6-.6-.1-.6-1.2-.6 1-.6 2.2-.6-.7-.6-2.7-.6 1-.6 1.9-.6-2.7-.6 2.2-.6-2-.6 2.3-.6-.1-.6 .7-.6-1-.6 .7-.6-1.6-.6 1.7-.6-3-.6 1.4-.6 1.3-.6-1.6-.6 .4-.6 .5-.6 1-.6-.1-.6-3.3-.6 2.7-.6 .2-.6-.8-.6-.4-.6-1.3-.6 2.5-.6 .7-.6-.2-.6-2.8-.6 2.9-.6-2.4-.6 2.1-.6-2.7-.6 1.8-.6 .2-.6 1.1-.6-1.7-.6-.5-.6 .7-.6-.6-.6 .7-.6 .3-.6-1.4-.6 2.6-.6-2.8-.6 .5-.6 2-.6-2.9-.6 3-.6-1.3-.6 1.4-.6-2.8-.6 .7-.6 .7-.6 1.6-.6-2.9-.6 2.5-.6-2.4-.6 1.9-.6 0-.6-2.8-.6 1-.6 .7-.6 1.1-.6 .1-.6 .7-.6-1.8-.6 1.3-.6-2-.6 .8-.6 .1-.6 1.5-.6-.6-.6 .6-.6-1.4-.6-2-.6 1.4-.6 1.4-.6 0-.6 .1-.6-.7-.6 .1-.6-2.4-.6 1.6-.6 .8-.6-.8-.6 .4-.6-.9-.6-.1-.6 1.3-.6 .7-.6-1.3-.6 1.3-.6-.2-.6 .5-.6-3-.6 .6-.6-.4-.6 2.7-.6-.1-.6-3.1-.6 1.4-.6 .1-.6-1.4-.6 .7-.6 1.1-.6-1.4-.6 1.7-.6 .2-.6-1.7-.6 2.5-.6-1.3-.6 .5-.6-1.7-.6 .5-.5-1-.6 .9-.6 2.6-.6-.7-.6-2.4-.6 1.2-.6 1.5-.6-.9-.6-1.2-.6 1.2-.6 .8-.6 .3-.6-1.6-.6-.3-.6-.2-.6 2.1-.6-2.7-.6 1.7-.6-1.9-.6 2.9-.6-1.6-.6 .7-.6-1.8-.6-.1-.6 2.9-.6-1.2-.6-.1-.6-2.1-.6 2.9-.6-2.6-.6 2.1-.6-.1-.6-2.3-.6 2.1-.6 1.4-.6-.9-.6 0-.6-2.4-.6 2.4-.6-.6-.6 1.5-.6-3.6-.6 3.3-.6 .2-.6-1.8-.6 1.2-.6-2.3-.6 2.8-.6-2.8-.6 .3-.6 .8-.6-1.6-.6 3.1-.6-2.2-.6 1.9-.6-.9-.6-.7-.6 1.6-.6-1.5-.6-1.2-.6 .8-.6 1.6-.6-1.5-.6 1.4-.6-2-.6 .1-.6 1.8-.6-.7-.6-1.6-.6 2.4-.6 .5-.6-1.3-.6 1.9-.6-2-.6-1.6-.6 .1-.6 3.5-.6-.5-.6-1.5-.6 2-.6-1.7-.6-1.9-.6 1.6-.6-.6-.6-.5-.6 1.6z"/><path fill="#ffa500" fill-opacity=".3" d="M563.4 764l.6 0 .6 0 .6 0 .6 0 .6 0 .6 0 .6 0 .6 0 .6 0 .6 0 .6 0 .6 0 .6 0 .6 0 .6 0 .6 0 .6 0 .6 0 .6 0 .6 0 .6 0 .6 0 .6 0 .6 0 .6 0 .6 0 .6 0 .6 0 .6 0 .6 0 .6 0 .6 0 .6 0 .6 0 .6 0 .6 0 .6 0 .6 0 .6 0 .6 0 .6 0 .6 0 .6 0 .6 0 .6 0 .6 0 .6 0 .6 0 .6 0 .6 0 .6 0 .6 0 .6 0 .6 0 .6 0 .6 0 .6 0 .6 0 .6 0 .6 0 .6 0 .6 0 .6 0 .6 0 .6 0 .6 0 .6 0 .6 0 .6 0 .6 0 .6 0 .6 0 .6 0 .6 0 .6 0 .6 0 .6 0 .6 0 .6 0 .6 0 .6 0 .6 0 .6 0 .6 0 .6 0 .5 0 .6 0 .6 0 .6 0 .6 0 .6 0 .6 0 .6 0 .6 0 .6 0 .6 0 .6 0 .6 0 .6 0 .6 0 .6 0 .6 0 .6 0 .6 0 .6 0 .6 0 .6 0 .6 0 .6 0 .6 0 .6 0 .6 0 .6 0 .6 0 .6 0 .6 0 .6 0 .6 0 .6 0 .6 0 .6 0 .6 0 .6 0 .6 0 .6 0 .6 0 .6 0 .6 0 .6 0 .6 0 .6 0 .6 0 .6 0 .6 0 .6 0 .6 0 .6 0 .6 0 .6 0 .6 0 .6 0 .6 0 .6 0 .6 0 .6 0 .6 0 .6 0 .6 0 .6 0 .6 0 .6 0 .6 0 .6 0 .6 0 .6 0 .6 0 .6 0 .6 0 .6 0 .6 0 .6 0 .6 0 .6 0 .6 0 .6 0 .6 0 .6 0 .6 0 .6 0 .6 0 .6 0 .6 0 .6 0 .6 0 .6 0 .6 0 .6 0 .6 0 .6 0 .6 0 .6 0 .6 0 .6 0 .6 0 .6 0 .6 0 .6 0 .6 0 .6 0 .6 0 .6 0 .6 0 .6 0 .6 0 .6 0 .6 0 .6 0 .6 0 .6 0 .6 0 .6 0 .6 0 .6 0 .6 0 .6 0 .6 0 .6 0 .6 0 .6 0 .6 0 .6 0 .6 0 .6 0 .6 0 .6 0 .6 0 .6 0 .6 0 .6 0 .6 0 .6 0 .6 0 .6 0 .6 0 .6 0 .6 0 .6 0 .6 0 .6 0 .6 0 .6 0 .6 0 .6 0 .6 0 .6 0 .6 0 .6 0 .6 0 .6 0 .6 0 .6 0 .6 0 .6 0 .6 0 .6 0 .6 0 .6 0 .6 0 .6 0 .6 0 .6 0 .6 0 .6 0 .6 0 .6 0 .6 0 .6 0 .6 0 .6 0 .6 0 .6 0 .6 0 .6 0 .6 0 .6 0 .6 0 .6 0 .6 0 .6 0 .6 0 .6 0 .6 0 .6 0 .6 0 .6 0 .6 0 .6 0 .6 0 .6 0 .6 0 .6 0 .6 0 .6 0 .6 0 .6 0 .6 0 .6 0 .6 0 .6 0 .6 0 .6 0 .6 0 .6 0 .6 0 .6 0 .6 0 .6 0 .6 0 .6 0 .6 0 .6 0 .6 0 .6 0 .6 0 .6 0 .6 0 .6 0 .6 0 .6 0 .6 0 .6 0 .6 0 .6 0 .6 0 .6 0 .6 0 .6 0 .6 0 .6 0 .6 0 .6 0 .6 0 .6 0 .6 0 .6 0 .6 0 .6 0 .6 0 .6 0 .6 0 .6 0 .6 0 .6 0 .6 0 .6 0 .6 0 .6 0 .6 0 .6 0 .6 0 .6 0 .6 0 .6 0 .6 0 .6 0 .6 0 .6 0 .6 0 .6 0 .6 0 .6 0 .6 0 .6 0 .6 0 .6 0 .6 0 .6 0 .6 0 .6 0 .6 0 .6 0 .6 0 .5 0 .6 0 .6 0 .6 0 0 4.8-.6 .4-.6-.4-.6-.9-.5 .5-.6-.5-.6 .9-.6-.7-.6-.2-.6 1.1-.6 .4-.6-1.6-.6 .1-.6 2-.6-2.4-.6 2.4-.6-.4-.6-1.1-.6-.1-.6 .9-.6-.2-.6 .3-.6 0-.6 .4-.6-.8-.6-.9-.6 1.9-.6-1.1-.6-1.3-.6 1.9-.6-.8-.6-1.2-.6 2.3-.6-2.4-.6 2.1-.6 .4-.6-2-.6-.3-.6 2.5-.6-.3-.6-.5-.6-1.5-.6 0-.6 2.1-.6-.9-.6-1-.6 .6-.6 .9-.6-.8-.6-.9-.6 1.9-.6-1-.6 1.2-.6-1.9-.6 .9-.6-1.3-.6 1.1-.6 1.1-.6-1.7-.6 .7-.6-.7-.6-.7-.6 2-.6-.4-.6-.4-.6 .8-.6 .4-.6-.3-.6-1-.6-.8-.6 .7-.6 .1-.6-1-.6 .8-.6 1.4-.6-.3-.6-1.4-.6 .5-.6-1-.6 1-.6-.4-.6 0-.6 1-.6-.8-.6-.2-.6-.6-.6 1-.6 .9-.6-.4-.6-1.2-.6 1.8-.6-.8-.6-.6-.6 .9-.6-.1-.6-1.3-.6 2.5-.6-2.7-.6-.1-.6 1.1-.6 .6-.6 .5-.6-.1-.6-.1-.6-1.4-.6-.5-.6 2.3-.6-.1-.6-1.6-.6 1.3-.6 .5-.6-1.7-.6 1.5-.6-.2-.6 .2-.6-.6-.6-1-.6 .1-.6 2-.6-.3-.6-.1-.6-1.2-.6 .6-.6 .5-.6-2.1-.6 .9-.6 0-.6 1.2-.6-1.5-.6 .8-.6-.5-.6 .1-.6 1.3-.6 .2-.6-.3-.6-.3-.6-1.2-.6 1.9-.6-.3-.6-2.1-.6 .2-.6 1.7-.6-1.9-.6 2.2-.6-2.1-.6 1-.6 1.3-.6-.6-.6-.2-.6-1.1-.6-.6-.6 .3-.6 1.6-.6-1.6-.6 1.3-.6-1.4-.6 1.2-.6 .1-.6-.7-.6 1.4-.6-.9-.6-1.2-.6-.2-.6 2-.6-2-.6 2.6-.6-1.3-.6-.6-.6-.8-.6 2.3-.6-.8-.6 .3-.6-.6-.6-.9-.6-.2-.6 .3-.6-.2-.6 2.1-.6-.8-.6-1.2-.6 1.8-.6-.7-.6 1.1-.6-.8-.6-.8-.6-.3-.6-.2-.6 .3-.6 1.6-.6-.5-.6-.9-.6-.1-.6 .8-.6 .4-.6 .7-.6-1.6-.6 1.2-.6-.2-.6-1.6-.6 1.6-.6-.8-.6 .6-.6 .8-.6-1.6-.6 1.5-.6-.4-.6-2.1-.6 2.3-.6-2.3-.6 2.6-.6-2.4-.6 1.9-.6 .6-.6-1.5-.6-.1-.6 1-.6-.1-.6-.8-.6 .3-.6-1.5-.6 2.3-.6-.6-.6-.5-.6-.9-.6 1.8-.6-1.3-.6 .2-.6 .9-.6-1.8-.6-.1-.6 0-.6 .8-.6 .9-.6-1.5-.6 1.1-.6-1.3-.6 .9-.6-.8-.6 1.5-.6-.7-.6 .9-.6 .2-.6-1.3-.6 .5-.6 .1-.6 1.3-.6-2.5-.6 1.4-.6-.2-.6 .1-.6-1.1-.6 2-.6-1.1-.6-.4-.6-.3-.6 .9-.6-.4-.6 .4-.6 .9-.6-1.8-.6 1.7-.6-1.2-.6 .8-.6-1.6-.6 .5-.6-.3-.6 0-.6 2-.6-2-.6 .2-.6-.5-.6 2.6-.6-1.7-.6 .9-.6-.6-.6 .7-.6 .2-.6-.8-.6 1.1-.6-.6-.6-.7-.5 0-.6 .7-.6-1.8-.6 1.4-.6 .6-.6-.4-.6-.2-.6-.9-.6 1.7-.6-.2-.6 .1-.6-1.4-.6 .3-.6 1.3-.6-.6-.6 .4-.6-1.6-.6 1.9-.6-1.8-.6 .9-.6-1.3-.6 .4-.6 .1-.6 .6-.6 1.3-.6-1.8-.6 .7-.6 1-.6-1.3-.6 0-.6 1.5-.6-1.1-.6-.4-.6 .5-.6 .2-.6-.1-.6-1.4-.6 1.4-.6 .5-.6-.9-.6-.4-.6-.5-.6-.5-.6 1.5-.6 1.1-.6-2.3-.6 0-.6 2.2-.6-1.3-.6-.2-.6-.2-.6 .8-.6-.2-.6-.4-.6-1-.6 1.3-.6 1.1-.6-.5-.6 .1-.6-1.6-.6 1-.6 .2-.6 0-.6 .1-.6 .9-.6-2.1-.6-.1-.6 .7-.6 1-.6-1.1-.6 .8-.6-1.3-.6 1-.6 .1-.6-1.1-.6 .3-.6-.6-.6-.2-.6 .4-.6 1-.6-1.1-.6 2.3-.6-1.1-.6 1.3-.6-1.4-.6 .7z"/><path fill="#ffa500" fill-opacity=".3" d="M563.4 764l.6 0 .6 0 .6 0 .6 0 .6 0 .6 0 .6 0 .6 0 .6 0 .6 0 .6 0 .6 0 .6 0 .6 0 .6 0 .6 0 .6 0 .6 0 .6 0 .6 0 .6 0 .6 0 .6 0 .6 0 .6 0 .6 0 .6 0 .6 0 .6 0 .6 0 .6 0 .6 0 .6 0 .6 0 .6 0 .6 0 .6 0 .6 0 .6 0 .6 0 .6 0 .6 0 .6 0 .6 0 .6 0 .6 0 .6 0 .6 0 .6 0 .6 0 .6 0 .6 0 .6 0 .6 0 .6 0 .6 0 .6 0 .6 0 .6 0 .6 0 .6 0 .6 0 .6 0 .6 0 .6 0 .6 0 .6 0 .6 0 .6 0 .6 0 .6 0 .6 0 .6 0 .6 0 .6 0 .6 0 .6 0 .6 0 .6 0 .6 0 .6 0 .6 0 .6 0 .6 0 .6 0 .5 0 .6 0 .6 0 .6 0 .6 0 .6 0 .6 0 .6 0 .6 0 .6 0 .6 0 .6 0 .6 0 .6 0 .6 0 .6 0 .6 0 .6 0 .6 0 .6 0 .6 0 .6 0 .6 0 .6 0 .6 0 .6 0 .6 0 .6 0 .6 0 .6 0 .6 0 .6 0 .6 0 .6 0 .6 0 .6 0 .6 0 .6 0 .6 0 .6 0 .6 0 .6 0 .6 0 .6 0 .6 0 .6 0 .6 0 .6 0 .6 0 .6 0 .6 0 .6 0 .6 0 .6 0 .6 0 .6 0 .6 0 .6 0 .6 0 .6 0 .6 0 .6 0 .6 0 .6 0 .6 0 .6 0 .6 0 .6 0 .6 0 .6 0 .6 0 .6 0 .6 0 .6 0 .6 0 .6 0 .6 0 .6 0 .6 0 .6 0 .6 0 .6 0 .6 0 .6 0 .6 0 .6 0 .6 0 .6 0 .6 0 .6 0 .6 0 .6 0 .6 0 .6 0 .6 0 .6 0 .6 0 .6 0 .6 0 .6 0 .6 0 .6 0 .6 0 .6 0 .6 0 .6 0 .6 0 .6 0 .6 0 .6 0 .6 0 .6 0 .6 0 .6 0 .6 0 .6 0 .6 0 .6 0 .6 0 .6 0 .6 0 .6 0 .6 0 .6 0 .6 0 .6 0 .6 0 .6 0 .6 0 .6 0 .6 0 .6 0 .6 0 .6 0 .6 0 .6 0 .6 0 .6 0 .6 0 .6 0 .6 0 .6 0 .6 0 .6 0 .6 0 .6 0 .6 0 .6 0 .6 0 .6 0 .6 0 .6 0 .6 0 .6 0 .6 0 .6 0 .6 0 .6 0 .6 0 .6 0 .6 0 .6 0 .6 0 .6 0 .6 0 .6 0 .6 0 .6 0 .6 0 .6 0 .6 0 .6 0 .6 0 .6 0 .6 0 .6 0 .6 0 .6 0 .6 0 .6 0 .6 0 .6 0 .6 0 .6 0 .6 0 .6 0 .6 0 .6 0 .6 0 .6 0 .6 0 .6 0 .6 0 .6 0 .6 0 .6 0 .6 0 .6 0 .6 0 .6 0 .6 0 .6 0 .6 0 .6 0 .6 0 .6 0 .6 0 .6 0 .6 0 .6 0 .6 0 .6 0 .6 0 .6 0 .6 0 .6 0 .6 0 .6 0 .6 0 .6 0 .6 0 .6 0 .6 0 .6 0 .6 0 .6 0 .6 0 .6 0 .6 0 .6 0 .6 0 .6 0 .6 0 .6 0 .6 0 .6 0 .6 0 .6 0 .6 0 .6 0 .6 0 .6 0 .6 0 .6 0 .6 0 .6 0 .6 0 .6 0 .6 0 .6 0 .6 0 .6 0 .6 0 .6 0 .6 0 .6 0 .6 0 .6 0 .6 0 .6 0 .6 0 .6 0 .6 0 .6 0 .6 0 .6 0 .6 0 .6 0 .6 0 .6 0 .6 0 .6 0 .6 0 .6 0 .6 0 .6 0 .6 0 .5 0 .6 0 .6 0 .6 0 0 2.8-.6 0-.6-.7-.6-.8-.5 .7-.6 .8-.6 .2-.6-.2-.6-.8-.6 0-.6 0-.6-.2-.6-.5-.6 1.1-.6 .2-.6-.9-.6 .5-.6-.7-.6 1.5-.6-.8-.6-.2-.6 .1-.6-.2-.6 1.3-.6-.9-.6 .4-.6-.2-.6-.7-.6-.4-.6-.1-.6 1-.6-.6-.6 .1-.6 .9-.6 .3-.6-1.7-.6 1.8-.6-.9-.6 .1-.6-.1-.6 .1-.6-.7-.6 .9-.6 .3-.6-.9-.6-.6-.6 1.9-.6-.2-.6-1-.6-.4-.6 .2-.6-.3-.6 .4-.6 .1-.6 .4-.6 .2-.6-1.2-.6 1.7-.6-1.1-.6 .8-.6 .1-.6-.4-.6-.2-.6 .2-.6-.8-.6 1.2-.6-.4-.6-.4-.6-.6-.6 1.6-.6-.4-.6 .1-.6-.7-.6 .9-.6-.2-.6-1.1-.6-.3-.6 1.6-.6-1.2-.6 .9-.6-.3-.6 .2-.6-1.1-.6 .9-.6-.9-.6 1.6-.6-1.7-.6 .4-.6 .5-.6 .1-.6-.2-.6 .1-.6 .6-.6-.7-.6 .4-.6-.3-.6 .1-.6-1-.6 1.6-.6-1-.6 .6-.6 .1-.6-.3-.6-.9-.6 .2-.6 1.6-.6-1.4-.6-.5-.6 .4-.6 .8-.6 .5-.6 .1-.6-1.4-.6 .5-.6 .5-.6-1.3-.6 .7-.6-.3-.6 .3-.6 1-.6-1.1-.6-.7-.6 .1-.6 1.3-.6 0-.6-1.2-.6 1.4-.6-1-.6-.3-.6 .2-.6-.5-.6 1.8-.6-.9-.6-.7-.6 1.3-.6-.4-.6-1-.6 .3-.6 .9-.6-.2-.6-1.1-.6 .4-.6-.2-.6 1.4-.6-1.2-.6 .3-.6 .4-.6 .2-.6 .1-.6-.7-.6 .8-.6-.9-.6 .9-.6-1.1-.6-.1-.6 .4-.6 .9-.6 .3-.6-1.1-.6 0-.6 .9-.6-.6-.6-.5-.6 .8-.6-.2-.6 .7-.6-.6-.6-.6-.6-.2-.6-.3-.6 .4-.6 .4-.6-.3-.6 .2-.6 .6-.6-1-.6 .5-.6 .1-.6 0-.6 .3-.6 .3-.6-.9-.6-.2-.6 .7-.6-.8-.6 1.1-.6-.6-.6 .8-.6-.5-.6-.6-.6 0-.6 1-.6-.8-.6 .8-.6 .3-.6-1.3-.6-.5-.6 1.5-.6-.7-.6-.6-.6 .4-.6-.4-.6-.4-.6 .1-.6 .6-.6 .9-.6 .3-.6-1.4-.6 1.4-.6-.3-.6-.8-.6-.2-.6 .3-.6-.1-.6-.5-.6 .3-.6 .3-.6-.4-.6-.2-.6 .2-.6 0-.6 .7-.6 .7-.6-1.3-.6 .8-.6-1.2-.6 .9-.6 .2-.6-.4-.6 .3-.6-.1-.6-.8-.6 1.1-.6-.8-.6 .4-.6-.3-.6-.3-.6 1.1-.6-1.1-.6 1.3-.6-.8-.6-.6-.6 .7-.6 1-.6 0-.6-.1-.6-.8-.6-.8-.6 .7-.6-.1-.6 1-.6-.3-.6-1.2-.6 .4-.6-.1-.6-.1-.6 .6-.6-.6-.6-.2-.6-.1-.6 1.1-.6 0-.6-.2-.6-.1-.6 .1-.6-.5-.6 .7-.6-.5-.6-.4-.6-.1-.6 .4-.6 1.2-.6-.3-.6-.6-.6-.9-.6 1.6-.6-.4-.6 .3-.6-1-.6 .3-.6 .3-.5-.7-.6 1.5-.6-1.4-.6 .9-.6-1.3-.6 1.2-.6 .2-.6-.9-.6-.5-.6 .2-.6 0-.6 .2-.6-.4-.6 1.3-.6-.8-.6 .7-.6 .2-.6 0-.6-.3-.6-.4-.6-.9-.6 2-.6-1.6-.6 .6-.6-.1-.6-.5-.6 .1-.6 .1-.6 .6-.6-.7-.6 1.4-.6 .1-.6-1-.6-.6-.6 .8-.6 .3-.6-.6-.6 1.1-.6-.7-.6 0-.6-.5-.6 1-.6-1.7-.6 1.5-.6-.7-.6-.5-.6 1.3-.6-1.1-.6 .8-.6 .3-.6-1-.6 1.3-.6-.8-.6-.9-.6 .9-.6 .8-.6-1.2-.6 .9-.6-.8-.6-.7-.6-.1-.6 1-.6 .6-.6 .1-.6 .1-.6-1.1-.6 .7-.6-.8-.6 .3-.6 1-.6-.8-.6-1.1-.6 1-.6-.5-.6 .2-.6-.2-.6 .1-.6 .2-.6-.8-.6 1.4-.6 .1-.6 .1-.6-1.2-.6 .4-.6 1-.6-1.1z"/><rect x="563.8" y="703.6" width="219.1" height="1.5" fill="#ffa500" fill-opacity=".6"/><rect x="563.8" y="762.7" width="219.1" height="1.5" fill="#ffa500" fill-opacity=".6"/><rect x="563.6" y="704.9" width="219.3" height="57.9" fill="#ffa500"/><rect x="563.1" y="705.3" width=".5" height="67.8" fill="#ffa500" fill-opacity=".6"/><rect x="571.1" y="695" width=".6" height="77.8" fill="#fff" fill-opacity=".2"/><rect x="589" y="695" width=".6" height="77.8" fill="#fff" fill-opacity=".2"/><rect x="643.7" y="695" width=".6" height="77.8" fill="#fff" fill-opacity=".2"/><rect x="699.2" y="695" width=".6" height="77.8" fill="#fff" fill-opacity=".2"/><rect x="754" y="695" width=".6" height="77.8" fill="#fff" fill-opacity=".2"/><rect x="775.4" y="695" width=".6" height="77.8" fill="#fff" fill-opacity=".2"/></g>
<path class="t" d="M479.5 787.5v5M506.5 787.5v5M534.5 787.5v5M561.5 787.5v5M589.5 787.5v5M616.5 787.5v5M644.5 787.5v5M671.5 787.5v5M699.5 787.5v5M726.5 787.5v5M754.5 787.5v5M782.5 787.5v5M473.5 719.5h-4.9M473.5 761.5h-4.9"/>
<rect class="sp" x="473.5" y="684.5" width="328" height="103"/>
</g>
<g id="p50">
<clipPath id="c50"><rect x="80.5" y="846.5" width="327" height="103"/></clipPath>
<g clip-path="url(#c50)"><path fill="none" stroke="#0000ff" stroke-width="2.6" stroke-linejoin="round" stroke-linecap="round" d="M105.5 864l0 15.9"/><path fill="none" stroke="#0000ff" stroke-width="2.6" stroke-linejoin="round" stroke-linecap="round" d="M104.5 878.9l0 29.9"/><path fill="#0000ff" fill-opacity=".4" d="M105.5 871.3l.7 .4 .7-.1 .7-.2 .7 .3 .7-.2 .7 0 .7-.3 .7 1 .7 .4 .7-.8 .7-.1 .7-.5 .7 .4 .7-.3 .7-.7 .7-.2 .7 .6 .7-.7 .7 1 .7-.8 .7-.2 .7 .4 .7 .6 .7 0 .7-.3 .7 .5 .7-.9 .7 .6 .7-.4 .7-.6 .7-.4 .7 .6 .7-.8 .7 .3 .7-.3 .7 .6 .7-1.3 .7 .6 .7 0 .7-.4 .7 .6 .7-.9 .7 .2 .7-.3 .7 .8 .7-.8 .7-.1 .7 .5 .7-.3 .7-.4 .7 1.1 .7-.6 .7-.4 .7 .1 .7 .6 .7-.2 .7-.7 .7 1.3 .7-.1 .7-.6 .7-.3 .7-.1 .7-.1 .7 1 .7-.5 .7 .9 .7-.1 .7-.7 .7 .4 .7 .2 .7 .4 .7-.2 .7 0 .7 .9 .7 0 .7 .3 .7-.6 .7 .9 .7 .1 .7-.8 .7 1.1 .7 0 .7 .4 .7 .3 .7-.1 .7 .2 .7-.9 .7 .7 .7 .6 .7-.1 .7 0 .7 .3 .7-.5 .7 .7 .7-.3 .7-.3 .7 .4 .6-.4 .7 0 .7 0 .7 1.2 .7-.8 .7 1.4 .7-.6 .7 .7 .7 .3 .7 .5 .7 .2 .7-.2 .7 .2 .7 .8 .7-.2 .7 .3 .7-.9 .7 .4 .7 0 .7 1.1 .7 .2 .7-.6 .7 0 .7 .2 .7 .5 .7 .1 .7 .5 .7-.5 .7-.7 .7 .4 .7 .8 .7-.7 .7 0 .7 .3 .7 .8 .7-.5 .7 .2 .7-.4 .7-.1 .7 0 .7-.1 .7 .3 .7 .2 .7 .3 .7-.3 .7 .3 .7 .2 .7 .2 .7 0 .7-.8 .7 .2 .7 0 .7 .4 .7-.9 .7 .2 .7 .3 .7 .2 .7 .4 .7-.4 .7 .3 .7-.3 .7 .5 .7 .2 .7-.4 .7-.4 .7 .6 .7-.2 .7 .3 .7-.3 .7-1 .7 1.3 .7-.7 .7-.5 .7 .9 .7-1 .7 .1 .7 1.2 .7-.6 .7 .4 .7-.4 .7-.8 .7 0 .7 .5 .7-.5 .7 .1 .7 .4 .7-.5 .7 .8 .7-.4 .7-.5 .7 1 .7 .3 .7 0 .7-1.3 .7 .6 .7-.6 .7 .5 .7 .2 .7-.8 .7 1 .7 .2 .7-.5 .7-.4 .7 .9 .7-.4 .7-.8 .7 .8 .7 .4 .7-.6 .7-.5 .7 .2 .7 .4 .6 .3 .7-.9 .7-.1 .7-.3 .7 .9 .7 .4 .7-.2 .7-.2 .7-.2 .7 .2 .7-.1 .7 .4 .7-1.1 .7 .7 .7 0 .7 .6 .7-.2 .7 .2 .7 .6 .7 .5 .7 .5 .7-.7 .7 .4 .7-.1 .7 .1 .7-.7 .7 .2 .7-.7 .7 .6 .7 .2 .7-.4 .7-.1 .7 .5 .7-.9 .7 .6 .7-.3 .7 .2 .7-.2 .7 .3 .7 .1 .7-.9 .7 1 .7-1 .7 .3 .7 .5 .7-1.1 .7 1.1 .7-.3 .7 0 .7-.5 .7 .3 .7 0 .7 .5 .7 0 .7-.6 .7-.3 .7 1.2 .7-.3 .7 .5 .7-.5 .7 .3 .7-.7 .7 .2 .7 .2 .7-1.1 .7 .3 .7-.4 .7 .7 .7-.8 .7 .8 .7-.2 .7-1.4 .7 .6 .7-.8 .7 0 .7 .2 .7 .9 .7-1.5 .7 0 .7 .7 .7-.9 .7 .8 .7 .1 .7-.7 .7 .8 .7-1.3 .7 .8 .7-.1 .7 .1 .7-1 .7 .5 .7 .2 .7-.1 .7-.8 .7-.1 .7 1.3 .7 0 .7-1.1 .7 .9 .7 0 .7-1.2 .7 .1 .7 1.2 .7-.8 .7 .2 .7 0 .7-1 .7 .1 .7-.3 .7-.1 .7 .6 .6-.2 .7-.1 .7-.3 .7 .6 .7-.2 .7 .2 .7-1.1 .7 1.3 .7-.5 .7 .5 .7-.3 .7 .6 .7 1.4 .7 .7 .7 .1 .7 .9 .7-.3 .7 .5 .7 .8 .7 1.5 .7-.2 .7 .8 .7 1 .7 .4 .7 .4 .7 .8 .7 .6 .7 .8 .7 .7 .7 2 .7 1.3 .7 1.6 .7 1.3 .7 1.3 .7 1.2 .7 .7 .7 2.2 .7 1.3 .7 .6 .7 .3 .7 .8 .7 .2 .7 1.3 .7-.7 .7 .8 .7 .6 .7 .9 .7-.3 .7 .5 .7 .1 .7 .5 .7 .5 .7 .2 .7 .2 .7 .7 .7-.1 .7 1.2 0 2.4-.7-.6-.7 .4-.7-.8-.7 .7-.7-.3-.7-.3-.7 1-.7-1.1-.7 0-.7 .1-.7 .3-.7 .6-.7-.1-.7 .4-.7-1.1-.7-.9-.7-.1-.7-.4-.7-.7-.7-1.1-.7-.9-.7-.5-.7-.9-.7-1.7-.7-1.7-.7-.2-.7-1.9-.7-1.2-.7-.6-.7-1.1-.7-.8-.7-1.5-.7-.1-.7-1.2-.7-.7-.7-.8-.7-1-.7-.4-.7 0-.7-1.5-.7 .6-.7-2-.7-.2-.7-1.6-.7-.6-.7-.4-.7-.9-.7 1.3-.7-.7-.7 .4-.7 .7-.7-.4-.7 .2-.7-.5-.7 .3-.7 1.2-.6-.7-.7 0-.7-.1-.7 1-.7 .1-.7-.2-.7-.1-.7 .6-.7-.8-.7 .8-.7 .7-.7 0-.7-.2-.7 .7-.7-.7-.7 .8-.7-.5-.7 1-.7 .1-.7 .4-.7-.3-.7-.5-.7 .9-.7 0-.7-.2-.7 .7-.7-.2-.7 0-.7-.2-.7-.4-.7-.3-.7 .5-.7 0-.7-.3-.7-.4-.7 0-.7-.8-.7 .2-.7-.6-.7 .7-.7-.3-.7-.4-.7 1.4-.7-.7-.7 .2-.7-.1-.7 .9-.7-.1-.7-.2-.7 1.2-.7-.9-.7-.2-.7 .7-.7-.4-.7-.8-.7 .2-.7-.9-.7 0-.7 .6-.7-.8-.7 .5-.7 0-.7-1-.7-.2-.7 1.2-.7-.5-.7-.7-.7 1.1-.7-.3-.7-.4-.7-.4-.7 1.1-.7-.3-.7-.4-.7-.3-.7 .6-.7-.5-.7-.2-.7 .4-.7 .2-.7-.4-.7 1.2-.7-.8-.7 .8-.7-.1-.7 .1-.7 .7-.7-1.3-.7 .8-.7 .7-.7-.3-.7-.8-.7 .5-.7 .1-.7-.4-.7-.7-.7-.4-.7 .3-.7-.5-.7 .5-.7-.6-.7 .5-.7 .1-.7-.7-.7-.1-.7 0-.7 .2-.7 .4-.7-.8-.7 1.1-.7-.8-.6 0-.7 .5-.7-.3-.7 .2-.7-.4-.7 .8-.7-.8-.7 .2-.7 .8-.7 0-.7-.5-.7 .4-.7-.8-.7 0-.7-.4-.7 1.1-.7-.1-.7-.7-.7 .1-.7-.1-.7-.1-.7 .4-.7-.1-.7-.1-.7-.3-.7 .2-.7 0-.7 .6-.7-.4-.7-.3-.7 1.3-.7-.8-.7 .3-.7-.5-.7 .8-.7-1-.7 1.2-.7-.4-.7-.5-.7-.3-.7 .7-.7-.1-.7 .6-.7-.6-.7 .5-.7-1-.7 1.2-.7 0-.7-.2-.7-.6-.7 .2-.7 .4-.7-1.2-.7 1-.7-.1-.7-.9-.7 .2-.7 1.1-.7-.2-.7-.2-.7 .4-.7-1.3-.7 .5-.7 .5-.7-.9-.7 .7-.7-.3-.7 .7-.7-.2-.7-1-.7 1-.7 0-.7-.9-.7 .7-.7-.4-.7 .4-.7 .2-.7-.6-.7-.6-.7 .9-.7-.7-.7 .2-.7-.1-.7-.1-.7 .4-.7-1.1-.7 .8-.7-.7-.7-.4-.7 .6-.7-.4-.7 .1-.7 .2-.7-.9-.7 .2-.7 .4-.7-.3-.7-.7-.7-.1-.7-.5-.7 0-.7-.5-.7-.1-.7 .5-.7-.7-.7-.2-.7 1-.7-.9-.7 0-.7-.5-.7 1.1-.7-.5-.6-.1-.7-1.1-.7 .9-.7-1.4-.7 1-.7-.9-.7 0-.7 .3-.7-1-.7 .2-.7 .2-.7-.5-.7-.2-.7 1-.7-.7-.7-.4-.7 .6-.7-.7-.7 .3-.7-.6-.7 .6-.7-1.1-.7 .7-.7-.4-.7-.6-.7-.4-.7 1.3-.7-.7-.7-.2-.7-.4-.7 .3-.7 .2-.7-1.1-.7 .7-.7-.5-.7 .5-.7-.7-.7 .9-.7-.2-.7-.5-.7-.5-.7 1.1-.7-1.4-.7 1-.7-.8-.7 .4-.7 .2-.7-.4-.7-.3-.7 1.1-.7-1-.7 1.1-.7 .1-.7-.2-.7 .6-.7-.6-.7 .2-.7-.7-.7 .4-.7-.3-.7 1.4-.7 .1-.7-1.2-.7 1-.7 .1-.7 .6-.7-.1-.7-.1-.7-.1-.7 .9-.7 0-.7-.2-.7 0-.7 .5-.7-.2-.7 .3-.7 .6-.7-.9-.7-.1-.7 .2-.7 .4-.7 1.1-.7-.6-.7 .2-.7 .8-.7-.1-.7 .5-.7-.8-.7 .3-.7-.5-.7 1-.7 .3-.7-.9-.7-.2-.7 .4-.7 .5-.7-1.5-.7-.5z"/><path fill="#0000ff" d="M105.5 872.4l.7-.9 .7 .4 .7-.4 .7 .6 .7 .2 .7-.2 .7-.1 .7 .8 .7-.5 .7 .3 .7-.6 .7-.4 .7 .2 .7 .1 .7-.5 .7-.7 .7-.1 .7 .2 .7 .4 .7-.3 .7-.1 .7 .4 .7 .2 .7-.4 .7 .5 .7-.2 .7-.3 .7 .2 .7-.5 .7 .4 .7-.7 .7 .3 .7-.2 .7-.6 .7 .1 .7-.1 .7 .4 .7-.1 .7 0 .7-.5 .7 .1 .7-.3 .7 .5 .7-.7 .7 .3 .7-.2 .7 .5 .7-.1 .7-.3 .7 .6 .7-.5 .7-.6 .7 .2 .7 .6 .7 .2 .7-.3 .7 .1 .7-.1 .7-.1 .7-.5 .7 .4 .7-.1 .7 .3 .7-.1 .7 .4 .7-.3 .7 .5 .7-.5 .7 .9 .7-.5 .7 .9 .7-.1 .7 .5 .7-.3 .7 .5 .7-.5 .7-.1 .7 .1 .7 .2 .7 .8 .7 0 .7 0 .7 0 .7 .4 .7-.2 .7-.1 .7 .8 .7-.7 .7 .3 .7-.2 .7 .7 .7 .1 .7-.1 .7-.1 .7 .9 .7-.7 .7-.2 .6 1.2 .7-.6 .7 .8 .7-.7 .7 .6 .7 .3 .7 0 .7 .8 .7-.3 .7 .4 .7-.4 .7 1.1 .7 .3 .7 .2 .7 .4 .7-.4 .7 .3 .7-.6 .7 .7 .7 .3 .7-.4 .7 1 .7-.7 .7 .8 .7-.3 .7 .7 .7-1.1 .7 .5 .7-.4 .7 1.1 .7-1 .7 .9 .7-.8 .7 .4 .7 .8 .7 0 .7-.1 .7-.2 .7-.1 .7-.1 .7 .1 .7-.3 .7-.1 .7 .9 .7-.5 .7 .3 .7-.4 .7 .2 .7 .4 .7-.6 .7 .1 .7 .4 .7-.6 .7 1 .7-1.1 .7 .3 .7 .7 .7-.4 .7-.3 .7 .4 .7-.6 .7 .9 .7-.6 .7 .8 .7-.1 .7-1 .7 1 .7-1 .7 .3 .7 .6 .7-.4 .7 .3 .7-.5 .7 .6 .7-.3 .7 .2 .7-.5 .7 .8 .7-.8 .7 .6 .7 .1 .7-1.1 .7 .7 .7-.4 .7 .5 .7-.7 .7 .5 .7-.2 .7 .6 .7 0 .7-.5 .7-.1 .7 .5 .7-.7 .7-.3 .7 0 .7 .2 .7 .7 .7 0 .7-.5 .7-.5 .7 .3 .7 0 .7-.4 .7 1 .7-.8 .7 .5 .7-.3 .7 .1 .7 0 .7-.4 .7 .4 .6 .2 .7-.3 .7 .5 .7-.7 .7 .4 .7-.2 .7 .5 .7-.4 .7 .1 .7-.4 .7 .1 .7 .2 .7 0 .7-.5 .7 .7 .7 .2 .7 .7 .7 .4 .7-.1 .7-.3 .7-.2 .7 .8 .7-.1 .7 .1 .7-.7 .7 0 .7-.2 .7 1 .7-1 .7 .2 .7 0 .7 .4 .7-.6 .7 .2 .7 .6 .7-.4 .7-.7 .7 0 .7 .6 .7-.3 .7 .1 .7 .3 .7 0 .7-.5 .7-.3 .7 0 .7 .8 .7-.5 .7-.2 .7-.2 .7 .1 .7 .3 .7 .3 .7-.4 .7 .4 .7-.2 .7 .5 .7 0 .7-.4 .7-.2 .7 .1 .7-.1 .7 .1 .7 .2 .7-.8 .7 .3 .7-.5 .7-.3 .7 1 .7-.2 .7-.4 .7-.7 .7 .3 .7-.7 .7 .5 .7-.1 .7 .1 .7-.4 .7 .3 .7-.1 .7-.7 .7-.2 .7 0 .7 .1 .7 .8 .7-.7 .7 .4 .7-.4 .7 .3 .7-.1 .7 0 .7-.6 .7-.2 .7-.4 .7 .1 .7 .2 .7-.2 .7 .9 .7-.9 .7 .7 .7-.4 .7-.4 .7 1 .7-.6 .7 .6 .7-1 .7-.3 .7 .2 .7 0 .7-.2 .7-.4 .6 .5 .7-.1 .7-.7 .7-.3 .7 .3 .7 .1 .7-.2 .7 .6 .7-.6 .7 .1 .7 .9 .7 0 .7 .8 .7 1.5 .7-.2 .7 1.7 .7-.4 .7 .8 .7 .2 .7 1.3 .7 .8 .7-.2 .7 .8 .7 .4 .7 1.2 .7 1 .7-.2 .7 1.2 .7 1.4 .7 1.4 .7 .9 .7 1.7 .7 1 .7 .5 .7 1.4 .7 1.7 .7 1.4 .7 1.7 .7 .3 .7 1.4 .7 .8 .7-.4 .7 .9 .7 .7 .7-.3 .7 .5 .7 .8 .7-.5 .7 1.5 .7 .3 .7-.4 .7 .9 .7-.3 .7 1.1 .7-.4 .7 1.3 .7-.5 0 1.6-.7-.2-.7-.1-.7 1-.7-1-.7 .2-.7 .9-.7-.3-.7 0-.7-.1-.7 0-.7 .4-.7-.3-.7 .1-.7-.7-.7 .8-.7-1.3-.7-.3-.7-1.3-.7-.7-.7-.4-.7-1.7-.7-.4-.7-1.5-.7-.3-.7-1.4-.7-1.2-.7-1.4-.7-1.4-.7-1.5-.7-.3-.7-.7-.7-.6-.7-1.8-.7 0-.7-1.5-.7-.8-.7 0-.7-.5-.7-.9-.7 .3-.7-1.5-.7-.8-.7-.3-.7-1.5-.7-.1-.7-1.2-.7-.4-.7 .5-.7 .3-.7 .4-.7-.8-.7 .8-.7 0-.7-.5-.7 1.2-.7-.3-.6-.6-.7 0-.7 .9-.7-.1-.7-.5-.7 .4-.7 .7-.7-.1-.7-.6-.7 .9-.7 0-.7 0-.7 0-.7 .7-.7 0-.7 .1-.7 .3-.7 .4-.7-.4-.7 .3-.7-.1-.7 .8-.7 .6-.7-.1-.7 .3-.7 .1-.7-.3-.7 0-.7-.2-.7 .3-.7-.1-.7-1-.7 .3-.7-.7-.7-.5-.7 .1-.7 .2-.7-.7-.7 .2-.7-.5-.7 .2-.7 1-.7-.6-.7 .7-.7 .1-.7 .4-.7 0-.7-.2-.7 .7-.7-.4-.7 .4-.7-.5-.7-.3-.7 .4-.7 .2-.7-1.1-.7 .1-.7 .6-.7-.5-.7-.1-.7 0-.7-.1-.7-.5-.7 .4-.7-1.1-.7 .6-.7-.2-.7-.3-.7 .1-.7 0-.7 .8-.7-1-.7 .1-.7 .8-.7-.6-.7 .3-.7 .2-.7-.1-.7-.3-.7 .4-.7 .4-.7-.6-.7 .4-.7-.3-.7 1-.7-.6-.7 .7-.7-.2-.7 .2-.7-.4-.7 .8-.7-1-.7 1.1-.7-1.1-.7 .2-.7-1-.7 .3-.7 .1-.7-.9-.7-.2-.7 .7-.7-.9-.7 1-.7 .2-.7-.9-.7-.2-.7 .1-.7 .9-.7-.1-.7-.9-.7 .6-.6 .3-.7-.9-.7 .5-.7 .2-.7-.4-.7 .8-.7-1.2-.7 .7-.7 0-.7 0-.7 .4-.7-.5-.7-.4-.7 .9-.7-.5-.7 .1-.7-.4-.7 .5-.7 .4-.7 0-.7-.5-.7-.5-.7 .1-.7 .1-.7 .6-.7-.6-.7 .5-.7-.2-.7 .2-.7 .1-.7 .3-.7-.2-.7-.7-.7 .9-.7-.7-.7 .4-.7-.7-.7 .1-.7 .8-.7-.4-.7 .6-.7 .1-.7-.9-.7 .7-.7-.5-.7-.2-.7 .7-.7-.6-.7 .8-.7-1-.7 .9-.7-.8-.7 0-.7 .9-.7-.1-.7-.1-.7-.2-.7-.2-.7 .3-.7-.4-.7 0-.7-.1-.7-.4-.7 1.1-.7-.4-.7-.3-.7 0-.7 .2-.7 .3-.7-.5-.7-.4-.7 .4-.7 .1-.7 .2-.7-.9-.7 .8-.7-.8-.7 .5-.7-.2-.7-.3-.7 .5-.7 .2-.7-.5-.7 .3-.7-.8-.7 .4-.7-.3-.7-.4-.7 .6-.7-.5-.7 .4-.7-.3-.7-.2-.7-.3-.7-.3-.7 .3-.7-.5-.7-.3-.7-.4-.7 .1-.7 .2-.7 0-.7-.5-.7-.2-.7 .1-.7-.2-.7-.3-.7 .2-.7-.3-.7-.5-.7-.1-.7-.3-.6 .6-.7 0-.7-1-.7-.1-.7-.2-.7-.3-.7 .3-.7-.5-.7 .9-.7-.6-.7 .1-.7-.5-.7-.1-.7 0-.7-.6-.7 0-.7-.4-.7-.1-.7 .7-.7 .1-.7-.9-.7 .6-.7 .1-.7-.2-.7-1-.7 .8-.7-.1-.7-.6-.7 0-.7 .3-.7-1.2-.7 .9-.7-.6-.7 .5-.7-.2-.7-1-.7 .5-.7-.1-.7 .4-.7-.3-.7-.3-.7-.2-.7 .2-.7 .3-.7-.1-.7-.4-.7 .3-.7-.6-.7 0-.7 .2-.7 .2-.7-.1-.7 .9-.7 .1-.7 .1-.7-.8-.7 .9-.7-.4-.7-.1-.7 .4-.7 .1-.7-.2-.7 0-.7 .3-.7 .8-.7-.1-.7 0-.7-.1-.7 .5-.7-.2-.7-.2-.7 .7-.7-.4-.7 .1-.7 .6-.7 .4-.7 0-.7 .6-.7-.9-.7 .6-.7 .8-.7-.3-.7 .3-.7-.6-.7 .1-.7 .4-.7 .2-.7 .4-.7 .7-.7-1-.7 .4-.7 0-.7-.3-.7-.1-.7 .5-.7 .2-.7-1.1-.7 .2z"/></g>
<path class="t" d="M86.5 949.5v5M113.5 949.5v5M141.5 949.5v5M168.5 949.5v5M196.5 949.5v5M223.5 949.5v5M251.5 949.5v5M278.5 949.5v5M306.5 949.5v5M333.5 949.5v5M361.5 949.5v5M388.5 949.5v5M80.5 877.5h-4.9M80.5 908.5h-4.9M80.5 940.5h-4.9"/>
<rect class="sp" x="80.5" y="846.5" width="327" height="103"/>
</g>
<g id="p51">
<clipPath id="c51"><rect x="473.5" y="846.5" width="328" height="103"/></clipPath>
<g clip-path="url(#c51)"><rect x="487" y="893.1" width="15" height="2.8" fill="#ffa500"/><rect x="532.9" y="893.1" width="4" height="2.8" fill="#ffa500"/><rect x="588.1" y="893.1" width="4" height="2.8" fill="#ffa500"/><rect x="643" y="893.1" width="4" height="2.8" fill="#ffa500"/><rect x="697.9" y="893.1" width="4" height="2.8" fill="#ffa500"/><rect x="753.1" y="893.1" width="34.5" height="2.8" fill="#ffa500"/><rect x="497.3" y="862" width="263.4" height="2.8" fill="#ffa500"/><rect x="497.3" y="869.9" width="263.4" height="2.8" fill="#ffa500"/><rect x="497.3" y="879.1" width="263.4" height="2.8" fill="#ffa500"/><rect x="497.3" y="887.9" width="263.4" height="2.8" fill="#ffa500"/><rect x="497.3" y="895.9" width="263.4" height="2.8" fill="#ffa500"/><rect x="497.3" y="905.1" width="263.4" height="2.8" fill="#ffa500"/><rect x="497.3" y="913" width="263.4" height="2.8" fill="#ffa500"/><rect x="497.3" y="922" width="263.4" height="2.8" fill="#ffa500"/><rect x="497.3" y="930" width="263.4" height="2.8" fill="#ffa500"/><rect x="528.5" y="929.9" width="10.8" height="3" fill="#fff" fill-opacity=".6"/><path fill="none" stroke="#ffa500" stroke-width="2.6" stroke-linecap="round" stroke-opacity=".3" stroke-dasharray="0 999" d="M497.7 854.4h.2"/><path fill="none" stroke="#ffa500" stroke-width="2.6" stroke-linecap="round" stroke-opacity=".3" stroke-dasharray="0 999" d="M498 854.4h.2"/><path fill="none" stroke="#ffa500" stroke-width="2.6" stroke-linecap="round" stroke-opacity=".3" stroke-dasharray="0 999" d="M500.4 854.4h.2"/><path fill="none" stroke="#ffa500" stroke-width="2.6" stroke-linecap="round" stroke-opacity=".3" stroke-dasharray="0 4.5 0 3.2 0 999" d="M509.1 854.4h7.8"/><path fill="none" stroke="#ffa500" stroke-width="2.6" stroke-linecap="round" stroke-opacity=".3" stroke-dasharray="0 5.3 0 7.5 0 999" d="M506.5 854.4h12.9"/><path fill="none" stroke="#ffa500" stroke-width="2.6" stroke-linecap="round" stroke-opacity=".3" stroke-dasharray="0 9.2 0 2.5 0 999" d="M511.1 854.4h11.8"/><path fill="none" stroke="#ffa500" stroke-width="2.6" stroke-linecap="round" stroke-opacity=".3" stroke-dasharray="0 .7 0 .2 0 .7 0 1.7 0 3.5 0 1.4 0 .6 0 .3 0 1.3 0 .2 0 2.1 0 .1 0 .2 0 1.8 0 .4 0 999" d="M525.2 854.4h15.2"/><path fill="none" stroke="#ffa500" stroke-width="2.6" stroke-linecap="round" stroke-opacity=".3" stroke-dasharray="0 .2 0 .6 0 1.6 0 .2 0 .2 0 1.4 0 3.4 0 .1 0 1.8 0 .7 0 .7 0 2 0 .4 0 .8 0 2.1 0 999" d="M525.5 854.4h16.2"/><path fill="none" stroke="#ffa500" stroke-width="2.6" stroke-linecap="round" stroke-opacity=".3" stroke-dasharray="0 .7 0 2.1 0 1.1 0 .7 0 .2 0 .5 0 .1 0 .5 0 .5 0 .1 0 1.8 0 .7 0 .1 0 1.2 0 .7 0 999" d="M530.7 854.4h11.1"/><path fill="none" stroke="#ffa500" stroke-width="2.6" stroke-linecap="round" stroke-opacity=".3" stroke-dasharray="0 4.6 0 3.5 0 7.4 0 1.5 0 999" d="M549.3 854.4h17.1"/><path fill="none" stroke="#ffa500" stroke-width="2.6" stroke-linecap="round" stroke-opacity=".3" stroke-dasharray="0 1 0 4.7 0 1.1 0 6.5 0 999" d="M552.6 854.4h13.4"/><path fill="none" stroke="#ffa500" stroke-width="2.6" stroke-linecap="round" stroke-opacity=".3" stroke-dasharray="0 4.2 0 3.1 0 3.1 0 2.4 0 999" d="M553 854.4h12.9"/><path fill="none" stroke="#ffa500" stroke-width="2.6" stroke-linecap="round" stroke-opacity=".3" stroke-dasharray="0 1.4 0 .1 0 .3 0 3.1 0 .3 0 .8 0 .6 0 .6 0 1.9 0 .4 0 1 0 1.4 0 1.1 0 .3 0 .6 0 1.5 0 2 0 1.1 0 4.6 0 1.6 0 2.8 0 .8 0 .3 0 .8 0 .3 0 2.4 0 2.2 0 .4 0 .7 0 .6 0 .3 0 2.9 0 1.2 0 .2 0 .1 0 .2 0 1.1 0 1.8 0 2.3 0 3.5 0 .2 0 1.3 0 2 0 .6 0 .8 0 1.5 0 1.7 0 .5 0 .2 0 .6 0 1 0 .6 0 .1 0 .2 0 1.1 0 3.6 0 .4 0 .8 0 .6 0 1.1 0 .2 0 .6 0 1.5 0 1.8 0 1.2 0 .3 0 1 0 3.1 0 .9 0 2.4 0 .6 0 1.4 0 2.5 0 2.2 0 .8 0 .6 0 3.3 0 5.9 0 .3 0 .5 0 .3 0 2 0 .6 0 .4 0 6.1 0 .5 0 .6 0 1.2 0 .3 0 .6 0 1.8 0 1.2 0 1.5 0 .5 0 .4 0 1.1 0 1.9 0 .4 0 2.1 0 .4 0 3.4 0 1.3 0 .7 0 2.4 0 .1 0 1.5 0 1.1 0 2.1 0 .4 0 .7 0 1.2 0 .9 0 2.5 0 1 0 1.7 0 8.1 0 1.6 0 .4 0 .3 0 1.6 0 1 0 1.5 0 .4 0 .2 0 .2 0 1.7 0 3.8 0 .6 0 .9 0 .2 0 1.8 0 .4 0 .4 0 999" d="M567.7 854.4h169.7"/><path fill="none" stroke="#ffa500" stroke-width="2.6" stroke-linecap="round" stroke-opacity=".3" stroke-dasharray="0 1.3 0 .7 0 4.3 0 .6 0 .2 0 1.4 0 2.9 0 .7 0 1.3 0 1.1 0 .1 0 1.2 0 1.6 0 .3 0 6.2 0 .3 0 .6 0 1 0 .9 0 1.4 0 .8 0 .3 0 .6 0 2.2 0 .8 0 .9 0 3.1 0 .3 0 1.5 0 1 0 .3 0 .3 0 .4 0 .3 0 1.7 0 1.8 0 1.1 0 .4 0 1 0 .2 0 4.6 0 3.1 0 1.3 0 .3 0 .4 0 1.3 0 .5 0 .7 0 4.1 0 .2 0 .2 0 .4 0 1.5 0 .7 0 2.6 0 .9 0 1.3 0 .2 0 .7 0 .8 0 2.5 0 .5 0 .2 0 .3 0 .1 0 .1 0 1.5 0 1.9 0 4.6 0 2.2 0 .1 0 1.1 0 2.8 0 .3 0 2.2 0 .5 0 .2 0 .2 0 2.1 0 1.4 0 .2 0 1.1 0 .1 0 3.3 0 1.7 0 5.7 0 .8 0 .6 0 .6 0 .7 0 .3 0 2 0 1.1 0 .5 0 .1 0 1.4 0 1.3 0 1 0 2.9 0 2.8 0 .4 0 .8 0 .3 0 2.9 0 .2 0 5 0 .9 0 1.5 0 .4 0 .5 0 3.5 0 3.2 0 .2 0 1.1 0 1.9 0 .3 0 .9 0 .2 0 1.4 0 1 0 .3 0 .2 0 .3 0 1.6 0 .2 0 .1 0 .4 0 .4 0 .6 0 .2 0 2.1 0 .5 0 1.4 0 .2 0 1.3 0 1.9 0 1.7 0 2.6 0 999" d="M567.1 854.4h168.6"/><path fill="none" stroke="#ffa500" stroke-width="2.6" stroke-linecap="round" stroke-opacity=".3" stroke-dasharray="0 .3 0 .8 0 .3 0 2.3 0 1.4 0 1.5 0 .3 0 .4 0 1.3 0 .9 0 .3 0 1.2 0 .3 0 .5 0 .4 0 .2 0 .5 0 .5 0 2 0 .3 0 3.5 0 .8 0 .5 0 7 0 1.7 0 2.4 0 .3 0 .5 0 .5 0 .7 0 2.5 0 .5 0 1 0 .2 0 .1 0 .1 0 1.4 0 .2 0 1.3 0 .3 0 .3 0 1.5 0 1.7 0 .3 0 3.6 0 .7 0 .2 0 1.4 0 .8 0 .5 0 1.7 0 .8 0 .5 0 .7 0 1.8 0 .9 0 .9 0 .1 0 .3 0 3.3 0 1.9 0 .7 0 .5 0 .9 0 7.1 0 3.7 0 .5 0 .8 0 .2 0 1.6 0 2.8 0 1.2 0 .7 0 .1 0 2.1 0 1.8 0 1.7 0 .8 0 .4 0 2.5 0 1.6 0 1.2 0 .6 0 4.5 0 1 0 1.3 0 .4 0 3.3 0 .8 0 .4 0 .5 0 .3 0 1.1 0 .1 0 2.6 0 .2 0 .3 0 2.5 0 1.2 0 .5 0 1.9 0 2.1 0 2.7 0 .8 0 1.1 0 .2 0 1.8 0 1.4 0 .2 0 2.9 0 4.5 0 .1 0 .9 0 1 0 .1 0 2.2 0 2.1 0 .1 0 1.5 0 1.5 0 1 0 3.4 0 1.2 0 .1 0 2 0 .4 0 1.7 0 1.2 0 .1 0 1.1 0 .2 0 .3 0 1.1 0 .3 0 1.8 0 .7 0 .1 0 2.3 0 999" d="M567.5 854.4h167.8"/><path fill="none" stroke="#ffa500" stroke-width="2.6" stroke-linecap="round" stroke-opacity=".3" stroke-dasharray="0 8.5 0 5.4 0 4.1 0 999" d="M740.6 854.4h18.1"/><path fill="none" stroke="#ffa500" stroke-width="2.6" stroke-linecap="round" stroke-opacity=".3" stroke-dasharray="0 6 0 5.9 0 2.3 0 1 0 999" d="M744.4 854.4h15.2"/><path fill="none" stroke="#ffa500" stroke-width="2.6" stroke-linecap="round" stroke-opacity=".3" stroke-dasharray="0 1.4 0 1.8 0 1.9 0 9.1 0 999" d="M741.7 854.4h14.2"/><path fill="none" stroke="#ffa500" stroke-width="2.6" stroke-linecap="round" stroke-opacity=".3" stroke-dasharray="0 .9 0 2.9 0 .4 0 .3 0 .1 0 2.2 0 3.6 0 2.6 0 .3 0 1 0 .3 0 .9 0 4.3 0 .5 0 2.7 0 999" d="M502 940.4h23.1"/><path fill="none" stroke="#ffa500" stroke-width="2.6" stroke-linecap="round" stroke-opacity=".3" stroke-dasharray="0 5.5 0 .1 0 .7 0 .9 0 .3 0 1.3 0 .4 0 1 0 3.7 0 4.9 0 .7 0 3.5 0 3.5 0 .4 0 999" d="M499.4 940.4h26.9"/><path fill="none" stroke="#ffa500" stroke-width="2.6" stroke-linecap="round" stroke-opacity=".3" stroke-dasharray="0 1.1 0 1.2 0 2.2 0 1.4 0 .4 0 .8 0 2.7 0 1.3 0 .3 0 1.2 0 5.5 0 .5 0 1.6 0 .1 0 5.5 0 999" d="M500.8 940.4h25.9"/><path fill="none" stroke="#ffa500" stroke-width="2.6" stroke-linecap="round" stroke-opacity=".3" stroke-dasharray="0 2.3 0 3.1 0 1.5 0 3.3 0 .7 0 .7 0 2.5 0 999" d="M506.3 940.4h14.2"/><path fill="none" stroke="#ffa500" stroke-width="2.6" stroke-linecap="round" stroke-opacity=".3" stroke-dasharray="0 .6 0 3.4 0 3 0 1.9 0 1.5 0 3.2 0 .3 0 999" d="M505.8 940.4h14"/><path fill="none" stroke="#ffa500" stroke-width="2.6" stroke-linecap="round" stroke-opacity=".3" stroke-dasharray="0 .8 0 .4 0 3.3 0 3.4 0 .3 0 4.3 0 1.8 0 999" d="M505 940.4h14.4"/><path fill="none" stroke="#ffa500" stroke-width="2.6" stroke-linecap="round" stroke-opacity=".3" stroke-dasharray="0 .2 0 1.8 0 1.6 0 .2 0 .2 0 .9 0 .3 0 .8 0 1.5 0 4.1 0 .2 0 .7 0 5.4 0 1.1 0 1.6 0 2.5 0 1.4 0 7.5 0 2.3 0 7.6 0 .4 0 4 0 .1 0 1 0 999" d="M545.1 940.4h47.4"/><path fill="none" stroke="#ffa500" stroke-width="2.6" stroke-linecap="round" stroke-opacity=".3" stroke-dasharray="0 2.1 0 7.3 0 1.8 0 .1 0 2.2 0 .6 0 .6 0 3.6 0 7.3 0 1.2 0 2.7 0 3.4 0 .9 0 .7 0 2.4 0 .3 0 .6 0 1.7 0 1.2 0 .4 0 3.1 0 1.7 0 .8 0 999" d="M545.3 940.4h46.8"/><path fill="none" stroke="#ffa500" stroke-width="2.6" stroke-linecap="round" stroke-opacity=".3" stroke-dasharray="0 .2 0 .1 0 3.8 0 2.3 0 .1 0 2.1 0 1.8 0 3.8 0 4.6 0 1.3 0 .1 0 9.3 0 4.9 0 .6 0 1.6 0 .6 0 3.1 0 1.5 0 1.1 0 .4 0 .4 0 .1 0 2.4 0 999" d="M542.9 940.4h46.2"/><path fill="none" stroke="#ffa500" stroke-width="2.6" stroke-linecap="round" stroke-opacity=".3" stroke-dasharray="0 .3 0 3.2 0 2.2 0 3 0 6.1 0 1.7 0 2.9 0 999" d="M548.6 940.4h19.4"/><path fill="none" stroke="#ffa500" stroke-width="2.6" stroke-linecap="round" stroke-opacity=".3" stroke-dasharray="0 2.4 0 .6 0 2.4 0 5.5 0 6.7 0 3.3 0 .1 0 999" d="M547.7 940.4h21.1"/><path fill="none" stroke="#ffa500" stroke-width="2.6" stroke-linecap="round" stroke-opacity=".3" stroke-dasharray="0 3 0 2.8 0 .5 0 1.3 0 1 0 5.6 0 1.9 0 999" d="M550.8 940.4h16.2"/><path fill="none" stroke="#ffa500" stroke-width="2.6" stroke-linecap="round" stroke-opacity=".3" stroke-dasharray="0 5.1 0 999" d="M605.2 940.4h5.1"/><path fill="none" stroke="#ffa500" stroke-width="2.6" stroke-linecap="round" stroke-opacity=".3" stroke-dasharray="0 3.6 0 999" d="M594.7 940.4h3.6"/><path fill="none" stroke="#ffa500" stroke-width="2.6" stroke-linecap="round" stroke-opacity=".3" stroke-dasharray="0 2 0 999" d="M606.9 940.4h2"/><path fill="none" stroke="#ffa500" stroke-width="2.6" stroke-linecap="round" stroke-opacity=".3" stroke-dasharray="0 1.9 0 2 0 .4 0 .7 0 4.5 0 2.1 0 .7 0 .6 0 4.2 0 .1 0 .3 0 .4 0 3.6 0 .3 0 1.8 0 .3 0 6.6 0 .2 0 .5 0 .1 0 .3 0 .9 0 4 0 1.6 0 1.4 0 4.3 0 .8 0 1.4 0 2.3 0 6.4 0 2.2 0 4.5 0 2.3 0 2.2 0 .4 0 4.3 0 4.1 0 .1 0 .4 0 .9 0 1.2 0 1.8 0 6.1 0 .2 0 .1 0 3.5 0 1.7 0 .8 0 2.5 0 .1 0 2.6 0 999" d="M611.1 940.4h96.8"/><path fill="none" stroke="#ffa500" stroke-width="2.6" stroke-linecap="round" stroke-opacity=".3" stroke-dasharray="0 1.1 0 .8 0 .1 0 1.3 0 .3 0 1.2 0 1.4 0 4.4 0 1 0 2.6 0 .6 0 2.9 0 .4 0 .1 0 4.1 0 2.5 0 .9 0 1.3 0 1.4 0 2.3 0 2.2 0 .9 0 2 0 .6 0 1.6 0 2.2 0 8.8 0 .6 0 4.5 0 2.4 0 2.4 0 2.4 0 .5 0 1.8 0 .5 0 .7 0 2.1 0 .5 0 .6 0 2.2 0 1 0 1.6 0 .6 0 .7 0 1.3 0 1.3 0 3.5 0 .6 0 .1 0 4.1 0 1.4 0 .4 0 999" d="M620.8 940.4h86.8"/><path fill="none" stroke="#ffa500" stroke-width="2.6" stroke-linecap="round" stroke-opacity=".3" stroke-dasharray="0 2.1 0 2.7 0 .7 0 .6 0 7 0 .5 0 .1 0 .1 0 4.9 0 .5 0 3.5 0 7.5 0 2.6 0 1 0 1.2 0 .9 0 .3 0 2.7 0 1.3 0 .4 0 .1 0 4.1 0 .9 0 .3 0 2.4 0 3.1 0 1.8 0 .2 0 3.3 0 2.3 0 1.2 0 .6 0 2.3 0 .4 0 .6 0 7.4 0 1.9 0 1.2 0 2.5 0 6.9 0 .6 0 .1 0 1.2 0 2.1 0 3.2 0 2.3 0 .7 0 .4 0 .3 0 .3 0 .6 0 999" d="M611.3 940.4h96"/><path fill="none" stroke="#ffa500" stroke-width="2.6" stroke-linecap="round" stroke-opacity=".3" stroke-dasharray="0 2 0 5.8 0 1.8 0 1 0 .6 0 3.2 0 .4 0 .1 0 14.8 0 3.8 0 5.1 0 2.6 0 999" d="M714.9 940.4h41.2"/><path fill="none" stroke="#ffa500" stroke-width="2.6" stroke-linecap="round" stroke-opacity=".3" stroke-dasharray="0 2.2 0 .1 0 6.1 0 2.5 0 .7 0 1.3 0 4.2 0 .5 0 2.2 0 2.3 0 11.3 0 8.2 0 999" d="M714.7 940.4h41.6"/><path fill="none" stroke="#ffa500" stroke-width="2.6" stroke-linecap="round" stroke-opacity=".3" stroke-dasharray="0 3.4 0 3.8 0 1.5 0 .8 0 7.7 0 1 0 1.3 0 5 0 1 0 7.2 0 4.5 0 3.4 0 999" d="M712.7 940.4h40.6"/><path fill="none" stroke="#ffa500" stroke-width="2.6" stroke-linecap="round" stroke-opacity=".2" stroke-dasharray="0 157 0 999" d="M550.9 846.6h157.1"/><path fill="none" stroke="#ffa500" stroke-width="2.6" stroke-linecap="round" stroke-opacity=".2" stroke-dasharray="0 120.6 0 999" d="M596.5 846.6h120.6"/><path fill="none" stroke="#ffa500" stroke-width="2.6" stroke-linecap="round" stroke-opacity=".2" stroke-dasharray="0 1 0 122 0 999" d="M591.4 948.7h123"/><path fill="none" stroke="#ffa500" stroke-width="2.6" stroke-linecap="round" stroke-opacity=".2" stroke-dasharray="0 106.5 0 65.4 0 999" d="M516 948.7h172"/></g>
<path class="t" d="M479.5 949.5v5M506.5 949.5v5M534.5 949.5v5M561.5 949.5v5M589.5 949.5v5M616.5 949.5v5M644.5 949.5v5M671.5 949.5v5M699.5 949.5v5M726.5 949.5v5M754.5 949.5v5M782.5 949.5v5M473.5 859.5h-4.9M473.5 894.5h-4.9M473.5 930.5h-4.9"/>
<rect class="sp" x="473.5" y="846.5" width="328" height="103"/>
</g>
<g id="p60">
<path class="t" d="M80.5 1111.5v5M145.5 1111.5v5M211.5 1111.5v5M276.5 1111.5v5M342.5 1111.5v5M407.5 1111.5v5M80.5 1008.5h-4.9M80.5 1059.5h-4.9M80.5 1111.5h-4.9"/>
<rect class="sp" x="80.5" y="1008.5" width="327" height="103"/>
</g>
<g id="p61">
<path class="t" d="M473.5 1111.5v5M539.5 1111.5v5M604.5 1111.5v5M670.5 1111.5v5M735.5 1111.5v5M801.5 1111.5v5M473.5 1008.5h-4.9M473.5 1059.5h-4.9M473.5 1111.5h-4.9"/>
<rect class="sp" x="473.5" y="1008.5" width="328" height="103"/>
</g>
<g id="labels">
<text class="b" x="77 89.5 99.62 111.25 121.38 126.62 137.39 150.26 162.76 171.51 176.76 187.26 193.76 203.89 213.01 223.26 232.01 238.03 242.91 248.16 258.28 268.78 274.03 284.8 295.44 306.2 316.84 322.86 333.5 344.26 350.27 360.92 371.56 378.06 382.93 393.43 403.68" y="27">NoRP 1GHz Stokes-I on 2024-03-05[JST]</text>
<text class="a" x="65 73.75 82.62 87.25 96" y="159">21:00</text>
<text class="a" x="93 101.75 110.5 115.12 123.88" y="159">22:00</text>
<text class="a" x="121 129.75 138.5 143.12 151.88" y="159">23:00</text>
<text class="a" x="149 156.75 165.5 170.12 178.88" y="159">00:00</text>
<text class="a" x="176 183.75 192.62 197.25 206" y="159">01:00</text>
<text class="a" x="204 211.75 220.5 225.12 233.88" y="159">02:00</text>
<text class="a" x="231 238.75 247.5 252.12 260.88" y="159">03:00</text>
<text class="a" x="259 266.75 275.5 280.12 288.88" y="159">04:00</text>
<text class="a" x="286 293.75 302.5 307.12 315.88" y="159">05:00</text>
<text class="a" x="314 321.75 330.62 335.25 344" y="159">06:00</text>
<text class="a" x="341 348.75 357.5 362.12 370.88" y="159">07:00</text>
<text class="a" x="369 376.75 385.62 390.25 399" y="159">08:00</text>
<text class="a" x="44 51.88 60.62" y="60">100</text>
<text class="a" x="52 59.75" y="107">50</text>
<text class="a" transform="translate(34 123) rotate(-90)" x="0 8 11.88 20.62 28.88 33.25 38.75 47.5 55.5 65.62" y="0">Flux [SFU]</text>
<text class="b" x="551 563.5 573.62 585.25 595.38 600.62 611.39 624.26 636.76 645.51 650.76 661.26 667.76 677.89 687.01 697.26 706.01 711.03" y="27">NoRP 1GHz Stokes-V</text>
<text class="a" x="459 467.75 476.62 481.25 490" y="159">21:00</text>
<text class="a" x="486 494.75 503.5 508.12 516.88" y="159">22:00</text>
<text class="a" x="514 522.75 531.5 536.12 544.88" y="159">23:00</text>
<text class="a" x="542 549.75 558.5 563.12 571.88" y="159">00:00</text>
<text class="a" x="570 577.75 586.62 591.25 600" y="159">01:00</text>
<text class="a" x="597 604.75 613.5 618.12 626.88" y="159">02:00</text>
<text class="a" x="625 632.75 641.5 646.12 654.88" y="159">03:00</text>
<text class="a" x="652 659.75 668.5 673.12 681.88" y="159">04:00</text>
<text class="a" x="680 687.75 696.5 701.12 709.88" y="159">05:00</text>
<text class="a" x="707 714.75 723.62 728.25 737" y="159">06:00</text>
<text class="a" x="735 742.75 751.5 756.12 764.88" y="159">07:00</text>
<text class="a" x="762 769.75 778.62 783.25 792" y="159">08:00</text>
<text class="a" x="455" y="46">2</text>
<text class="a" x="455" y="95">1</text>
<text class="a" x="456" y="144">0</text>
<text class="b" x="161 173.5 183.62 195.25 205.38 210.62 221.39 234.26 246.76 255.51 260.76 271.26 277.76 287.89 297.01 307.26 316.01 322.03" y="189">NoRP 2GHz Stokes-I</text>
<text class="a" x="65 73.75 82.62 87.25 96" y="321">21:00</text>
<text class="a" x="93 101.75 110.5 115.12 123.88" y="321">22:00</text>
<text class="a" x="121 129.75 138.5 143.12 151.88" y="321">23:00</text>
<text class="a" x="149 156.75 165.5 170.12 178.88" y="321">00:00</text>
<text class="a" x="176 183.75 192.62 197.25 206" y="321">01:00</text>
<text class="a" x="204 211.75 220.5 225.12 233.88" y="321">02:00</text>
<text class="a" x="231 238.75 247.5 252.12 260.88" y="321">03:00</text>
<text class="a" x="259 266.75 275.5 280.12 288.88" y="321">04:00</text>
<text class="a" x="286 293.75 302.5 307.12 315.88" y="321">05:00</text>
<text class="a" x="314 321.75 330.62 335.25 344" y="321">06:00</text>
<text class="a" x="341 348.75 357.5 362.12 370.88" y="321">07:00</text>
<text class="a" x="369 376.75 385.62 390.25 399" y="321">08:00</text>
<text class="a" x="44 51.88 60.62" y="210">150</text>
<text class="a" x="44 51.88 60.62" y="245">100</text>
<text class="a" x="52 59.75" y="279">50</text>
<text class="a" transform="translate(34 285) rotate(-90)" x="0 8 11.88 20.62 28.88 33.25 38.75 47.5 55.5 65.62" y="0">Flux [SFU]</text>
<text class="b" x="551 563.5 573.62 585.25 595.38 600.62 611.39 624.26 636.76 645.51 650.76 661.26 667.76 677.89 687.01 697.26 706.01 711.03" y="189">NoRP 2GHz Stokes-V</text>
<text class="a" x="459 467.75 476.62 481.25 490" y="321">21:00</text>
<text class="a" x="486 494.75 503.5 508.12 516.88" y="321">22:00</text>
<text class="a" x="514 522.75 531.5 536.12 544.88" y="321">23:00</text>
<text class="a" x="542 549.75 558.5 563.12 571.88" y="321">00:00</text>
<text class="a" x="570 577.75 586.62 591.25 600" y="321">01:00</text>
<text class="a" x="597 604.75 613.5 618.12 626.88" y="321">02:00</text>
<text class="a" x="625 632.75 641.5 646.12 654.88" y="321">03:00</text>
<text class="a" x="652 659.75 668.5 673.12 681.88" y="321">04:00</text>
<text class="a" x="680 687.75 696.5 701.12 709.88" y="321">05:00</text>
<text class="a" x="707 714.75 723.62 728.25 737" y="321">06:00</text>
<text class="a" x="735 742.75 751.5 756.12 764.88" y="321">07:00</text>
<text class="a" x="762 769.75 778.62 783.25 792" y="321">08:00</text>
<text class="a" x="456" y="230">0</text>
<text class="a" x="444 454.62" y="272">−5</text>
<text class="b" x="147 159.5 169.62 181.25 191.38 196.62 207.39 212.78 223.42 234.06 246.94 259.44 268.19 273.44 283.94 290.44 300.56 309.69 319.94 328.69 334.7" y="351">NoRP 3.75GHz Stokes-I</text>
<text class="a" x="65 73.75 82.62 87.25 96" y="483">21:00</text>
<text class="a" x="93 101.75 110.5 115.12 123.88" y="483">22:00</text>
<text class="a" x="121 129.75 138.5 143.12 151.88" y="483">23:00</text>
<text class="a" x="149 156.75 165.5 170.12 178.88" y="483">00:00</text>
<text class="a" x="176 183.75 192.62 197.25 206" y="483">01:00</text>
<text class="a" x="204 211.75 220.5 225.12 233.88" y="483">02:00</text>
<text class="a" x="231 238.75 247.5 252.12 260.88" y="483">03:00</text>
<text class="a" x="259 266.75 275.5 280.12 288.88" y="483">04:00</text>
<text class="a" x="286 293.75 302.5 307.12 315.88" y="483">05:00</text>
<text class="a" x="314 321.75 330.62 335.25 344" y="483">06:00</text>
<text class="a" x="341 348.75 357.5 362.12 370.88" y="483">07:00</text>
<text class="a" x="369 376.75 385.62 390.25 399" y="483">08:00</text>
<text class="a" x="44 51.75 60.5" y="371">400</text>
<text class="a" x="43 51.75 60.5" y="421">200</text>
<text class="a" transform="translate(34 447) rotate(-90)" x="0 8 11.88 20.62 28.88 33.25 38.75 47.5 55.5 65.62" y="0">Flux [SFU]</text>
<text class="b" x="538 550.5 560.62 572.25 582.38 587.62 598.39 603.78 614.42 625.06 637.93 650.43 659.18 664.43 674.93 681.43 691.56 700.68 710.93 719.68 724.7" y="351">NoRP 3.75GHz Stokes-V</text>
<text class="a" x="459 467.75 476.62 481.25 490" y="483">21:00</text>
<text class="a" x="486 494.75 503.5 508.12 516.88" y="483">22:00</text>
<text class="a" x="514 522.75 531.5 536.12 544.88" y="483">23:00</text>
<text class="a" x="542 549.75 558.5 563.12 571.88" y="483">00:00</text>
<text class="a" x="570 577.75 586.62 591.25 600" y="483">01:00</text>
<text class="a" x="597 604.75 613.5 618.12 626.88" y="483">02:00</text>
<text class="a" x="625 632.75 641.5 646.12 654.88" y="483">03:00</text>
<text class="a" x="652 659.75 668.5 673.12 681.88" y="483">04:00</text>
<text class="a" x="680 687.75 696.5 701.12 709.88" y="483">05:00</text>
<text class="a" x="707 714.75 723.62 728.25 737" y="483">06:00</text>
<text class="a" x="735 742.75 751.5 756.12 764.88" y="483">07:00</text>
<text class="a" x="762 769.75 778.62 783.25 792" y="483">08:00</text>
<text class="a" x="446 453.75" y="379">50</text>
<text class="a" x="446 454.75" y="419">25</text>
<text class="a" x="456" y="459">0</text>
<text class="b" x="153 165.5 175.62 187.25 197.38 202.62 213.26 218.66 229.29 242.17 254.67 263.42 268.67 279.17 285.67 295.8 304.92 315.17 323.92 329.94" y="513">NoRP 9.4GHz Stokes-I</text>
<text class="a" x="65 73.75 82.62 87.25 96" y="645">21:00</text>
<text class="a" x="93 101.75 110.5 115.12 123.88" y="645">22:00</text>
<text class="a" x="121 129.75 138.5 143.12 151.88" y="645">23:00</text>
<text class="a" x="149 156.75 165.5 170.12 178.88" y="645">00:00</text>
<text class="a" x="176 183.75 192.62 197.25 206" y="645">01:00</text>
<text class="a" x="204 211.75 220.5 225.12 233.88" y="645">02:00</text>
<text class="a" x="231 238.75 247.5 252.12 260.88" y="645">03:00</text>
<text class="a" x="259 266.75 275.5 280.12 288.88" y="645">04:00</text>
<text class="a" x="286 293.75 302.5 307.12 315.88" y="645">05:00</text>
<text class="a" x="314 321.75 330.62 335.25 344" y="645">06:00</text>
<text class="a" x="341 348.75 357.5 362.12 370.88" y="645">07:00</text>
<text class="a" x="369 376.75 385.62 390.25 399" y="645">08:00</text>
<text class="a" x="43 50.75 59.5" y="555">500</text>
<text class="a" x="43 51.75 60.5" y="594">250</text>
<text class="a" transform="translate(34 610) rotate(-90)" x="0 8 11.88 20.62 28.88 33.25 38.75 47.5 55.5 65.62" y="0">Flux [SFU]</text>
<text class="b" x="543 555.5 565.62 577.25 587.38 592.62 603.26 608.65 619.29 632.17 644.67 653.42 658.67 669.17 675.67 685.79 694.92 705.17 713.92 718.93" y="513">NoRP 9.4GHz Stokes-V</text>
<text class="a" x="459 467.75 476.62 481.25 490" y="645">21:00</text>
<text class="a" x="486 494.75 503.5 508.12 516.88" y="645">22:00</text>
<text class="a" x="514 522.75 531.5 536.12 544.88" y="645">23:00</text>
<text class="a" x="542 549.75 558.5 563.12 571.88" y="645">00:00</text>
<text class="a" x="570 577.75 586.62 591.25 600" y="645">01:00</text>
<text class="a" x="597 604.75 613.5 618.12 626.88" y="645">02:00</text>
<text class="a" x="625 632.75 641.5 646.12 654.88" y="645">03:00</text>
<text class="a" x="652 659.75 668.5 673.12 681.88" y="645">04:00</text>
<text class="a" x="680 687.75 696.5 701.12 709.88" y="645">05:00</text>
<text class="a" x="707 714.75 723.62 728.25 737" y="645">06:00</text>
<text class="a" x="735 742.75 751.5 756.12 764.88" y="645">07:00</text>
<text class="a" x="762 769.75 778.62 783.25 792" y="645">08:00</text>
<text class="a" x="437 445.75 454.5" y="543">250</text>
<text class="a" x="456" y="574">0</text>
<text class="a" x="426 436.62 445.38 454.12" y="604">−250</text>
<text class="b" x="155 167.5 177.62 189.25 199.38 204.62 215.39 226.03 238.91 251.41 260.15 265.4 275.9 282.4 292.53 301.65 311.9 320.65 326.67" y="675">NoRP 17GHz Stokes-I</text>
<text class="a" x="65 73.75 82.62 87.25 96" y="808">21:00</text>
<text class="a" x="93 101.75 110.5 115.12 123.88" y="808">22:00</text>
<text class="a" x="121 129.75 138.5 143.12 151.88" y="808">23:00</text>
<text class="a" x="149 156.75 165.5 170.12 178.88" y="808">00:00</text>
<text class="a" x="176 183.75 192.62 197.25 206" y="808">01:00</text>
<text class="a" x="204 211.75 220.5 225.12 233.88" y="808">02:00</text>
<text class="a" x="231 238.75 247.5 252.12 260.88" y="808">03:00</text>
<text class="a" x="259 266.75 275.5 280.12 288.88" y="808">04:00</text>
<text class="a" x="286 293.75 302.5 307.12 315.88" y="808">05:00</text>
<text class="a" x="314 321.75 330.62 335.25 344" y="808">06:00</text>
<text class="a" x="341 348.75 357.5 362.12 370.88" y="808">07:00</text>
<text class="a" x="369 376.75 385.62 390.25 399" y="808">08:00</text>
<text class="a" x="43 50.75 59.5" y="725">500</text>
<text class="a" x="62" y="792">0</text>
<text class="a" transform="translate(34 772) rotate(-90)" x="0 8 11.88 20.62 28.88 33.25 38.75 47.5 55.5 65.62" y="0">Flux [SFU]</text>
<text class="b" x="546 558.5 568.62 580.25 590.38 595.62 606.39 617.03 629.9 642.4 651.15 656.4 666.9 673.4 683.53 692.65 702.9 711.65 716.67" y="675">NoRP 17GHz Stokes-V</text>
<text class="a" x="459 467.75 476.62 481.25 490" y="808">21:00</text>
<text class="a" x="486 494.75 503.5 508.12 516.88" y="808">22:00</text>
<text class="a" x="514 522.75 531.5 536.12 544.88" y="808">23:00</text>
<text class="a" x="542 549.75 558.5 563.12 571.88" y="808">00:00</text>
<text class="a" x="570 577.75 586.62 591.25 600" y="808">01:00</text>
<text class="a" x="597 604.75 613.5 618.12 626.88" y="808">02:00</text>
<text class="a" x="625 632.75 641.5 646.12 654.88" y="808">03:00</text>
<text class="a" x="652 659.75 668.5 673.12 681.88" y="808">04:00</text>
<text class="a" x="680 687.75 696.5 701.12 709.88" y="808">05:00</text>
<text class="a" x="707 714.75 723.62 728.25 737" y="808">06:00</text>
<text class="a" x="735 742.75 751.5 756.12 764.88" y="808">07:00</text>
<text class="a" x="762 769.75 778.62 783.25 792" y="808">08:00</text>
<text class="a" x="446 454.75" y="724">25</text>
<text class="a" x="456" y="767">0</text>
<text class="b" x="155 167.5 177.62 189.25 199.38 204.62 215.39 226.03 238.91 251.41 260.15 265.4 275.9 282.4 292.53 301.65 311.9 320.65 326.67" y="837">NoRP 35GHz Stokes-I</text>
<text class="a" x="65 73.75 82.62 87.25 96" y="970">21:00</text>
<text class="a" x="93 101.75 110.5 115.12 123.88" y="970">22:00</text>
<text class="a" x="121 129.75 138.5 143.12 151.88" y="970">23:00</text>
<text class="a" x="149 156.75 165.5 170.12 178.88" y="970">00:00</text>
<text class="a" x="176 183.75 192.62 197.25 206" y="970">01:00</text>
<text class="a" x="204 211.75 220.5 225.12 233.88" y="970">02:00</text>
<text class="a" x="231 238.75 247.5 252.12 260.88" y="970">03:00</text>
<text class="a" x="259 266.75 275.5 280.12 288.88" y="970">04:00</text>
<text class="a" x="286 293.75 302.5 307.12 315.88" y="970">05:00</text>
<text class="a" x="314 321.75 330.62 335.25 344" y="970">06:00</text>
<text class="a" x="341 348.75 357.5 362.12 370.88" y="970">07:00</text>
<text class="a" x="369 376.75 385.62 390.25 399" y="970">08:00</text>
<text class="a" x="35 43.75 52.5 61.25" y="882">2500</text>
<text class="a" x="35 43.75 52.5 61.25" y="914">2000</text>
<text class="a" x="35 42.88 51.62 60.38" y="945">1500</text>
<text class="a" transform="translate(25 934) rotate(-90)" x="0 8 11.88 20.62 28.88 33.25 38.75 47.5 55.5 65.62" y="0">Flux [SFU]</text>
<text class="b" x="546 558.5 568.62 580.25 590.38 595.62 606.39 617.03 629.9 642.4 651.15 656.4 666.9 673.4 683.53 692.65 702.9 711.65 716.67" y="837">NoRP 35GHz Stokes-V</text>
<text class="a" x="459 467.75 476.62 481.25 490" y="970">21:00</text>
<text class="a" x="486 494.75 503.5 508.12 516.88" y="970">22:00</text>
<text class="a" x="514 522.75 531.5 536.12 544.88" y="970">23:00</text>
<text class="a" x="542 549.75 558.5 563.12 571.88" y="970">00:00</text>
<text class="a" x="570 577.75 586.62 591.25 600" y="970">01:00</text>
<text class="a" x="597 604.75 613.5 618.12 626.88" y="970">02:00</text>
<text class="a" x="625 632.75 641.5 646.12 654.88" y="970">03:00</text>
<text class="a" x="652 659.75 668.5 673.12 681.88" y="970">04:00</text>
<text class="a" x="680 687.75 696.5 701.12 709.88" y="970">05:00</text>
<text class="a" x="707 714.75 723.62 728.25 737" y="970">06:00</text>
<text class="a" x="735 742.75 751.5 756.12 764.88" y="970">07:00</text>
<text class="a" x="762 769.75 778.62 783.25 792" y="970">08:00</text>
<text class="a" x="446 453.75" y="864">50</text>
<text class="a" x="456" y="900">0</text>
<text class="a" x="435 445.62 454.38" y="936">−50</text>
<text class="b" x="155 167.5 177.62 189.25 199.38 204.62 215.26 225.91 238.78 251.28 260.03 265.28 275.78 282.28 292.4 301.53 311.78 320.53 326.55" y="999">NoRP 80GHz Stokes-I</text>
<text class="a" x="70 77.75 82.12" y="1131">0.0</text>
<text class="a" x="135 142.75 147.12" y="1131">0.2</text>
<text class="a" x="201 208.75 213.12" y="1131">0.4</text>
<text class="a" x="266 273.75 278.12" y="1131">0.6</text>
<text class="a" x="332 339.75 344.12" y="1131">0.8</text>
<text class="a" x="397 404.88 409.25" y="1131">1.0</text>
<text class="a" x="48 55.88 60.25" y="1013">1.0</text>
<text class="a" x="49 56.75 61.12" y="1064">0.5</text>
<text class="a" x="49 56.75 61.12" y="1116">0.0</text>
<text class="a" transform="translate(39 1096) rotate(-90)" x="0 8 11.88 20.62 28.88 33.25 38.75 47.5 55.5 65.62" y="0">Flux [SFU]</text>
<text class="a" x="212 220.12 224 237.5 246 251.5 261.62 270.12" y="1151">Time[UT]</text>
<text class="c" x="194 214.75 231.62 240.5 261.88 278.88 289.75" y="1070">No Data</text>
<text class="b" x="546 558.5 568.62 580.25 590.38 595.62 606.26 616.9 629.78 642.28 651.03 656.28 666.78 673.28 683.4 692.53 702.78 711.53 716.54" y="999">NoRP 80GHz Stokes-V</text>
<text class="a" x="463 470.75 475.12" y="1131">0.0</text>
<text class="a" x="529 536.75 541.12" y="1131">0.2</text>
<text class="a" x="594 601.75 606.12" y="1131">0.4</text>
<text class="a" x="660 667.75 672.12" y="1131">0.6</text>
<text class="a" x="725 732.75 737.12" y="1131">0.8</text>
<text class="a" x="790 797.88 802.25" y="1131">1.0</text>
<text class="a" x="442 449.88 454.25" y="1013">1.0</text>
<text class="a" x="442 449.75 454.12" y="1064">0.5</text>
<text class="a" x="442 449.75 454.12" y="1116">0.0</text>
<text class="a" x="606 614.12 618 631.5 640 645.5 655.62 664.12" y="1151">Time[UT]</text>
<text class="c" x="588 608.75 625.62 634.5 655.88 672.88 683.75" y="1070">No Data</text>
</g>
</svg></body></html>
